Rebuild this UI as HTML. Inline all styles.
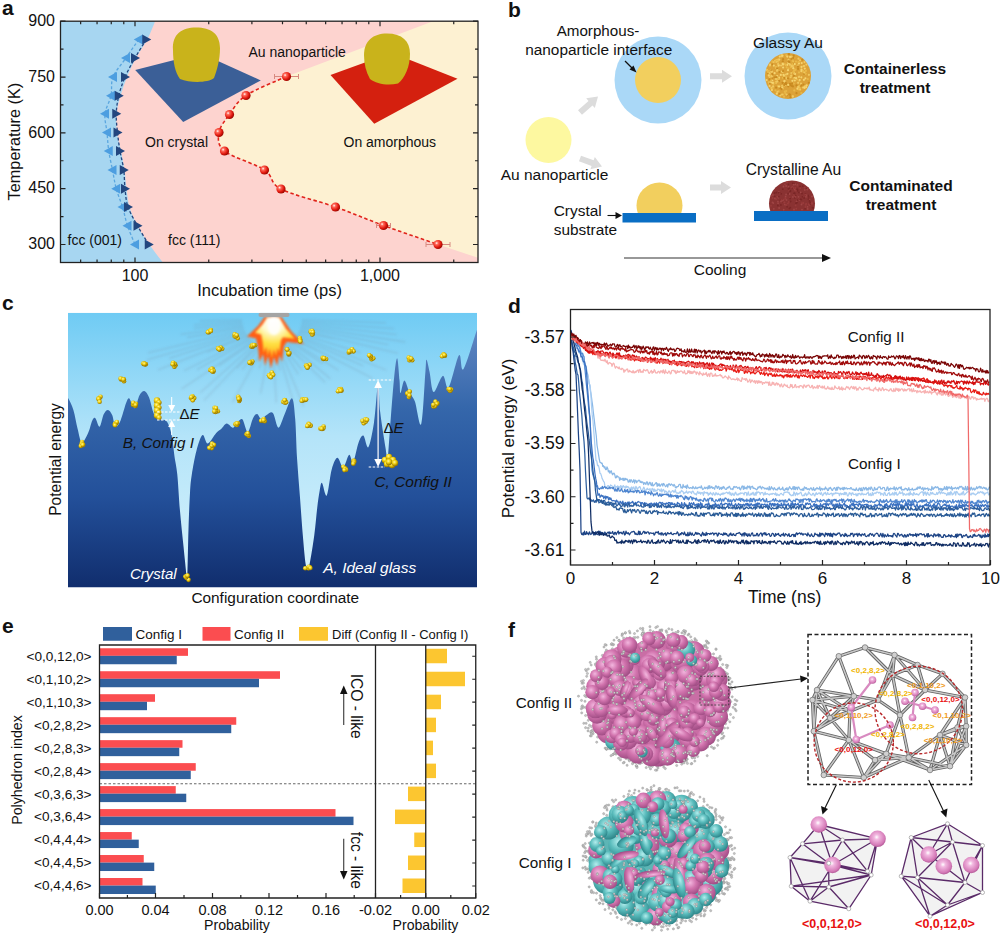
<!DOCTYPE html>
<html><head><meta charset="utf-8"><style>
html,body{margin:0;padding:0;background:#fff;width:1000px;height:935px;overflow:hidden}
svg{display:block;font-family:"Liberation Sans", sans-serif}
</style></head><body>
<svg width="1000" height="935" viewBox="0 0 1000 935">
<defs><clipPath id="clipa"><rect x="60.5" y="21.2" width="417.5" height="241.3"/></clipPath>
<radialGradient id="rdot" cx="35%" cy="35%" r="65%"><stop offset="0" stop-color="#fff"/><stop offset="0.25" stop-color="#ff6a5a"/><stop offset="0.7" stop-color="#e21a10"/><stop offset="1" stop-color="#a00800"/></radialGradient></defs>
<g clip-path="url(#clipa)">
<rect x="60.5" y="21.2" width="417.5" height="241.3" fill="#fdd3cf"/>
<path d="M55,19 L156.00,19.00 C154.67,22.17 151.33,31.50 148.00,38.00 C144.67,44.50 139.50,51.50 136.00,58.00 C132.50,64.50 129.58,70.67 127.00,77.00 C124.42,83.33 122.25,89.83 120.50,96.00 C118.75,102.17 117.08,107.83 116.50,114.00 C115.92,120.17 116.25,126.83 117.00,133.00 C117.75,139.17 119.75,144.83 121.00,151.00 C122.25,157.17 123.58,163.67 124.50,170.00 C125.42,176.33 125.67,182.83 126.50,189.00 C127.33,195.17 127.75,201.00 129.50,207.00 C131.25,213.00 133.75,218.83 137.00,225.00 C140.25,231.17 144.50,237.50 149.00,244.00 C153.50,250.50 161.50,260.67 164.00,264.00 L55,264 Z" fill="#a7d6f1"/>
<path d="M447,16 L286.50,76.50 C279.75,79.67 255.50,89.17 246.00,95.50 C236.50,101.83 234.00,108.33 229.50,114.50 C225.00,120.67 219.83,126.42 219.00,132.50 C218.17,138.58 216.92,144.75 224.50,151.00 C232.08,157.25 255.08,163.67 264.50,170.00 C273.92,176.33 269.17,182.83 281.00,189.00 C292.83,195.17 318.42,200.92 335.50,207.00 C352.58,213.08 366.42,219.25 383.50,225.50 C400.58,231.75 428.92,241.33 438.00,244.50 L480,258.5 L480,16 Z" fill="#fdf1d2"/>
<polygon points="135.2,70 200.8,53.2 260.8,80.4 183.2,122" fill="#3b5f97"/>
<path d="M173,50 C172,34 182,27.5 196,27.5 C211,27.5 220,34 220,48 C220,60 217,70 214,78 C208,83 190,83 180,79 C175,72 173,62 173,50 Z" fill="#c9b31b"/>
<polygon points="330.5,75 391.75,52.75 457.5,78.75 374.25,123.75" fill="#d4200f"/>
<path d="M364,55 C364,41 373,33.5 387,33.5 C402,33.5 410,41 410,54 C410,66 405,78 398,83.5 C388,86 376,84 370,79 C366,72 364,64 364,55 Z" fill="#c9b31b"/>
<path d="M286.50,76.50 C279.75,79.67 255.50,89.17 246.00,95.50 C236.50,101.83 234.00,108.33 229.50,114.50 C225.00,120.67 219.83,126.42 219.00,132.50 C218.17,138.58 216.92,144.75 224.50,151.00 C232.08,157.25 255.08,163.67 264.50,170.00 C273.92,176.33 269.17,182.83 281.00,189.00 C292.83,195.17 318.42,200.92 335.50,207.00 C352.58,213.08 366.42,219.25 383.50,225.50 C400.58,231.75 428.92,241.33 438.00,244.50" fill="none" stroke="#e0231a" stroke-width="1.6" stroke-dasharray="3.5,2.5"/>
<path d="M138.75,39.50 C136.62,42.58 130.29,51.75 126.00,58.00 C121.71,64.25 115.50,70.71 113.00,77.00 C110.50,83.29 112.33,89.62 111.00,95.75 C109.67,101.88 105.67,107.62 105.00,113.75 C104.33,119.88 106.38,126.29 107.00,132.50 C107.62,138.71 107.83,144.75 108.75,151.00 C109.67,157.25 111.25,163.71 112.50,170.00 C113.75,176.29 114.58,182.58 116.25,188.75 C117.92,194.92 120.62,200.83 122.50,207.00 C124.38,213.17 125.42,219.50 127.50,225.75 C129.58,232.00 133.75,241.38 135.00,244.50" fill="none" stroke="#5aa6df" stroke-width="1.3" stroke-dasharray="3,2"/>
<path d="M146.25,39.50 C144.38,42.58 138.54,51.75 135.00,58.00 C131.46,64.25 127.71,70.71 125.00,77.00 C122.29,83.29 120.21,89.62 118.75,95.75 C117.29,101.88 116.46,107.62 116.25,113.75 C116.04,119.88 116.88,126.29 117.50,132.50 C118.12,138.71 118.96,144.75 120.00,151.00 C121.04,157.25 122.92,163.71 123.75,170.00 C124.58,176.29 124.29,182.58 125.00,188.75 C125.71,194.92 125.92,200.83 128.00,207.00 C130.08,213.17 134.04,219.50 137.50,225.75 C140.96,232.00 146.88,241.38 148.75,244.50" fill="none" stroke="#24467e" stroke-width="1.3" stroke-dasharray="3,2"/>
<polygon points="133.75,39.50 142.75,34.50 142.75,44.50" fill="#4d9ee0"/>
<polygon points="121.00,58.00 130.00,53.00 130.00,63.00" fill="#4d9ee0"/>
<polygon points="108.00,77.00 117.00,72.00 117.00,82.00" fill="#4d9ee0"/>
<polygon points="106.00,95.75 115.00,90.75 115.00,100.75" fill="#4d9ee0"/>
<polygon points="100.00,113.75 109.00,108.75 109.00,118.75" fill="#4d9ee0"/>
<polygon points="102.00,132.50 111.00,127.50 111.00,137.50" fill="#4d9ee0"/>
<polygon points="103.75,151.00 112.75,146.00 112.75,156.00" fill="#4d9ee0"/>
<polygon points="107.50,170.00 116.50,165.00 116.50,175.00" fill="#4d9ee0"/>
<polygon points="111.25,188.75 120.25,183.75 120.25,193.75" fill="#4d9ee0"/>
<polygon points="117.50,207.00 126.50,202.00 126.50,212.00" fill="#4d9ee0"/>
<polygon points="122.50,225.75 131.50,220.75 131.50,230.75" fill="#4d9ee0"/>
<polygon points="130.00,244.50 139.00,239.50 139.00,249.50" fill="#4d9ee0"/>
<polygon points="151.25,39.50 142.25,34.50 142.25,44.50" fill="#22467f"/>
<polygon points="140.00,58.00 131.00,53.00 131.00,63.00" fill="#22467f"/>
<polygon points="130.00,77.00 121.00,72.00 121.00,82.00" fill="#22467f"/>
<polygon points="123.75,95.75 114.75,90.75 114.75,100.75" fill="#22467f"/>
<polygon points="121.25,113.75 112.25,108.75 112.25,118.75" fill="#22467f"/>
<polygon points="122.50,132.50 113.50,127.50 113.50,137.50" fill="#22467f"/>
<polygon points="125.00,151.00 116.00,146.00 116.00,156.00" fill="#22467f"/>
<polygon points="128.75,170.00 119.75,165.00 119.75,175.00" fill="#22467f"/>
<polygon points="130.00,188.75 121.00,183.75 121.00,193.75" fill="#22467f"/>
<polygon points="133.00,207.00 124.00,202.00 124.00,212.00" fill="#22467f"/>
<polygon points="142.50,225.75 133.50,220.75 133.50,230.75" fill="#22467f"/>
<polygon points="153.75,244.50 144.75,239.50 144.75,249.50" fill="#22467f"/>
<path d="M274.5,76.5 H298.5 M274.5,74.0 V79.0 M298.5,74.0 V79.0" stroke="#d88a80" stroke-width="1" fill="none"/>
<path d="M376.5,225.5 H390.5 M376.5,223.0 V228.0 M390.5,223.0 V228.0" stroke="#d88a80" stroke-width="1" fill="none"/>
<path d="M426.0,244.5 H450.0 M426.0,242.0 V247.0 M450.0,242.0 V247.0" stroke="#d88a80" stroke-width="1" fill="none"/>
<circle cx="286.50" cy="76.50" r="4.6" fill="url(#rdot)"/>
<circle cx="246.00" cy="95.50" r="4.6" fill="url(#rdot)"/>
<circle cx="229.50" cy="114.50" r="4.6" fill="url(#rdot)"/>
<circle cx="219.00" cy="132.50" r="4.6" fill="url(#rdot)"/>
<circle cx="224.50" cy="151.00" r="4.6" fill="url(#rdot)"/>
<circle cx="264.50" cy="170.00" r="4.6" fill="url(#rdot)"/>
<circle cx="281.00" cy="189.00" r="4.6" fill="url(#rdot)"/>
<circle cx="335.50" cy="207.00" r="4.6" fill="url(#rdot)"/>
<circle cx="383.50" cy="225.50" r="4.6" fill="url(#rdot)"/>
<circle cx="438.00" cy="244.50" r="4.6" fill="url(#rdot)"/>
</g>
<rect x="60.5" y="21.2" width="417.5" height="241.3" fill="none" stroke="#222" stroke-width="1.3"/>
<text x="55.00" y="26.00" font-size="16.00" text-anchor="end" font-weight="normal" font-style="normal" fill="#111" >900</text>
<text x="55.00" y="81.83" font-size="16.00" text-anchor="end" font-weight="normal" font-style="normal" fill="#111" >750</text>
<text x="55.00" y="137.65" font-size="16.00" text-anchor="end" font-weight="normal" font-style="normal" fill="#111" >600</text>
<text x="55.00" y="193.47" font-size="16.00" text-anchor="end" font-weight="normal" font-style="normal" fill="#111" >450</text>
<text x="55.00" y="249.30" font-size="16.00" text-anchor="end" font-weight="normal" font-style="normal" fill="#111" >300</text>
<path d="M60.5,21.20h5 M478.0,21.20h-5 M60.5,77.03h5 M478.0,77.03h-5 M60.5,132.85h5 M478.0,132.85h-5 M60.5,188.67h5 M478.0,188.67h-5 M60.5,244.50h5 M478.0,244.50h-5 M60.5,49.11h3 M478.0,49.11h-3 M60.5,104.94h3 M478.0,104.94h-3 M60.5,160.76h3 M478.0,160.76h-3 M60.5,216.59h3 M478.0,216.59h-3 M135.00,262.5v-5 M135.00,21.2v5 M380.00,262.5v-5 M380.00,21.2v5 M80.65,262.5v-3 M80.65,21.2v3 M97.05,262.5v-3 M97.05,21.2v3 M111.26,262.5v-3 M111.26,21.2v3 M123.79,262.5v-3 M123.79,21.2v3 M208.75,262.5v-3 M208.75,21.2v3 M251.89,262.5v-3 M251.89,21.2v3 M282.50,262.5v-3 M282.50,21.2v3 M306.25,262.5v-3 M306.25,21.2v3 M325.65,262.5v-3 M325.65,21.2v3 M342.05,262.5v-3 M342.05,21.2v3 M356.26,262.5v-3 M356.26,21.2v3 M368.79,262.5v-3 M368.79,21.2v3 M453.75,262.5v-3 M453.75,21.2v3" stroke="#222" stroke-width="1.2" fill="none"/>
<text x="135.00" y="280.50" font-size="16.00" text-anchor="middle" font-weight="normal" font-style="normal" fill="#111" >100</text>
<text x="380.00" y="280.50" font-size="16.00" text-anchor="middle" font-weight="normal" font-style="normal" fill="#111" >1,000</text>
<text x="269.60" y="295.60" font-size="16.50" text-anchor="middle" font-weight="normal" font-style="normal" fill="#111" >Incubation time (ps)</text>
<text x="0.00" y="0.00" font-size="16.30" text-anchor="middle" font-weight="normal" font-style="normal" fill="#111" transform="translate(19.8,141.6) rotate(-90)">Temperature (K)</text>
<text x="2.00" y="14.50" font-size="21.00" text-anchor="start" font-weight="bold" font-style="normal" fill="#111" >a</text>
<text x="145.00" y="147.00" font-size="14.00" text-anchor="start" font-weight="normal" font-style="normal" fill="#111" >On crystal</text>
<text x="248.50" y="56.50" font-size="14.00" text-anchor="start" font-weight="normal" font-style="normal" fill="#111" >Au nanoparticle</text>
<text x="343.50" y="147.00" font-size="14.00" text-anchor="start" font-weight="normal" font-style="normal" fill="#111" >On amorphous</text>
<text x="67.50" y="245.00" font-size="14.00" text-anchor="start" font-weight="normal" font-style="normal" fill="#111" >fcc (001)</text>
<text x="168.00" y="245.00" font-size="14.00" text-anchor="start" font-weight="normal" font-style="normal" fill="#111" >fcc (111)</text>
<defs><pattern id="gold" width="4" height="4" patternUnits="userSpaceOnUse"><rect width="4" height="4" fill="#e4ae3a"/><circle cx="1" cy="1" r="1" fill="#f3cf6a"/><circle cx="3" cy="3" r="0.8" fill="#c98f20"/></pattern>
<pattern id="maroon" width="3" height="3" patternUnits="userSpaceOnUse"><rect width="3" height="3" fill="#8d3434"/><circle cx="1" cy="1" r="0.7" fill="#a04848"/></pattern></defs>
<text x="508.00" y="16.75" font-size="21.00" text-anchor="start" font-weight="bold" font-style="normal" fill="#111" >b</text>
<circle cx="548.5" cy="140" r="23" fill="#fdf8a0"/>
<text x="554.50" y="180.00" font-size="15.50" text-anchor="middle" font-weight="normal" font-style="normal" fill="#111" >Au nanoparticle</text>
<polygon points="581.99,114.74 592.52,105.39 594.84,108.00 598.00,96.50 586.21,98.29 588.53,100.90 578.01,110.26" fill="#dcdcdc"/>
<polygon points="578.97,161.32 591.58,165.90 590.38,169.19 602.00,166.50 594.82,156.97 593.63,160.26 581.03,155.68" fill="#dcdcdc"/>
<polygon points="710.00,79.25 722.00,79.25 722.00,82.75 732.00,76.25 722.00,69.75 722.00,73.25 710.00,73.25" fill="#dcdcdc"/>
<polygon points="710.00,190.50 721.00,190.50 721.00,194.00 731.00,187.50 721.00,181.00 721.00,184.50 710.00,184.50" fill="#dcdcdc"/>
<circle cx="658" cy="80" r="43.5" fill="#aad8f7"/>
<circle cx="658" cy="80" r="23" fill="#f2cf5e"/>
<circle cx="788" cy="76" r="43.5" fill="#aad8f7"/>
<circle cx="788" cy="76" r="23" fill="#dca238"/>
<circle cx="772.3" cy="80.9" r="1.1" fill="#f5d470"/><circle cx="768.6" cy="82.1" r="1.1" fill="#e9b848"/><circle cx="794.3" cy="90.4" r="1.1" fill="#e9b848"/><circle cx="798.1" cy="82.8" r="1.1" fill="#f0c860"/><circle cx="767.9" cy="71.0" r="1.1" fill="#f0c860"/><circle cx="776.6" cy="68.2" r="1.1" fill="#f5d470"/><circle cx="778.2" cy="61.8" r="1.1" fill="#e9b848"/><circle cx="773.6" cy="62.0" r="1.1" fill="#f0c860"/><circle cx="796.9" cy="79.5" r="1.1" fill="#e9b848"/><circle cx="772.3" cy="64.6" r="1.1" fill="#c98a20"/><circle cx="769.2" cy="83.4" r="1.1" fill="#e9b848"/><circle cx="778.1" cy="64.0" r="1.1" fill="#f0c860"/><circle cx="776.8" cy="79.1" r="1.1" fill="#f0c860"/><circle cx="784.8" cy="64.1" r="1.1" fill="#e9b848"/><circle cx="784.2" cy="75.7" r="1.1" fill="#f0c860"/><circle cx="771.6" cy="87.9" r="1.1" fill="#f5d470"/><circle cx="790.6" cy="77.2" r="1.1" fill="#f0c860"/><circle cx="792.8" cy="96.6" r="1.1" fill="#f0c860"/><circle cx="766.6" cy="80.1" r="1.1" fill="#f5d470"/><circle cx="773.5" cy="84.0" r="1.1" fill="#e9b848"/><circle cx="790.0" cy="64.8" r="1.1" fill="#f0c860"/><circle cx="787.0" cy="78.5" r="1.1" fill="#f5d470"/><circle cx="788.4" cy="68.5" r="1.1" fill="#e9b848"/><circle cx="787.4" cy="73.8" r="1.1" fill="#f5d470"/><circle cx="790.7" cy="67.1" r="1.1" fill="#e9b848"/><circle cx="778.9" cy="79.1" r="1.1" fill="#e9b848"/><circle cx="776.1" cy="82.6" r="1.1" fill="#f5d470"/><circle cx="779.1" cy="80.8" r="1.1" fill="#c98a20"/><circle cx="802.3" cy="59.6" r="1.1" fill="#c98a20"/><circle cx="791.1" cy="76.0" r="1.1" fill="#e9b848"/><circle cx="772.0" cy="88.5" r="1.1" fill="#f0c860"/><circle cx="796.1" cy="78.2" r="1.1" fill="#f5d470"/><circle cx="787.0" cy="95.3" r="1.1" fill="#c98a20"/><circle cx="794.6" cy="64.0" r="1.1" fill="#f0c860"/><circle cx="802.2" cy="85.0" r="1.1" fill="#e9b848"/><circle cx="801.3" cy="77.3" r="1.1" fill="#f5d470"/><circle cx="799.8" cy="88.1" r="1.1" fill="#e9b848"/><circle cx="794.3" cy="69.0" r="1.1" fill="#e9b848"/><circle cx="784.1" cy="85.8" r="1.1" fill="#e9b848"/><circle cx="786.7" cy="67.3" r="1.1" fill="#e9b848"/><circle cx="782.7" cy="63.4" r="1.1" fill="#f5d470"/><circle cx="776.6" cy="67.4" r="1.1" fill="#f0c860"/><circle cx="800.2" cy="86.0" r="1.1" fill="#c98a20"/><circle cx="789.3" cy="94.4" r="1.1" fill="#c98a20"/><circle cx="769.6" cy="86.0" r="1.1" fill="#f5d470"/><circle cx="785.5" cy="84.9" r="1.1" fill="#f0c860"/><circle cx="798.7" cy="86.9" r="1.1" fill="#f0c860"/><circle cx="784.0" cy="96.7" r="1.1" fill="#e9b848"/><circle cx="788.0" cy="70.2" r="1.1" fill="#f5d470"/><circle cx="782.9" cy="77.8" r="1.1" fill="#e9b848"/><circle cx="784.8" cy="91.7" r="1.1" fill="#e9b848"/><circle cx="794.8" cy="80.5" r="1.1" fill="#f5d470"/><circle cx="805.7" cy="73.8" r="1.1" fill="#e9b848"/><circle cx="770.1" cy="64.7" r="1.1" fill="#f5d470"/><circle cx="803.6" cy="66.2" r="1.1" fill="#f0c860"/><circle cx="805.4" cy="78.3" r="1.1" fill="#f5d470"/><circle cx="799.2" cy="81.0" r="1.1" fill="#e9b848"/><circle cx="794.0" cy="76.0" r="1.1" fill="#c98a20"/><circle cx="786.3" cy="55.2" r="1.1" fill="#e9b848"/><circle cx="793.7" cy="55.7" r="1.1" fill="#c98a20"/><circle cx="801.0" cy="83.7" r="1.1" fill="#f0c860"/><circle cx="797.8" cy="65.7" r="1.1" fill="#f0c860"/><circle cx="798.9" cy="63.4" r="1.1" fill="#f5d470"/><circle cx="786.2" cy="77.7" r="1.1" fill="#f0c860"/><circle cx="803.4" cy="84.5" r="1.1" fill="#c98a20"/><circle cx="801.7" cy="63.1" r="1.1" fill="#f5d470"/><circle cx="804.8" cy="68.6" r="1.1" fill="#f5d470"/><circle cx="769.2" cy="83.4" r="1.1" fill="#f0c860"/><circle cx="772.3" cy="74.2" r="1.1" fill="#c98a20"/><circle cx="775.7" cy="66.9" r="1.1" fill="#e9b848"/><circle cx="795.1" cy="74.0" r="1.1" fill="#f5d470"/><circle cx="787.9" cy="78.3" r="1.1" fill="#c98a20"/><circle cx="798.7" cy="89.5" r="1.1" fill="#e9b848"/><circle cx="788.3" cy="63.1" r="1.1" fill="#f5d470"/><circle cx="777.2" cy="76.1" r="1.1" fill="#f5d470"/><circle cx="783.1" cy="67.5" r="1.1" fill="#f5d470"/><circle cx="794.3" cy="58.0" r="1.1" fill="#e9b848"/><circle cx="798.0" cy="66.7" r="1.1" fill="#c98a20"/><circle cx="790.0" cy="83.8" r="1.1" fill="#c98a20"/><circle cx="798.5" cy="58.7" r="1.1" fill="#f0c860"/><circle cx="799.0" cy="72.4" r="1.1" fill="#e9b848"/><circle cx="799.5" cy="85.8" r="1.1" fill="#e9b848"/><circle cx="794.6" cy="64.1" r="1.1" fill="#f5d470"/><circle cx="779.3" cy="59.6" r="1.1" fill="#f5d470"/><circle cx="779.4" cy="94.1" r="1.1" fill="#c98a20"/><circle cx="791.1" cy="72.8" r="1.1" fill="#c98a20"/><circle cx="777.0" cy="70.8" r="1.1" fill="#f0c860"/><circle cx="779.1" cy="65.2" r="1.1" fill="#e9b848"/><circle cx="807.8" cy="79.1" r="1.1" fill="#e9b848"/><circle cx="791.6" cy="56.7" r="1.1" fill="#f0c860"/><circle cx="771.5" cy="81.8" r="1.1" fill="#c98a20"/><circle cx="805.6" cy="71.3" r="1.1" fill="#e9b848"/><circle cx="793.0" cy="66.0" r="1.1" fill="#f0c860"/><circle cx="788.5" cy="59.9" r="1.1" fill="#f0c860"/><circle cx="792.9" cy="86.4" r="1.1" fill="#c98a20"/><circle cx="767.3" cy="70.7" r="1.1" fill="#e9b848"/><circle cx="772.6" cy="88.1" r="1.1" fill="#e9b848"/><circle cx="806.1" cy="87.1" r="1.1" fill="#f5d470"/><circle cx="798.1" cy="86.8" r="1.1" fill="#f0c860"/><circle cx="776.1" cy="87.6" r="1.1" fill="#c98a20"/><circle cx="770.7" cy="80.0" r="1.1" fill="#e9b848"/><circle cx="804.6" cy="87.9" r="1.1" fill="#f0c860"/><circle cx="792.8" cy="96.3" r="1.1" fill="#f0c860"/><circle cx="804.0" cy="73.7" r="1.1" fill="#c98a20"/><circle cx="786.6" cy="94.6" r="1.1" fill="#f0c860"/><circle cx="784.3" cy="81.2" r="1.1" fill="#f5d470"/><circle cx="780.2" cy="88.0" r="1.1" fill="#c98a20"/><circle cx="784.3" cy="76.3" r="1.1" fill="#f0c860"/><circle cx="784.3" cy="77.8" r="1.1" fill="#c98a20"/><circle cx="779.8" cy="56.6" r="1.1" fill="#f5d470"/><circle cx="797.4" cy="88.7" r="1.1" fill="#f5d470"/><circle cx="802.6" cy="70.8" r="1.1" fill="#f0c860"/><circle cx="788.7" cy="61.4" r="1.1" fill="#c98a20"/><circle cx="796.0" cy="61.6" r="1.1" fill="#e9b848"/><circle cx="768.0" cy="73.1" r="1.1" fill="#c98a20"/><circle cx="782.9" cy="88.6" r="1.1" fill="#e9b848"/><circle cx="785.2" cy="83.8" r="1.1" fill="#c98a20"/><circle cx="779.2" cy="71.6" r="1.1" fill="#f0c860"/><circle cx="770.9" cy="75.7" r="1.1" fill="#f0c860"/><circle cx="783.5" cy="74.9" r="1.1" fill="#f5d470"/><circle cx="766.9" cy="70.0" r="1.1" fill="#f0c860"/><circle cx="769.7" cy="77.0" r="1.1" fill="#f0c860"/><circle cx="801.5" cy="69.7" r="1.1" fill="#f5d470"/><circle cx="786.2" cy="91.0" r="1.1" fill="#e9b848"/><circle cx="776.8" cy="93.7" r="1.1" fill="#f5d470"/><circle cx="780.8" cy="74.9" r="1.1" fill="#f5d470"/><circle cx="772.4" cy="61.7" r="1.1" fill="#e9b848"/><circle cx="781.6" cy="55.2" r="1.1" fill="#f0c860"/><circle cx="791.6" cy="85.8" r="1.1" fill="#c98a20"/><circle cx="782.3" cy="87.8" r="1.1" fill="#f5d470"/><circle cx="802.9" cy="87.5" r="1.1" fill="#f0c860"/><circle cx="798.4" cy="62.1" r="1.1" fill="#e9b848"/><circle cx="781.8" cy="56.3" r="1.1" fill="#f0c860"/><circle cx="778.0" cy="86.0" r="1.1" fill="#e9b848"/><circle cx="768.1" cy="71.1" r="1.1" fill="#e9b848"/><circle cx="768.1" cy="72.2" r="1.1" fill="#e9b848"/><circle cx="790.1" cy="94.8" r="1.1" fill="#c98a20"/><circle cx="798.1" cy="68.9" r="1.1" fill="#c98a20"/><circle cx="795.5" cy="69.8" r="1.1" fill="#e9b848"/><circle cx="794.1" cy="70.8" r="1.1" fill="#e9b848"/><circle cx="792.4" cy="80.8" r="1.1" fill="#f5d470"/><circle cx="804.5" cy="87.5" r="1.1" fill="#f5d470"/><circle cx="770.2" cy="71.0" r="1.1" fill="#e9b848"/><circle cx="773.1" cy="86.4" r="1.1" fill="#f0c860"/><circle cx="801.7" cy="85.4" r="1.1" fill="#c98a20"/><circle cx="806.4" cy="64.6" r="1.1" fill="#f0c860"/><circle cx="783.1" cy="59.2" r="1.1" fill="#c98a20"/><circle cx="769.8" cy="75.7" r="1.1" fill="#e9b848"/><circle cx="793.0" cy="61.6" r="1.1" fill="#f0c860"/><circle cx="803.9" cy="79.8" r="1.1" fill="#f5d470"/><circle cx="793.7" cy="83.5" r="1.1" fill="#e9b848"/><circle cx="792.1" cy="83.7" r="1.1" fill="#c98a20"/><circle cx="794.1" cy="73.0" r="1.1" fill="#f0c860"/><circle cx="800.1" cy="89.6" r="1.1" fill="#f0c860"/><circle cx="789.2" cy="63.5" r="1.1" fill="#f5d470"/><circle cx="776.3" cy="81.8" r="1.1" fill="#e9b848"/><circle cx="786.0" cy="74.5" r="1.1" fill="#f0c860"/><circle cx="793.2" cy="68.2" r="1.1" fill="#f5d470"/><circle cx="779.5" cy="86.3" r="1.1" fill="#e9b848"/><circle cx="782.6" cy="71.9" r="1.1" fill="#f0c860"/><circle cx="785.1" cy="81.7" r="1.1" fill="#f5d470"/><circle cx="779.3" cy="71.9" r="1.1" fill="#c98a20"/><circle cx="791.8" cy="65.5" r="1.1" fill="#f0c860"/><circle cx="787.3" cy="56.6" r="1.1" fill="#f5d470"/><circle cx="796.5" cy="85.4" r="1.1" fill="#c98a20"/><circle cx="790.1" cy="56.9" r="1.1" fill="#f5d470"/><circle cx="790.5" cy="85.1" r="1.1" fill="#c98a20"/><circle cx="785.8" cy="82.6" r="1.1" fill="#c98a20"/><circle cx="808.9" cy="74.8" r="1.1" fill="#f0c860"/><circle cx="790.4" cy="97.2" r="1.1" fill="#c98a20"/><circle cx="778.6" cy="91.2" r="1.1" fill="#e9b848"/><circle cx="774.6" cy="73.2" r="1.1" fill="#f5d470"/><circle cx="776.5" cy="61.6" r="1.1" fill="#f5d470"/><circle cx="791.3" cy="75.6" r="1.1" fill="#f0c860"/><circle cx="787.2" cy="64.9" r="1.1" fill="#f5d470"/><circle cx="768.8" cy="75.4" r="1.1" fill="#f5d470"/><circle cx="799.2" cy="76.8" r="1.1" fill="#c98a20"/><circle cx="801.5" cy="66.9" r="1.1" fill="#f5d470"/><circle cx="804.2" cy="72.6" r="1.1" fill="#f0c860"/><circle cx="775.2" cy="60.9" r="1.1" fill="#f0c860"/><circle cx="770.9" cy="70.5" r="1.1" fill="#f0c860"/><circle cx="771.9" cy="90.0" r="1.1" fill="#f5d470"/><circle cx="779.1" cy="77.6" r="1.1" fill="#f5d470"/><circle cx="771.6" cy="71.6" r="1.1" fill="#f5d470"/><circle cx="801.4" cy="71.2" r="1.1" fill="#f5d470"/><circle cx="777.1" cy="68.3" r="1.1" fill="#c98a20"/><circle cx="776.6" cy="77.2" r="1.1" fill="#c98a20"/><circle cx="778.2" cy="59.7" r="1.1" fill="#f0c860"/><circle cx="798.8" cy="77.0" r="1.1" fill="#f0c860"/><circle cx="778.6" cy="65.6" r="1.1" fill="#f5d470"/><circle cx="799.7" cy="80.0" r="1.1" fill="#f5d470"/><circle cx="808.8" cy="82.8" r="1.1" fill="#c98a20"/><circle cx="806.7" cy="85.3" r="1.1" fill="#f5d470"/><circle cx="785.9" cy="65.2" r="1.1" fill="#e9b848"/><circle cx="794.6" cy="77.9" r="1.1" fill="#f5d470"/><circle cx="801.3" cy="93.0" r="1.1" fill="#e9b848"/><circle cx="782.1" cy="71.5" r="1.1" fill="#f5d470"/><circle cx="778.5" cy="78.7" r="1.1" fill="#f0c860"/><circle cx="782.6" cy="82.8" r="1.1" fill="#c98a20"/><circle cx="771.2" cy="82.3" r="1.1" fill="#f5d470"/><circle cx="773.8" cy="65.6" r="1.1" fill="#f5d470"/><circle cx="775.5" cy="90.3" r="1.1" fill="#e9b848"/><circle cx="806.0" cy="70.5" r="1.1" fill="#e9b848"/><circle cx="772.5" cy="77.8" r="1.1" fill="#c98a20"/><circle cx="791.7" cy="59.0" r="1.1" fill="#c98a20"/><circle cx="785.3" cy="93.0" r="1.1" fill="#e9b848"/><circle cx="775.2" cy="61.8" r="1.1" fill="#e9b848"/><circle cx="802.9" cy="71.4" r="1.1" fill="#e9b848"/><circle cx="791.2" cy="73.0" r="1.1" fill="#f0c860"/><circle cx="799.2" cy="76.7" r="1.1" fill="#f0c860"/><circle cx="783.0" cy="71.1" r="1.1" fill="#c98a20"/><circle cx="793.8" cy="78.8" r="1.1" fill="#e9b848"/><circle cx="771.4" cy="70.5" r="1.1" fill="#c98a20"/><circle cx="775.0" cy="77.3" r="1.1" fill="#c98a20"/><circle cx="777.5" cy="91.8" r="1.1" fill="#f0c860"/><circle cx="792.7" cy="62.1" r="1.1" fill="#e9b848"/><circle cx="770.1" cy="82.5" r="1.1" fill="#f5d470"/><circle cx="792.9" cy="63.6" r="1.1" fill="#c98a20"/><circle cx="783.1" cy="94.5" r="1.1" fill="#e9b848"/><circle cx="776.0" cy="81.9" r="1.1" fill="#f0c860"/><circle cx="775.8" cy="79.0" r="1.1" fill="#f0c860"/><circle cx="772.9" cy="82.9" r="1.1" fill="#f5d470"/><circle cx="782.1" cy="94.5" r="1.1" fill="#f0c860"/><circle cx="780.3" cy="95.5" r="1.1" fill="#f0c860"/><circle cx="782.8" cy="61.4" r="1.1" fill="#c98a20"/><circle cx="786.3" cy="84.1" r="1.1" fill="#c98a20"/><circle cx="781.1" cy="65.5" r="1.1" fill="#f0c860"/><circle cx="781.6" cy="89.1" r="1.1" fill="#c98a20"/><circle cx="769.8" cy="83.5" r="1.1" fill="#c98a20"/><circle cx="778.0" cy="78.7" r="1.1" fill="#e9b848"/><circle cx="805.3" cy="86.1" r="1.1" fill="#f0c860"/><circle cx="779.0" cy="86.5" r="1.1" fill="#f5d470"/><circle cx="793.4" cy="57.9" r="1.1" fill="#c98a20"/><circle cx="792.7" cy="60.5" r="1.1" fill="#e9b848"/><circle cx="796.5" cy="93.2" r="1.1" fill="#c98a20"/><circle cx="791.9" cy="66.4" r="1.1" fill="#f0c860"/><circle cx="772.1" cy="71.5" r="1.1" fill="#f0c860"/><circle cx="776.5" cy="60.0" r="1.1" fill="#f0c860"/><circle cx="777.4" cy="70.0" r="1.1" fill="#f0c860"/><circle cx="782.2" cy="85.9" r="1.1" fill="#f0c860"/><circle cx="793.2" cy="72.2" r="1.1" fill="#e9b848"/><circle cx="804.3" cy="87.4" r="1.1" fill="#f5d470"/><circle cx="788.3" cy="86.3" r="1.1" fill="#c98a20"/><circle cx="789.3" cy="62.2" r="1.1" fill="#c98a20"/><circle cx="792.5" cy="64.1" r="1.1" fill="#e9b848"/><circle cx="771.9" cy="76.6" r="1.1" fill="#f0c860"/><circle cx="782.5" cy="55.7" r="1.1" fill="#f5d470"/><circle cx="789.0" cy="54.2" r="1.1" fill="#c98a20"/><circle cx="800.0" cy="60.3" r="1.1" fill="#f0c860"/><circle cx="804.5" cy="62.1" r="1.1" fill="#f0c860"/><circle cx="769.7" cy="73.2" r="1.1" fill="#f0c860"/><circle cx="775.4" cy="82.7" r="1.1" fill="#e9b848"/><circle cx="788.2" cy="84.9" r="1.1" fill="#f5d470"/><circle cx="783.0" cy="64.6" r="1.1" fill="#f5d470"/><circle cx="777.4" cy="81.4" r="1.1" fill="#f0c860"/><circle cx="769.5" cy="79.4" r="1.1" fill="#c98a20"/><circle cx="776.4" cy="60.5" r="1.1" fill="#e9b848"/><circle cx="804.3" cy="66.0" r="1.1" fill="#f0c860"/><circle cx="769.9" cy="65.4" r="1.1" fill="#f0c860"/><circle cx="784.3" cy="85.0" r="1.1" fill="#c98a20"/>
<text x="598.00" y="36.25" font-size="15.20" text-anchor="middle" font-weight="normal" font-style="normal" fill="#111" >Amorphous-</text>
<text x="598.75" y="55.00" font-size="15.40" text-anchor="middle" font-weight="normal" font-style="normal" fill="#111" >nanoparticle interface</text>
<path d="M625,61 L633,69" stroke="#111" stroke-width="1.2"/><polygon points="636.5,72.5 629.5,69.5 633.5,65.5" fill="#111"/>
<text x="788.00" y="47.50" font-size="15.50" text-anchor="middle" font-weight="normal" font-style="normal" fill="#111" >Glassy Au</text>
<text x="895.00" y="74.25" font-size="15.50" text-anchor="middle" font-weight="bold" font-style="normal" fill="#111" >Containerless</text>
<text x="895.00" y="93.00" font-size="15.50" text-anchor="middle" font-weight="bold" font-style="normal" fill="#111" >treatment</text>
<clipPath id="dome1"><rect x="600" y="150" width="120" height="63"/></clipPath>
<circle cx="659.5" cy="205.5" r="23" fill="#f2cf5e" clip-path="url(#dome1)"/>
<rect x="622.5" y="213" width="73.5" height="9.5" fill="#0a6ec4"/>
<clipPath id="dome2"><rect x="740" y="150" width="120" height="61"/></clipPath>
<circle cx="792" cy="203.5" r="23" fill="#8a3232" clip-path="url(#dome2)"/>
<circle cx="788.5" cy="186.9" r="0.9" fill="#a04646"/><circle cx="808.1" cy="196.8" r="0.9" fill="#9a3c3c"/><circle cx="780.9" cy="204.9" r="0.9" fill="#7a2626"/><circle cx="803.0" cy="196.9" r="0.9" fill="#9a3c3c"/><circle cx="792.9" cy="196.9" r="0.9" fill="#a04646"/><circle cx="783.7" cy="209.6" r="0.9" fill="#a04646"/><circle cx="796.3" cy="190.6" r="0.9" fill="#9a3c3c"/><circle cx="797.4" cy="184.9" r="0.9" fill="#a04646"/><circle cx="786.1" cy="194.5" r="0.9" fill="#a04646"/><circle cx="806.7" cy="188.6" r="0.9" fill="#7a2626"/><circle cx="797.4" cy="185.7" r="0.9" fill="#9a3c3c"/><circle cx="802.0" cy="193.5" r="0.9" fill="#7a2626"/><circle cx="794.9" cy="196.1" r="0.9" fill="#9a3c3c"/><circle cx="803.3" cy="203.0" r="0.9" fill="#9a3c3c"/><circle cx="807.7" cy="208.9" r="0.9" fill="#a04646"/><circle cx="811.9" cy="203.7" r="0.9" fill="#a04646"/><circle cx="794.8" cy="197.8" r="0.9" fill="#7a2626"/><circle cx="780.0" cy="192.9" r="0.9" fill="#7a2626"/><circle cx="789.8" cy="197.6" r="0.9" fill="#9a3c3c"/><circle cx="774.6" cy="193.0" r="0.9" fill="#7a2626"/><circle cx="801.5" cy="204.6" r="0.9" fill="#a04646"/><circle cx="797.7" cy="200.2" r="0.9" fill="#7a2626"/><circle cx="783.4" cy="202.1" r="0.9" fill="#7a2626"/><circle cx="771.4" cy="195.9" r="0.9" fill="#9a3c3c"/><circle cx="789.1" cy="190.6" r="0.9" fill="#9a3c3c"/><circle cx="783.5" cy="186.5" r="0.9" fill="#a04646"/><circle cx="790.6" cy="201.5" r="0.9" fill="#7a2626"/><circle cx="788.4" cy="188.8" r="0.9" fill="#7a2626"/><circle cx="778.3" cy="197.7" r="0.9" fill="#a04646"/><circle cx="804.5" cy="187.6" r="0.9" fill="#9a3c3c"/><circle cx="780.4" cy="200.5" r="0.9" fill="#7a2626"/><circle cx="792.5" cy="187.1" r="0.9" fill="#a04646"/><circle cx="790.5" cy="191.0" r="0.9" fill="#7a2626"/><circle cx="774.7" cy="196.3" r="0.9" fill="#7a2626"/><circle cx="779.1" cy="208.0" r="0.9" fill="#a04646"/><circle cx="796.3" cy="208.7" r="0.9" fill="#9a3c3c"/><circle cx="785.6" cy="196.7" r="0.9" fill="#a04646"/><circle cx="786.5" cy="199.9" r="0.9" fill="#a04646"/><circle cx="813.4" cy="207.9" r="0.9" fill="#7a2626"/><circle cx="787.1" cy="206.8" r="0.9" fill="#7a2626"/><circle cx="799.4" cy="199.9" r="0.9" fill="#a04646"/><circle cx="794.1" cy="183.7" r="0.9" fill="#7a2626"/><circle cx="771.0" cy="205.8" r="0.9" fill="#9a3c3c"/><circle cx="805.9" cy="204.8" r="0.9" fill="#9a3c3c"/><circle cx="781.0" cy="201.4" r="0.9" fill="#a04646"/><circle cx="772.5" cy="202.4" r="0.9" fill="#a04646"/><circle cx="785.3" cy="197.9" r="0.9" fill="#9a3c3c"/><circle cx="805.4" cy="194.2" r="0.9" fill="#7a2626"/><circle cx="780.0" cy="193.3" r="0.9" fill="#9a3c3c"/><circle cx="787.0" cy="182.2" r="0.9" fill="#9a3c3c"/><circle cx="810.5" cy="203.3" r="0.9" fill="#a04646"/><circle cx="788.7" cy="202.0" r="0.9" fill="#9a3c3c"/><circle cx="794.0" cy="209.5" r="0.9" fill="#a04646"/><circle cx="777.9" cy="205.5" r="0.9" fill="#7a2626"/><circle cx="776.1" cy="199.1" r="0.9" fill="#9a3c3c"/><circle cx="799.8" cy="198.9" r="0.9" fill="#9a3c3c"/><circle cx="811.9" cy="202.5" r="0.9" fill="#9a3c3c"/><circle cx="810.2" cy="203.9" r="0.9" fill="#7a2626"/><circle cx="796.6" cy="195.2" r="0.9" fill="#9a3c3c"/><circle cx="797.6" cy="189.8" r="0.9" fill="#7a2626"/><circle cx="808.6" cy="196.9" r="0.9" fill="#7a2626"/><circle cx="792.8" cy="183.3" r="0.9" fill="#7a2626"/><circle cx="778.8" cy="191.8" r="0.9" fill="#a04646"/><circle cx="807.6" cy="206.8" r="0.9" fill="#a04646"/><circle cx="783.7" cy="199.6" r="0.9" fill="#9a3c3c"/><circle cx="796.6" cy="201.4" r="0.9" fill="#a04646"/><circle cx="788.5" cy="184.3" r="0.9" fill="#7a2626"/><circle cx="808.5" cy="199.2" r="0.9" fill="#7a2626"/><circle cx="806.1" cy="194.9" r="0.9" fill="#7a2626"/><circle cx="792.2" cy="188.2" r="0.9" fill="#7a2626"/><circle cx="802.7" cy="186.2" r="0.9" fill="#7a2626"/><circle cx="795.4" cy="196.8" r="0.9" fill="#a04646"/><circle cx="805.2" cy="194.6" r="0.9" fill="#9a3c3c"/><circle cx="777.9" cy="201.7" r="0.9" fill="#a04646"/><circle cx="789.8" cy="208.1" r="0.9" fill="#9a3c3c"/><circle cx="781.2" cy="193.8" r="0.9" fill="#7a2626"/><circle cx="776.4" cy="192.5" r="0.9" fill="#7a2626"/><circle cx="807.2" cy="189.6" r="0.9" fill="#a04646"/><circle cx="778.1" cy="203.3" r="0.9" fill="#a04646"/><circle cx="784.9" cy="204.6" r="0.9" fill="#a04646"/><circle cx="774.9" cy="198.5" r="0.9" fill="#a04646"/><circle cx="808.0" cy="188.4" r="0.9" fill="#9a3c3c"/><circle cx="809.6" cy="199.7" r="0.9" fill="#9a3c3c"/><circle cx="772.9" cy="195.0" r="0.9" fill="#a04646"/><circle cx="784.1" cy="202.5" r="0.9" fill="#9a3c3c"/><circle cx="778.8" cy="196.7" r="0.9" fill="#7a2626"/><circle cx="789.5" cy="208.4" r="0.9" fill="#7a2626"/><circle cx="797.5" cy="190.8" r="0.9" fill="#7a2626"/><circle cx="788.3" cy="193.6" r="0.9" fill="#7a2626"/><circle cx="812.5" cy="207.6" r="0.9" fill="#7a2626"/><circle cx="795.2" cy="184.4" r="0.9" fill="#a04646"/><circle cx="790.1" cy="198.5" r="0.9" fill="#7a2626"/><circle cx="798.9" cy="192.4" r="0.9" fill="#7a2626"/><circle cx="809.4" cy="205.3" r="0.9" fill="#9a3c3c"/><circle cx="801.9" cy="203.2" r="0.9" fill="#9a3c3c"/><circle cx="809.5" cy="200.9" r="0.9" fill="#7a2626"/><circle cx="790.1" cy="191.3" r="0.9" fill="#7a2626"/><circle cx="804.7" cy="189.9" r="0.9" fill="#a04646"/><circle cx="794.6" cy="189.6" r="0.9" fill="#a04646"/><circle cx="789.6" cy="194.0" r="0.9" fill="#a04646"/><circle cx="789.1" cy="188.2" r="0.9" fill="#7a2626"/><circle cx="795.4" cy="190.5" r="0.9" fill="#9a3c3c"/><circle cx="784.6" cy="202.4" r="0.9" fill="#9a3c3c"/><circle cx="808.1" cy="195.5" r="0.9" fill="#7a2626"/><circle cx="786.1" cy="204.9" r="0.9" fill="#9a3c3c"/><circle cx="808.8" cy="204.2" r="0.9" fill="#9a3c3c"/><circle cx="802.0" cy="209.6" r="0.9" fill="#a04646"/><circle cx="782.9" cy="200.7" r="0.9" fill="#a04646"/><circle cx="796.0" cy="203.2" r="0.9" fill="#7a2626"/><circle cx="806.6" cy="195.1" r="0.9" fill="#a04646"/><circle cx="806.0" cy="196.8" r="0.9" fill="#a04646"/><circle cx="802.5" cy="196.8" r="0.9" fill="#7a2626"/><circle cx="795.3" cy="188.0" r="0.9" fill="#9a3c3c"/><circle cx="800.2" cy="188.0" r="0.9" fill="#9a3c3c"/><circle cx="791.4" cy="187.5" r="0.9" fill="#9a3c3c"/><circle cx="793.7" cy="194.7" r="0.9" fill="#9a3c3c"/><circle cx="781.4" cy="200.2" r="0.9" fill="#9a3c3c"/><circle cx="794.7" cy="193.2" r="0.9" fill="#7a2626"/><circle cx="772.5" cy="197.9" r="0.9" fill="#9a3c3c"/><circle cx="787.9" cy="203.5" r="0.9" fill="#9a3c3c"/><circle cx="797.0" cy="202.6" r="0.9" fill="#7a2626"/><circle cx="798.5" cy="196.8" r="0.9" fill="#a04646"/><circle cx="778.7" cy="192.7" r="0.9" fill="#7a2626"/><circle cx="773.3" cy="203.1" r="0.9" fill="#a04646"/><circle cx="777.3" cy="196.7" r="0.9" fill="#9a3c3c"/><circle cx="790.3" cy="207.7" r="0.9" fill="#7a2626"/><circle cx="800.0" cy="186.4" r="0.9" fill="#7a2626"/><circle cx="793.5" cy="188.0" r="0.9" fill="#9a3c3c"/><circle cx="795.9" cy="195.3" r="0.9" fill="#7a2626"/><circle cx="782.8" cy="189.2" r="0.9" fill="#7a2626"/><circle cx="805.1" cy="208.8" r="0.9" fill="#7a2626"/><circle cx="786.1" cy="186.0" r="0.9" fill="#a04646"/><circle cx="785.5" cy="198.7" r="0.9" fill="#9a3c3c"/><circle cx="773.8" cy="208.8" r="0.9" fill="#a04646"/><circle cx="806.1" cy="203.8" r="0.9" fill="#9a3c3c"/><circle cx="795.6" cy="205.4" r="0.9" fill="#9a3c3c"/><circle cx="793.6" cy="184.7" r="0.9" fill="#a04646"/><circle cx="800.7" cy="192.3" r="0.9" fill="#a04646"/><circle cx="804.1" cy="198.0" r="0.9" fill="#7a2626"/><circle cx="812.0" cy="196.5" r="0.9" fill="#a04646"/><circle cx="805.5" cy="206.9" r="0.9" fill="#9a3c3c"/><circle cx="810.9" cy="202.9" r="0.9" fill="#9a3c3c"/><circle cx="785.0" cy="184.3" r="0.9" fill="#9a3c3c"/><circle cx="800.2" cy="199.2" r="0.9" fill="#7a2626"/><circle cx="801.3" cy="199.5" r="0.9" fill="#7a2626"/><circle cx="794.0" cy="193.5" r="0.9" fill="#7a2626"/><circle cx="797.1" cy="189.1" r="0.9" fill="#7a2626"/><circle cx="810.1" cy="202.7" r="0.9" fill="#7a2626"/>
<rect x="754" y="211" width="74" height="10" fill="#0a6ec4"/>
<text x="553.75" y="216.25" font-size="15.40" text-anchor="start" font-weight="normal" font-style="normal" fill="#111" >Crystal</text>
<text x="553.75" y="234.50" font-size="15.40" text-anchor="start" font-weight="normal" font-style="normal" fill="#111" >substrate</text>
<path d="M607.5,215.5 H617" stroke="#111" stroke-width="1.1"/><polygon points="622,215.5 615.5,212 615.5,219" fill="#111"/>
<text x="793.50" y="175.00" font-size="15.60" text-anchor="middle" font-weight="normal" font-style="normal" fill="#111" >Crystalline Au</text>
<text x="901.00" y="191.25" font-size="15.50" text-anchor="middle" font-weight="bold" font-style="normal" fill="#111" >Contaminated</text>
<text x="901.00" y="209.50" font-size="15.50" text-anchor="middle" font-weight="bold" font-style="normal" fill="#111" >treatment</text>
<path d="M624,258 H823" stroke="#333" stroke-width="1.1"/><polygon points="831,258 822,254 822,262" fill="#111"/>
<text x="720.00" y="275.00" font-size="15.50" text-anchor="middle" font-weight="normal" font-style="normal" fill="#111" >Cooling</text>
<defs><linearGradient id="sky" x1="0" y1="0" x2="0" y2="1"><stop offset="0" stop-color="#6fcbf4"/><stop offset="0.45" stop-color="#b4e4f9"/><stop offset="1" stop-color="#d8f3fc"/></linearGradient>
<linearGradient id="land" gradientUnits="userSpaceOnUse" x1="0" y1="330" x2="0" y2="586"><stop offset="0" stop-color="#5f86c2"/><stop offset="0.3" stop-color="#3567ab"/><stop offset="0.65" stop-color="#23509a"/><stop offset="1" stop-color="#112e6e"/></linearGradient>
<radialGradient id="gball" cx="40%" cy="35%" r="60%"><stop offset="0" stop-color="#fff6a0"/><stop offset="0.5" stop-color="#f0d010"/><stop offset="1" stop-color="#9a7a00"/></radialGradient>
<radialGradient id="boom" cx="50%" cy="25%" r="70%"><stop offset="0" stop-color="#ffffff"/><stop offset="0.2" stop-color="#fff8b0"/><stop offset="0.45" stop-color="#ffc020"/><stop offset="0.75" stop-color="#ff6010"/><stop offset="1" stop-color="#ff5010" stop-opacity="0"/></radialGradient>
<clipPath id="clipc"><rect x="68" y="312.8" width="409" height="274.40000000000003"/></clipPath></defs>
<g clip-path="url(#clipc)">
<rect x="68" y="312.8" width="409" height="274.40000000000003" fill="url(#sky)"/>
<path d="M66.00,396.00 C66.37,396.38 66.97,395.98 68.20,398.30 C69.43,400.62 71.83,404.82 73.40,409.90 C74.97,414.98 76.20,423.38 77.60,428.80 C79.00,434.22 80.05,441.70 81.80,442.40 C83.55,443.10 86.35,436.67 88.10,433.00 C89.85,429.33 91.08,422.85 92.30,420.40 C93.52,417.95 94.18,417.25 95.40,418.30 C96.62,419.35 98.20,427.40 99.60,426.70 C101.00,426.00 102.40,416.90 103.80,414.10 C105.20,411.30 106.60,409.73 108.00,409.90 C109.40,410.07 110.97,412.30 112.20,415.10 C113.43,417.90 114.00,425.82 115.40,426.70 C116.80,427.58 118.85,424.25 120.60,420.40 C122.35,416.55 124.50,407.28 125.90,403.60 C127.30,399.92 127.95,398.13 129.00,398.30 C130.05,398.47 131.15,403.02 132.20,404.60 C133.25,406.18 134.08,409.37 135.30,407.80 C136.52,406.23 137.98,398.00 139.50,395.20 C141.02,392.40 142.82,390.65 144.40,391.00 C145.98,391.35 147.53,393.80 149.00,397.30 C150.47,400.80 151.80,408.33 153.20,412.00 C154.60,415.67 155.30,417.90 157.40,419.30 C159.50,420.70 163.70,418.82 165.80,420.40 C167.90,421.98 168.88,425.53 170.00,428.80 C171.12,432.07 171.75,435.40 172.50,440.00 C173.25,444.60 173.70,450.65 174.50,456.40 C175.30,462.15 176.38,465.40 177.30,474.50 C178.22,483.60 178.95,498.87 180.00,511.00 C181.05,523.13 182.50,536.47 183.60,547.30 C184.70,558.13 185.97,571.22 186.60,576.00 C187.23,580.78 187.08,583.83 187.40,576.00 C187.72,568.17 188.07,542.88 188.50,529.00 C188.93,515.12 189.45,501.78 190.00,492.70 C190.55,483.62 190.73,481.47 191.80,474.50 C192.87,467.53 194.62,457.47 196.40,450.90 C198.18,444.33 200.60,436.33 202.50,435.10 C204.40,433.87 205.52,443.85 207.80,443.50 C210.08,443.15 213.93,435.45 216.20,433.00 C218.47,430.55 219.65,430.38 221.40,428.80 C223.15,427.22 224.77,423.68 226.70,423.50 C228.63,423.32 231.25,427.87 233.00,427.70 C234.75,427.53 235.63,423.90 237.20,422.50 C238.77,421.10 240.65,417.72 242.40,419.30 C244.15,420.88 245.93,432.17 247.70,432.00 C249.47,431.83 251.43,421.28 253.00,418.30 C254.57,415.32 255.72,413.93 257.10,414.10 C258.48,414.27 259.72,419.13 261.30,419.30 C262.88,419.47 264.67,416.15 266.60,415.10 C268.53,414.05 270.93,410.90 272.90,413.00 C274.87,415.10 276.43,427.52 278.40,427.70 C280.37,427.88 282.43,419.00 284.70,414.10 C286.97,409.20 290.25,397.48 292.00,398.30 C293.75,399.12 294.37,409.08 295.20,419.00 C296.03,428.92 296.22,444.92 297.00,457.80 C297.78,470.68 298.93,483.45 299.90,496.30 C300.87,509.15 301.85,523.65 302.80,534.90 C303.75,546.15 304.80,558.45 305.60,563.80 C306.40,569.15 306.93,566.97 307.60,567.00 C308.27,567.03 308.48,569.35 309.60,564.00 C310.72,558.65 313.03,544.25 314.30,534.90 C315.57,525.55 316.30,515.28 317.20,507.90 C318.10,500.52 318.90,494.77 319.70,490.60 C320.50,486.43 320.82,482.10 322.00,482.90 C323.18,483.70 325.18,497.65 326.80,495.40 C328.42,493.15 329.93,475.67 331.70,469.40 C333.47,463.13 335.48,458.13 337.40,457.80 C339.32,457.47 341.27,467.88 343.20,467.40 C345.13,466.92 347.33,455.85 349.00,454.90 C350.67,453.95 351.60,463.78 353.20,461.70 C354.80,459.62 356.90,446.75 358.60,442.40 C360.30,438.05 361.78,434.80 363.40,435.60 C365.02,436.40 366.53,449.38 368.30,447.20 C370.07,445.02 372.37,433.03 374.00,422.50 C375.63,411.97 377.07,385.75 378.10,384.00 C379.13,382.25 378.97,401.38 380.20,412.00 C381.43,422.62 384.27,440.00 385.50,447.70 C386.73,455.40 386.90,460.65 387.60,458.20 C388.30,455.75 388.65,446.03 389.70,433.00 C390.75,419.97 392.67,392.45 393.90,380.00 C395.13,367.55 396.17,358.30 397.10,358.30 C398.03,358.30 398.93,374.22 399.50,380.00 C400.07,385.78 399.68,392.92 400.50,393.00 C401.32,393.08 402.88,380.48 404.40,380.50 C405.92,380.52 407.85,389.60 409.60,393.10 C411.35,396.60 412.97,396.35 414.90,401.50 C416.83,406.65 419.45,428.92 421.20,424.00 C422.95,419.08 424.52,382.72 425.40,372.00 C426.28,361.28 425.80,359.70 426.50,359.70 C427.20,359.70 428.42,366.62 429.60,372.00 C430.78,377.38 431.40,391.35 433.60,392.00 C435.80,392.65 440.30,376.67 442.80,375.90 C445.30,375.13 445.90,390.85 448.60,387.40 C451.30,383.95 456.52,358.27 459.00,355.20 C461.48,352.13 460.52,373.22 463.50,369.00 C466.48,364.78 474.15,337.73 476.90,329.90 C479.65,322.07 479.48,323.32 480.00,322.00 L480,590 L64,590 Z" fill="url(#land)" stroke="none"/>
<filter id="blr" filterUnits="userSpaceOnUse" x="60" y="300" width="430" height="300"><feGaussianBlur stdDeviation="1.2"/></filter>
<filter id="blr2" filterUnits="userSpaceOnUse" x="60" y="300" width="430" height="300"><feGaussianBlur stdDeviation="0.8"/></filter>
<path d="M301.9,319.9 L386.0,322.8 M301.7,321.9 L394.1,328.6 M301.4,323.9 L396.7,334.6 M301.0,325.8 L405.4,342.0 M300.4,327.7 L388.3,344.6 M299.7,329.6 L398.0,353.3 M298.8,331.5 L334.3,338.8 M297.9,333.2 L360.3,352.6 M296.8,334.9 L386.2,370.0 M295.6,336.5 L363.3,365.9 M294.3,338.1 L372.4,378.3 M292.9,339.5 L324.9,354.3 M291.4,340.9 L338.4,370.2 M289.8,342.1 L323.1,364.1 M288.2,343.3 L330.4,378.8 M286.5,344.3 L325.3,382.6 M284.7,345.2 L300.9,359.4 M282.8,346.0 L302.2,370.1 M280.9,346.6 L298.3,374.3 M279.0,347.2 L303.7,406.3 M277.0,347.6 L292.8,400.1 M275.0,347.8 L280.0,370.7 M273.0,348.0 L276.3,402.8 M271.0,348.0 L269.4,369.9 M269.0,347.8 L260.6,393.5 M267.0,347.6 L259.2,368.6 M265.0,347.2 L256.3,361.9 M263.1,346.6 L232.5,402.6 M261.2,346.0 L242.0,369.7 M259.3,345.2 L236.7,368.6 M257.5,344.3 L204.0,400.5 M255.8,343.3 L200.3,392.6 M254.2,342.1 L219.0,365.8 M252.6,340.9 L181.7,389.0 M251.1,339.5 L196.8,369.6 M249.7,338.1 L184.1,370.8 M248.4,336.5 L206.8,352.1 M247.2,334.9 L158.0,369.9 M246.1,333.2 L169.2,358.3 M245.2,331.5 L146.9,359.8 M244.3,329.6 L148.0,352.8 M243.6,327.7 L187.0,337.5 M243.0,325.8 L180.7,334.4 M242.6,323.9 L193.6,328.4 M242.3,321.9 L194.2,324.8 M242.1,319.9 L199.8,321.0" stroke="#6a7f90" stroke-opacity="0.16" stroke-width="1.8" fill="none" filter="url(#blr)"/>
<radialGradient id="boom2" gradientUnits="userSpaceOnUse" cx="273" cy="321" r="46" fx="273" fy="321"><stop offset="0" stop-color="#ffffff"/><stop offset="0.25" stop-color="#fffbd0"/><stop offset="0.5" stop-color="#ffe040"/><stop offset="0.75" stop-color="#ffb020"/><stop offset="1" stop-color="#ff8018"/></radialGradient>
<polygon points="264.5,317.0 258.0,326.0 246.9,336.4 256.0,338.5 258.0,348.0 259.5,362.0 263.0,354.0 265.0,366.0 268.0,356.0 271.0,368.5 274.0,357.0 277.0,366.0 279.5,355.0 282.0,362.0 284.0,346.0 287.0,342.0 304.0,344.0 291.0,331.0 281.5,317.0" fill="#ff5e12" filter="url(#blr2)"/>
<polygon points="267.2,317.2 262.6,324.4 254.9,332.7 261.2,334.4 262.6,342.0 263.7,353.2 266.1,346.8 267.6,356.4 269.6,348.4 271.8,358.4 273.9,349.2 275.9,356.4 277.7,347.6 279.4,353.2 280.9,340.4 282.9,337.2 294.9,338.8 285.8,328.4 279.1,317.2" fill="url(#boom2)" filter="url(#blr)"/>
<ellipse cx="274" cy="326" rx="6.5" ry="9" fill="#fff" opacity="0.85" filter="url(#blr)"/>
<rect x="258.5" y="312.8" width="31" height="4.2" rx="2" fill="#a4a4a4"/>
<g fill="url(#gball)"><circle cx="210.85" cy="330.03" r="2.29"/><circle cx="208.93" cy="332.27" r="2.29"/><circle cx="208.40" cy="331.82" r="2.29"/><circle cx="209.79" cy="331.02" r="2.29"/><circle cx="207.89" cy="332.16" r="2.29"/><circle cx="210.85" cy="331.08" r="2.29"/></g>
<g fill="url(#gball)"><circle cx="237.67" cy="338.18" r="2.29"/><circle cx="236.06" cy="335.55" r="2.29"/><circle cx="234.67" cy="336.34" r="2.29"/><circle cx="234.64" cy="334.39" r="2.29"/><circle cx="236.07" cy="336.35" r="2.29"/><circle cx="236.66" cy="335.20" r="2.29"/></g>
<g fill="url(#gball)"><circle cx="222.21" cy="348.72" r="2.29"/><circle cx="219.74" cy="349.59" r="2.29"/><circle cx="220.61" cy="347.62" r="2.29"/><circle cx="219.06" cy="348.70" r="2.29"/><circle cx="218.08" cy="348.39" r="2.29"/><circle cx="219.09" cy="349.27" r="2.29"/></g>
<g fill="url(#gball)"><circle cx="252.62" cy="346.71" r="2.29"/><circle cx="251.27" cy="346.41" r="2.29"/><circle cx="252.36" cy="344.96" r="2.29"/><circle cx="254.98" cy="345.31" r="2.29"/><circle cx="252.46" cy="345.79" r="2.29"/><circle cx="253.90" cy="345.06" r="2.29"/></g>
<g fill="url(#gball)"><circle cx="250.33" cy="363.01" r="2.29"/><circle cx="249.93" cy="362.98" r="2.29"/><circle cx="251.39" cy="363.18" r="2.29"/><circle cx="252.36" cy="361.52" r="2.29"/><circle cx="250.36" cy="362.04" r="2.29"/><circle cx="249.50" cy="362.51" r="2.29"/></g>
<g fill="url(#gball)"><circle cx="210.22" cy="369.97" r="2.29"/><circle cx="212.58" cy="368.81" r="2.29"/><circle cx="211.62" cy="368.77" r="2.29"/><circle cx="213.16" cy="371.75" r="2.29"/><circle cx="213.60" cy="370.82" r="2.29"/><circle cx="212.07" cy="371.30" r="2.29"/></g>
<g fill="url(#gball)"><circle cx="271.85" cy="372.45" r="2.29"/><circle cx="270.43" cy="374.87" r="2.29"/><circle cx="273.17" cy="374.81" r="2.29"/><circle cx="268.98" cy="375.22" r="2.29"/><circle cx="269.60" cy="376.44" r="2.29"/><circle cx="270.86" cy="377.16" r="2.29"/></g>
<g fill="url(#gball)"><circle cx="144.10" cy="364.20" r="2.29"/><circle cx="144.17" cy="363.63" r="2.29"/><circle cx="143.24" cy="363.56" r="2.29"/><circle cx="145.71" cy="364.34" r="2.29"/><circle cx="145.55" cy="364.10" r="2.29"/><circle cx="144.54" cy="363.91" r="2.29"/></g>
<g fill="url(#gball)"><circle cx="174.42" cy="366.63" r="2.29"/><circle cx="175.47" cy="365.29" r="2.29"/><circle cx="174.63" cy="364.17" r="2.29"/><circle cx="174.62" cy="363.79" r="2.29"/><circle cx="173.14" cy="362.74" r="2.29"/><circle cx="172.59" cy="364.23" r="2.29"/></g>
<g fill="url(#gball)"><circle cx="121.22" cy="379.46" r="2.29"/><circle cx="123.96" cy="381.17" r="2.29"/><circle cx="123.79" cy="379.26" r="2.29"/><circle cx="122.49" cy="379.06" r="2.29"/><circle cx="120.57" cy="378.59" r="2.29"/><circle cx="123.39" cy="379.49" r="2.29"/></g>
<g fill="url(#gball)"><circle cx="98.45" cy="398.45" r="2.29"/><circle cx="99.06" cy="398.71" r="2.29"/><circle cx="100.54" cy="396.74" r="2.29"/><circle cx="99.33" cy="398.61" r="2.29"/><circle cx="98.63" cy="398.88" r="2.29"/><circle cx="99.60" cy="401.83" r="2.29"/></g>
<g fill="url(#gball)"><circle cx="133.21" cy="404.99" r="2.29"/><circle cx="136.03" cy="403.86" r="2.29"/><circle cx="133.06" cy="404.42" r="2.29"/><circle cx="135.41" cy="405.89" r="2.29"/><circle cx="133.18" cy="402.79" r="2.29"/><circle cx="135.55" cy="405.00" r="2.29"/></g>
<g fill="url(#gball)"><circle cx="191.17" cy="398.21" r="2.29"/><circle cx="192.89" cy="397.53" r="2.29"/><circle cx="194.21" cy="397.98" r="2.29"/><circle cx="192.74" cy="400.28" r="2.29"/><circle cx="192.44" cy="396.24" r="2.29"/><circle cx="191.26" cy="397.20" r="2.29"/></g>
<g fill="url(#gball)"><circle cx="239.19" cy="401.03" r="2.29"/><circle cx="238.28" cy="396.69" r="2.29"/><circle cx="239.57" cy="399.63" r="2.29"/><circle cx="239.70" cy="399.53" r="2.29"/><circle cx="239.26" cy="398.62" r="2.29"/><circle cx="238.68" cy="398.88" r="2.29"/></g>
<g fill="url(#gball)"><circle cx="217.83" cy="411.30" r="2.29"/><circle cx="214.58" cy="407.72" r="2.29"/><circle cx="216.10" cy="410.75" r="2.29"/><circle cx="216.00" cy="408.05" r="2.29"/><circle cx="215.54" cy="411.92" r="2.29"/><circle cx="214.36" cy="411.40" r="2.29"/></g>
<g fill="url(#gball)"><circle cx="115.03" cy="424.29" r="2.29"/><circle cx="114.96" cy="423.83" r="2.29"/><circle cx="115.05" cy="424.30" r="2.29"/><circle cx="116.47" cy="422.91" r="2.29"/><circle cx="116.85" cy="421.98" r="2.29"/><circle cx="115.07" cy="425.30" r="2.29"/></g>
<g fill="url(#gball)"><circle cx="236.18" cy="424.29" r="2.29"/><circle cx="235.95" cy="423.86" r="2.29"/><circle cx="235.46" cy="424.25" r="2.29"/><circle cx="237.00" cy="425.08" r="2.29"/><circle cx="238.00" cy="423.26" r="2.29"/><circle cx="236.89" cy="423.56" r="2.29"/></g>
<g fill="url(#gball)"><circle cx="261.13" cy="420.67" r="2.29"/><circle cx="264.33" cy="420.79" r="2.29"/><circle cx="263.71" cy="418.92" r="2.29"/><circle cx="263.33" cy="420.72" r="2.29"/><circle cx="264.62" cy="421.19" r="2.29"/><circle cx="263.48" cy="420.25" r="2.29"/></g>
<g fill="url(#gball)"><circle cx="248.92" cy="435.98" r="2.29"/><circle cx="247.80" cy="434.71" r="2.29"/><circle cx="246.64" cy="434.30" r="2.29"/><circle cx="246.75" cy="434.37" r="2.29"/><circle cx="248.03" cy="434.95" r="2.29"/><circle cx="247.75" cy="433.30" r="2.29"/></g>
<g fill="url(#gball)"><circle cx="82.06" cy="442.01" r="2.29"/><circle cx="81.59" cy="443.91" r="2.29"/><circle cx="80.78" cy="445.94" r="2.29"/><circle cx="82.99" cy="444.53" r="2.29"/><circle cx="83.05" cy="444.87" r="2.29"/><circle cx="82.73" cy="444.80" r="2.29"/></g>
<g fill="url(#gball)"><circle cx="213.49" cy="445.16" r="2.29"/><circle cx="212.07" cy="443.63" r="2.29"/><circle cx="211.69" cy="448.18" r="2.29"/><circle cx="213.94" cy="444.84" r="2.29"/><circle cx="211.35" cy="446.08" r="2.29"/><circle cx="209.29" cy="447.86" r="2.29"/></g>
<g fill="url(#gball)"><circle cx="312.74" cy="333.96" r="2.29"/><circle cx="310.76" cy="331.13" r="2.29"/><circle cx="312.20" cy="334.50" r="2.29"/><circle cx="312.24" cy="330.78" r="2.29"/><circle cx="311.00" cy="332.18" r="2.29"/><circle cx="312.80" cy="332.22" r="2.29"/></g>
<g fill="url(#gball)"><circle cx="323.60" cy="358.49" r="2.29"/><circle cx="326.13" cy="359.04" r="2.29"/><circle cx="323.34" cy="358.93" r="2.29"/><circle cx="322.60" cy="357.77" r="2.29"/><circle cx="323.73" cy="358.16" r="2.29"/><circle cx="324.12" cy="358.36" r="2.29"/></g>
<g fill="url(#gball)"><circle cx="309.61" cy="364.91" r="2.29"/><circle cx="307.29" cy="366.04" r="2.29"/><circle cx="306.04" cy="365.51" r="2.29"/><circle cx="306.72" cy="366.13" r="2.29"/><circle cx="307.57" cy="367.43" r="2.29"/><circle cx="307.35" cy="367.53" r="2.29"/></g>
<g fill="url(#gball)"><circle cx="287.01" cy="349.28" r="2.29"/><circle cx="288.82" cy="354.40" r="2.29"/><circle cx="288.29" cy="353.57" r="2.29"/><circle cx="289.49" cy="352.93" r="2.29"/><circle cx="288.82" cy="353.41" r="2.29"/><circle cx="287.23" cy="349.46" r="2.29"/></g>
<g fill="url(#gball)"><circle cx="348.83" cy="352.52" r="2.29"/><circle cx="351.15" cy="350.07" r="2.29"/><circle cx="352.10" cy="349.23" r="2.29"/><circle cx="353.53" cy="351.34" r="2.29"/><circle cx="350.77" cy="351.51" r="2.29"/><circle cx="349.25" cy="351.40" r="2.29"/></g>
<g fill="url(#gball)"><circle cx="371.09" cy="356.90" r="2.29"/><circle cx="371.60" cy="359.21" r="2.29"/><circle cx="373.26" cy="358.30" r="2.29"/><circle cx="371.11" cy="357.38" r="2.29"/><circle cx="370.49" cy="356.14" r="2.29"/><circle cx="369.23" cy="355.37" r="2.29"/></g>
<g fill="url(#gball)"><circle cx="408.76" cy="357.63" r="2.29"/><circle cx="410.56" cy="359.14" r="2.29"/><circle cx="412.24" cy="360.28" r="2.29"/><circle cx="409.45" cy="360.26" r="2.29"/><circle cx="410.21" cy="358.80" r="2.29"/><circle cx="411.23" cy="358.51" r="2.29"/></g>
<g fill="url(#gball)"><circle cx="444.29" cy="354.95" r="2.29"/><circle cx="443.57" cy="354.40" r="2.29"/><circle cx="444.93" cy="355.72" r="2.29"/><circle cx="443.45" cy="355.01" r="2.29"/><circle cx="442.06" cy="356.28" r="2.29"/><circle cx="444.38" cy="355.11" r="2.29"/></g>
<g fill="url(#gball)"><circle cx="339.52" cy="389.40" r="2.29"/><circle cx="340.98" cy="388.99" r="2.29"/><circle cx="339.48" cy="389.64" r="2.29"/><circle cx="338.01" cy="391.17" r="2.29"/><circle cx="341.55" cy="390.50" r="2.29"/><circle cx="340.66" cy="390.73" r="2.29"/></g>
<g fill="url(#gball)"><circle cx="302.37" cy="399.39" r="2.29"/><circle cx="305.11" cy="399.96" r="2.29"/><circle cx="303.39" cy="400.34" r="2.29"/><circle cx="301.68" cy="400.75" r="2.29"/><circle cx="304.57" cy="399.50" r="2.29"/><circle cx="306.15" cy="399.47" r="2.29"/></g>
<g fill="url(#gball)"><circle cx="285.13" cy="400.53" r="2.29"/><circle cx="283.21" cy="401.77" r="2.29"/><circle cx="285.02" cy="400.76" r="2.29"/><circle cx="285.06" cy="402.74" r="2.29"/><circle cx="286.12" cy="402.26" r="2.29"/><circle cx="284.59" cy="400.16" r="2.29"/></g>
<g fill="url(#gball)"><circle cx="365.16" cy="421.00" r="2.29"/><circle cx="363.73" cy="423.23" r="2.29"/><circle cx="362.46" cy="420.75" r="2.29"/><circle cx="365.82" cy="421.59" r="2.29"/><circle cx="365.45" cy="419.40" r="2.29"/><circle cx="367.06" cy="419.80" r="2.29"/></g>
<g fill="url(#gball)"><circle cx="308.40" cy="425.20" r="2.29"/><circle cx="310.43" cy="425.25" r="2.29"/><circle cx="308.57" cy="423.84" r="2.29"/><circle cx="310.56" cy="425.70" r="2.29"/><circle cx="309.04" cy="424.51" r="2.29"/><circle cx="307.23" cy="425.94" r="2.29"/></g>
<g fill="url(#gball)"><circle cx="320.39" cy="428.49" r="2.29"/><circle cx="323.57" cy="426.57" r="2.29"/><circle cx="322.90" cy="428.07" r="2.29"/><circle cx="323.29" cy="428.40" r="2.29"/><circle cx="322.00" cy="429.06" r="2.29"/><circle cx="321.64" cy="428.77" r="2.29"/></g>
<g fill="url(#gball)"><circle cx="407.37" cy="393.63" r="2.29"/><circle cx="409.45" cy="391.73" r="2.29"/><circle cx="408.86" cy="397.10" r="2.29"/><circle cx="407.47" cy="393.40" r="2.29"/><circle cx="409.58" cy="391.54" r="2.29"/><circle cx="409.34" cy="395.38" r="2.29"/></g>
<g fill="url(#gball)"><circle cx="433.42" cy="406.57" r="2.29"/><circle cx="437.44" cy="403.30" r="2.29"/><circle cx="435.44" cy="401.48" r="2.29"/><circle cx="436.66" cy="404.00" r="2.29"/><circle cx="434.83" cy="406.17" r="2.29"/><circle cx="433.29" cy="404.69" r="2.29"/></g>
<g fill="url(#gball)"><circle cx="450.29" cy="390.55" r="2.29"/><circle cx="448.55" cy="389.12" r="2.29"/><circle cx="451.17" cy="389.48" r="2.29"/><circle cx="449.65" cy="390.00" r="2.29"/><circle cx="450.08" cy="390.74" r="2.29"/><circle cx="449.67" cy="389.17" r="2.29"/></g>
<g fill="url(#gball)"><circle cx="353.48" cy="460.82" r="2.29"/><circle cx="354.27" cy="461.61" r="2.29"/><circle cx="353.94" cy="460.75" r="2.29"/><circle cx="353.91" cy="461.48" r="2.29"/><circle cx="353.86" cy="462.46" r="2.29"/><circle cx="353.27" cy="463.70" r="2.29"/></g>
<g fill="url(#gball)"><circle cx="345.39" cy="468.71" r="2.29"/><circle cx="345.50" cy="468.71" r="2.29"/><circle cx="343.33" cy="466.87" r="2.29"/><circle cx="345.07" cy="468.66" r="2.29"/><circle cx="346.15" cy="469.78" r="2.29"/><circle cx="344.39" cy="470.12" r="2.29"/></g>
<g fill="url(#gball)"><circle cx="305.28" cy="568.27" r="2.29"/><circle cx="308.62" cy="567.77" r="2.29"/><circle cx="309.71" cy="567.12" r="2.29"/><circle cx="308.52" cy="568.35" r="2.29"/><circle cx="308.75" cy="566.70" r="2.29"/><circle cx="310.42" cy="568.08" r="2.29"/></g>
<g fill="url(#gball)"><circle cx="186.70" cy="577.97" r="2.29"/><circle cx="188.57" cy="579.84" r="2.29"/><circle cx="185.39" cy="576.54" r="2.29"/><circle cx="186.12" cy="577.13" r="2.29"/><circle cx="187.00" cy="575.80" r="2.29"/><circle cx="187.58" cy="575.57" r="2.29"/></g>
<g fill="url(#gball)"><circle cx="299.95" cy="339.94" r="2.29"/><circle cx="299.90" cy="340.65" r="2.29"/><circle cx="299.82" cy="338.00" r="2.29"/><circle cx="300.20" cy="339.84" r="2.29"/><circle cx="299.92" cy="340.04" r="2.29"/><circle cx="300.29" cy="341.47" r="2.29"/></g>
<circle cx="157" cy="400.5" r="3.2" fill="url(#gball)"/>
<circle cx="159" cy="402.5" r="2.6" fill="url(#gball)"/>
<circle cx="157" cy="405.5" r="3.2" fill="url(#gball)"/>
<circle cx="159" cy="407.5" r="2.6" fill="url(#gball)"/>
<circle cx="157" cy="410.5" r="3.2" fill="url(#gball)"/>
<circle cx="159" cy="412.5" r="2.6" fill="url(#gball)"/>
<circle cx="157" cy="415.5" r="3.2" fill="url(#gball)"/>
<circle cx="159" cy="417.5" r="2.6" fill="url(#gball)"/>
<circle cx="385.0" cy="460.0" r="3.2" fill="url(#gball)"/>
<circle cx="389.0" cy="457.0" r="3.2" fill="url(#gball)"/>
<circle cx="393.0" cy="460.0" r="3.2" fill="url(#gball)"/>
<circle cx="387.0" cy="464.0" r="3.2" fill="url(#gball)"/>
<circle cx="392.0" cy="465.0" r="3.2" fill="url(#gball)"/>
<circle cx="389.0" cy="462.0" r="3.2" fill="url(#gball)"/>
<circle cx="395.0" cy="463.0" r="3.2" fill="url(#gball)"/>
</g>
<g stroke="#fff" fill="#fff">
<path d="M157,412 H180 M157,420 H180" stroke-width="1" stroke-dasharray="2.5,1.5" fill="none"/>
<path d="M171.7,397 V406" stroke-width="1" fill="none"/><polygon points="171.7,412 168.2,405 175.2,405" stroke="none"/>
<path d="M171.7,427 V435" stroke-width="1" fill="none"/><polygon points="171.7,420 168.2,427 175.2,427" stroke="none"/>
<path d="M368.7,380 H393 M368.7,467 H385" stroke-width="1" stroke-dasharray="2.5,1.5" fill="none"/>
<path d="M378.1,387 V459" stroke-width="1.2" fill="none"/><polygon points="378.1,380 374.3,388 381.9,388" stroke="none"/><polygon points="378.1,467 374.3,459 381.9,459" stroke="none"/>
</g>
<text x="179.4" y="419.3" font-size="15" fill="#111">&#916;<tspan font-style="italic">E</tspan></text>
<text x="383.4" y="432.6" font-size="15" fill="#111">&#916;<tspan font-style="italic">E</tspan></text>
<text x="122.70" y="447.70" font-size="15.30" text-anchor="start" font-weight="normal" font-style="italic" fill="#111" >B, Config I</text>
<text x="374.30" y="487.10" font-size="15.50" text-anchor="start" font-weight="normal" font-style="italic" fill="#111" >C, Config II</text>
<text x="323.20" y="573.00" font-size="15.50" text-anchor="start" font-weight="normal" font-style="italic" fill="#fff" >A, Ideal glass</text>
<text x="130.00" y="579.00" font-size="15.00" text-anchor="start" font-weight="normal" font-style="italic" fill="#fff" >Crystal</text>
<text x="275.25" y="602.50" font-size="15.40" text-anchor="middle" font-weight="normal" font-style="normal" fill="#111" >Configuration coordinate</text>
<text x="0.00" y="0.00" font-size="15.60" text-anchor="middle" font-weight="normal" font-style="normal" fill="#111" transform="translate(61,459.5) rotate(-90)">Potential energy</text>
<text x="2.00" y="309.50" font-size="21.00" text-anchor="start" font-weight="bold" font-style="normal" fill="#111" >c</text>
<clipPath id="clipd"><rect x="570.5" y="309.5" width="419.5" height="255.5"/></clipPath>
<g clip-path="url(#clipd)" fill="none" stroke-width="1.25" stroke-linejoin="round">
<path d="M571.0,332.8 L571.8,334.5 L572.5,337.2 L573.2,336.6 L574.0,338.0 L574.8,339.6 L575.5,339.2 L576.2,341.8 L577.0,343.5 L577.8,345.4 L578.5,343.9 L579.2,346.0 L580.0,346.4 L580.7,351.6 L581.4,353.6 L582.1,353.4 L582.8,359.5 L583.5,361.9 L584.2,363.0 L584.9,365.3 L585.6,365.8 L586.3,367.7 L587.0,372.1 L587.7,374.2 L588.4,378.8 L589.1,383.0 L589.9,386.1 L590.6,391.9 L591.3,395.8 L592.0,401.4 L592.7,406.2 L593.4,412.8 L594.1,418.4 L594.9,425.2 L595.6,430.5 L596.3,436.0 L597.0,445.0 L597.8,450.0 L598.5,454.4 L599.2,458.8 L600.0,462.3 L600.7,462.5 L601.4,463.3 L602.1,463.1 L602.8,466.4 L603.5,465.6 L604.2,467.9 L604.9,466.7 L605.6,469.6 L606.3,469.7 L607.0,466.9 L607.7,468.4 L608.4,471.8 L609.1,470.6 L609.9,473.2 L610.6,471.5 L611.3,470.8 L612.0,473.6 L612.7,474.8 L613.4,473.3 L614.1,473.2 L614.8,474.8 L615.5,477.9 L616.2,477.7 L616.9,475.7 L617.6,476.8 L618.3,476.8 L619.0,477.2 L619.7,480.3 L620.4,477.9 L621.1,479.5 L621.8,479.2 L622.5,478.3 L623.2,480.5 L623.9,478.2 L624.7,480.4 L625.4,478.4 L626.1,479.7 L626.8,479.0 L627.5,479.3 L628.2,482.2 L628.9,481.7 L629.6,479.8 L630.3,482.2 L631.0,479.6 L631.7,480.4 L632.4,482.4 L633.1,481.6 L633.8,479.6 L634.6,483.2 L635.3,480.2 L636.0,480.5 L636.7,482.7 L637.4,481.0 L638.1,481.0 L638.8,480.2 L639.5,480.4 L640.2,482.4 L640.9,481.2 L641.6,482.7 L642.3,481.9 L643.0,482.3 L643.7,484.5 L644.4,482.7 L645.2,483.1 L645.9,484.4 L646.6,481.8 L647.3,481.8 L648.0,484.9 L648.7,484.6 L649.4,482.4 L650.1,482.3 L650.8,484.6 L651.5,485.5 L652.2,482.6 L652.9,485.8 L653.6,485.6 L654.3,484.6 L655.1,484.0 L655.8,482.8 L656.5,482.6 L657.2,486.4 L657.9,483.6 L658.6,485.6 L659.3,483.9 L660.0,486.3 L660.7,485.4 L661.4,484.3 L662.1,483.8 L662.8,486.0 L663.5,483.5 L664.2,484.2 L664.9,485.5 L665.6,486.7 L666.3,485.8 L667.0,484.5 L667.7,487.1 L668.4,484.3 L669.1,483.6 L669.8,484.7 L670.5,485.4 L671.2,483.9 L671.9,484.4 L672.6,485.2 L673.3,486.1 L674.0,484.4 L674.7,485.3 L675.4,487.5 L676.1,487.9 L676.8,486.6 L677.5,486.8 L678.2,486.4 L678.9,484.7 L679.6,484.3 L680.3,484.3 L681.0,487.9 L681.7,487.1 L682.4,488.2 L683.1,484.5 L683.8,487.0 L684.5,486.4 L685.2,487.4 L685.9,485.8 L686.6,488.6 L687.3,484.9 L688.0,486.9 L688.7,487.7 L689.4,488.4 L690.1,487.7 L690.8,487.6 L691.5,488.0 L692.2,488.6 L692.9,486.4 L693.6,487.7 L694.3,488.6 L695.0,488.6 L695.7,486.8 L696.4,488.3 L697.1,488.7 L697.8,487.5 L698.5,487.8 L699.2,486.9 L699.9,487.7 L700.6,487.9 L701.3,485.8 L702.0,488.1 L702.7,489.5 L703.4,489.0 L704.1,488.4 L704.8,487.1 L705.5,488.5 L706.2,487.9 L706.9,487.3 L707.6,488.9 L708.3,485.9 L709.0,488.6 L709.7,485.7 L710.4,488.0 L711.1,487.5 L711.8,486.5 L712.5,488.4 L713.2,487.6 L713.9,488.1 L714.6,489.3 L715.3,486.7 L716.0,485.7 L716.7,486.9 L717.4,488.4 L718.1,486.5 L718.8,486.3 L719.5,489.3 L720.2,488.3 L720.9,487.5 L721.6,489.3 L722.3,487.0 L723.0,488.4 L723.7,486.5 L724.4,487.5 L725.1,489.0 L725.8,489.4 L726.5,489.3 L727.3,487.3 L728.0,488.1 L728.7,487.0 L729.4,486.3 L730.1,487.8 L730.8,489.1 L731.5,489.2 L732.2,488.7 L732.9,489.6 L733.6,486.9 L734.3,486.5 L735.0,487.6 L735.7,486.9 L736.4,486.7 L737.1,487.5 L737.8,488.4 L738.5,487.8 L739.2,487.1 L739.9,489.2 L740.6,489.8 L741.3,487.7 L742.0,486.2 L742.7,486.0 L743.4,489.4 L744.1,486.1 L744.8,488.8 L745.5,488.2 L746.2,487.2 L746.9,489.1 L747.6,486.0 L748.3,486.5 L749.0,487.8 L749.7,486.1 L750.4,489.3 L751.1,486.9 L751.8,486.6 L752.5,486.2 L753.2,488.5 L753.9,487.8 L754.6,488.6 L755.3,488.7 L756.0,489.3 L756.7,489.9 L757.4,488.8 L758.1,486.9 L758.8,488.0 L759.5,486.8 L760.2,486.1 L760.9,488.0 L761.6,489.0 L762.3,486.8 L763.0,487.2 L763.7,487.5 L764.4,488.9 L765.1,488.2 L765.8,488.6 L766.5,489.2 L767.2,487.7 L767.9,489.3 L768.6,489.8 L769.3,486.5 L770.0,489.9 L770.7,489.1 L771.4,486.7 L772.1,488.0 L772.8,488.7 L773.5,489.9 L774.2,487.7 L774.9,488.5 L775.6,489.8 L776.4,489.4 L777.1,490.0 L777.8,488.1 L778.5,488.9 L779.2,487.1 L779.9,489.2 L780.6,489.6 L781.3,488.9 L782.0,489.2 L782.7,487.2 L783.4,489.9 L784.1,490.3 L784.8,490.2 L785.5,488.5 L786.2,489.5 L786.9,487.6 L787.6,490.0 L788.3,489.8 L789.0,487.8 L789.7,486.7 L790.4,488.2 L791.1,488.6 L791.8,489.5 L792.5,488.4 L793.2,486.5 L793.9,489.7 L794.6,486.7 L795.3,489.6 L796.0,487.1 L796.7,487.8 L797.4,489.6 L798.1,487.0 L798.8,487.1 L799.5,488.6 L800.2,489.4 L800.9,489.9 L801.6,489.3 L802.3,490.3 L803.0,488.5 L803.7,490.3 L804.4,486.9 L805.1,487.4 L805.8,488.7 L806.5,487.7 L807.2,489.5 L807.9,489.1 L808.6,488.7 L809.3,490.0 L810.0,488.8 L810.7,487.8 L811.4,488.1 L812.1,490.0 L812.8,490.2 L813.5,487.5 L814.2,490.0 L814.9,490.5 L815.6,488.7 L816.3,489.0 L817.0,487.5 L817.7,488.8 L818.4,488.7 L819.1,489.1 L819.8,486.8 L820.5,490.6 L821.2,488.8 L821.9,488.3 L822.6,489.9 L823.3,489.0 L824.0,488.7 L824.7,489.5 L825.5,487.0 L826.2,488.9 L826.9,488.4 L827.6,490.6 L828.3,490.5 L829.0,487.9 L829.7,488.7 L830.4,487.3 L831.1,488.5 L831.8,490.1 L832.5,490.4 L833.2,488.7 L833.9,488.1 L834.6,487.6 L835.3,489.3 L836.0,490.6 L836.7,487.4 L837.4,490.0 L838.1,487.0 L838.8,487.7 L839.5,487.8 L840.2,489.6 L840.9,488.2 L841.6,488.3 L842.3,489.4 L843.0,487.3 L843.7,489.9 L844.4,487.4 L845.1,489.0 L845.8,488.0 L846.5,487.8 L847.2,489.1 L847.9,488.7 L848.6,488.5 L849.3,488.6 L850.0,489.1 L850.7,487.6 L851.4,487.8 L852.1,489.5 L852.8,489.5 L853.5,489.1 L854.2,490.4 L854.9,489.4 L855.6,490.4 L856.3,487.9 L857.0,489.9 L857.7,490.2 L858.4,490.6 L859.1,488.2 L859.8,488.2 L860.5,490.6 L861.2,487.8 L861.9,490.9 L862.6,490.5 L863.3,487.4 L864.0,487.9 L864.7,489.8 L865.4,487.9 L866.1,487.3 L866.8,490.2 L867.5,488.6 L868.2,490.0 L868.9,487.4 L869.6,488.5 L870.3,489.6 L871.0,486.9 L871.7,487.6 L872.4,489.6 L873.1,490.5 L873.8,490.7 L874.5,487.3 L875.2,488.8 L875.9,489.8 L876.6,488.8 L877.3,489.5 L878.0,487.6 L878.7,487.1 L879.4,487.2 L880.1,486.9 L880.8,489.0 L881.5,488.8 L882.2,489.0 L882.9,487.4 L883.6,487.5 L884.3,487.6 L885.0,490.1 L885.7,490.7 L886.4,490.4 L887.1,487.1 L887.8,487.0 L888.5,490.5 L889.2,488.6 L889.9,489.8 L890.6,488.0 L891.3,488.6 L892.0,488.8 L892.7,488.4 L893.4,489.1 L894.1,486.7 L894.8,489.5 L895.5,490.1 L896.2,487.4 L896.9,488.5 L897.6,489.6 L898.3,488.3 L899.0,487.4 L899.7,487.3 L900.4,488.7 L901.1,486.7 L901.8,490.2 L902.5,489.8 L903.2,489.4 L903.9,490.1 L904.6,489.1 L905.3,488.2 L906.0,489.0 L906.7,488.6 L907.4,490.5 L908.1,489.8 L908.8,487.6 L909.5,490.2 L910.2,489.5 L910.9,489.7 L911.6,489.8 L912.3,488.2 L913.0,490.1 L913.7,490.1 L914.4,489.3 L915.1,489.6 L915.8,489.6 L916.5,488.1 L917.2,489.4 L917.9,486.8 L918.6,487.9 L919.3,488.4 L920.0,486.5 L920.7,487.9 L921.4,489.0 L922.1,489.0 L922.8,487.4 L923.5,490.3 L924.2,489.1 L924.9,487.8 L925.6,489.1 L926.3,488.7 L927.0,488.6 L927.7,488.0 L928.4,490.4 L929.1,489.0 L929.8,489.2 L930.5,489.5 L931.2,490.3 L931.9,486.5 L932.6,488.9 L933.3,489.4 L934.0,487.4 L934.7,488.0 L935.4,486.6 L936.1,487.2 L936.8,487.9 L937.5,486.8 L938.2,487.4 L938.9,490.0 L939.6,488.6 L940.3,488.4 L941.0,490.2 L941.7,488.6 L942.4,490.3 L943.1,488.9 L943.8,489.6 L944.5,486.6 L945.2,488.7 L945.9,489.4 L946.6,486.5 L947.3,490.0 L948.0,486.9 L948.7,488.2 L949.4,487.0 L950.1,488.3 L950.8,488.7 L951.5,486.5 L952.2,490.1 L952.9,487.9 L953.6,488.4 L954.3,488.6 L955.0,487.7 L955.7,487.4 L956.4,488.9 L957.1,488.5 L957.8,487.4 L958.5,489.1 L959.2,487.4 L959.9,486.3 L960.6,487.2 L961.3,486.4 L962.0,486.8 L962.7,489.2 L963.4,487.7 L964.1,489.8 L964.8,489.2 L965.5,486.4 L966.2,490.1 L966.9,489.9 L967.6,486.5 L968.3,489.8 L969.0,487.9 L969.7,488.1 L970.4,490.0 L971.1,487.1 L971.8,488.2 L972.5,489.9 L973.2,489.0 L973.9,488.0 L974.6,490.0 L975.3,489.4 L976.0,488.5 L976.7,486.6 L977.4,488.6 L978.1,487.9 L978.8,486.9 L979.5,486.3 L980.2,488.2 L980.9,486.6 L981.6,487.8 L982.3,488.7 L983.0,487.9 L983.7,487.1 L984.4,488.4 L985.1,487.7 L985.8,489.1 L986.5,488.1 L987.2,490.0 L987.9,489.8 L988.6,488.9 L989.3,487.0 L990.0,488.0" stroke="#8ab8e6"/>
<path d="M571.0,335.9 L571.7,338.1 L572.5,339.6 L573.2,339.0 L573.9,339.9 L574.7,342.8 L575.4,343.9 L576.1,347.5 L576.9,348.5 L577.6,349.6 L578.3,350.9 L579.1,352.8 L579.8,352.2 L580.5,354.8 L581.3,355.2 L582.0,359.6 L582.7,358.7 L583.5,364.2 L584.2,363.7 L584.9,368.6 L585.6,369.6 L586.4,372.3 L587.1,376.6 L587.8,375.7 L588.5,378.3 L589.3,384.2 L590.0,385.0 L590.8,392.7 L591.5,405.7 L592.2,414.9 L593.0,421.0 L593.8,431.6 L594.5,439.8 L595.2,449.9 L596.0,460.5 L596.8,461.1 L597.6,465.6 L598.4,465.4 L599.2,468.3 L600.0,473.3 L600.7,473.6 L601.4,475.7 L602.1,478.4 L602.9,479.9 L603.6,481.5 L604.3,482.1 L605.0,486.9 L605.7,487.9 L606.4,488.0 L607.1,486.8 L607.8,485.6 L608.5,485.7 L609.2,487.1 L609.9,487.1 L610.6,484.9 L611.3,485.4 L612.0,486.0 L612.7,486.7 L613.4,487.9 L614.1,486.7 L614.8,484.9 L615.5,488.1 L616.2,486.6 L616.9,487.0 L617.7,485.9 L618.4,486.8 L619.1,486.7 L619.8,488.2 L620.5,485.6 L621.2,487.5 L621.9,486.0 L622.6,488.2 L623.3,485.6 L624.0,486.6 L624.7,486.9 L625.4,488.1 L626.1,485.9 L626.8,487.5 L627.5,486.6 L628.2,486.9 L628.9,487.8 L629.6,489.8 L630.3,487.9 L631.0,489.9 L631.7,486.8 L632.4,489.8 L633.1,487.7 L633.8,487.0 L634.5,489.3 L635.2,490.0 L635.9,486.4 L636.6,487.6 L637.3,489.6 L638.0,488.0 L638.7,487.6 L639.4,486.7 L640.1,486.9 L640.8,489.3 L641.6,490.8 L642.3,490.9 L643.0,489.0 L643.7,487.1 L644.4,488.4 L645.1,490.3 L645.8,490.5 L646.5,489.8 L647.2,488.2 L647.9,489.5 L648.6,489.3 L649.3,490.0 L650.0,488.6 L650.7,491.4 L651.4,491.2 L652.1,488.3 L652.8,488.9 L653.5,491.3 L654.2,489.0 L654.9,491.7 L655.6,490.0 L656.3,490.8 L657.0,490.9 L657.7,489.0 L658.4,489.3 L659.1,489.3 L659.8,491.0 L660.5,491.1 L661.2,488.9 L661.9,492.0 L662.6,490.2 L663.3,489.5 L664.0,490.4 L664.7,492.6 L665.4,491.0 L666.2,491.3 L666.9,492.5 L667.6,492.7 L668.3,492.0 L669.0,490.7 L669.7,491.4 L670.4,492.7 L671.1,492.3 L671.8,491.6 L672.5,490.7 L673.2,490.8 L673.9,492.3 L674.6,491.7 L675.3,489.6 L676.0,492.4 L676.7,493.2 L677.4,492.9 L678.1,493.3 L678.8,493.4 L679.5,492.0 L680.2,493.0 L680.9,491.5 L681.6,490.4 L682.3,491.5 L683.0,491.4 L683.7,493.9 L684.4,493.0 L685.1,492.4 L685.8,492.8 L686.5,490.9 L687.2,492.6 L687.9,493.3 L688.6,492.1 L689.3,491.6 L690.1,492.3 L690.8,492.0 L691.5,493.5 L692.2,491.4 L692.9,491.2 L693.6,492.2 L694.3,493.8 L695.0,494.1 L695.7,493.7 L696.4,494.9 L697.1,492.7 L697.8,491.4 L698.5,493.3 L699.2,493.2 L699.9,492.2 L700.6,494.2 L701.3,492.9 L702.0,492.6 L702.7,492.9 L703.4,495.4 L704.1,491.6 L704.8,493.0 L705.5,492.7 L706.2,492.4 L706.9,493.3 L707.6,492.5 L708.3,495.3 L709.0,493.6 L709.7,494.4 L710.4,492.3 L711.1,493.5 L711.8,494.1 L712.5,495.0 L713.2,492.6 L713.9,493.5 L714.6,495.1 L715.3,495.0 L716.0,492.5 L716.7,493.8 L717.4,494.7 L718.1,493.2 L718.8,494.3 L719.5,494.3 L720.2,495.5 L720.9,493.9 L721.6,494.4 L722.3,493.1 L723.0,494.6 L723.7,492.9 L724.4,493.7 L725.1,493.1 L725.8,492.9 L726.5,492.2 L727.3,492.6 L728.0,493.8 L728.7,492.7 L729.4,491.9 L730.1,494.9 L730.8,492.8 L731.5,495.4 L732.2,494.1 L732.9,493.2 L733.6,495.2 L734.3,495.3 L735.0,493.0 L735.7,492.2 L736.4,494.3 L737.1,495.1 L737.8,494.1 L738.5,494.8 L739.2,493.4 L739.9,494.2 L740.6,492.8 L741.3,493.3 L742.0,493.2 L742.7,493.2 L743.4,493.3 L744.1,494.9 L744.8,492.4 L745.5,492.5 L746.2,492.7 L746.9,495.6 L747.6,493.8 L748.3,491.9 L749.0,495.1 L749.7,495.2 L750.4,495.0 L751.1,493.2 L751.8,494.7 L752.5,493.0 L753.2,492.3 L753.9,495.2 L754.6,495.1 L755.3,492.6 L756.0,495.3 L756.7,491.8 L757.4,493.0 L758.1,491.8 L758.8,492.4 L759.5,492.4 L760.2,494.6 L760.9,492.9 L761.6,492.5 L762.3,492.5 L763.0,493.0 L763.7,495.2 L764.4,494.2 L765.1,492.2 L765.8,494.5 L766.5,493.9 L767.2,493.6 L767.9,493.9 L768.6,494.4 L769.3,495.0 L770.0,493.8 L770.7,494.3 L771.4,493.7 L772.1,494.3 L772.8,493.3 L773.5,493.5 L774.2,493.9 L774.9,494.7 L775.6,492.9 L776.4,495.5 L777.1,493.8 L777.8,495.2 L778.5,494.6 L779.2,495.6 L779.9,494.5 L780.6,493.5 L781.3,493.4 L782.0,494.2 L782.7,494.8 L783.4,495.2 L784.1,492.3 L784.8,492.1 L785.5,492.3 L786.2,492.2 L786.9,492.1 L787.6,491.9 L788.3,492.8 L789.0,492.3 L789.7,494.6 L790.4,494.3 L791.1,495.7 L791.8,495.7 L792.5,494.8 L793.2,495.6 L793.9,492.0 L794.6,492.8 L795.3,495.6 L796.0,493.8 L796.7,492.7 L797.4,494.9 L798.1,493.6 L798.8,494.0 L799.5,493.1 L800.2,492.8 L800.9,492.2 L801.6,494.3 L802.3,495.7 L803.0,495.8 L803.7,494.9 L804.4,495.6 L805.1,493.3 L805.8,493.1 L806.5,495.6 L807.2,494.3 L807.9,494.6 L808.6,491.9 L809.3,492.8 L810.0,493.8 L810.7,494.8 L811.4,495.2 L812.1,494.9 L812.8,493.3 L813.5,493.4 L814.2,495.4 L814.9,495.9 L815.6,493.8 L816.3,492.7 L817.0,494.4 L817.7,494.1 L818.4,493.4 L819.1,492.8 L819.8,493.5 L820.5,494.4 L821.2,492.4 L821.9,494.1 L822.6,495.7 L823.3,494.9 L824.0,492.9 L824.7,493.6 L825.5,492.3 L826.2,494.9 L826.9,494.5 L827.6,492.6 L828.3,494.1 L829.0,494.3 L829.7,494.3 L830.4,493.5 L831.1,493.2 L831.8,493.4 L832.5,495.9 L833.2,493.3 L833.9,494.0 L834.6,493.8 L835.3,492.7 L836.0,493.6 L836.7,492.8 L837.4,493.3 L838.1,493.4 L838.8,493.4 L839.5,495.7 L840.2,493.2 L840.9,493.3 L841.6,494.6 L842.3,493.6 L843.0,494.0 L843.7,494.6 L844.4,492.3 L845.1,494.7 L845.8,492.4 L846.5,493.0 L847.2,495.2 L847.9,496.0 L848.6,494.7 L849.3,492.7 L850.0,493.8 L850.7,493.1 L851.4,495.4 L852.1,492.9 L852.8,492.8 L853.5,494.5 L854.2,494.5 L854.9,494.3 L855.6,493.9 L856.3,495.8 L857.0,493.8 L857.7,495.7 L858.4,493.5 L859.1,493.8 L859.8,493.4 L860.5,494.8 L861.2,494.9 L861.9,492.9 L862.6,494.0 L863.3,494.8 L864.0,493.9 L864.7,494.5 L865.4,494.4 L866.1,494.7 L866.8,493.3 L867.5,493.1 L868.2,492.0 L868.9,495.4 L869.6,495.0 L870.3,493.4 L871.0,495.7 L871.7,495.5 L872.4,492.4 L873.1,495.2 L873.8,493.5 L874.5,493.1 L875.2,492.9 L875.9,493.5 L876.6,492.0 L877.3,492.0 L878.0,492.3 L878.7,493.0 L879.4,492.4 L880.1,492.3 L880.8,495.1 L881.5,493.3 L882.2,493.7 L882.9,494.2 L883.6,495.5 L884.3,492.3 L885.0,492.7 L885.7,495.2 L886.4,495.4 L887.1,495.5 L887.8,493.8 L888.5,493.2 L889.2,492.5 L889.9,495.4 L890.6,494.8 L891.3,493.9 L892.0,494.9 L892.7,492.7 L893.4,493.8 L894.1,495.3 L894.8,492.1 L895.5,494.1 L896.2,492.4 L896.9,495.0 L897.6,495.0 L898.3,494.2 L899.0,493.4 L899.7,491.7 L900.4,493.6 L901.1,493.1 L901.8,493.2 L902.5,491.9 L903.2,495.3 L903.9,493.7 L904.6,493.9 L905.3,495.0 L906.0,495.2 L906.7,493.8 L907.4,493.8 L908.1,495.0 L908.8,493.1 L909.5,495.2 L910.2,491.7 L910.9,494.7 L911.6,493.7 L912.3,494.0 L913.0,495.5 L913.7,492.4 L914.4,493.2 L915.1,494.7 L915.8,494.5 L916.5,493.6 L917.2,494.6 L917.9,494.2 L918.6,495.0 L919.3,494.1 L920.0,493.0 L920.7,492.6 L921.4,491.8 L922.1,492.0 L922.8,491.7 L923.5,495.4 L924.2,492.0 L924.9,493.9 L925.6,492.0 L926.3,495.3 L927.0,493.6 L927.7,492.2 L928.4,494.7 L929.1,494.9 L929.8,495.3 L930.5,492.3 L931.2,493.0 L931.9,494.1 L932.6,492.5 L933.3,493.7 L934.0,494.2 L934.7,494.4 L935.4,494.7 L936.1,494.4 L936.8,492.5 L937.5,494.4 L938.2,493.1 L938.9,492.0 L939.6,491.4 L940.3,493.8 L941.0,492.8 L941.7,491.7 L942.4,493.3 L943.1,493.0 L943.8,492.6 L944.5,493.6 L945.2,493.5 L945.9,493.4 L946.6,495.3 L947.3,494.9 L948.0,492.5 L948.7,494.8 L949.4,492.6 L950.1,495.0 L950.8,491.5 L951.5,492.5 L952.2,495.0 L952.9,493.9 L953.6,494.1 L954.3,492.1 L955.0,491.7 L955.7,495.1 L956.4,491.5 L957.1,491.9 L957.8,493.0 L958.5,494.5 L959.2,493.9 L959.9,495.2 L960.6,494.3 L961.3,493.0 L962.0,494.8 L962.7,492.5 L963.4,491.4 L964.1,495.0 L964.8,494.7 L965.5,493.8 L966.2,493.1 L966.9,492.0 L967.6,492.0 L968.3,491.4 L969.0,491.5 L969.7,493.1 L970.4,494.7 L971.1,494.9 L971.8,493.2 L972.5,493.8 L973.2,493.0 L973.9,494.2 L974.6,493.9 L975.3,495.0 L976.0,494.5 L976.7,493.8 L977.4,493.5 L978.1,491.8 L978.8,493.0 L979.5,492.9 L980.2,491.7 L980.9,491.9 L981.6,492.7 L982.3,491.8 L983.0,493.5 L983.7,492.4 L984.4,495.0 L985.1,493.8 L985.8,493.1 L986.5,492.8 L987.2,492.6 L987.9,491.8 L988.6,494.9 L989.3,494.7 L990.0,493.0" stroke="#a9cdf2"/>
<path d="M571.0,330.0 L571.7,333.2 L572.4,334.7 L573.2,336.9 L573.9,335.7 L574.6,337.4 L575.3,338.6 L576.1,340.4 L576.8,343.9 L577.5,343.0 L578.2,346.1 L578.9,346.4 L579.7,348.2 L580.4,350.2 L581.1,353.4 L581.8,353.9 L582.6,353.1 L583.3,355.6 L584.0,356.6 L584.8,367.2 L585.5,374.7 L586.2,382.5 L587.0,390.3 L587.8,397.7 L588.5,406.3 L589.2,413.4 L590.0,419.0 L591.0,446.4 L592.0,469.9 L592.8,474.4 L593.6,477.1 L594.4,479.9 L595.2,483.1 L596.0,486.7 L596.7,486.3 L597.4,485.6 L598.1,488.5 L598.8,488.5 L599.5,489.4 L600.2,488.3 L600.9,487.8 L601.6,488.7 L602.3,486.3 L603.0,488.6 L603.7,487.7 L604.4,486.7 L605.1,486.9 L605.8,488.3 L606.5,487.3 L607.2,488.2 L607.9,488.9 L608.6,488.1 L609.3,487.1 L610.0,488.7 L610.7,487.7 L611.4,487.8 L612.1,487.7 L612.8,488.5 L613.5,487.4 L614.3,489.8 L615.0,491.1 L615.7,488.9 L616.4,490.3 L617.1,491.3 L617.8,487.8 L618.5,488.3 L619.2,491.0 L619.9,491.2 L620.6,490.5 L621.3,488.7 L622.0,489.8 L622.7,491.7 L623.4,491.9 L624.1,491.6 L624.8,489.3 L625.5,492.0 L626.2,490.1 L626.9,491.6 L627.6,489.4 L628.3,492.8 L629.0,491.4 L629.7,492.0 L630.4,490.0 L631.1,491.7 L631.8,491.6 L632.5,491.8 L633.2,490.9 L633.9,492.5 L634.6,491.0 L635.3,490.9 L636.0,490.5 L636.7,492.7 L637.4,490.5 L638.1,491.0 L638.8,490.4 L639.5,492.8 L640.2,492.6 L640.9,492.6 L641.6,490.7 L642.3,492.4 L643.0,492.1 L643.7,491.1 L644.4,490.9 L645.1,494.9 L645.8,491.5 L646.5,492.3 L647.2,492.3 L647.9,493.7 L648.6,491.7 L649.4,493.3 L650.1,493.0 L650.8,494.9 L651.5,491.7 L652.2,493.1 L652.9,493.9 L653.6,495.8 L654.3,494.1 L655.0,494.0 L655.7,494.9 L656.4,493.5 L657.1,492.5 L657.8,494.5 L658.5,496.2 L659.2,495.6 L659.9,493.7 L660.6,495.5 L661.3,496.3 L662.0,494.0 L662.7,495.4 L663.4,494.6 L664.1,494.2 L664.8,494.5 L665.5,494.2 L666.2,494.9 L666.9,493.7 L667.6,495.2 L668.3,494.1 L669.0,496.8 L669.7,496.3 L670.4,494.0 L671.1,497.2 L671.8,494.9 L672.5,496.2 L673.2,496.5 L673.9,495.7 L674.6,495.7 L675.3,496.3 L676.0,495.2 L676.7,498.2 L677.4,495.3 L678.1,498.2 L678.8,495.9 L679.5,496.3 L680.2,496.7 L680.9,495.4 L681.6,495.9 L682.3,496.9 L683.0,497.3 L683.7,499.1 L684.5,499.6 L685.2,495.9 L685.9,498.0 L686.6,496.5 L687.3,499.2 L688.0,497.4 L688.7,499.8 L689.4,498.5 L690.1,496.9 L690.8,496.5 L691.5,497.5 L692.2,500.1 L692.9,497.3 L693.6,498.7 L694.3,498.4 L695.0,498.3 L695.7,500.2 L696.4,498.0 L697.1,500.1 L697.8,500.0 L698.5,501.1 L699.2,499.5 L699.9,501.2 L700.6,499.4 L701.3,500.0 L702.0,500.3 L702.7,501.2 L703.4,501.4 L704.1,498.3 L704.8,498.4 L705.5,500.0 L706.2,501.1 L706.9,500.0 L707.6,499.0 L708.3,501.7 L709.0,499.0 L709.7,498.2 L710.4,498.1 L711.1,498.0 L711.8,500.8 L712.5,498.3 L713.2,500.8 L713.9,501.4 L714.6,501.9 L715.3,501.1 L716.0,499.6 L716.7,500.4 L717.4,501.3 L718.1,500.8 L718.8,499.1 L719.5,501.0 L720.2,498.4 L720.9,499.2 L721.6,501.9 L722.3,499.8 L723.0,499.0 L723.7,501.1 L724.4,499.8 L725.1,498.0 L725.8,498.1 L726.5,499.0 L727.3,499.3 L728.0,501.8 L728.7,499.0 L729.4,501.4 L730.1,501.4 L730.8,499.7 L731.5,502.0 L732.2,501.1 L732.9,500.0 L733.6,499.1 L734.3,499.9 L735.0,501.7 L735.7,500.2 L736.4,498.9 L737.1,499.6 L737.8,500.0 L738.5,498.9 L739.2,500.4 L739.9,498.2 L740.6,501.4 L741.3,498.8 L742.0,498.5 L742.7,500.5 L743.4,499.4 L744.1,501.7 L744.8,500.1 L745.5,500.2 L746.2,501.5 L746.9,499.0 L747.6,501.2 L748.3,500.8 L749.0,499.9 L749.7,502.0 L750.4,498.3 L751.1,501.6 L751.8,498.8 L752.5,501.6 L753.2,498.8 L753.9,498.4 L754.6,500.2 L755.3,501.9 L756.0,499.3 L756.7,500.2 L757.4,500.7 L758.1,499.2 L758.8,500.4 L759.5,498.3 L760.2,500.1 L760.9,501.3 L761.6,499.6 L762.3,499.2 L763.0,498.5 L763.7,501.1 L764.4,500.0 L765.1,502.0 L765.8,501.3 L766.5,498.7 L767.2,502.0 L767.9,502.1 L768.6,501.6 L769.3,501.7 L770.0,501.1 L770.7,501.2 L771.4,501.0 L772.1,500.7 L772.8,499.4 L773.5,498.9 L774.2,501.3 L774.9,500.8 L775.6,498.6 L776.4,501.0 L777.1,500.8 L777.8,500.5 L778.5,501.5 L779.2,501.9 L779.9,500.0 L780.6,501.7 L781.3,500.4 L782.0,500.7 L782.7,500.1 L783.4,502.2 L784.1,500.2 L784.8,502.3 L785.5,499.8 L786.2,501.2 L786.9,502.1 L787.6,501.2 L788.3,500.0 L789.0,498.8 L789.7,500.4 L790.4,500.2 L791.1,501.8 L791.8,501.7 L792.5,502.5 L793.2,500.3 L793.9,500.2 L794.6,500.8 L795.3,501.6 L796.0,498.9 L796.7,499.4 L797.4,499.2 L798.1,499.9 L798.8,499.8 L799.5,502.5 L800.2,499.4 L800.9,502.3 L801.6,499.8 L802.3,499.4 L803.0,502.5 L803.7,499.0 L804.4,499.1 L805.1,499.2 L805.8,498.9 L806.5,500.2 L807.2,499.5 L807.9,499.3 L808.6,498.7 L809.3,501.5 L810.0,498.9 L810.7,499.6 L811.4,500.9 L812.1,502.2 L812.8,501.3 L813.5,501.5 L814.2,501.5 L814.9,501.9 L815.6,502.1 L816.3,499.3 L817.0,498.9 L817.7,501.2 L818.4,500.8 L819.1,500.8 L819.8,501.9 L820.5,499.5 L821.2,501.6 L821.9,500.5 L822.6,500.5 L823.3,499.8 L824.0,499.9 L824.7,501.1 L825.5,501.0 L826.2,502.4 L826.9,499.9 L827.6,501.7 L828.3,499.2 L829.0,501.4 L829.7,499.5 L830.4,502.3 L831.1,502.7 L831.8,499.9 L832.5,502.1 L833.2,499.7 L833.9,500.1 L834.6,499.3 L835.3,500.6 L836.0,499.3 L836.7,501.7 L837.4,501.2 L838.1,500.6 L838.8,501.7 L839.5,499.8 L840.2,500.2 L840.9,500.4 L841.6,498.9 L842.3,502.5 L843.0,499.3 L843.7,499.4 L844.4,502.1 L845.1,502.2 L845.8,500.8 L846.5,500.7 L847.2,499.5 L847.9,499.0 L848.6,501.1 L849.3,500.0 L850.0,499.6 L850.7,502.6 L851.4,499.1 L852.1,500.5 L852.8,502.0 L853.5,502.0 L854.2,499.5 L854.9,502.0 L855.6,501.3 L856.3,501.6 L857.0,502.8 L857.7,502.2 L858.4,501.5 L859.1,502.1 L859.8,501.0 L860.5,501.3 L861.2,502.3 L861.9,501.6 L862.6,500.6 L863.3,499.2 L864.0,502.3 L864.7,500.5 L865.4,500.8 L866.1,500.3 L866.8,501.3 L867.5,500.7 L868.2,502.5 L868.9,501.5 L869.6,501.4 L870.3,502.3 L871.0,500.9 L871.7,501.3 L872.4,502.2 L873.1,502.1 L873.8,502.1 L874.5,502.7 L875.2,501.4 L875.9,501.4 L876.6,499.9 L877.3,500.2 L878.0,500.9 L878.7,501.2 L879.4,502.8 L880.1,499.4 L880.8,500.6 L881.5,502.2 L882.2,501.1 L882.9,502.6 L883.6,499.9 L884.3,502.3 L885.0,501.0 L885.7,501.5 L886.4,499.5 L887.1,500.9 L887.8,502.5 L888.5,502.2 L889.2,501.5 L889.9,501.0 L890.6,499.4 L891.3,502.1 L892.0,501.1 L892.7,502.2 L893.4,501.8 L894.1,500.9 L894.8,502.8 L895.5,499.9 L896.2,503.2 L896.9,499.7 L897.6,503.2 L898.3,501.7 L899.0,501.1 L899.7,503.1 L900.4,501.4 L901.1,501.4 L901.8,499.6 L902.5,502.6 L903.2,501.9 L903.9,500.3 L904.6,499.8 L905.3,501.1 L906.0,503.1 L906.7,502.9 L907.4,501.3 L908.1,499.6 L908.8,502.7 L909.5,500.2 L910.2,502.4 L910.9,501.4 L911.6,503.3 L912.3,500.0 L913.0,502.6 L913.7,502.3 L914.4,499.5 L915.1,501.7 L915.8,500.6 L916.5,502.3 L917.2,503.3 L917.9,502.1 L918.6,501.5 L919.3,501.9 L920.0,500.5 L920.7,501.4 L921.4,500.0 L922.1,502.4 L922.8,499.8 L923.5,501.6 L924.2,500.2 L924.9,501.8 L925.6,499.8 L926.3,499.7 L927.0,502.0 L927.7,502.4 L928.4,503.1 L929.1,502.3 L929.8,503.6 L930.5,500.1 L931.2,502.1 L931.9,502.1 L932.6,500.3 L933.3,500.2 L934.0,500.6 L934.7,501.7 L935.4,502.8 L936.1,502.5 L936.8,501.9 L937.5,499.9 L938.2,502.5 L938.9,501.7 L939.6,500.3 L940.3,502.1 L941.0,500.6 L941.7,500.9 L942.4,501.5 L943.1,502.7 L943.8,500.1 L944.5,501.4 L945.2,500.6 L945.9,502.4 L946.6,503.0 L947.3,500.8 L948.0,502.6 L948.7,501.6 L949.4,500.6 L950.1,500.8 L950.8,501.9 L951.5,503.0 L952.2,502.1 L952.9,499.7 L953.6,502.9 L954.3,502.1 L955.0,501.4 L955.7,500.7 L956.4,501.5 L957.1,502.5 L957.8,500.9 L958.5,500.3 L959.2,503.3 L959.9,501.6 L960.6,500.1 L961.3,503.4 L962.0,500.2 L962.7,501.3 L963.4,502.3 L964.1,502.5 L964.8,503.4 L965.5,500.5 L966.2,502.1 L966.9,503.4 L967.6,501.7 L968.3,502.7 L969.0,501.7 L969.7,502.7 L970.4,503.7 L971.1,501.2 L971.8,502.8 L972.5,501.3 L973.2,503.4 L973.9,502.9 L974.6,503.3 L975.3,503.4 L976.0,502.3 L976.7,503.7 L977.4,500.5 L978.1,502.2 L978.8,500.2 L979.5,502.3 L980.2,502.7 L980.9,501.1 L981.6,503.2 L982.3,501.6 L983.0,500.7 L983.7,500.7 L984.4,502.3 L985.1,501.5 L985.8,500.2 L986.5,501.2 L987.2,503.9 L987.9,501.9 L988.6,502.7 L989.3,501.7 L990.0,502.0" stroke="#4f86d0"/>
<path d="M571.0,332.4 L571.7,336.3 L572.4,337.7 L573.1,340.3 L573.9,339.2 L574.6,340.6 L575.3,344.1 L576.0,345.3 L576.7,345.4 L577.4,348.5 L578.1,348.8 L578.9,351.9 L579.6,350.8 L580.3,352.7 L581.0,356.9 L581.7,356.3 L582.4,357.4 L583.1,361.1 L583.9,362.0 L584.6,361.6 L585.3,364.7 L586.0,366.7 L586.8,375.2 L587.5,387.6 L588.2,396.0 L589.0,407.3 L589.8,416.8 L590.5,427.8 L591.2,441.4 L592.0,449.6 L592.8,457.6 L593.5,461.0 L594.2,467.3 L595.0,474.0 L595.8,478.9 L596.5,482.2 L597.2,489.7 L598.0,495.5 L598.7,494.0 L599.4,493.9 L600.1,497.3 L600.8,496.1 L601.5,495.1 L602.3,496.4 L603.0,495.7 L603.7,498.3 L604.4,497.3 L605.1,496.0 L605.8,499.1 L606.5,496.5 L607.2,497.5 L607.9,496.7 L608.6,499.8 L609.4,497.6 L610.1,499.5 L610.8,498.0 L611.5,499.8 L612.2,500.9 L612.9,500.6 L613.6,500.5 L614.3,500.9 L615.0,500.9 L615.7,501.8 L616.5,500.1 L617.2,501.9 L617.9,501.2 L618.6,503.9 L619.3,504.5 L620.0,501.3 L620.7,501.6 L621.4,503.8 L622.1,503.3 L622.8,501.1 L623.5,503.9 L624.2,504.9 L624.9,502.8 L625.6,502.5 L626.3,503.4 L627.0,504.9 L627.7,502.2 L628.4,502.4 L629.1,501.9 L629.8,503.7 L630.5,503.1 L631.2,502.3 L631.9,502.8 L632.6,501.4 L633.3,502.5 L634.0,505.2 L634.7,503.6 L635.4,502.4 L636.1,505.1 L636.8,502.8 L637.5,502.4 L638.2,501.5 L638.9,502.0 L639.6,502.2 L640.3,502.3 L641.0,504.9 L641.7,502.5 L642.4,502.5 L643.1,503.9 L643.8,505.2 L644.5,502.7 L645.2,504.6 L645.9,503.0 L646.6,503.8 L647.3,504.0 L648.0,505.4 L648.7,504.6 L649.4,503.6 L650.1,505.0 L650.8,503.1 L651.5,503.2 L652.2,505.5 L652.9,503.9 L653.6,504.8 L654.3,503.0 L655.0,505.4 L655.7,504.2 L656.4,502.7 L657.1,505.5 L657.8,503.7 L658.5,503.2 L659.2,502.9 L659.9,502.2 L660.6,502.6 L661.4,504.6 L662.1,502.4 L662.8,502.9 L663.5,503.7 L664.2,504.1 L664.9,503.5 L665.6,505.1 L666.3,503.0 L667.0,503.4 L667.7,503.7 L668.4,502.5 L669.1,502.9 L669.8,502.6 L670.5,504.9 L671.2,502.6 L671.9,504.7 L672.6,503.0 L673.3,504.7 L674.0,504.7 L674.7,503.5 L675.4,505.9 L676.1,504.8 L676.8,504.4 L677.5,502.4 L678.2,503.8 L678.9,503.3 L679.6,504.1 L680.3,506.0 L681.0,505.7 L681.7,502.5 L682.4,505.0 L683.1,506.0 L683.8,504.5 L684.5,502.7 L685.2,505.8 L685.9,504.1 L686.6,506.3 L687.3,505.9 L688.0,505.7 L688.7,506.1 L689.4,502.7 L690.1,505.6 L690.8,503.7 L691.5,503.0 L692.2,504.0 L692.9,504.9 L693.6,502.5 L694.3,504.3 L695.0,505.7 L695.7,504.6 L696.4,504.7 L697.1,503.8 L697.8,506.5 L698.5,503.6 L699.2,505.4 L699.9,505.2 L700.6,502.7 L701.3,506.7 L702.0,503.6 L702.7,506.7 L703.4,506.4 L704.1,506.3 L704.8,506.1 L705.5,504.3 L706.2,504.5 L706.9,504.1 L707.6,506.5 L708.3,502.8 L709.0,503.3 L709.7,506.5 L710.4,505.9 L711.1,505.5 L711.8,506.6 L712.5,504.8 L713.2,506.1 L713.9,504.5 L714.6,506.3 L715.3,503.0 L716.0,504.5 L716.7,505.0 L717.4,505.9 L718.1,504.4 L718.8,505.5 L719.5,506.6 L720.2,504.4 L720.9,503.5 L721.6,502.9 L722.3,506.2 L723.0,504.6 L723.7,504.3 L724.4,504.8 L725.1,503.2 L725.8,503.6 L726.5,503.7 L727.3,503.8 L728.0,506.2 L728.7,503.7 L729.4,503.1 L730.1,506.2 L730.8,505.0 L731.5,502.9 L732.2,505.5 L732.9,505.5 L733.6,505.4 L734.3,505.9 L735.0,504.5 L735.7,503.7 L736.4,505.7 L737.1,505.3 L737.8,505.6 L738.5,503.5 L739.2,504.3 L739.9,505.5 L740.6,504.3 L741.3,505.2 L742.0,504.7 L742.7,505.8 L743.4,504.2 L744.1,504.8 L744.8,506.1 L745.5,504.0 L746.2,503.5 L746.9,505.3 L747.6,503.3 L748.3,506.2 L749.0,503.9 L749.7,506.4 L750.4,504.9 L751.1,503.4 L751.8,504.9 L752.5,505.5 L753.2,504.7 L753.9,505.3 L754.6,504.3 L755.3,506.6 L756.0,503.5 L756.7,506.0 L757.4,502.9 L758.1,504.8 L758.8,503.1 L759.5,503.3 L760.2,505.2 L760.9,506.4 L761.6,504.1 L762.3,504.4 L763.0,504.7 L763.7,505.2 L764.4,504.2 L765.1,504.2 L765.8,506.2 L766.5,505.1 L767.2,504.2 L767.9,506.1 L768.6,506.8 L769.3,504.6 L770.0,502.9 L770.7,504.1 L771.4,506.4 L772.1,503.5 L772.8,503.6 L773.5,506.0 L774.2,503.3 L774.9,506.2 L775.6,503.8 L776.4,504.4 L777.1,505.2 L777.8,503.3 L778.5,506.0 L779.2,504.6 L779.9,505.9 L780.6,505.9 L781.3,503.2 L782.0,506.2 L782.7,506.1 L783.4,503.8 L784.1,505.2 L784.8,503.7 L785.5,505.0 L786.2,505.9 L786.9,504.4 L787.6,505.0 L788.3,503.4 L789.0,506.3 L789.7,505.4 L790.4,506.2 L791.1,503.2 L791.8,505.9 L792.5,503.2 L793.2,505.1 L793.9,503.8 L794.6,506.5 L795.3,503.3 L796.0,504.8 L796.7,504.8 L797.4,504.4 L798.1,503.2 L798.8,505.6 L799.5,506.8 L800.2,504.3 L800.9,506.5 L801.6,504.3 L802.3,504.0 L803.0,504.7 L803.7,506.8 L804.4,506.0 L805.1,505.4 L805.8,503.1 L806.5,504.7 L807.2,503.0 L807.9,503.2 L808.6,504.4 L809.3,503.9 L810.0,503.3 L810.7,505.0 L811.4,506.1 L812.1,506.6 L812.8,506.6 L813.5,504.6 L814.2,503.6 L814.9,506.8 L815.6,504.6 L816.3,504.3 L817.0,506.2 L817.7,505.2 L818.4,506.7 L819.1,505.7 L819.8,506.7 L820.5,503.6 L821.2,506.7 L821.9,505.1 L822.6,505.7 L823.3,504.1 L824.0,503.9 L824.7,504.1 L825.5,503.6 L826.2,506.8 L826.9,503.4 L827.6,503.9 L828.3,505.5 L829.0,503.8 L829.7,503.8 L830.4,504.0 L831.1,503.9 L831.8,503.0 L832.5,505.9 L833.2,505.6 L833.9,504.2 L834.6,506.6 L835.3,505.2 L836.0,503.9 L836.7,506.8 L837.4,503.9 L838.1,506.2 L838.8,506.2 L839.5,503.0 L840.2,506.4 L840.9,504.7 L841.6,505.0 L842.3,506.8 L843.0,504.8 L843.7,504.0 L844.4,503.2 L845.1,506.5 L845.8,504.8 L846.5,505.8 L847.2,505.6 L847.9,506.9 L848.6,506.7 L849.3,506.7 L850.0,505.0 L850.7,506.6 L851.4,504.2 L852.1,503.5 L852.8,505.6 L853.5,503.1 L854.2,506.9 L854.9,504.3 L855.6,504.7 L856.3,504.2 L857.0,504.3 L857.7,505.2 L858.4,506.3 L859.1,503.1 L859.8,504.4 L860.5,504.1 L861.2,506.9 L861.9,504.8 L862.6,504.9 L863.3,506.8 L864.0,504.6 L864.7,504.6 L865.4,504.7 L866.1,504.1 L866.8,505.9 L867.5,504.3 L868.2,505.2 L868.9,505.4 L869.6,506.2 L870.3,506.1 L871.0,505.1 L871.7,507.0 L872.4,506.9 L873.1,506.9 L873.8,506.0 L874.5,505.0 L875.2,504.6 L875.9,506.6 L876.6,505.1 L877.3,506.2 L878.0,504.8 L878.7,504.7 L879.4,503.3 L880.1,506.1 L880.8,504.4 L881.5,505.2 L882.2,506.1 L882.9,506.6 L883.6,507.0 L884.3,505.9 L885.0,504.2 L885.7,507.0 L886.4,503.5 L887.1,504.9 L887.8,507.0 L888.5,506.7 L889.2,505.7 L889.9,506.8 L890.6,504.0 L891.3,503.5 L892.0,504.5 L892.7,507.0 L893.4,503.5 L894.1,504.6 L894.8,505.4 L895.5,504.1 L896.2,506.8 L896.9,503.8 L897.6,503.7 L898.3,507.3 L899.0,503.4 L899.7,504.2 L900.4,505.0 L901.1,506.9 L901.8,504.7 L902.5,505.7 L903.2,506.6 L903.9,505.9 L904.6,506.7 L905.3,503.5 L906.0,505.6 L906.7,503.5 L907.4,506.8 L908.1,503.5 L908.8,503.8 L909.5,505.1 L910.2,505.9 L910.9,503.5 L911.6,506.0 L912.3,503.9 L913.0,504.7 L913.7,503.6 L914.4,506.4 L915.1,506.8 L915.8,506.5 L916.5,504.8 L917.2,504.5 L917.9,507.3 L918.6,506.8 L919.3,507.4 L920.0,505.2 L920.7,507.0 L921.4,506.2 L922.1,506.7 L922.8,505.6 L923.5,506.7 L924.2,505.5 L924.9,504.6 L925.6,505.5 L926.3,503.7 L927.0,506.2 L927.7,504.9 L928.4,504.3 L929.1,506.7 L929.8,505.7 L930.5,504.8 L931.2,507.3 L931.9,507.3 L932.6,505.3 L933.3,505.8 L934.0,503.6 L934.7,505.0 L935.4,507.6 L936.1,505.7 L936.8,507.6 L937.5,503.7 L938.2,503.7 L938.9,503.9 L939.6,503.9 L940.3,506.7 L941.0,507.6 L941.7,506.7 L942.4,506.1 L943.1,505.2 L943.8,505.2 L944.5,504.2 L945.2,505.3 L945.9,504.2 L946.6,506.9 L947.3,505.8 L948.0,505.2 L948.7,507.1 L949.4,504.9 L950.1,507.2 L950.8,506.6 L951.5,506.2 L952.2,506.1 L952.9,506.3 L953.6,507.4 L954.3,507.7 L955.0,506.0 L955.7,507.6 L956.4,504.7 L957.1,507.5 L957.8,507.3 L958.5,506.3 L959.2,504.2 L959.9,507.3 L960.6,505.3 L961.3,505.1 L962.0,507.6 L962.7,504.2 L963.4,506.4 L964.1,504.7 L964.8,507.3 L965.5,504.7 L966.2,504.3 L966.9,505.8 L967.6,505.7 L968.3,506.9 L969.0,505.0 L969.7,505.0 L970.4,505.0 L971.1,506.1 L971.8,504.4 L972.5,506.1 L973.2,507.2 L973.9,506.6 L974.6,504.9 L975.3,505.8 L976.0,504.3 L976.7,505.8 L977.4,507.0 L978.1,503.9 L978.8,506.5 L979.5,507.6 L980.2,505.0 L980.9,505.2 L981.6,506.7 L982.3,504.6 L983.0,505.0 L983.7,506.4 L984.4,506.0 L985.1,504.6 L985.8,504.8 L986.5,505.9 L987.2,507.4 L987.9,504.8 L988.6,506.7 L989.3,506.1 L990.0,506.0" stroke="#3a70c0"/>
<path d="M571.0,339.9 L571.7,339.8 L572.4,346.5 L573.1,348.0 L573.8,355.1 L574.5,355.1 L575.2,362.3 L575.9,365.3 L576.6,369.8 L577.3,374.2 L578.0,375.0 L578.8,383.4 L579.5,392.8 L580.2,399.1 L581.0,407.1 L581.8,414.9 L582.5,425.4 L583.2,433.5 L584.0,441.2 L584.8,453.6 L585.5,471.2 L586.2,484.3 L587.0,497.9 L587.7,498.9 L588.4,498.9 L589.1,497.7 L589.8,499.8 L590.5,499.1 L591.2,500.0 L591.9,501.6 L592.6,500.6 L593.3,499.8 L594.0,501.7 L594.7,502.4 L595.4,500.5 L596.1,502.4 L596.8,498.9 L597.5,499.5 L598.2,499.7 L598.9,502.9 L599.6,502.1 L600.3,502.3 L601.0,500.7 L601.7,501.7 L602.4,503.4 L603.1,500.3 L603.9,500.5 L604.6,500.4 L605.3,502.2 L606.0,503.8 L606.7,502.8 L607.4,502.3 L608.1,502.8 L608.8,501.7 L609.5,504.9 L610.2,502.6 L610.9,502.3 L611.6,502.7 L612.3,504.9 L613.0,503.0 L613.7,505.5 L614.4,503.3 L615.1,503.9 L615.8,502.5 L616.5,506.0 L617.2,505.7 L617.9,504.5 L618.6,503.2 L619.3,504.8 L620.0,504.5 L620.7,506.4 L621.4,506.7 L622.1,506.0 L622.8,504.2 L623.5,503.3 L624.2,506.7 L624.9,506.9 L625.6,503.8 L626.3,505.2 L627.0,505.1 L627.7,507.1 L628.4,503.4 L629.1,503.5 L629.8,506.6 L630.5,505.6 L631.2,505.2 L631.9,506.4 L632.6,505.7 L633.3,506.1 L634.0,504.4 L634.7,503.7 L635.4,503.4 L636.1,504.8 L636.8,506.0 L637.5,505.0 L638.2,504.9 L638.9,506.0 L639.6,506.3 L640.3,505.9 L641.0,504.8 L641.7,506.9 L642.4,506.8 L643.1,507.2 L643.8,507.2 L644.5,503.7 L645.2,506.4 L645.9,505.1 L646.6,505.3 L647.3,505.8 L648.0,504.3 L648.7,504.8 L649.4,507.7 L650.1,505.1 L650.8,507.5 L651.5,506.6 L652.2,505.1 L652.9,505.2 L653.6,506.3 L654.3,506.7 L655.0,505.3 L655.7,504.2 L656.4,504.7 L657.1,507.4 L657.8,506.9 L658.5,504.5 L659.2,507.4 L659.9,506.4 L660.6,505.4 L661.4,507.7 L662.1,504.6 L662.8,504.5 L663.5,505.5 L664.2,507.1 L664.9,506.4 L665.6,506.2 L666.3,507.9 L667.0,505.8 L667.7,507.4 L668.4,504.3 L669.1,507.4 L669.8,505.0 L670.5,507.0 L671.2,507.7 L671.9,507.0 L672.6,506.7 L673.3,506.6 L674.0,507.5 L674.7,505.9 L675.4,505.4 L676.1,506.7 L676.8,506.6 L677.5,505.0 L678.2,506.7 L678.9,506.4 L679.6,505.2 L680.3,507.4 L681.0,507.7 L681.7,506.0 L682.4,508.1 L683.1,508.6 L683.8,507.4 L684.5,506.4 L685.2,505.8 L685.9,505.3 L686.6,505.9 L687.3,508.8 L688.0,505.1 L688.7,508.5 L689.4,507.7 L690.1,508.0 L690.8,505.3 L691.5,507.5 L692.2,505.8 L692.9,507.7 L693.6,508.2 L694.3,507.9 L695.0,507.2 L695.7,508.6 L696.4,506.0 L697.1,505.7 L697.8,508.5 L698.5,505.3 L699.2,506.8 L699.9,506.8 L700.6,508.7 L701.3,506.7 L702.0,507.5 L702.7,507.2 L703.4,507.1 L704.1,507.1 L704.8,507.1 L705.5,507.6 L706.2,507.0 L706.9,506.9 L707.6,508.9 L708.3,509.1 L709.0,506.2 L709.7,509.0 L710.4,505.3 L711.1,506.6 L711.8,508.8 L712.5,505.9 L713.2,507.9 L713.9,509.2 L714.6,507.7 L715.3,507.1 L716.0,505.4 L716.7,507.1 L717.4,507.1 L718.1,508.4 L718.8,506.9 L719.5,508.5 L720.2,506.9 L720.9,507.8 L721.6,508.3 L722.3,506.0 L723.0,509.1 L723.7,507.1 L724.4,507.2 L725.1,509.2 L725.8,507.6 L726.5,507.4 L727.3,506.2 L728.0,506.2 L728.7,508.4 L729.4,507.4 L730.1,508.0 L730.8,508.1 L731.5,508.1 L732.2,506.7 L732.9,508.8 L733.6,507.2 L734.3,506.1 L735.0,508.8 L735.7,509.0 L736.4,505.9 L737.1,508.9 L737.8,508.1 L738.5,506.5 L739.2,507.7 L739.9,509.1 L740.6,506.0 L741.3,508.1 L742.0,506.4 L742.7,506.0 L743.4,509.2 L744.1,509.4 L744.8,508.1 L745.5,508.6 L746.2,507.0 L746.9,507.2 L747.6,507.9 L748.3,508.7 L749.0,508.3 L749.7,507.3 L750.4,508.0 L751.1,507.1 L751.8,508.7 L752.5,508.9 L753.2,508.6 L753.9,506.8 L754.6,507.0 L755.3,509.4 L756.0,507.0 L756.7,508.2 L757.4,505.9 L758.1,506.0 L758.8,506.4 L759.5,508.2 L760.2,506.4 L760.9,508.1 L761.6,505.8 L762.3,508.3 L763.0,508.3 L763.7,506.6 L764.4,506.5 L765.1,506.5 L765.8,507.5 L766.5,506.3 L767.2,506.5 L767.9,508.8 L768.6,509.3 L769.3,506.2 L770.0,507.6 L770.7,508.2 L771.4,509.4 L772.1,507.8 L772.8,507.7 L773.5,508.7 L774.2,508.7 L774.9,508.4 L775.6,508.1 L776.4,508.8 L777.1,505.8 L777.8,508.7 L778.5,506.5 L779.2,507.0 L779.9,507.2 L780.6,507.7 L781.3,508.0 L782.0,508.0 L782.7,506.9 L783.4,507.1 L784.1,508.3 L784.8,509.4 L785.5,507.2 L786.2,505.7 L786.9,509.1 L787.6,509.2 L788.3,509.0 L789.0,508.2 L789.7,507.3 L790.4,505.9 L791.1,509.4 L791.8,507.4 L792.5,506.2 L793.2,508.2 L793.9,505.9 L794.6,507.3 L795.3,508.1 L796.0,508.9 L796.7,507.1 L797.4,506.5 L798.1,507.1 L798.8,509.0 L799.5,506.1 L800.2,506.3 L800.9,507.1 L801.6,509.5 L802.3,509.3 L803.0,509.6 L803.7,505.9 L804.4,507.8 L805.1,506.3 L805.8,508.1 L806.5,508.9 L807.2,507.7 L807.9,508.5 L808.6,508.5 L809.3,507.8 L810.0,507.3 L810.7,506.7 L811.4,508.7 L812.1,509.7 L812.8,509.7 L813.5,509.5 L814.2,509.2 L814.9,508.4 L815.6,507.8 L816.3,506.3 L817.0,509.0 L817.7,506.6 L818.4,509.6 L819.1,509.3 L819.8,507.0 L820.5,509.5 L821.2,508.9 L821.9,509.1 L822.6,506.3 L823.3,506.9 L824.0,506.5 L824.7,509.6 L825.5,506.8 L826.2,507.6 L826.9,508.9 L827.6,507.5 L828.3,508.4 L829.0,508.4 L829.7,507.4 L830.4,509.6 L831.1,508.6 L831.8,508.9 L832.5,508.8 L833.2,508.4 L833.9,506.6 L834.6,509.6 L835.3,509.7 L836.0,506.3 L836.7,507.4 L837.4,506.7 L838.1,506.5 L838.8,508.3 L839.5,507.7 L840.2,506.5 L840.9,507.9 L841.6,508.7 L842.3,506.5 L843.0,508.5 L843.7,508.6 L844.4,509.3 L845.1,510.0 L845.8,509.5 L846.5,507.5 L847.2,506.3 L847.9,507.3 L848.6,506.7 L849.3,509.4 L850.0,507.5 L850.7,508.2 L851.4,508.9 L852.1,507.9 L852.8,510.0 L853.5,508.7 L854.2,508.4 L854.9,506.7 L855.6,507.0 L856.3,508.8 L857.0,507.8 L857.7,508.4 L858.4,509.6 L859.1,508.8 L859.8,509.4 L860.5,507.5 L861.2,506.4 L861.9,507.2 L862.6,509.7 L863.3,507.1 L864.0,506.6 L864.7,506.4 L865.4,510.1 L866.1,507.0 L866.8,506.4 L867.5,507.6 L868.2,506.3 L868.9,509.1 L869.6,508.9 L870.3,507.8 L871.0,509.1 L871.7,506.2 L872.4,509.3 L873.1,508.7 L873.8,509.2 L874.5,506.7 L875.2,510.0 L875.9,510.1 L876.6,508.1 L877.3,507.5 L878.0,508.3 L878.7,509.0 L879.4,508.1 L880.1,508.4 L880.8,510.0 L881.5,509.1 L882.2,507.8 L882.9,509.9 L883.6,509.4 L884.3,506.3 L885.0,508.2 L885.7,507.5 L886.4,507.5 L887.1,507.7 L887.8,509.6 L888.5,508.7 L889.2,507.3 L889.9,506.6 L890.6,506.9 L891.3,507.8 L892.0,508.5 L892.7,508.3 L893.4,508.0 L894.1,508.4 L894.8,507.6 L895.5,510.1 L896.2,507.2 L896.9,507.8 L897.6,509.0 L898.3,509.7 L899.0,508.0 L899.7,508.9 L900.4,507.4 L901.1,506.4 L901.8,510.2 L902.5,506.6 L903.2,509.4 L903.9,506.5 L904.6,507.6 L905.3,508.5 L906.0,510.0 L906.7,509.6 L907.4,507.6 L908.1,506.4 L908.8,509.4 L909.5,509.4 L910.2,510.2 L910.9,507.0 L911.6,509.1 L912.3,508.9 L913.0,510.0 L913.7,509.8 L914.4,509.5 L915.1,509.9 L915.8,506.8 L916.5,510.4 L917.2,508.9 L917.9,510.1 L918.6,507.1 L919.3,508.6 L920.0,510.0 L920.7,510.4 L921.4,509.0 L922.1,510.1 L922.8,506.6 L923.5,506.9 L924.2,507.6 L924.9,510.0 L925.6,509.4 L926.3,508.2 L927.0,510.2 L927.7,508.6 L928.4,507.1 L929.1,510.3 L929.8,509.5 L930.5,510.6 L931.2,509.7 L931.9,508.6 L932.6,510.2 L933.3,507.1 L934.0,506.6 L934.7,507.7 L935.4,510.4 L936.1,507.0 L936.8,509.6 L937.5,508.8 L938.2,507.2 L938.9,507.5 L939.6,509.5 L940.3,508.2 L941.0,510.2 L941.7,506.9 L942.4,509.0 L943.1,510.1 L943.8,507.6 L944.5,507.8 L945.2,509.0 L945.9,507.4 L946.6,509.3 L947.3,510.4 L948.0,508.0 L948.7,507.4 L949.4,510.2 L950.1,506.9 L950.8,510.1 L951.5,508.4 L952.2,509.9 L952.9,508.2 L953.6,510.6 L954.3,509.4 L955.0,509.1 L955.7,507.0 L956.4,509.1 L957.1,507.7 L957.8,509.6 L958.5,508.0 L959.2,507.7 L959.9,507.3 L960.6,507.8 L961.3,507.3 L962.0,507.9 L962.7,509.0 L963.4,510.2 L964.1,509.9 L964.8,508.3 L965.5,510.5 L966.2,508.2 L966.9,508.5 L967.6,509.0 L968.3,509.2 L969.0,508.8 L969.7,509.5 L970.4,507.6 L971.1,507.7 L971.8,508.2 L972.5,508.6 L973.2,507.9 L973.9,509.2 L974.6,507.2 L975.3,508.6 L976.0,508.7 L976.7,509.3 L977.4,507.5 L978.1,509.5 L978.8,508.8 L979.5,510.6 L980.2,507.5 L980.9,508.5 L981.6,510.1 L982.3,510.7 L983.0,510.2 L983.7,510.5 L984.4,508.7 L985.1,507.9 L985.8,508.0 L986.5,509.5 L987.2,509.6 L987.9,508.7 L988.6,507.8 L989.3,510.5 L990.0,509.0" stroke="#2d5f9f"/>
<path d="M571.0,339.4 L571.7,342.2 L572.4,344.2 L573.1,346.6 L573.9,348.8 L574.6,352.1 L575.3,352.7 L576.0,356.5 L576.7,356.3 L577.4,359.8 L578.1,362.2 L578.9,363.7 L579.6,368.4 L580.3,369.0 L581.0,373.2 L581.7,380.0 L582.5,383.4 L583.2,392.1 L583.9,398.0 L584.6,403.6 L585.4,407.2 L586.1,415.1 L586.8,422.0 L587.5,426.8 L588.3,432.7 L589.0,439.2 L589.7,444.5 L590.5,452.1 L591.2,455.8 L591.9,461.5 L592.6,467.8 L593.4,474.5 L594.1,477.4 L594.8,481.8 L595.5,491.0 L596.3,495.9 L597.0,501.2 L597.7,500.4 L598.4,499.5 L599.1,499.5 L599.8,500.4 L600.6,501.3 L601.3,500.0 L602.0,502.8 L602.7,503.2 L603.4,500.6 L604.1,504.2 L604.8,503.1 L605.5,505.1 L606.2,503.6 L606.9,505.2 L607.7,504.1 L608.4,505.0 L609.1,504.9 L609.8,503.3 L610.5,504.0 L611.2,504.7 L611.9,505.6 L612.6,505.8 L613.3,506.8 L614.1,507.5 L614.8,506.8 L615.5,506.7 L616.2,507.8 L616.9,509.8 L617.6,509.4 L618.3,509.2 L619.0,510.2 L619.7,508.1 L620.4,507.9 L621.2,508.1 L621.9,508.5 L622.6,508.4 L623.3,511.1 L624.0,512.6 L624.7,509.4 L625.4,511.7 L626.1,512.8 L626.8,512.1 L627.5,509.7 L628.2,511.6 L628.9,510.1 L629.6,509.9 L630.3,509.2 L631.0,511.3 L631.7,512.9 L632.4,509.7 L633.1,509.9 L633.8,510.9 L634.5,509.5 L635.2,511.3 L635.9,512.4 L636.6,511.3 L637.4,509.7 L638.1,509.7 L638.8,510.4 L639.5,512.3 L640.2,513.3 L640.9,511.7 L641.6,510.1 L642.3,510.6 L643.0,511.4 L643.7,510.2 L644.4,510.3 L645.1,511.6 L645.8,513.3 L646.5,510.9 L647.2,513.5 L647.9,513.5 L648.6,511.8 L649.3,511.0 L650.0,510.8 L650.7,512.8 L651.4,513.5 L652.1,513.6 L652.8,511.1 L653.5,512.0 L654.2,510.4 L654.9,511.5 L655.6,511.5 L656.3,510.9 L657.0,510.7 L657.7,514.4 L658.4,511.7 L659.1,512.5 L659.8,512.7 L660.5,512.5 L661.2,513.0 L661.9,512.7 L662.6,512.6 L663.4,511.0 L664.1,513.3 L664.8,513.5 L665.5,513.7 L666.2,512.1 L666.9,512.7 L667.6,514.1 L668.3,513.9 L669.0,511.2 L669.7,512.3 L670.4,511.7 L671.1,513.9 L671.8,512.7 L672.5,512.7 L673.2,512.1 L673.9,513.0 L674.6,514.1 L675.3,513.8 L676.0,512.2 L676.7,512.9 L677.4,513.9 L678.1,511.6 L678.8,515.0 L679.5,511.6 L680.2,514.0 L680.9,512.1 L681.6,515.4 L682.3,514.4 L683.0,512.5 L683.7,513.7 L684.4,515.1 L685.1,515.1 L685.8,514.4 L686.5,514.3 L687.2,514.8 L687.9,515.5 L688.6,513.9 L689.4,514.4 L690.1,515.1 L690.8,514.0 L691.5,512.9 L692.2,514.4 L692.9,513.5 L693.6,515.0 L694.3,515.1 L695.0,515.8 L695.7,512.6 L696.4,512.3 L697.1,516.0 L697.8,515.2 L698.5,516.3 L699.2,515.6 L699.9,516.2 L700.6,513.1 L701.3,513.2 L702.0,515.0 L702.7,515.5 L703.4,513.0 L704.1,516.3 L704.8,513.4 L705.5,513.3 L706.2,514.3 L706.9,513.2 L707.6,512.9 L708.3,512.8 L709.0,512.7 L709.7,513.1 L710.4,515.2 L711.1,515.7 L711.8,515.6 L712.5,514.2 L713.2,515.5 L713.9,513.0 L714.6,516.0 L715.3,514.2 L716.0,513.0 L716.7,514.1 L717.4,513.3 L718.1,515.5 L718.8,514.1 L719.5,512.6 L720.2,513.3 L720.9,512.9 L721.6,516.4 L722.3,514.2 L723.0,515.7 L723.7,514.9 L724.4,514.2 L725.1,515.5 L725.8,514.8 L726.5,512.8 L727.3,516.6 L728.0,514.0 L728.7,515.2 L729.4,514.3 L730.1,516.4 L730.8,513.3 L731.5,512.8 L732.2,512.8 L732.9,514.2 L733.6,516.0 L734.3,514.4 L735.0,516.3 L735.7,513.2 L736.4,516.5 L737.1,513.3 L737.8,516.2 L738.5,513.4 L739.2,515.0 L739.9,515.1 L740.6,516.5 L741.3,514.3 L742.0,516.0 L742.7,512.8 L743.4,516.2 L744.1,514.7 L744.8,514.8 L745.5,516.5 L746.2,513.9 L746.9,515.1 L747.6,515.0 L748.3,513.9 L749.0,513.2 L749.7,514.4 L750.4,513.8 L751.1,515.1 L751.8,514.3 L752.5,513.0 L753.2,515.4 L753.9,516.4 L754.6,515.1 L755.3,513.9 L756.0,513.9 L756.7,516.5 L757.4,514.5 L758.1,515.6 L758.8,513.0 L759.5,516.0 L760.2,516.3 L760.9,513.7 L761.6,513.9 L762.3,515.3 L763.0,516.5 L763.7,515.9 L764.4,512.8 L765.1,513.2 L765.8,516.3 L766.5,514.3 L767.2,516.5 L767.9,514.5 L768.6,516.1 L769.3,513.6 L770.0,516.6 L770.7,514.6 L771.4,512.8 L772.1,513.5 L772.8,513.1 L773.5,514.4 L774.2,516.6 L774.9,516.6 L775.6,516.5 L776.4,514.4 L777.1,515.8 L777.8,515.7 L778.5,516.1 L779.2,516.6 L779.9,516.1 L780.6,515.8 L781.3,514.0 L782.0,513.4 L782.7,514.4 L783.4,513.9 L784.1,515.8 L784.8,513.4 L785.5,513.6 L786.2,515.7 L786.9,512.9 L787.6,513.1 L788.3,512.8 L789.0,512.9 L789.7,513.2 L790.4,515.8 L791.1,513.9 L791.8,513.2 L792.5,514.8 L793.2,514.2 L793.9,512.8 L794.6,513.1 L795.3,513.8 L796.0,514.5 L796.7,513.3 L797.4,514.5 L798.1,514.8 L798.8,516.5 L799.5,515.3 L800.2,514.1 L800.9,513.7 L801.6,513.6 L802.3,514.4 L803.0,516.7 L803.7,516.7 L804.4,513.4 L805.1,515.4 L805.8,515.9 L806.5,516.6 L807.2,515.9 L807.9,515.4 L808.6,513.2 L809.3,513.9 L810.0,516.6 L810.7,516.5 L811.4,516.4 L812.1,514.2 L812.8,516.0 L813.5,516.0 L814.2,514.5 L814.9,514.2 L815.6,514.7 L816.3,515.0 L817.0,513.0 L817.7,513.0 L818.4,516.9 L819.1,514.5 L819.8,514.5 L820.5,515.3 L821.2,515.0 L821.9,515.7 L822.6,515.0 L823.3,513.0 L824.0,513.1 L824.7,514.0 L825.5,514.4 L826.2,516.9 L826.9,514.9 L827.6,513.4 L828.3,516.3 L829.0,514.2 L829.7,514.6 L830.4,515.5 L831.1,515.8 L831.8,513.9 L832.5,514.6 L833.2,513.0 L833.9,516.7 L834.6,516.5 L835.3,516.2 L836.0,513.8 L836.7,515.5 L837.4,514.7 L838.1,513.6 L838.8,513.8 L839.5,516.5 L840.2,515.4 L840.9,515.4 L841.6,513.5 L842.3,515.3 L843.0,516.6 L843.7,513.8 L844.4,513.9 L845.1,516.7 L845.8,514.1 L846.5,514.8 L847.2,516.7 L847.9,515.9 L848.6,514.2 L849.3,514.3 L850.0,514.0 L850.7,513.2 L851.4,515.1 L852.1,513.6 L852.8,514.0 L853.5,516.3 L854.2,513.5 L854.9,513.3 L855.6,513.2 L856.3,515.5 L857.0,514.0 L857.7,514.1 L858.4,515.1 L859.1,515.9 L859.8,516.9 L860.5,513.2 L861.2,514.4 L861.9,513.1 L862.6,514.4 L863.3,515.7 L864.0,514.4 L864.7,514.7 L865.4,514.2 L866.1,516.9 L866.8,516.2 L867.5,516.6 L868.2,515.5 L868.9,516.6 L869.6,515.6 L870.3,513.4 L871.0,513.5 L871.7,516.8 L872.4,515.2 L873.1,516.0 L873.8,515.2 L874.5,516.6 L875.2,513.8 L875.9,513.6 L876.6,513.9 L877.3,515.9 L878.0,515.4 L878.7,515.1 L879.4,513.8 L880.1,514.7 L880.8,514.2 L881.5,513.4 L882.2,516.8 L882.9,516.2 L883.6,516.2 L884.3,514.5 L885.0,516.4 L885.7,516.2 L886.4,513.9 L887.1,516.8 L887.8,516.2 L888.5,513.2 L889.2,513.4 L889.9,513.3 L890.6,515.7 L891.3,513.6 L892.0,513.6 L892.7,513.1 L893.4,514.7 L894.1,514.2 L894.8,515.2 L895.5,513.7 L896.2,515.8 L896.9,515.5 L897.6,514.6 L898.3,516.9 L899.0,515.4 L899.7,515.2 L900.4,513.9 L901.1,514.2 L901.8,515.9 L902.5,514.4 L903.2,513.4 L903.9,514.7 L904.6,515.0 L905.3,513.6 L906.0,514.0 L906.7,516.7 L907.4,516.2 L908.1,514.7 L908.8,516.0 L909.5,515.6 L910.2,513.8 L910.9,515.2 L911.6,513.3 L912.3,515.4 L913.0,515.1 L913.7,513.4 L914.4,515.1 L915.1,514.0 L915.8,515.6 L916.5,517.0 L917.2,516.2 L917.9,513.3 L918.6,515.4 L919.3,515.2 L920.0,516.7 L920.7,514.1 L921.4,513.4 L922.1,514.5 L922.8,514.4 L923.5,516.4 L924.2,516.5 L924.9,515.4 L925.6,516.0 L926.3,514.7 L927.0,514.1 L927.7,514.7 L928.4,515.7 L929.1,514.3 L929.8,516.3 L930.5,514.8 L931.2,514.0 L931.9,515.0 L932.6,516.5 L933.3,514.4 L934.0,514.3 L934.7,515.0 L935.4,516.8 L936.1,516.2 L936.8,515.9 L937.5,514.0 L938.2,515.5 L938.9,515.7 L939.6,514.2 L940.3,515.1 L941.0,513.6 L941.7,516.7 L942.4,515.7 L943.1,515.6 L943.8,516.3 L944.5,516.0 L945.2,514.4 L945.9,515.4 L946.6,513.5 L947.3,515.7 L948.0,514.5 L948.7,515.1 L949.4,516.3 L950.1,514.2 L950.8,513.8 L951.5,516.2 L952.2,514.2 L952.9,516.6 L953.6,516.7 L954.3,513.6 L955.0,515.2 L955.7,516.8 L956.4,515.6 L957.1,515.6 L957.8,513.6 L958.5,514.7 L959.2,516.2 L959.9,513.0 L960.6,515.8 L961.3,514.2 L962.0,514.1 L962.7,516.3 L963.4,514.5 L964.1,515.0 L964.8,517.0 L965.5,514.2 L966.2,516.8 L966.9,514.3 L967.6,515.4 L968.3,513.2 L969.0,516.9 L969.7,514.9 L970.4,515.0 L971.1,516.8 L971.8,514.7 L972.5,513.1 L973.2,514.4 L973.9,513.1 L974.6,513.2 L975.3,516.5 L976.0,516.1 L976.7,515.9 L977.4,515.6 L978.1,514.5 L978.8,515.3 L979.5,514.2 L980.2,515.5 L980.9,516.1 L981.6,514.5 L982.3,514.1 L983.0,514.3 L983.7,513.9 L984.4,516.7 L985.1,516.3 L985.8,514.2 L986.5,513.4 L987.2,515.0 L987.9,516.0 L988.6,514.2 L989.3,516.0 L990.0,515.0" stroke="#285a96"/>
<path d="M571.0,335.1 L571.7,342.1 L572.4,348.6 L573.1,351.7 L573.9,359.5 L574.6,365.1 L575.3,370.8 L576.0,374.4 L576.8,392.9 L577.6,413.1 L578.4,433.4 L579.2,450.2 L580.0,470.0 L581.0,532.3 L581.7,534.4 L582.4,534.8 L583.1,532.6 L583.8,535.0 L584.5,531.2 L585.2,534.3 L585.9,534.5 L586.6,531.6 L587.3,533.8 L588.0,533.2 L588.7,534.8 L589.4,531.8 L590.1,533.2 L590.8,534.5 L591.5,533.6 L592.2,532.2 L592.9,531.3 L593.6,534.8 L594.3,532.9 L595.0,535.0 L595.8,531.6 L596.5,534.2 L597.2,534.3 L597.9,534.7 L598.6,531.1 L599.3,532.5 L600.0,531.2 L600.7,534.0 L601.4,532.4 L602.1,534.8 L602.8,532.5 L603.5,534.1 L604.2,534.5 L604.9,532.0 L605.6,533.2 L606.3,534.8 L607.0,533.1 L607.7,532.4 L608.4,532.1 L609.1,534.1 L609.8,531.8 L610.5,533.4 L611.2,533.2 L611.9,533.2 L612.6,531.5 L613.3,533.6 L614.0,534.7 L614.7,532.3 L615.4,532.3 L616.1,534.6 L616.8,533.3 L617.5,532.1 L618.2,531.0 L618.9,534.0 L619.6,532.4 L620.3,532.9 L621.0,532.1 L621.7,533.5 L622.4,533.9 L623.1,532.2 L623.8,531.3 L624.5,534.9 L625.2,534.6 L626.0,531.1 L626.7,533.3 L627.4,533.7 L628.1,532.6 L628.8,533.9 L629.5,534.8 L630.2,533.4 L630.9,532.6 L631.6,531.8 L632.3,532.0 L633.0,531.6 L633.7,531.4 L634.4,531.8 L635.1,534.4 L635.8,533.1 L636.5,534.2 L637.2,534.7 L637.9,534.2 L638.6,531.2 L639.3,534.7 L640.0,531.4 L640.7,534.1 L641.4,534.4 L642.1,533.7 L642.8,532.7 L643.5,531.4 L644.2,531.4 L644.9,533.6 L645.6,532.1 L646.3,533.3 L647.0,532.2 L647.8,531.8 L648.5,532.3 L649.2,534.1 L649.9,533.1 L650.6,532.8 L651.3,533.2 L652.0,533.4 L652.7,533.3 L653.4,533.0 L654.1,535.1 L654.8,534.3 L655.5,532.2 L656.2,532.6 L656.9,532.1 L657.6,532.8 L658.3,531.5 L659.0,534.3 L659.7,533.7 L660.4,533.1 L661.1,535.0 L661.8,532.7 L662.5,533.8 L663.2,535.2 L664.0,533.7 L664.7,533.9 L665.4,533.0 L666.1,535.5 L666.8,534.5 L667.5,532.7 L668.2,533.0 L668.9,533.9 L669.6,533.6 L670.3,533.7 L671.0,532.4 L671.7,533.9 L672.4,534.4 L673.1,534.7 L673.8,533.5 L674.5,533.5 L675.2,533.7 L675.9,533.8 L676.6,533.6 L677.3,531.8 L678.0,532.8 L678.8,535.7 L679.5,535.1 L680.2,533.6 L680.9,534.8 L681.6,532.6 L682.3,532.9 L683.0,533.9 L683.7,534.6 L684.4,532.0 L685.1,533.8 L685.8,535.5 L686.5,534.3 L687.2,535.9 L687.9,532.3 L688.6,535.6 L689.3,535.3 L690.0,532.1 L690.7,534.1 L691.4,535.0 L692.1,532.9 L692.8,534.6 L693.5,535.4 L694.2,535.2 L695.0,533.8 L695.7,532.3 L696.4,534.2 L697.1,532.9 L697.8,534.3 L698.5,533.2 L699.2,533.5 L699.9,534.3 L700.6,535.5 L701.3,536.1 L702.0,533.8 L702.7,532.2 L703.4,535.2 L704.1,533.6 L704.8,535.2 L705.5,535.5 L706.2,532.4 L706.9,535.1 L707.6,533.4 L708.3,533.5 L709.0,533.6 L709.7,534.4 L710.4,533.2 L711.1,534.2 L711.8,533.4 L712.5,532.8 L713.2,533.3 L713.9,535.0 L714.6,533.5 L715.3,533.1 L716.0,533.7 L716.7,533.1 L717.4,536.2 L718.1,535.4 L718.8,532.9 L719.5,533.5 L720.2,534.0 L720.9,534.4 L721.6,533.9 L722.3,534.4 L723.0,535.4 L723.7,532.9 L724.4,534.6 L725.1,533.0 L725.8,534.5 L726.5,533.6 L727.3,535.5 L728.0,535.9 L728.7,536.2 L729.4,534.0 L730.1,534.8 L730.8,533.0 L731.5,535.2 L732.2,535.5 L732.9,534.1 L733.6,533.7 L734.3,535.4 L735.0,535.4 L735.7,535.6 L736.4,533.5 L737.1,533.4 L737.8,533.4 L738.5,533.2 L739.2,532.4 L739.9,532.9 L740.6,534.4 L741.3,534.1 L742.0,536.0 L742.7,533.9 L743.4,533.1 L744.1,536.2 L744.8,532.7 L745.5,533.8 L746.2,535.5 L746.9,533.7 L747.6,536.3 L748.3,535.4 L749.0,533.7 L749.7,535.9 L750.4,536.1 L751.1,534.5 L751.8,533.0 L752.5,532.9 L753.2,535.7 L753.9,536.0 L754.6,535.1 L755.3,535.6 L756.0,535.7 L756.7,533.4 L757.4,533.4 L758.1,536.0 L758.8,535.9 L759.5,534.3 L760.2,533.6 L760.9,532.8 L761.6,534.1 L762.3,536.2 L763.0,533.3 L763.7,533.8 L764.4,532.7 L765.1,534.8 L765.8,532.8 L766.5,535.2 L767.2,534.5 L767.9,534.2 L768.6,533.6 L769.3,533.8 L770.0,536.1 L770.7,536.3 L771.4,535.6 L772.1,533.4 L772.8,533.4 L773.5,534.0 L774.2,536.1 L774.9,536.4 L775.6,533.5 L776.4,535.1 L777.1,534.1 L777.8,534.4 L778.5,533.4 L779.2,535.5 L779.9,535.7 L780.6,536.4 L781.3,534.6 L782.0,534.4 L782.7,535.2 L783.4,533.2 L784.1,536.2 L784.8,535.7 L785.5,533.6 L786.2,534.3 L786.9,534.6 L787.6,536.1 L788.3,535.4 L789.0,533.6 L789.7,536.5 L790.4,536.4 L791.1,536.1 L791.8,534.7 L792.5,534.6 L793.2,534.3 L793.9,536.6 L794.6,534.6 L795.3,536.5 L796.0,533.4 L796.7,532.8 L797.4,534.6 L798.1,533.5 L798.8,533.7 L799.5,532.9 L800.2,533.2 L800.9,534.5 L801.6,533.1 L802.3,533.9 L803.0,535.2 L803.7,533.8 L804.4,534.0 L805.1,534.3 L805.8,533.8 L806.5,535.0 L807.2,535.9 L807.9,532.9 L808.6,534.9 L809.3,534.9 L810.0,536.5 L810.7,535.6 L811.4,533.9 L812.1,535.3 L812.8,536.4 L813.5,536.6 L814.2,535.9 L814.9,533.2 L815.6,534.3 L816.3,534.7 L817.0,534.1 L817.7,535.9 L818.4,534.8 L819.1,536.7 L819.8,532.9 L820.5,536.1 L821.2,533.3 L821.9,534.9 L822.6,533.4 L823.3,534.4 L824.0,535.3 L824.7,536.7 L825.5,533.0 L826.2,534.4 L826.9,533.3 L827.6,535.9 L828.3,533.5 L829.0,533.7 L829.7,536.1 L830.4,533.1 L831.1,536.4 L831.8,534.0 L832.5,536.9 L833.2,533.3 L833.9,533.3 L834.6,534.8 L835.3,534.2 L836.0,535.5 L836.7,534.1 L837.4,534.3 L838.1,533.0 L838.8,533.3 L839.5,533.0 L840.2,534.8 L840.9,536.5 L841.6,535.1 L842.3,534.3 L843.0,534.8 L843.7,536.0 L844.4,536.5 L845.1,533.3 L845.8,535.6 L846.5,534.2 L847.2,536.7 L847.9,535.9 L848.6,535.4 L849.3,535.7 L850.0,536.0 L850.7,533.3 L851.4,534.3 L852.1,533.2 L852.8,533.6 L853.5,536.7 L854.2,535.3 L854.9,533.8 L855.6,534.2 L856.3,534.7 L857.0,533.4 L857.7,536.3 L858.4,534.6 L859.1,533.3 L859.8,535.1 L860.5,534.7 L861.2,536.1 L861.9,534.1 L862.6,534.0 L863.3,535.1 L864.0,534.7 L864.7,533.6 L865.4,536.1 L866.1,536.6 L866.8,536.4 L867.5,535.8 L868.2,535.0 L868.9,536.3 L869.6,534.0 L870.3,533.5 L871.0,534.0 L871.7,535.3 L872.4,534.0 L873.1,534.9 L873.8,536.4 L874.5,535.6 L875.2,534.0 L875.9,533.7 L876.6,533.2 L877.3,533.4 L878.0,534.2 L878.7,536.1 L879.4,536.5 L880.1,534.8 L880.8,533.4 L881.5,535.5 L882.2,537.0 L882.9,533.3 L883.6,535.8 L884.3,537.2 L885.0,534.5 L885.7,535.6 L886.4,536.5 L887.1,535.9 L887.8,534.0 L888.5,536.4 L889.2,535.6 L889.9,535.9 L890.6,535.7 L891.3,536.6 L892.0,535.6 L892.7,537.0 L893.4,533.8 L894.1,533.4 L894.8,533.9 L895.5,535.4 L896.2,536.2 L896.9,537.0 L897.6,533.4 L898.3,533.4 L899.0,534.9 L899.7,536.0 L900.4,535.0 L901.1,534.5 L901.8,534.2 L902.5,536.2 L903.2,535.8 L903.9,537.2 L904.6,534.7 L905.3,535.3 L906.0,537.2 L906.7,536.2 L907.4,534.5 L908.1,536.3 L908.8,535.2 L909.5,533.8 L910.2,533.9 L910.9,535.4 L911.6,534.7 L912.3,534.5 L913.0,536.3 L913.7,534.5 L914.4,535.3 L915.1,535.5 L915.8,533.5 L916.5,536.7 L917.2,534.6 L917.9,534.1 L918.6,535.5 L919.3,534.3 L920.0,533.6 L920.7,534.0 L921.4,533.7 L922.1,534.9 L922.8,534.8 L923.5,534.4 L924.2,534.2 L924.9,536.9 L925.6,535.8 L926.3,536.0 L927.0,533.6 L927.7,537.2 L928.4,533.7 L929.1,536.6 L929.8,536.2 L930.5,535.2 L931.2,534.9 L931.9,535.7 L932.6,535.9 L933.3,537.0 L934.0,533.8 L934.7,534.0 L935.4,536.1 L936.1,534.8 L936.8,535.9 L937.5,535.2 L938.2,533.8 L938.9,536.9 L939.6,534.4 L940.3,535.0 L941.0,536.6 L941.7,537.3 L942.4,537.1 L943.1,537.4 L943.8,534.9 L944.5,534.6 L945.2,535.5 L945.9,537.0 L946.6,536.3 L947.3,536.2 L948.0,536.5 L948.7,534.6 L949.4,536.0 L950.1,535.4 L950.8,537.2 L951.5,535.0 L952.2,535.9 L952.9,536.3 L953.6,536.6 L954.3,536.9 L955.0,536.7 L955.7,534.3 L956.4,537.6 L957.1,533.9 L957.8,536.7 L958.5,535.0 L959.2,534.2 L959.9,535.2 L960.6,534.2 L961.3,534.6 L962.0,537.7 L962.7,537.1 L963.4,535.3 L964.1,535.8 L964.8,536.2 L965.5,535.1 L966.2,534.4 L966.9,535.6 L967.6,537.2 L968.3,537.7 L969.0,536.3 L969.7,537.1 L970.4,535.5 L971.1,537.0 L971.8,537.1 L972.5,537.5 L973.2,534.7 L973.9,536.0 L974.6,534.2 L975.3,536.2 L976.0,535.8 L976.7,536.3 L977.4,536.0 L978.1,535.3 L978.8,534.5 L979.5,535.2 L980.2,537.1 L980.9,535.0 L981.6,537.8 L982.3,537.3 L983.0,535.0 L983.7,535.8 L984.4,537.2 L985.1,534.0 L985.8,537.0 L986.5,535.6 L987.2,536.7 L987.9,534.0 L988.6,536.6 L989.3,534.2 L990.0,536.0" stroke="#1c4385"/>
<path d="M571.0,330.7 L571.8,335.6 L572.5,337.3 L573.2,339.8 L574.0,344.0 L574.8,347.0 L575.5,349.9 L576.2,352.8 L577.0,355.1 L577.8,358.0 L578.5,362.8 L579.2,364.3 L580.0,368.7 L580.7,375.7 L581.5,382.6 L582.2,389.4 L582.9,393.1 L583.6,399.7 L584.4,408.2 L585.1,414.1 L585.8,419.2 L586.5,427.6 L587.3,434.9 L588.0,441.3 L588.8,458.9 L589.5,479.2 L590.2,498.0 L591.0,521.9 L592.0,530.9 L592.7,533.1 L593.4,532.5 L594.2,532.9 L594.9,532.7 L595.6,534.1 L596.3,533.4 L597.0,532.3 L597.8,531.7 L598.5,533.3 L599.2,535.3 L599.9,532.3 L600.6,534.7 L601.4,534.6 L602.1,532.9 L602.8,533.2 L603.5,535.3 L604.2,534.5 L605.0,534.5 L605.7,535.0 L606.4,533.6 L607.1,536.2 L607.8,535.9 L608.6,535.8 L609.3,535.2 L610.0,537.2 L610.7,537.9 L611.4,537.3 L612.1,536.0 L612.8,536.8 L613.5,537.4 L614.2,537.7 L614.9,540.5 L615.6,540.7 L616.3,539.9 L617.0,543.2 L617.7,542.1 L618.4,542.8 L619.1,542.9 L619.8,542.3 L620.5,541.7 L621.2,543.5 L621.9,540.1 L622.6,542.4 L623.3,543.1 L624.0,541.5 L624.7,542.9 L625.4,540.3 L626.1,541.3 L626.8,540.7 L627.5,541.2 L628.2,542.4 L628.9,540.2 L629.6,541.0 L630.3,543.0 L631.0,540.8 L631.8,540.1 L632.5,543.6 L633.2,541.8 L633.9,539.7 L634.6,541.9 L635.3,540.2 L636.0,540.3 L636.7,542.6 L637.4,542.2 L638.1,541.3 L638.8,541.7 L639.5,541.8 L640.2,541.4 L640.9,540.0 L641.6,542.7 L642.3,542.7 L643.0,541.3 L643.7,541.2 L644.4,542.0 L645.1,541.5 L645.8,541.3 L646.5,543.1 L647.2,543.2 L647.9,540.2 L648.6,540.3 L649.3,542.7 L650.0,543.4 L650.7,542.5 L651.4,540.8 L652.1,539.8 L652.8,542.9 L653.5,543.3 L654.2,542.6 L654.9,542.5 L655.6,543.5 L656.3,541.7 L657.0,543.3 L657.7,540.6 L658.4,539.9 L659.1,543.0 L659.9,542.4 L660.6,542.8 L661.3,540.1 L662.0,540.8 L662.7,541.9 L663.4,539.9 L664.1,540.9 L664.8,542.0 L665.5,543.3 L666.2,542.5 L666.9,541.2 L667.6,541.2 L668.3,541.7 L669.0,542.6 L669.7,543.6 L670.4,539.6 L671.1,543.3 L671.8,542.8 L672.5,539.8 L673.2,540.6 L673.9,540.7 L674.6,540.5 L675.3,540.2 L676.0,540.1 L676.7,542.3 L677.4,541.4 L678.1,540.0 L678.8,543.0 L679.5,542.9 L680.2,540.6 L680.9,542.9 L681.6,542.7 L682.3,541.7 L683.0,540.0 L683.7,542.4 L684.4,543.1 L685.1,543.1 L685.8,543.4 L686.5,540.2 L687.2,543.5 L688.0,540.0 L688.7,541.1 L689.4,541.8 L690.1,542.2 L690.8,541.7 L691.5,543.2 L692.2,542.7 L692.9,543.0 L693.6,542.3 L694.3,541.4 L695.0,539.7 L695.7,542.2 L696.4,543.3 L697.1,540.4 L697.8,543.6 L698.5,539.7 L699.2,541.2 L699.9,542.6 L700.6,542.5 L701.3,541.9 L702.0,540.7 L702.7,540.6 L703.4,540.2 L704.1,542.2 L704.8,539.7 L705.5,540.2 L706.2,542.5 L706.9,541.4 L707.6,539.7 L708.3,541.4 L709.0,543.4 L709.7,541.7 L710.4,540.8 L711.1,540.2 L711.8,541.7 L712.5,540.7 L713.2,540.8 L713.9,540.0 L714.6,542.1 L715.3,542.9 L716.0,541.8 L716.7,542.2 L717.4,540.9 L718.1,543.7 L718.8,540.9 L719.5,543.4 L720.2,539.8 L720.9,542.4 L721.6,543.3 L722.3,542.1 L723.0,540.7 L723.7,540.5 L724.4,543.8 L725.1,543.8 L725.8,540.8 L726.5,541.5 L727.3,543.2 L728.0,543.3 L728.7,540.0 L729.4,542.0 L730.1,540.9 L730.8,540.2 L731.5,542.6 L732.2,541.8 L732.9,540.7 L733.6,542.9 L734.3,541.2 L735.0,541.0 L735.7,541.1 L736.4,540.7 L737.1,543.3 L737.8,541.3 L738.5,543.7 L739.2,542.7 L739.9,542.1 L740.6,543.5 L741.3,541.5 L742.0,540.1 L742.7,542.6 L743.4,540.2 L744.1,543.7 L744.8,543.9 L745.5,541.6 L746.2,540.4 L746.9,543.9 L747.6,541.1 L748.3,543.9 L749.0,542.0 L749.7,543.6 L750.4,543.6 L751.1,540.7 L751.8,541.4 L752.5,541.8 L753.2,540.9 L753.9,543.8 L754.6,540.9 L755.3,541.0 L756.0,540.8 L756.7,540.7 L757.4,543.4 L758.1,540.9 L758.8,542.5 L759.5,540.6 L760.2,543.4 L760.9,543.3 L761.6,543.9 L762.3,540.4 L763.0,542.9 L763.7,543.1 L764.4,541.5 L765.1,543.0 L765.8,541.5 L766.5,542.5 L767.2,543.6 L767.9,543.5 L768.6,541.6 L769.3,541.3 L770.0,544.1 L770.7,541.2 L771.4,542.1 L772.1,541.9 L772.8,541.7 L773.5,542.4 L774.2,540.7 L774.9,542.2 L775.6,543.0 L776.4,543.7 L777.1,542.3 L777.8,541.2 L778.5,541.5 L779.2,541.1 L779.9,540.9 L780.6,541.6 L781.3,541.9 L782.0,544.1 L782.7,543.4 L783.4,544.1 L784.1,542.3 L784.8,541.2 L785.5,542.7 L786.2,543.2 L786.9,544.4 L787.6,541.3 L788.3,543.5 L789.0,544.3 L789.7,542.0 L790.4,542.5 L791.1,540.9 L791.8,543.1 L792.5,540.7 L793.2,543.6 L793.9,543.5 L794.6,543.8 L795.3,543.9 L796.0,540.8 L796.7,544.0 L797.4,543.3 L798.1,544.3 L798.8,544.1 L799.5,542.4 L800.2,544.0 L800.9,541.3 L801.6,544.4 L802.3,543.2 L803.0,543.8 L803.7,542.7 L804.4,542.9 L805.1,541.5 L805.8,543.8 L806.5,542.7 L807.2,541.5 L807.9,543.6 L808.6,542.9 L809.3,542.3 L810.0,543.8 L810.7,542.3 L811.4,543.3 L812.1,542.8 L812.8,542.1 L813.5,542.1 L814.2,543.0 L814.9,541.4 L815.6,541.4 L816.3,541.9 L817.0,543.5 L817.7,541.4 L818.4,543.8 L819.1,542.0 L819.8,544.5 L820.5,541.2 L821.2,544.1 L821.9,544.0 L822.6,544.1 L823.3,543.3 L824.0,541.9 L824.7,544.6 L825.5,541.7 L826.2,543.6 L826.9,542.4 L827.6,541.1 L828.3,542.5 L829.0,542.1 L829.7,544.0 L830.4,541.6 L831.1,544.1 L831.8,541.0 L832.5,541.2 L833.2,543.3 L833.9,544.6 L834.6,543.3 L835.3,541.5 L836.0,544.5 L836.7,543.6 L837.4,540.9 L838.1,541.4 L838.8,542.5 L839.5,543.0 L840.2,543.2 L840.9,544.3 L841.6,543.4 L842.3,544.8 L843.0,542.6 L843.7,542.3 L844.4,543.6 L845.1,544.6 L845.8,542.7 L846.5,541.2 L847.2,542.5 L847.9,541.8 L848.6,544.6 L849.3,542.3 L850.0,542.8 L850.7,543.5 L851.4,541.2 L852.1,541.4 L852.8,543.1 L853.5,542.1 L854.2,541.3 L854.9,544.0 L855.6,544.0 L856.3,543.5 L857.0,541.6 L857.7,544.4 L858.4,545.1 L859.1,541.6 L859.8,543.9 L860.5,541.4 L861.2,541.6 L861.9,542.5 L862.6,545.0 L863.3,543.0 L864.0,543.4 L864.7,544.8 L865.4,542.8 L866.1,542.4 L866.8,541.6 L867.5,542.2 L868.2,543.7 L868.9,544.8 L869.6,545.2 L870.3,542.3 L871.0,544.0 L871.7,542.6 L872.4,543.6 L873.1,541.4 L873.8,545.1 L874.5,544.5 L875.2,544.4 L875.9,543.9 L876.6,542.9 L877.3,544.8 L878.0,543.4 L878.7,544.1 L879.4,542.5 L880.1,542.2 L880.8,544.3 L881.5,542.7 L882.2,541.6 L882.9,542.7 L883.6,543.2 L884.3,542.2 L885.0,542.1 L885.7,544.4 L886.4,543.4 L887.1,543.6 L887.8,544.4 L888.5,541.7 L889.2,543.6 L889.9,545.5 L890.6,542.7 L891.3,544.4 L892.0,542.3 L892.7,543.1 L893.4,543.4 L894.1,542.5 L894.8,542.6 L895.5,543.0 L896.2,543.6 L896.9,543.2 L897.6,543.7 L898.3,542.7 L899.0,543.9 L899.7,544.8 L900.4,543.6 L901.1,543.2 L901.8,545.0 L902.5,544.3 L903.2,543.7 L903.9,543.0 L904.6,545.6 L905.3,542.3 L906.0,545.5 L906.7,543.0 L907.4,545.5 L908.1,542.0 L908.8,544.6 L909.5,543.8 L910.2,544.3 L910.9,542.2 L911.6,543.4 L912.3,543.3 L913.0,544.1 L913.7,544.8 L914.4,545.7 L915.1,543.1 L915.8,542.1 L916.5,542.7 L917.2,545.6 L917.9,544.2 L918.6,544.6 L919.3,546.0 L920.0,545.2 L920.7,544.4 L921.4,545.1 L922.1,542.7 L922.8,545.3 L923.5,542.7 L924.2,545.6 L924.9,545.5 L925.6,544.4 L926.3,543.2 L927.0,542.6 L927.7,544.1 L928.4,543.0 L929.1,543.6 L929.8,542.7 L930.5,542.5 L931.2,545.3 L931.9,545.3 L932.6,544.6 L933.3,544.7 L934.0,545.5 L934.7,544.6 L935.4,544.8 L936.1,542.5 L936.8,542.6 L937.5,545.0 L938.2,544.4 L938.9,543.4 L939.6,545.5 L940.3,544.1 L941.0,544.6 L941.7,546.1 L942.4,544.1 L943.1,545.9 L943.8,544.3 L944.5,545.0 L945.2,545.3 L945.9,544.4 L946.6,544.5 L947.3,545.8 L948.0,545.5 L948.7,544.9 L949.4,545.3 L950.1,543.5 L950.8,544.7 L951.5,545.8 L952.2,545.3 L952.9,546.2 L953.6,542.7 L954.3,543.2 L955.0,543.4 L955.7,546.3 L956.4,546.1 L957.1,543.6 L957.8,542.8 L958.5,543.9 L959.2,545.9 L959.9,545.9 L960.6,545.1 L961.3,546.3 L962.0,545.7 L962.7,542.7 L963.4,543.3 L964.1,545.9 L964.8,545.7 L965.5,546.1 L966.2,545.0 L966.9,546.3 L967.6,542.7 L968.3,544.2 L969.0,542.9 L969.7,546.6 L970.4,546.2 L971.1,545.3 L971.8,544.9 L972.5,544.8 L973.2,545.1 L973.9,543.9 L974.6,543.2 L975.3,546.2 L976.0,546.1 L976.7,543.9 L977.4,544.5 L978.1,544.5 L978.8,545.9 L979.5,544.2 L980.2,545.6 L980.9,543.4 L981.6,546.6 L982.3,545.5 L983.0,544.4 L983.7,544.9 L984.4,545.7 L985.1,545.2 L985.8,543.5 L986.5,543.6 L987.2,543.4 L987.9,545.5 L988.6,547.0 L989.3,543.5 L990.0,545.0" stroke="#0f2c63"/>
<path d="M571.0,336.7 L571.7,339.2 L572.4,339.5 L573.1,339.4 L573.8,338.8 L574.5,341.6 L575.2,342.2 L576.0,341.5 L576.7,341.9 L577.4,341.3 L578.1,340.9 L578.8,342.9 L579.5,344.2 L580.2,342.6 L580.9,346.0 L581.6,344.2 L582.3,344.7 L583.0,344.5 L583.7,348.8 L584.4,348.2 L585.1,349.3 L585.9,348.7 L586.6,346.9 L587.3,348.5 L588.0,349.7 L588.7,348.7 L589.4,352.5 L590.1,350.6 L590.8,350.3 L591.5,353.4 L592.2,351.1 L592.9,354.8 L593.6,353.4 L594.3,354.3 L595.0,354.0 L595.8,355.0 L596.5,354.3 L597.2,354.2 L597.9,358.0 L598.6,356.0 L599.3,358.6 L600.0,356.8 L600.7,360.2 L601.4,360.3 L602.1,360.1 L602.8,360.5 L603.5,360.2 L604.2,361.1 L604.9,359.1 L605.6,360.9 L606.4,362.6 L607.1,360.5 L607.8,363.8 L608.5,364.0 L609.2,362.5 L609.9,362.6 L610.6,363.4 L611.3,363.5 L612.0,366.3 L612.7,364.2 L613.4,363.1 L614.1,363.8 L614.8,366.7 L615.5,368.1 L616.2,366.5 L616.9,366.9 L617.6,367.5 L618.4,368.6 L619.1,366.9 L619.8,368.8 L620.5,369.0 L621.2,369.6 L621.9,368.2 L622.6,368.5 L623.3,369.6 L624.0,372.3 L624.7,370.0 L625.4,371.0 L626.1,369.9 L626.8,369.1 L627.5,369.0 L628.2,372.0 L628.9,371.9 L629.6,370.3 L630.3,371.5 L631.0,371.5 L631.7,372.4 L632.4,372.7 L633.1,370.5 L633.8,372.9 L634.5,372.8 L635.2,371.3 L635.9,372.5 L636.6,370.9 L637.3,370.5 L638.0,370.0 L638.7,372.5 L639.4,369.7 L640.1,369.4 L640.8,372.3 L641.5,372.2 L642.2,371.1 L643.0,372.5 L643.7,369.4 L644.4,370.2 L645.1,370.4 L645.8,370.9 L646.5,370.0 L647.2,369.6 L647.9,370.7 L648.6,372.9 L649.3,373.3 L650.0,372.4 L650.7,371.3 L651.4,370.4 L652.1,373.3 L652.8,371.6 L653.5,372.4 L654.2,369.6 L654.9,370.4 L655.6,372.9 L656.3,372.8 L657.0,373.1 L657.7,372.0 L658.4,371.3 L659.1,372.0 L659.8,373.1 L660.5,370.9 L661.2,371.9 L661.9,370.8 L662.6,372.8 L663.3,369.8 L664.0,372.5 L664.7,373.6 L665.4,369.9 L666.1,372.2 L666.8,372.5 L667.5,373.3 L668.2,372.3 L668.9,371.0 L669.6,371.6 L670.3,373.8 L671.0,373.6 L671.7,370.6 L672.4,370.4 L673.1,370.5 L673.8,370.2 L674.5,371.9 L675.2,370.7 L675.9,373.6 L676.6,372.8 L677.3,370.7 L678.0,372.4 L678.8,371.5 L679.5,372.2 L680.2,371.2 L680.9,371.0 L681.6,371.1 L682.3,371.9 L683.0,373.2 L683.7,372.6 L684.4,370.6 L685.1,373.3 L685.8,374.0 L686.5,373.6 L687.2,373.7 L687.9,370.6 L688.6,372.4 L689.3,370.8 L690.0,373.6 L690.7,371.3 L691.4,373.5 L692.1,371.7 L692.8,373.5 L693.5,371.9 L694.2,370.9 L694.9,372.3 L695.6,372.0 L696.3,374.4 L697.0,372.0 L697.7,372.9 L698.4,373.2 L699.1,374.9 L699.8,371.6 L700.5,373.7 L701.2,373.5 L701.9,374.5 L702.6,375.5 L703.3,373.0 L704.0,374.7 L704.7,374.1 L705.4,374.3 L706.2,372.4 L706.9,375.5 L707.6,376.3 L708.3,373.9 L709.0,373.9 L709.7,376.7 L710.4,373.2 L711.1,373.2 L711.8,373.3 L712.5,376.4 L713.2,376.3 L713.9,375.1 L714.6,375.9 L715.3,373.6 L716.0,376.2 L716.7,375.5 L717.4,375.9 L718.1,375.5 L718.8,375.7 L719.5,375.1 L720.2,374.5 L720.9,376.1 L721.6,375.5 L722.3,377.4 L723.0,378.0 L723.8,377.7 L724.5,376.7 L725.2,376.0 L725.9,376.7 L726.6,377.2 L727.3,377.9 L728.0,379.3 L728.7,375.9 L729.4,377.6 L730.1,377.7 L730.8,378.7 L731.5,379.5 L732.2,379.2 L732.9,378.7 L733.6,379.3 L734.3,379.1 L735.0,379.9 L735.7,379.4 L736.4,379.4 L737.1,377.8 L737.8,380.6 L738.5,378.6 L739.2,379.6 L739.9,380.5 L740.6,381.2 L741.4,381.4 L742.1,377.6 L742.8,378.9 L743.5,379.0 L744.2,379.4 L744.9,378.6 L745.6,380.3 L746.3,378.5 L747.0,379.5 L747.7,382.2 L748.4,381.5 L749.1,380.5 L749.8,379.2 L750.5,382.6 L751.2,381.7 L751.9,379.9 L752.6,380.5 L753.3,381.8 L754.0,382.1 L754.7,380.5 L755.4,383.4 L756.1,381.0 L756.8,380.8 L757.5,383.3 L758.2,380.6 L759.0,382.8 L759.7,381.0 L760.4,382.7 L761.1,381.5 L761.8,382.0 L762.5,384.4 L763.2,382.6 L763.9,382.6 L764.6,383.4 L765.3,382.2 L766.0,381.8 L766.7,382.8 L767.4,382.4 L768.1,382.2 L768.8,385.4 L769.5,381.8 L770.2,385.0 L770.9,385.6 L771.6,384.8 L772.3,382.2 L773.0,384.2 L773.7,382.5 L774.4,384.8 L775.1,385.3 L775.8,383.6 L776.6,382.8 L777.3,385.0 L778.0,383.3 L778.7,384.3 L779.4,385.0 L780.1,386.8 L780.8,384.8 L781.5,384.0 L782.2,386.7 L782.9,387.0 L783.6,385.9 L784.3,384.1 L785.0,384.8 L785.7,385.6 L786.4,386.3 L787.1,385.0 L787.8,387.3 L788.5,387.5 L789.2,387.8 L789.9,387.7 L790.6,384.3 L791.3,386.5 L792.0,384.6 L792.7,387.9 L793.4,387.3 L794.1,387.4 L794.8,385.1 L795.5,384.6 L796.2,387.6 L796.9,386.8 L797.6,386.9 L798.3,386.3 L799.0,387.7 L799.7,385.9 L800.4,385.6 L801.1,386.0 L801.8,385.8 L802.5,387.1 L803.2,388.2 L803.9,384.9 L804.6,385.0 L805.3,386.8 L806.0,387.4 L806.8,385.5 L807.5,385.9 L808.2,385.0 L808.9,385.0 L809.6,386.8 L810.3,387.6 L811.0,387.5 L811.7,385.6 L812.4,385.4 L813.1,388.7 L813.8,387.2 L814.5,386.7 L815.2,387.8 L815.9,388.0 L816.6,387.2 L817.3,385.4 L818.0,388.5 L818.7,386.0 L819.4,385.4 L820.1,386.6 L820.8,387.4 L821.5,387.8 L822.2,386.0 L822.9,388.2 L823.6,387.3 L824.3,386.0 L825.0,388.8 L825.7,388.6 L826.4,389.1 L827.1,388.2 L827.8,386.4 L828.5,388.6 L829.2,389.1 L829.9,387.7 L830.6,389.2 L831.3,389.5 L832.0,387.2 L832.7,389.4 L833.4,389.4 L834.1,388.9 L834.8,385.8 L835.5,387.2 L836.2,388.2 L836.9,388.2 L837.6,388.8 L838.3,388.4 L839.0,386.5 L839.7,389.6 L840.4,388.1 L841.1,389.5 L841.8,386.8 L842.5,390.0 L843.2,388.2 L843.9,389.1 L844.6,389.0 L845.3,389.6 L846.0,387.6 L846.7,386.5 L847.4,387.8 L848.1,386.9 L848.9,388.4 L849.6,389.5 L850.3,387.7 L851.0,386.8 L851.7,386.4 L852.4,388.0 L853.1,388.7 L853.8,386.5 L854.5,389.1 L855.2,387.3 L855.9,386.9 L856.6,390.2 L857.3,388.6 L858.0,390.1 L858.7,388.6 L859.4,387.1 L860.1,387.6 L860.8,388.3 L861.5,389.2 L862.2,389.8 L862.9,389.7 L863.6,389.3 L864.3,387.8 L865.0,388.5 L865.7,388.3 L866.4,388.8 L867.1,387.9 L867.8,389.0 L868.5,388.7 L869.2,387.1 L869.9,390.2 L870.6,389.3 L871.3,390.2 L872.0,390.0 L872.7,390.0 L873.4,391.0 L874.1,388.6 L874.8,388.7 L875.5,387.2 L876.2,389.8 L876.9,389.5 L877.6,389.5 L878.3,391.2 L879.0,388.0 L879.7,388.2 L880.4,390.2 L881.1,390.6 L881.8,389.3 L882.5,387.6 L883.2,388.9 L883.9,390.7 L884.6,389.5 L885.3,389.3 L886.0,389.1 L886.7,390.0 L887.4,389.9 L888.1,390.3 L888.8,391.1 L889.5,390.6 L890.2,389.1 L891.0,388.7 L891.7,390.8 L892.4,390.9 L893.1,391.5 L893.8,388.6 L894.5,391.2 L895.2,391.4 L895.9,388.1 L896.6,389.1 L897.3,390.4 L898.0,388.5 L898.7,391.3 L899.4,389.0 L900.1,390.7 L900.8,389.2 L901.5,388.9 L902.2,388.9 L902.9,390.1 L903.6,391.0 L904.3,389.0 L905.0,390.9 L905.7,389.5 L906.4,390.8 L907.1,389.7 L907.8,389.0 L908.5,388.8 L909.2,388.5 L909.9,391.1 L910.6,390.0 L911.3,388.9 L912.0,391.9 L912.7,391.1 L913.4,388.7 L914.1,391.6 L914.8,391.1 L915.5,390.6 L916.2,390.9 L916.9,392.9 L917.6,390.6 L918.3,391.8 L919.0,391.8 L919.7,390.9 L920.4,390.9 L921.1,392.6 L921.8,392.2 L922.5,391.6 L923.2,391.9 L923.9,390.8 L924.6,393.2 L925.3,390.2 L926.0,392.8 L926.7,392.1 L927.4,391.3 L928.1,392.8 L928.8,392.9 L929.5,391.0 L930.2,392.7 L930.9,391.5 L931.6,394.1 L932.3,392.3 L933.0,392.4 L933.7,392.1 L934.4,391.5 L935.1,392.1 L935.8,392.1 L936.5,394.0 L937.2,395.0 L937.9,392.6 L938.6,392.3 L939.3,394.0 L940.0,392.5 L940.7,393.7 L941.4,395.2 L942.1,393.1 L942.8,395.2 L943.5,394.6 L944.2,392.9 L944.9,393.6 L945.6,395.1 L946.3,393.2 L947.0,393.7 L947.7,395.3 L948.4,396.4 L949.1,395.3 L949.8,395.9 L950.5,393.4 L951.2,394.7 L951.9,394.8 L952.6,397.3 L953.3,395.1 L954.0,396.9 L954.7,394.0 L955.4,396.0 L956.1,397.6 L956.8,397.2 L957.5,396.6 L958.2,395.1 L958.9,398.1 L959.6,394.8 L960.3,398.5 L961.0,397.8 L961.7,397.7 L962.4,397.0 L963.1,395.6 L963.8,396.4 L964.5,397.8 L965.2,397.9 L965.9,396.9 L966.6,398.6 L967.3,395.7 L968.0,396.7 L968.7,396.1 L969.4,397.1 L970.1,399.0 L970.8,399.0 L971.5,396.6 L972.2,397.4 L972.9,396.7 L973.6,399.0 L974.3,398.2 L975.0,397.4 L975.7,398.1 L976.4,400.1 L977.1,398.5 L977.8,399.6 L978.5,399.5 L979.2,398.9 L979.9,399.4 L980.6,398.7 L981.3,398.1 L982.0,399.4 L982.7,398.7 L983.4,398.9 L984.1,398.4 L984.8,401.4 L985.5,399.6 L986.2,398.7 L986.9,398.2 L987.6,399.0 L988.3,401.7 L989.0,400.3" stroke="#f7b2b2"/>
<path d="M571.0,337.8 L571.7,335.2 L572.4,335.3 L573.1,339.8 L573.8,337.1 L574.5,337.4 L575.2,340.2 L575.9,339.5 L576.6,342.3 L577.3,340.3 L578.0,343.8 L578.7,341.8 L579.4,343.5 L580.1,345.4 L580.9,345.0 L581.6,346.6 L582.3,346.3 L583.0,344.3 L583.7,348.2 L584.4,347.6 L585.1,347.1 L585.8,347.2 L586.5,350.4 L587.2,350.0 L587.9,352.0 L588.6,351.9 L589.3,353.3 L590.0,352.3 L590.7,352.9 L591.4,352.7 L592.1,351.4 L592.8,354.3 L593.5,351.8 L594.2,353.8 L594.9,354.6 L595.7,353.5 L596.4,351.6 L597.1,354.4 L597.8,353.9 L598.5,352.1 L599.2,351.7 L599.9,353.7 L600.6,351.8 L601.3,355.5 L602.0,353.9 L602.7,354.1 L603.4,353.8 L604.1,354.9 L604.8,356.0 L605.6,353.7 L606.3,354.1 L607.0,355.0 L607.7,354.0 L608.4,355.3 L609.1,355.2 L609.8,354.9 L610.5,355.9 L611.2,355.5 L611.9,353.8 L612.6,357.6 L613.3,355.1 L614.0,355.5 L614.7,355.5 L615.4,357.8 L616.2,358.0 L616.9,356.3 L617.6,356.0 L618.3,354.9 L619.0,358.2 L619.7,355.4 L620.4,357.0 L621.1,356.3 L621.8,356.4 L622.5,356.6 L623.2,356.0 L623.9,355.5 L624.6,357.6 L625.3,358.8 L626.1,358.3 L626.8,356.6 L627.5,358.7 L628.2,356.3 L628.9,357.8 L629.6,359.6 L630.3,360.1 L631.0,358.3 L631.7,360.0 L632.4,358.7 L633.1,358.8 L633.8,359.2 L634.5,360.9 L635.2,360.0 L635.9,359.0 L636.6,360.0 L637.3,359.8 L638.0,358.7 L638.7,360.5 L639.4,360.7 L640.1,360.0 L640.8,361.4 L641.5,357.8 L642.2,359.8 L642.9,360.4 L643.6,359.3 L644.3,358.7 L645.0,360.9 L645.7,359.9 L646.4,359.3 L647.1,358.5 L647.8,362.3 L648.5,359.9 L649.2,359.1 L649.9,359.5 L650.6,359.8 L651.3,362.3 L652.0,359.6 L652.7,360.1 L653.4,359.4 L654.1,361.0 L654.8,360.1 L655.5,360.7 L656.2,362.3 L656.9,363.2 L657.6,362.9 L658.3,359.8 L659.0,361.2 L659.7,363.2 L660.4,360.0 L661.1,360.8 L661.8,362.0 L662.5,361.6 L663.2,363.2 L663.9,363.1 L664.6,362.2 L665.3,361.4 L666.0,361.4 L666.7,361.6 L667.4,360.9 L668.1,363.4 L668.8,361.5 L669.5,364.5 L670.2,363.6 L670.9,361.3 L671.6,363.1 L672.3,363.6 L673.0,361.5 L673.7,363.3 L674.4,361.6 L675.1,364.6 L675.8,361.6 L676.5,364.2 L677.2,365.7 L677.9,365.2 L678.6,362.9 L679.3,364.2 L680.0,362.7 L680.7,363.5 L681.4,365.7 L682.1,365.6 L682.8,362.5 L683.5,364.0 L684.2,365.1 L684.9,363.4 L685.6,366.0 L686.3,366.4 L687.0,365.1 L687.7,364.4 L688.4,366.5 L689.1,365.2 L689.8,364.0 L690.5,364.4 L691.2,364.0 L691.9,366.8 L692.6,365.6 L693.3,366.4 L694.0,367.0 L694.7,367.7 L695.4,364.6 L696.1,365.6 L696.8,367.5 L697.5,367.1 L698.2,365.7 L698.9,366.9 L699.6,365.1 L700.3,365.1 L701.0,364.7 L701.7,366.1 L702.4,365.6 L703.1,366.8 L703.8,368.7 L704.5,365.5 L705.2,367.2 L705.9,368.5 L706.6,367.5 L707.3,367.3 L708.0,368.4 L708.7,365.5 L709.4,369.3 L710.1,368.3 L710.8,368.8 L711.5,369.0 L712.2,366.2 L712.9,366.1 L713.6,366.7 L714.3,368.0 L715.0,369.9 L715.7,369.8 L716.4,367.9 L717.1,368.8 L717.8,369.4 L718.5,367.8 L719.2,370.5 L719.9,370.4 L720.6,369.6 L721.3,370.4 L722.0,370.1 L722.7,369.6 L723.4,368.3 L724.1,368.3 L724.8,368.2 L725.5,367.5 L726.2,371.1 L726.9,368.7 L727.6,367.6 L728.3,368.9 L729.0,368.1 L729.7,369.6 L730.4,369.2 L731.1,368.6 L731.8,369.9 L732.5,369.8 L733.2,369.6 L733.9,371.5 L734.6,369.6 L735.3,370.6 L736.0,372.0 L736.7,372.4 L737.4,370.2 L738.1,368.9 L738.8,372.6 L739.5,371.0 L740.2,369.9 L740.9,369.6 L741.6,370.1 L742.3,370.5 L743.0,369.9 L743.7,369.6 L744.4,373.4 L745.1,372.8 L745.8,370.1 L746.5,371.6 L747.2,373.0 L747.9,371.9 L748.6,370.2 L749.3,371.4 L750.0,371.6 L750.7,373.8 L751.4,372.6 L752.1,372.2 L752.8,372.9 L753.5,370.7 L754.2,373.3 L754.9,373.9 L755.6,373.4 L756.3,372.3 L757.0,372.0 L757.7,371.0 L758.4,371.4 L759.1,371.8 L759.8,373.0 L760.5,374.4 L761.2,372.2 L761.9,373.3 L762.6,374.1 L763.3,374.1 L764.0,371.8 L764.7,375.5 L765.4,374.2 L766.1,373.2 L766.8,373.0 L767.5,374.9 L768.2,375.9 L768.9,373.6 L769.6,373.9 L770.3,374.6 L771.0,373.2 L771.7,374.2 L772.4,376.3 L773.1,375.0 L773.8,376.1 L774.5,373.9 L775.2,376.5 L775.9,376.2 L776.6,374.0 L777.3,375.3 L778.0,376.0 L778.7,375.7 L779.4,375.9 L780.1,374.5 L780.8,375.8 L781.5,375.1 L782.2,377.0 L782.9,375.4 L783.6,377.9 L784.3,376.3 L785.0,375.0 L785.7,375.8 L786.4,374.6 L787.1,377.1 L787.8,374.4 L788.5,376.6 L789.2,375.4 L789.9,377.3 L790.6,374.7 L791.3,377.0 L792.0,377.1 L792.7,375.2 L793.4,374.8 L794.1,375.8 L794.8,376.9 L795.5,375.4 L796.2,374.4 L796.9,376.2 L797.6,377.6 L798.3,375.0 L799.0,378.2 L799.7,376.5 L800.4,375.1 L801.1,374.9 L801.8,376.0 L802.5,376.4 L803.2,375.2 L803.9,374.9 L804.6,376.6 L805.3,375.6 L806.0,376.4 L806.7,376.4 L807.4,377.4 L808.1,377.0 L808.8,375.6 L809.5,375.4 L810.2,378.1 L810.9,374.9 L811.6,375.2 L812.3,375.0 L813.0,378.1 L813.7,377.0 L814.4,378.5 L815.1,377.3 L815.8,376.2 L816.5,376.6 L817.2,377.8 L817.9,375.8 L818.6,378.1 L819.3,376.6 L820.0,375.1 L820.7,376.3 L821.4,377.2 L822.1,375.6 L822.8,378.6 L823.5,378.7 L824.2,377.1 L824.9,378.7 L825.6,377.8 L826.3,377.2 L827.0,375.7 L827.7,378.9 L828.4,378.8 L829.1,377.0 L829.8,376.7 L830.5,375.5 L831.2,377.7 L831.9,378.6 L832.6,376.8 L833.3,376.4 L834.0,377.7 L834.7,378.5 L835.4,376.0 L836.1,376.5 L836.8,377.9 L837.5,375.5 L838.2,378.6 L838.9,376.7 L839.6,378.7 L840.3,377.2 L841.0,376.1 L841.7,375.5 L842.4,375.9 L843.1,376.5 L843.8,378.5 L844.5,378.7 L845.2,378.1 L845.9,376.8 L846.6,378.2 L847.3,378.5 L848.0,377.1 L848.7,376.0 L849.4,377.5 L850.1,376.5 L850.8,376.4 L851.5,377.3 L852.2,376.0 L852.9,379.3 L853.6,376.9 L854.4,379.4 L855.1,378.7 L855.8,375.8 L856.5,379.4 L857.2,379.1 L857.9,377.9 L858.6,379.4 L859.3,377.8 L860.0,376.0 L860.7,376.5 L861.4,377.2 L862.1,379.4 L862.8,379.3 L863.5,376.4 L864.2,377.4 L864.9,376.5 L865.6,376.9 L866.3,377.5 L867.0,377.7 L867.7,376.7 L868.4,378.7 L869.1,377.1 L869.8,379.7 L870.5,378.1 L871.2,377.9 L871.9,379.2 L872.6,377.6 L873.3,377.2 L874.0,376.7 L874.7,377.4 L875.4,377.2 L876.1,379.2 L876.8,377.7 L877.5,379.1 L878.2,377.4 L878.9,376.6 L879.6,377.6 L880.3,377.9 L881.0,380.0 L881.7,377.2 L882.4,377.3 L883.1,377.1 L883.8,377.5 L884.5,380.3 L885.2,380.2 L885.9,377.4 L886.6,376.7 L887.3,378.5 L888.0,378.9 L888.7,377.0 L889.4,378.3 L890.1,379.7 L890.8,376.6 L891.5,379.5 L892.2,379.4 L892.9,379.8 L893.6,378.6 L894.3,378.6 L895.0,378.8 L895.7,377.3 L896.4,378.8 L897.1,377.7 L897.8,378.1 L898.5,377.0 L899.2,377.5 L899.9,377.1 L900.6,379.0 L901.3,377.8 L902.0,379.1 L902.7,378.9 L903.4,377.9 L904.1,377.5 L904.8,379.3 L905.5,379.7 L906.2,379.8 L906.9,379.0 L907.6,379.4 L908.3,377.1 L909.0,378.3 L909.7,380.3 L910.4,378.6 L911.1,377.5 L911.8,378.8 L912.5,380.5 L913.2,377.6 L913.9,377.6 L914.6,379.2 L915.3,380.7 L916.0,378.8 L916.7,378.2 L917.4,380.3 L918.1,377.7 L918.8,378.5 L919.5,379.7 L920.2,380.7 L920.9,380.8 L921.6,378.7 L922.3,378.4 L923.0,378.9 L923.7,378.0 L924.4,378.8 L925.1,381.0 L925.8,382.0 L926.5,379.3 L927.2,378.7 L927.9,381.5 L928.6,382.6 L929.3,382.1 L930.0,380.7 L930.7,382.2 L931.4,382.4 L932.1,382.5 L932.8,381.7 L933.5,383.9 L934.2,383.1 L934.9,381.1 L935.6,382.1 L936.3,380.9 L937.0,382.2 L937.7,384.1 L938.4,382.9 L939.1,383.3 L939.9,384.4 L940.6,381.8 L941.3,383.1 L942.0,383.8 L942.7,384.0 L943.4,384.9 L944.1,386.1 L944.8,385.7 L945.5,384.8 L946.2,385.5 L946.9,385.1 L947.6,387.1 L948.3,385.7 L949.0,385.8 L949.7,385.2 L950.4,385.5 L951.1,387.0 L951.8,385.6 L952.5,387.9 L953.2,387.4 L953.9,388.4 L954.6,387.6 L955.3,387.2 L956.0,386.6 L956.7,385.3 L957.4,388.1 L958.1,388.6 L958.8,388.6 L959.5,389.0 L960.2,386.2 L960.9,389.0 L961.6,387.5 L962.3,388.1 L963.0,390.2 L963.7,388.5 L964.4,388.9 L965.1,387.4 L965.8,388.1 L966.5,388.4 L967.2,388.6 L967.9,390.0 L968.6,388.2 L969.3,388.6 L970.0,388.7 L970.7,391.5 L971.4,392.6 L972.1,391.9 L972.9,391.1 L973.6,389.7 L974.3,392.5 L975.0,390.0 L975.7,390.0 L976.4,391.9 L977.1,393.5 L977.8,391.4 L978.5,393.8 L979.2,391.8 L979.9,394.5 L980.6,393.8 L981.3,394.5 L982.0,395.1 L982.7,394.6 L983.4,392.3 L984.1,393.7 L984.8,394.0 L985.5,394.9 L986.2,393.1 L986.9,394.6 L987.6,393.6 L988.3,393.4 L989.0,394.8" stroke="#e81a14"/>
<path d="M571.0,336.7 L571.7,337.5 L572.5,338.0 L573.2,335.5 L573.9,338.2 L574.6,338.3 L575.4,339.4 L576.1,338.5 L576.8,339.5 L577.5,341.2 L578.3,341.1 L579.0,342.7 L579.7,341.7 L580.5,342.7 L581.2,345.9 L581.9,345.5 L582.6,346.5 L583.4,348.1 L584.1,347.4 L584.8,346.9 L585.5,350.5 L586.3,350.4 L587.0,351.4 L587.7,351.4 L588.4,352.9 L589.1,350.5 L589.8,352.2 L590.5,350.7 L591.2,351.6 L591.9,352.1 L592.6,350.8 L593.3,349.9 L594.0,351.6 L594.7,352.6 L595.4,352.2 L596.2,351.7 L596.9,352.6 L597.6,350.8 L598.3,350.9 L599.0,351.6 L599.7,353.6 L600.4,351.3 L601.1,351.0 L601.8,351.0 L602.5,350.9 L603.2,351.9 L603.9,353.2 L604.6,354.3 L605.3,352.4 L606.0,352.7 L606.7,352.4 L607.4,352.6 L608.1,354.6 L608.8,353.7 L609.5,352.6 L610.2,352.1 L610.9,354.9 L611.6,354.7 L612.3,355.3 L613.0,353.0 L613.8,354.3 L614.5,355.9 L615.2,354.7 L615.9,356.2 L616.6,353.2 L617.3,356.5 L618.0,352.9 L618.7,354.4 L619.4,352.9 L620.1,356.2 L620.8,355.8 L621.5,357.0 L622.2,356.4 L622.9,357.1 L623.6,355.5 L624.3,357.4 L625.0,356.5 L625.7,355.0 L626.4,357.6 L627.1,355.3 L627.8,354.7 L628.5,354.3 L629.2,355.9 L629.9,355.0 L630.6,358.0 L631.4,358.1 L632.1,355.3 L632.8,354.9 L633.5,356.7 L634.2,355.4 L634.9,357.0 L635.6,358.1 L636.3,356.0 L637.0,356.7 L637.7,358.7 L638.4,357.0 L639.1,356.7 L639.8,359.0 L640.5,358.7 L641.2,359.2 L641.9,358.4 L642.6,357.4 L643.3,358.6 L644.0,359.2 L644.7,358.6 L645.4,357.1 L646.1,357.4 L646.8,357.9 L647.5,359.5 L648.2,358.7 L649.0,358.7 L649.7,359.9 L650.4,357.2 L651.1,359.3 L651.8,358.2 L652.5,359.2 L653.2,360.4 L653.9,358.2 L654.6,361.1 L655.3,357.7 L656.0,359.7 L656.7,359.7 L657.4,358.5 L658.1,359.9 L658.8,359.7 L659.5,359.7 L660.2,360.8 L660.9,358.1 L661.6,359.6 L662.3,361.4 L663.0,358.9 L663.7,361.9 L664.4,359.3 L665.1,361.3 L665.8,359.3 L666.6,360.5 L667.3,360.5 L668.0,359.2 L668.7,361.8 L669.4,361.0 L670.1,361.9 L670.8,361.4 L671.5,361.6 L672.2,361.6 L672.9,360.7 L673.6,363.2 L674.3,360.1 L675.0,363.3 L675.7,363.3 L676.4,361.9 L677.1,363.1 L677.8,362.7 L678.5,362.5 L679.2,361.3 L679.9,361.5 L680.6,361.6 L681.3,361.5 L682.0,364.2 L682.7,361.8 L683.4,362.0 L684.1,362.2 L684.8,363.9 L685.5,362.6 L686.2,362.9 L686.9,361.8 L687.6,361.9 L688.3,361.2 L689.0,361.8 L689.7,362.0 L690.4,364.4 L691.1,363.1 L691.8,361.6 L692.5,363.1 L693.2,361.7 L693.9,363.6 L694.6,363.1 L695.3,364.9 L696.0,362.5 L696.7,364.9 L697.4,362.6 L698.1,365.6 L698.8,364.2 L699.5,361.9 L700.2,365.0 L700.9,363.0 L701.6,363.4 L702.3,362.6 L703.0,365.4 L703.7,362.5 L704.4,365.1 L705.1,363.8 L705.8,365.0 L706.5,363.5 L707.2,362.7 L707.9,366.1 L708.6,365.1 L709.3,363.2 L710.0,366.5 L710.7,366.3 L711.4,363.4 L712.1,362.8 L712.8,365.3 L713.5,363.4 L714.2,365.9 L714.9,364.9 L715.6,365.9 L716.3,365.4 L717.0,366.2 L717.7,366.5 L718.4,365.7 L719.1,365.7 L719.8,364.7 L720.5,364.0 L721.2,363.9 L721.9,367.0 L722.6,364.4 L723.3,365.4 L724.0,365.0 L724.7,366.3 L725.4,366.0 L726.1,367.3 L726.8,365.7 L727.5,365.5 L728.2,366.7 L728.9,367.1 L729.6,367.9 L730.4,365.5 L731.1,367.8 L731.8,368.3 L732.5,368.3 L733.2,365.0 L733.9,366.0 L734.6,367.7 L735.3,367.9 L736.0,364.8 L736.7,366.3 L737.4,367.7 L738.1,367.9 L738.8,367.0 L739.5,365.8 L740.2,366.6 L740.9,365.3 L741.6,366.4 L742.3,366.9 L743.0,368.5 L743.7,367.7 L744.4,367.0 L745.1,366.4 L745.8,366.7 L746.5,368.2 L747.2,367.4 L747.9,366.3 L748.6,369.0 L749.3,368.0 L750.0,369.7 L750.7,368.0 L751.4,368.4 L752.1,367.7 L752.8,368.5 L753.5,369.8 L754.2,370.1 L754.9,368.8 L755.6,368.0 L756.3,366.6 L757.0,369.7 L757.7,368.0 L758.4,368.0 L759.1,366.8 L759.8,366.7 L760.5,368.2 L761.2,370.6 L761.9,369.7 L762.6,369.6 L763.3,369.5 L764.0,368.0 L764.7,367.6 L765.4,369.4 L766.1,367.3 L766.8,369.5 L767.5,369.3 L768.2,369.4 L768.9,367.8 L769.6,367.6 L770.3,369.3 L771.0,368.1 L771.7,370.1 L772.4,368.8 L773.1,370.1 L773.8,370.7 L774.5,370.2 L775.2,369.9 L775.9,368.7 L776.6,369.3 L777.3,371.9 L778.0,369.1 L778.7,369.2 L779.4,370.1 L780.1,370.4 L780.8,371.4 L781.5,369.5 L782.2,372.2 L782.9,368.5 L783.6,371.6 L784.3,370.8 L785.0,372.2 L785.7,369.2 L786.4,371.4 L787.1,372.5 L787.8,371.4 L788.5,369.2 L789.2,372.5 L789.9,372.7 L790.6,369.3 L791.3,372.2 L792.0,369.2 L792.7,369.2 L793.4,372.1 L794.1,371.9 L794.8,372.8 L795.6,371.6 L796.3,371.1 L797.0,370.2 L797.7,371.4 L798.4,373.1 L799.1,371.8 L799.8,372.7 L800.5,370.0 L801.2,372.2 L801.9,372.2 L802.6,369.6 L803.3,372.6 L804.0,370.1 L804.7,370.3 L805.4,369.7 L806.1,372.1 L806.8,370.1 L807.5,373.4 L808.2,369.6 L808.9,372.8 L809.6,372.6 L810.3,371.9 L811.0,372.0 L811.7,372.9 L812.4,372.3 L813.1,370.3 L813.8,373.0 L814.5,371.2 L815.2,372.2 L815.9,371.9 L816.7,373.5 L817.4,371.6 L818.1,373.4 L818.8,370.3 L819.5,371.3 L820.2,372.7 L820.9,372.5 L821.6,373.4 L822.3,371.0 L823.0,373.4 L823.7,373.4 L824.4,370.8 L825.1,370.8 L825.8,372.6 L826.5,374.2 L827.2,372.8 L827.9,372.1 L828.6,372.4 L829.3,373.7 L830.0,372.5 L830.7,372.6 L831.4,372.9 L832.1,374.3 L832.8,373.8 L833.5,373.9 L834.2,371.7 L834.9,373.0 L835.6,374.0 L836.3,373.6 L837.1,374.5 L837.8,374.4 L838.5,371.3 L839.2,372.9 L839.9,372.3 L840.6,371.7 L841.3,372.9 L842.0,374.9 L842.7,374.0 L843.4,371.4 L844.1,372.0 L844.8,372.5 L845.5,374.6 L846.2,372.9 L846.9,371.8 L847.6,373.4 L848.3,372.2 L849.0,371.4 L849.7,373.6 L850.4,375.2 L851.1,374.4 L851.8,374.3 L852.5,372.0 L853.2,373.6 L853.9,374.0 L854.6,374.5 L855.3,373.3 L856.0,371.7 L856.7,375.2 L857.4,372.6 L858.2,374.6 L858.9,373.5 L859.6,374.8 L860.3,373.0 L861.0,372.1 L861.7,373.5 L862.4,373.7 L863.1,375.0 L863.8,373.4 L864.5,374.5 L865.2,373.4 L865.9,374.8 L866.6,372.6 L867.3,375.5 L868.0,375.8 L868.7,372.2 L869.4,375.6 L870.1,375.4 L870.8,375.1 L871.5,372.8 L872.2,375.4 L872.9,375.7 L873.6,375.2 L874.3,376.6 L875.0,376.6 L875.7,375.4 L876.4,376.7 L877.1,373.6 L877.8,374.3 L878.5,375.3 L879.2,375.4 L879.9,377.2 L880.6,376.0 L881.3,376.0 L882.0,376.1 L882.7,377.5 L883.4,375.4 L884.1,376.8 L884.9,376.3 L885.6,375.6 L886.3,375.5 L887.0,374.8 L887.7,374.3 L888.4,375.7 L889.1,375.6 L889.8,374.8 L890.5,376.5 L891.2,376.1 L891.9,378.5 L892.6,378.0 L893.3,377.6 L894.0,378.4 L894.7,376.2 L895.4,375.6 L896.1,377.7 L896.8,376.2 L897.5,379.3 L898.2,377.2 L898.9,379.1 L899.6,376.6 L900.3,376.1 L901.0,378.3 L901.7,378.7 L902.4,377.0 L903.1,379.7 L903.8,380.0 L904.5,379.0 L905.2,380.2 L905.9,380.3 L906.6,377.0 L907.3,379.4 L908.0,379.6 L908.7,379.6 L909.4,378.1 L910.1,379.0 L910.8,379.3 L911.5,380.4 L912.2,377.3 L912.9,378.7 L913.6,378.5 L914.3,380.5 L915.0,377.9 L915.7,377.7 L916.4,378.0 L917.1,378.1 L917.9,379.5 L918.6,381.3 L919.3,379.3 L920.0,378.4 L920.7,380.7 L921.4,379.5 L922.1,380.5 L922.8,381.3 L923.5,380.2 L924.2,381.4 L924.9,381.0 L925.6,382.0 L926.3,381.8 L927.0,382.4 L927.7,381.9 L928.4,380.1 L929.1,381.1 L929.8,382.2 L930.5,382.3 L931.2,382.2 L931.9,382.7 L932.6,382.7 L933.3,381.7 L934.0,382.2 L934.7,379.8 L935.4,381.6 L936.1,382.6 L936.8,383.4 L937.5,383.1 L938.2,381.5 L938.9,380.7 L939.6,383.4 L940.3,382.5 L941.1,380.6 L941.8,380.1 L942.5,383.5 L943.2,382.3 L943.9,380.4 L944.6,384.0 L945.3,382.4 L946.0,383.1 L946.7,383.3 L947.4,381.2 L948.1,382.3 L948.8,380.9 L949.5,382.7 L950.2,382.0 L950.9,383.4 L951.6,380.8 L952.3,381.2 L953.0,381.9 L953.7,380.4 L954.4,382.0 L955.2,384.3 L955.9,383.9 L956.6,381.2 L957.3,383.9 L958.0,381.5 L958.7,381.5 L959.4,383.2 L960.1,381.8 L960.8,381.5 L961.5,381.0 L962.2,381.4 L962.9,381.5 L963.6,384.4 L964.3,381.0 L965.0,383.0 L965.7,381.7 L966.4,383.8 L967.1,380.9 L967.8,382.4 L968.6,383.9 L969.3,381.1 L970.0,382.7 L970.7,382.4 L971.4,383.0 L972.1,383.6 L972.8,381.5 L973.5,384.6 L974.2,382.3 L974.9,384.3 L975.6,381.8 L976.3,381.7 L977.0,382.1 L977.7,381.7 L978.4,382.4 L979.1,382.0 L979.8,381.8 L980.5,384.9 L981.2,383.6 L981.9,383.5 L982.7,383.6 L983.4,384.8 L984.1,381.8 L984.8,381.8 L985.5,384.3 L986.2,381.7 L986.9,383.7 L987.6,384.2 L988.3,385.2 L989.0,383.8" stroke="#d40f0f"/>
<path d="M571.0,334.8 L571.7,335.9 L572.4,333.8 L573.1,337.6 L573.8,335.0 L574.5,337.4 L575.2,335.7 L575.9,338.9 L576.6,337.0 L577.3,339.8 L578.0,340.4 L578.7,341.1 L579.4,340.4 L580.1,342.6 L580.8,343.7 L581.5,340.7 L582.2,342.9 L582.9,345.2 L583.6,344.9 L584.3,344.2 L585.0,344.2 L585.7,346.9 L586.4,343.5 L587.1,346.3 L587.8,346.7 L588.5,344.0 L589.2,344.8 L589.9,344.8 L590.6,345.8 L591.3,345.2 L592.0,347.4 L592.7,347.6 L593.4,345.3 L594.1,347.7 L594.8,344.4 L595.5,344.6 L596.2,347.0 L596.9,347.6 L597.6,347.8 L598.3,348.5 L599.0,348.1 L599.7,345.8 L600.4,347.8 L601.1,348.6 L601.8,345.4 L602.5,347.0 L603.2,345.8 L603.9,345.8 L604.6,347.2 L605.3,348.1 L606.0,349.4 L606.7,346.1 L607.4,347.7 L608.1,349.7 L608.8,348.9 L609.5,348.0 L610.2,346.9 L610.9,348.6 L611.6,347.2 L612.3,348.8 L613.0,348.9 L613.7,347.9 L614.4,349.6 L615.1,348.2 L615.8,348.5 L616.5,350.0 L617.2,347.8 L617.9,347.6 L618.6,349.3 L619.4,348.8 L620.1,350.6 L620.8,348.2 L621.5,348.8 L622.2,347.6 L622.9,349.3 L623.6,348.8 L624.3,349.4 L625.0,350.8 L625.7,347.9 L626.4,351.8 L627.1,350.8 L627.8,351.3 L628.5,350.3 L629.2,350.5 L629.9,349.9 L630.6,349.9 L631.3,349.3 L632.0,349.7 L632.7,349.8 L633.4,350.0 L634.1,352.4 L634.8,352.0 L635.5,351.5 L636.2,349.1 L636.9,350.2 L637.6,351.4 L638.3,352.0 L639.0,351.0 L639.7,352.0 L640.4,353.1 L641.1,350.7 L641.8,351.2 L642.5,352.8 L643.2,351.1 L643.9,352.8 L644.6,351.6 L645.3,350.2 L646.0,352.0 L646.7,350.5 L647.4,353.5 L648.1,353.8 L648.8,352.6 L649.5,354.2 L650.2,351.5 L650.9,352.5 L651.6,351.5 L652.3,351.1 L653.0,354.3 L653.7,351.3 L654.4,354.8 L655.1,353.4 L655.8,354.0 L656.5,351.4 L657.2,354.9 L657.9,354.5 L658.6,351.8 L659.3,352.2 L660.0,352.0 L660.7,353.5 L661.4,351.9 L662.1,354.8 L662.8,353.6 L663.5,354.5 L664.2,352.8 L664.9,354.4 L665.6,353.7 L666.3,354.5 L667.0,353.6 L667.7,355.9 L668.4,355.4 L669.1,355.4 L669.9,353.5 L670.6,352.9 L671.3,352.8 L672.0,352.8 L672.7,356.2 L673.4,353.5 L674.1,355.9 L674.8,353.4 L675.5,355.0 L676.2,353.5 L676.9,353.8 L677.6,355.6 L678.3,355.1 L679.0,356.5 L679.7,353.7 L680.4,353.9 L681.1,353.1 L681.8,353.8 L682.5,356.9 L683.2,355.3 L683.9,355.0 L684.6,354.5 L685.3,356.2 L686.0,356.0 L686.7,353.9 L687.4,353.5 L688.1,354.0 L688.8,356.7 L689.5,356.4 L690.2,354.4 L690.9,354.5 L691.6,354.8 L692.3,356.3 L693.0,356.7 L693.7,354.7 L694.4,355.1 L695.1,354.8 L695.8,357.6 L696.5,356.1 L697.2,357.7 L697.9,355.0 L698.6,356.6 L699.3,356.4 L700.0,357.9 L700.7,355.6 L701.4,355.1 L702.1,357.5 L702.9,358.1 L703.6,356.4 L704.3,355.7 L705.0,354.8 L705.7,356.3 L706.4,358.3 L707.1,356.0 L707.8,356.4 L708.5,357.0 L709.2,355.7 L709.9,355.2 L710.6,356.9 L711.3,358.8 L712.0,358.4 L712.7,356.2 L713.4,358.2 L714.1,358.4 L714.8,357.5 L715.5,356.6 L716.2,356.0 L716.9,358.1 L717.6,358.1 L718.3,356.2 L719.0,356.0 L719.7,355.9 L720.4,358.8 L721.1,359.1 L721.8,357.7 L722.5,358.1 L723.2,358.5 L723.9,356.4 L724.6,357.9 L725.3,357.6 L726.0,359.3 L726.7,356.6 L727.4,359.3 L728.1,356.6 L728.8,358.5 L729.5,359.7 L730.2,356.5 L730.9,358.1 L731.6,356.3 L732.3,358.3 L733.0,358.3 L733.7,360.2 L734.4,358.4 L735.1,360.1 L735.9,359.4 L736.6,359.9 L737.3,358.0 L738.0,357.0 L738.7,359.3 L739.4,357.2 L740.1,359.3 L740.8,357.6 L741.5,359.3 L742.2,360.0 L742.9,360.8 L743.6,357.8 L744.3,357.8 L745.0,358.8 L745.7,361.1 L746.4,358.2 L747.1,359.2 L747.8,358.8 L748.5,357.6 L749.2,359.6 L749.9,358.7 L750.6,359.4 L751.3,360.5 L752.0,360.3 L752.7,358.6 L753.4,360.3 L754.1,359.9 L754.8,360.8 L755.5,357.8 L756.2,359.0 L756.9,360.6 L757.6,360.2 L758.3,360.0 L759.0,360.2 L759.7,360.6 L760.4,361.1 L761.1,361.5 L761.8,361.4 L762.5,361.9 L763.2,360.7 L763.9,359.1 L764.6,359.9 L765.3,361.9 L766.0,361.6 L766.7,361.1 L767.4,359.1 L768.1,359.3 L768.9,361.3 L769.6,360.5 L770.3,359.6 L771.0,362.7 L771.7,359.8 L772.4,362.7 L773.1,361.5 L773.8,362.9 L774.5,362.2 L775.2,359.9 L775.9,360.1 L776.6,362.7 L777.3,361.0 L778.0,361.3 L778.7,362.4 L779.4,361.8 L780.1,362.3 L780.8,361.6 L781.5,360.7 L782.2,362.5 L782.9,360.2 L783.6,362.6 L784.3,362.9 L785.0,360.4 L785.7,359.8 L786.4,363.5 L787.1,360.6 L787.8,362.0 L788.5,361.0 L789.2,360.4 L789.9,360.9 L790.6,360.2 L791.3,363.3 L792.0,363.0 L792.7,363.1 L793.4,360.5 L794.1,361.3 L794.8,360.4 L795.5,363.4 L796.2,363.9 L796.9,363.8 L797.6,363.4 L798.3,362.5 L799.0,362.0 L799.7,360.5 L800.4,360.2 L801.1,362.6 L801.8,363.9 L802.5,364.0 L803.2,361.8 L803.9,362.2 L804.6,363.7 L805.3,361.3 L806.0,363.1 L806.7,362.6 L807.4,361.9 L808.1,361.8 L808.8,360.9 L809.5,360.8 L810.2,361.4 L810.9,364.2 L811.6,363.6 L812.3,360.3 L813.0,363.3 L813.7,360.9 L814.4,362.6 L815.1,364.0 L815.8,364.0 L816.5,363.9 L817.2,364.3 L817.9,362.9 L818.6,360.5 L819.3,361.4 L820.0,363.1 L820.7,362.8 L821.4,364.1 L822.1,361.1 L822.8,364.0 L823.5,362.8 L824.2,362.9 L824.9,361.0 L825.6,362.0 L826.3,362.6 L827.0,363.6 L827.7,363.3 L828.4,363.1 L829.1,363.4 L829.8,362.0 L830.5,362.0 L831.2,364.5 L831.9,363.3 L832.6,362.9 L833.3,364.5 L834.0,364.1 L834.7,363.6 L835.4,364.6 L836.1,362.3 L836.8,364.4 L837.5,363.1 L838.2,362.5 L838.9,362.4 L839.6,361.0 L840.3,364.3 L841.0,364.7 L841.7,362.3 L842.4,364.6 L843.1,361.4 L843.8,362.7 L844.5,364.8 L845.2,363.4 L845.9,361.5 L846.7,363.4 L847.4,361.0 L848.1,363.8 L848.8,363.3 L849.5,363.5 L850.2,363.7 L850.9,361.4 L851.6,364.5 L852.3,364.1 L853.0,364.6 L853.7,362.0 L854.4,362.0 L855.1,363.9 L855.8,364.8 L856.5,363.4 L857.2,362.1 L857.9,362.9 L858.6,362.1 L859.3,363.1 L860.0,365.0 L860.7,363.9 L861.4,362.0 L862.1,364.8 L862.8,364.7 L863.5,362.8 L864.2,361.2 L864.9,363.9 L865.6,362.5 L866.3,361.8 L867.0,364.9 L867.7,362.9 L868.4,362.0 L869.1,362.4 L869.8,365.3 L870.5,362.7 L871.2,363.2 L871.9,362.4 L872.6,361.7 L873.3,361.9 L874.0,361.6 L874.7,363.2 L875.4,363.1 L876.1,364.2 L876.8,364.8 L877.5,365.0 L878.2,362.0 L878.9,363.7 L879.6,362.1 L880.3,362.7 L881.0,363.1 L881.7,363.1 L882.4,364.9 L883.1,363.3 L883.8,362.2 L884.5,364.0 L885.2,362.6 L885.9,365.2 L886.6,362.1 L887.3,362.3 L888.0,361.9 L888.7,362.8 L889.4,364.8 L890.1,362.0 L890.8,364.1 L891.5,365.3 L892.2,362.6 L892.9,364.7 L893.6,364.6 L894.3,365.6 L895.0,365.2 L895.7,364.3 L896.4,363.5 L897.1,363.3 L897.8,362.3 L898.5,362.0 L899.2,364.4 L899.9,363.0 L900.6,362.5 L901.3,363.8 L902.0,362.5 L902.7,364.5 L903.4,365.7 L904.1,363.4 L904.8,362.1 L905.5,362.6 L906.2,363.2 L906.9,365.5 L907.6,365.8 L908.3,364.6 L909.0,363.9 L909.7,362.8 L910.4,366.0 L911.1,362.9 L911.8,364.0 L912.5,366.0 L913.2,366.0 L913.9,364.1 L914.6,367.5 L915.3,366.3 L916.0,366.6 L916.7,364.9 L917.4,367.3 L918.1,364.4 L918.8,366.8 L919.5,364.7 L920.2,367.9 L920.9,367.2 L921.6,367.3 L922.3,366.7 L923.0,368.5 L923.7,365.6 L924.4,366.3 L925.1,365.8 L925.8,368.5 L926.5,366.4 L927.2,366.3 L928.0,369.8 L928.7,367.8 L929.4,368.2 L930.1,370.2 L930.8,368.5 L931.5,370.5 L932.2,371.3 L932.9,367.9 L933.6,368.6 L934.3,367.8 L935.0,369.0 L935.7,370.4 L936.4,372.1 L937.1,371.6 L937.8,371.4 L938.5,369.3 L939.2,372.5 L939.9,370.7 L940.6,372.2 L941.3,370.1 L942.0,373.3 L942.7,371.1 L943.4,370.9 L944.1,373.3 L944.8,372.7 L945.5,371.8 L946.2,372.1 L946.9,373.5 L947.6,372.2 L948.3,372.9 L949.0,372.9 L949.7,372.7 L950.4,372.7 L951.1,372.4 L951.8,374.7 L952.5,374.3 L953.2,372.6 L953.9,372.7 L954.6,373.7 L955.3,374.7 L956.0,374.5 L956.7,375.2 L957.4,375.6 L958.1,374.1 L958.8,373.3 L959.5,375.9 L960.2,375.5 L960.9,374.9 L961.6,377.2 L962.3,374.4 L963.0,374.5 L963.7,376.7 L964.4,375.8 L965.1,377.1 L965.8,375.0 L966.5,376.7 L967.2,377.4 L967.9,376.8 L968.6,375.8 L969.4,375.7 L970.1,376.8 L970.8,376.8 L971.5,379.3 L972.2,376.2 L972.9,379.1 L973.6,380.1 L974.3,378.5 L975.0,377.2 L975.7,379.2 L976.4,380.6 L977.1,378.7 L977.8,380.1 L978.5,378.2 L979.2,378.5 L979.9,379.0 L980.6,380.2 L981.3,381.7 L982.0,378.7 L982.7,378.4 L983.4,379.4 L984.1,381.1 L984.8,381.4 L985.5,381.0 L986.2,381.9 L986.9,381.1 L987.6,379.9 L988.3,383.3 L989.0,381.6" stroke="#a00a0a"/>
<path d="M571.6,332.7 L572.3,335.6 L573.1,335.9 L573.8,334.0 L574.5,337.3 L575.3,337.0 L576.0,335.3 L576.7,339.6 L577.5,337.5 L578.2,338.4 L578.9,339.5 L579.7,340.8 L580.4,339.6 L581.1,342.5 L581.9,343.8 L582.6,343.1 L583.3,344.3 L584.0,343.7 L584.7,344.6 L585.4,342.0 L586.1,342.8 L586.8,343.3 L587.5,341.9 L588.2,345.4 L588.9,344.1 L589.6,342.0 L590.3,344.0 L591.0,343.4 L591.8,342.6 L592.5,342.5 L593.2,343.8 L593.9,342.3 L594.6,344.3 L595.3,344.1 L596.0,342.7 L596.7,345.7 L597.4,342.4 L598.1,343.0 L598.8,345.6 L599.5,343.3 L600.2,344.2 L600.9,344.8 L601.6,344.3 L602.3,344.6 L603.0,344.7 L603.7,344.7 L604.4,343.0 L605.1,346.1 L605.8,344.0 L606.5,343.2 L607.2,344.7 L607.9,346.3 L608.6,345.7 L609.4,345.0 L610.1,345.2 L610.8,344.2 L611.5,345.8 L612.2,344.8 L612.9,343.7 L613.6,344.0 L614.3,343.9 L615.0,346.4 L615.7,347.2 L616.4,346.8 L617.1,344.7 L617.8,344.4 L618.5,347.7 L619.2,345.5 L619.9,344.7 L620.6,346.4 L621.3,346.6 L622.0,346.3 L622.7,346.0 L623.4,345.5 L624.1,346.3 L624.8,346.2 L625.5,347.2 L626.2,346.3 L627.0,346.0 L627.7,348.6 L628.4,345.1 L629.1,347.8 L629.8,346.5 L630.5,348.1 L631.2,347.7 L631.9,347.2 L632.6,347.4 L633.3,346.0 L634.0,345.2 L634.7,348.2 L635.4,346.3 L636.1,345.7 L636.8,348.6 L637.5,347.8 L638.2,345.6 L638.9,347.6 L639.6,346.2 L640.3,349.1 L641.0,346.7 L641.7,349.5 L642.4,348.2 L643.1,346.1 L643.8,347.5 L644.6,349.8 L645.3,348.8 L646.0,346.7 L646.7,347.6 L647.4,347.3 L648.1,346.6 L648.8,348.6 L649.5,349.1 L650.2,347.2 L650.9,348.6 L651.6,349.9 L652.3,350.1 L653.0,347.3 L653.7,346.9 L654.4,350.3 L655.1,348.0 L655.8,347.4 L656.5,350.0 L657.2,347.9 L657.9,349.8 L658.6,349.7 L659.3,348.1 L660.0,348.9 L660.7,348.2 L661.4,350.3 L662.1,348.3 L662.8,348.3 L663.5,350.6 L664.2,348.4 L664.9,349.0 L665.6,349.4 L666.3,347.4 L667.0,348.6 L667.7,350.4 L668.4,351.4 L669.1,348.9 L669.9,349.5 L670.6,347.9 L671.3,349.6 L672.0,349.1 L672.7,349.8 L673.4,349.0 L674.1,349.1 L674.8,351.5 L675.5,351.0 L676.2,349.4 L676.9,348.3 L677.6,348.2 L678.3,348.5 L679.0,348.6 L679.7,350.5 L680.4,350.3 L681.1,348.8 L681.8,351.8 L682.5,351.0 L683.2,351.2 L683.9,352.0 L684.6,349.7 L685.3,352.1 L686.0,352.4 L686.7,352.2 L687.4,348.8 L688.1,352.1 L688.8,352.6 L689.5,349.2 L690.2,352.2 L690.9,352.1 L691.6,349.0 L692.3,351.7 L693.0,352.0 L693.7,352.0 L694.4,349.2 L695.1,352.9 L695.8,349.4 L696.5,349.5 L697.2,353.0 L697.9,351.1 L698.6,350.0 L699.3,350.9 L700.0,351.8 L700.7,350.5 L701.4,353.1 L702.1,352.2 L702.9,351.1 L703.6,351.0 L704.3,350.1 L705.0,353.6 L705.7,350.9 L706.4,353.5 L707.1,351.9 L707.8,351.9 L708.5,350.5 L709.2,351.9 L709.9,350.3 L710.6,351.8 L711.3,352.5 L712.0,353.7 L712.7,351.0 L713.4,350.8 L714.1,353.3 L714.8,350.7 L715.5,351.0 L716.2,352.2 L716.9,352.0 L717.6,354.3 L718.3,350.7 L719.0,353.9 L719.7,352.3 L720.4,351.1 L721.1,351.5 L721.8,354.2 L722.5,351.4 L723.2,352.4 L723.9,350.9 L724.6,352.7 L725.3,353.6 L726.0,353.8 L726.7,352.3 L727.4,352.6 L728.1,354.3 L728.8,354.5 L729.5,352.8 L730.2,351.3 L730.9,354.9 L731.6,352.6 L732.3,353.1 L733.0,351.5 L733.7,351.4 L734.4,351.8 L735.1,353.6 L735.9,352.5 L736.6,354.6 L737.3,352.1 L738.0,354.2 L738.7,351.7 L739.4,353.1 L740.1,355.4 L740.8,352.7 L741.5,353.0 L742.2,351.9 L742.9,355.3 L743.6,353.9 L744.3,352.9 L745.0,354.2 L745.7,353.1 L746.4,355.6 L747.1,353.8 L747.8,352.4 L748.5,353.0 L749.2,352.4 L749.9,355.3 L750.6,352.7 L751.3,354.3 L752.0,354.7 L752.7,352.8 L753.4,355.0 L754.1,355.0 L754.8,356.3 L755.5,356.3 L756.2,356.5 L756.9,354.8 L757.6,354.6 L758.3,354.5 L759.0,353.3 L759.7,355.2 L760.4,356.9 L761.1,354.9 L761.8,356.4 L762.5,354.0 L763.2,354.5 L763.9,354.8 L764.6,357.0 L765.3,354.6 L766.0,356.2 L766.7,353.8 L767.4,356.3 L768.1,355.2 L768.9,357.3 L769.6,353.5 L770.3,354.5 L771.0,357.0 L771.7,355.3 L772.4,354.7 L773.1,357.1 L773.8,355.4 L774.5,357.2 L775.2,355.9 L775.9,354.0 L776.6,354.2 L777.3,357.3 L778.0,357.5 L778.7,354.6 L779.4,357.9 L780.1,357.4 L780.8,356.2 L781.5,357.2 L782.2,356.3 L782.9,354.3 L783.6,355.4 L784.3,355.6 L785.0,357.9 L785.7,355.4 L786.4,357.1 L787.1,356.9 L787.8,354.8 L788.5,356.2 L789.2,356.5 L789.9,357.2 L790.6,355.8 L791.3,358.3 L792.0,357.6 L792.7,354.5 L793.4,357.9 L794.1,356.8 L794.8,358.1 L795.5,355.3 L796.2,357.5 L796.9,357.3 L797.6,356.0 L798.3,355.8 L799.0,356.8 L799.7,358.3 L800.4,357.2 L801.1,357.0 L801.8,357.2 L802.5,357.8 L803.2,356.8 L803.9,357.3 L804.6,354.6 L805.3,357.9 L806.0,358.3 L806.7,356.8 L807.4,356.8 L808.1,358.2 L808.8,356.8 L809.5,358.1 L810.2,356.7 L810.9,356.8 L811.6,358.2 L812.3,358.2 L813.0,356.9 L813.7,356.7 L814.4,356.8 L815.1,356.4 L815.8,356.1 L816.5,355.5 L817.2,355.7 L817.9,355.5 L818.6,358.4 L819.3,356.2 L820.0,358.1 L820.7,356.5 L821.4,358.6 L822.1,357.0 L822.8,356.0 L823.5,356.3 L824.2,355.7 L824.9,356.0 L825.6,355.8 L826.3,355.8 L827.0,356.2 L827.7,354.8 L828.4,358.5 L829.1,357.9 L829.8,356.1 L830.5,358.1 L831.2,354.9 L831.9,357.2 L832.6,357.1 L833.3,358.3 L834.0,358.7 L834.7,357.2 L835.4,358.1 L836.1,357.6 L836.8,355.1 L837.5,355.2 L838.2,355.2 L838.9,357.8 L839.6,356.7 L840.3,356.2 L841.0,356.8 L841.7,358.6 L842.4,356.7 L843.1,358.2 L843.8,356.3 L844.5,357.5 L845.2,358.0 L845.9,355.6 L846.7,358.5 L847.4,355.6 L848.1,355.5 L848.8,358.7 L849.5,355.8 L850.2,356.6 L850.9,358.7 L851.6,355.7 L852.3,357.5 L853.0,357.8 L853.7,355.2 L854.4,355.4 L855.1,358.9 L855.8,358.2 L856.5,357.6 L857.2,357.5 L857.9,356.9 L858.6,358.6 L859.3,355.1 L860.0,356.1 L860.7,356.1 L861.4,357.5 L862.1,358.7 L862.8,356.0 L863.5,355.4 L864.2,356.0 L864.9,358.4 L865.6,357.5 L866.3,355.6 L867.0,357.9 L867.7,356.7 L868.4,355.3 L869.1,356.3 L869.8,358.5 L870.5,358.9 L871.2,356.6 L871.9,358.2 L872.6,358.8 L873.3,355.5 L874.0,355.9 L874.7,356.4 L875.4,356.4 L876.1,357.7 L876.8,359.1 L877.5,355.9 L878.2,356.2 L878.9,357.2 L879.6,358.1 L880.3,355.7 L881.0,357.4 L881.7,357.7 L882.4,358.3 L883.1,356.6 L883.8,356.5 L884.5,357.5 L885.2,356.7 L885.9,357.0 L886.6,358.3 L887.3,359.1 L888.0,359.2 L888.7,355.9 L889.4,357.4 L890.1,357.4 L890.8,357.5 L891.5,356.0 L892.2,356.6 L892.9,356.8 L893.6,356.0 L894.3,357.2 L895.0,358.9 L895.7,357.9 L896.4,355.9 L897.1,356.3 L897.8,356.8 L898.5,358.6 L899.2,355.5 L899.9,355.7 L900.6,358.7 L901.3,356.8 L902.0,356.1 L902.7,357.5 L903.4,355.5 L904.1,358.2 L904.8,358.9 L905.5,355.6 L906.2,357.5 L906.9,359.1 L907.6,356.6 L908.3,356.7 L909.0,359.2 L909.7,355.8 L910.4,356.1 L911.1,358.4 L911.8,359.4 L912.5,358.5 L913.2,359.1 L913.9,358.2 L914.6,360.5 L915.3,358.0 L916.0,359.1 L916.7,357.7 L917.4,358.3 L918.1,359.7 L918.8,357.7 L919.5,360.5 L920.2,358.6 L920.9,360.9 L921.6,358.4 L922.3,360.5 L923.0,360.1 L923.7,359.2 L924.4,361.5 L925.1,361.2 L925.8,360.2 L926.5,360.9 L927.2,360.6 L928.0,362.0 L928.7,359.2 L929.4,359.4 L930.1,361.6 L930.8,359.7 L931.5,363.1 L932.2,363.3 L932.9,360.8 L933.6,360.7 L934.3,363.6 L935.0,360.5 L935.7,362.4 L936.4,360.9 L937.1,364.5 L937.8,362.4 L938.5,363.5 L939.2,362.1 L939.9,364.6 L940.6,364.1 L941.3,361.3 L942.0,361.8 L942.7,362.8 L943.4,363.0 L944.1,361.9 L944.8,364.4 L945.5,362.2 L946.2,364.3 L946.9,365.3 L947.6,363.5 L948.3,363.8 L949.0,366.1 L949.7,365.9 L950.4,366.0 L951.1,363.4 L951.8,364.2 L952.5,364.8 L953.2,365.4 L953.9,366.6 L954.6,367.3 L955.3,366.1 L956.0,364.2 L956.7,364.2 L957.4,365.8 L958.1,368.1 L958.8,364.7 L959.5,368.4 L960.2,364.7 L960.9,364.9 L961.6,366.8 L962.3,365.3 L963.0,366.5 L963.7,369.2 L964.4,369.3 L965.1,368.7 L965.8,368.4 L966.5,367.2 L967.2,367.5 L967.9,368.1 L968.6,367.5 L969.4,368.8 L970.1,367.2 L970.8,368.6 L971.5,368.2 L972.2,367.3 L972.9,367.5 L973.6,368.8 L974.3,368.6 L975.0,368.8 L975.7,371.1 L976.4,368.6 L977.1,369.1 L977.8,369.2 L978.5,371.6 L979.2,371.9 L979.9,371.1 L980.6,368.2 L981.3,370.4 L982.0,372.3 L982.7,369.6 L983.4,371.8 L984.1,371.6 L984.8,371.1 L985.5,372.9 L986.2,370.3 L986.9,373.2 L987.6,370.6 L988.3,373.0 L989.0,371.7" stroke="#7a0505"/>
<path d="M571.0,338.0 L571.7,336.3 L572.4,336.7 L573.1,338.7 L573.8,337.0 L574.5,340.3 L575.2,340.7 L576.0,338.2 L576.7,341.2 L577.4,341.0 L578.1,341.9 L578.8,343.6 L579.5,344.2 L580.2,342.3 L580.9,344.5 L581.6,344.7 L582.3,345.9 L583.0,342.6 L583.7,346.7 L584.4,344.2 L585.1,344.3 L585.9,346.6 L586.6,348.0 L587.3,348.9 L588.0,347.0 L588.7,349.3 L589.4,346.5 L590.1,350.7 L590.8,348.5 L591.5,349.9 L592.2,348.7 L592.9,348.8 L593.6,349.1 L594.3,351.9 L595.0,352.2 L595.8,353.6 L596.5,354.2 L597.2,352.9 L597.9,355.1 L598.6,352.9 L599.3,356.1 L600.0,354.0 L600.7,356.8 L601.4,354.7 L602.1,354.9 L602.8,355.4 L603.5,353.6 L604.2,353.8 L604.9,355.7 L605.6,356.5 L606.3,353.9 L607.0,355.4 L607.7,355.3 L608.5,357.1 L609.2,358.0 L609.9,354.4 L610.6,356.3 L611.3,354.7 L612.0,357.5 L612.7,358.2 L613.4,357.3 L614.1,356.9 L614.8,354.8 L615.5,355.1 L616.2,355.7 L616.9,355.2 L617.6,355.5 L618.3,358.9 L619.0,356.5 L619.7,358.8 L620.4,358.3 L621.1,358.4 L621.8,359.1 L622.5,358.3 L623.2,356.9 L623.9,357.5 L624.6,357.3 L625.4,355.9 L626.1,356.0 L626.8,358.2 L627.5,358.1 L628.2,360.0 L628.9,358.7 L629.6,359.5 L630.3,358.2 L631.0,358.7 L631.7,359.7 L632.4,356.7 L633.1,356.7 L633.8,358.4 L634.5,358.0 L635.2,358.6 L635.9,357.2 L636.6,357.7 L637.3,357.5 L638.0,359.6 L638.7,357.4 L639.4,357.4 L640.1,360.1 L640.8,359.2 L641.5,357.7 L642.3,361.4 L643.0,359.7 L643.7,361.6 L644.4,360.5 L645.1,360.1 L645.8,359.6 L646.5,358.5 L647.2,362.1 L647.9,360.0 L648.6,359.6 L649.3,359.0 L650.0,360.9 L650.7,362.5 L651.4,360.3 L652.1,362.0 L652.8,361.6 L653.5,360.9 L654.2,361.6 L654.9,362.0 L655.6,362.8 L656.3,359.4 L657.0,359.9 L657.7,360.3 L658.5,359.7 L659.2,360.6 L659.9,361.3 L660.6,360.5 L661.3,361.7 L662.0,359.8 L662.7,363.6 L663.4,362.8 L664.1,360.5 L664.8,361.0 L665.5,363.2 L666.2,360.9 L666.9,363.3 L667.6,360.6 L668.3,363.0 L669.0,363.3 L669.7,362.8 L670.4,363.9 L671.1,364.6 L671.8,364.8 L672.5,361.2 L673.2,363.0 L673.9,361.6 L674.6,364.2 L675.4,362.1 L676.1,362.0 L676.8,361.7 L677.5,361.6 L678.2,362.6 L678.9,362.5 L679.6,363.8 L680.3,365.1 L681.0,364.8 L681.7,363.3 L682.4,363.1 L683.1,365.3 L683.8,363.3 L684.5,364.9 L685.2,366.3 L685.9,364.8 L686.6,364.4 L687.3,362.8 L688.0,363.7 L688.7,366.6 L689.4,363.1 L690.1,363.1 L690.8,365.4 L691.5,364.3 L692.3,365.5 L693.0,364.2 L693.7,364.2 L694.4,364.4 L695.1,366.3 L695.8,366.3 L696.5,363.7 L697.2,366.5 L697.9,366.8 L698.6,365.7 L699.3,364.3 L700.0,364.1 L700.7,368.0 L701.4,364.5 L702.1,364.1 L702.8,364.4 L703.5,367.8 L704.2,368.2 L704.9,367.3 L705.6,368.1 L706.3,367.6 L707.0,364.7 L707.7,366.0 L708.5,367.1 L709.2,367.3 L709.9,367.6 L710.6,367.4 L711.3,365.1 L712.0,366.3 L712.7,368.5 L713.4,367.4 L714.1,365.6 L714.8,366.6 L715.5,368.8 L716.2,366.0 L716.9,365.4 L717.6,368.3 L718.3,367.7 L719.0,366.6 L719.7,367.1 L720.4,366.3 L721.1,368.0 L721.8,366.5 L722.5,367.6 L723.2,369.1 L723.9,368.1 L724.6,366.9 L725.4,366.1 L726.1,367.6 L726.8,365.8 L727.5,368.7 L728.2,367.6 L728.9,367.5 L729.6,367.0 L730.3,368.6 L731.0,367.6 L731.7,367.7 L732.4,366.8 L733.1,366.3 L733.8,366.3 L734.5,367.0 L735.2,369.1 L735.9,368.8 L736.6,367.0 L737.3,366.4 L738.0,367.4 L738.7,369.1 L739.4,367.3 L740.1,368.2 L740.8,366.9 L741.5,369.6 L742.3,368.8 L743.0,368.3 L743.7,370.6 L744.4,368.7 L745.1,367.8 L745.8,369.5 L746.5,370.6 L747.2,369.3 L747.9,370.6 L748.6,369.1 L749.3,368.1 L750.0,369.6 L750.7,367.3 L751.4,371.0 L752.1,369.1 L752.8,367.3 L753.5,368.4 L754.2,369.7 L754.9,370.7 L755.6,371.0 L756.3,368.8 L757.0,371.0 L757.7,369.5 L758.5,369.8 L759.2,371.0 L759.9,370.5 L760.6,369.9 L761.3,367.7 L762.0,369.1 L762.7,370.7 L763.4,369.5 L764.1,368.0 L764.8,371.3 L765.5,369.4 L766.2,370.9 L766.9,369.4 L767.6,369.5 L768.3,370.5 L769.0,370.2 L769.7,371.9 L770.4,370.6 L771.1,369.7 L771.8,370.5 L772.5,371.4 L773.2,371.3 L773.9,368.5 L774.6,370.6 L775.4,372.1 L776.1,370.4 L776.8,369.2 L777.5,369.2 L778.2,370.8 L778.9,372.0 L779.6,371.8 L780.3,370.4 L781.0,369.1 L781.7,370.1 L782.4,371.3 L783.1,371.0 L783.8,370.6 L784.5,369.9 L785.2,370.9 L785.9,369.8 L786.6,371.7 L787.3,369.8 L788.0,369.9 L788.7,373.1 L789.4,369.5 L790.1,370.8 L790.8,371.4 L791.5,369.9 L792.3,371.0 L793.0,373.1 L793.7,372.7 L794.4,371.0 L795.1,371.3 L795.8,370.8 L796.5,373.1 L797.2,371.1 L797.9,372.9 L798.6,373.8 L799.3,371.1 L800.0,372.5 L800.7,373.3 L801.4,372.3 L802.1,373.9 L802.8,371.4 L803.5,372.2 L804.2,371.8 L804.9,371.6 L805.6,374.4 L806.3,370.9 L807.0,372.1 L807.7,374.7 L808.5,371.9 L809.2,373.6 L809.9,374.5 L810.6,372.0 L811.3,372.0 L812.0,373.9 L812.7,371.5 L813.4,373.8 L814.1,375.0 L814.8,375.1 L815.5,375.2 L816.2,373.5 L816.9,374.9 L817.6,375.6 L818.3,374.6 L819.0,372.9 L819.7,375.0 L820.4,374.1 L821.1,373.8 L821.8,372.8 L822.5,375.5 L823.2,375.0 L823.9,372.5 L824.6,373.3 L825.4,372.7 L826.1,374.8 L826.8,375.6 L827.5,374.1 L828.2,373.6 L828.9,374.4 L829.6,375.4 L830.3,373.2 L831.0,373.4 L831.7,375.8 L832.4,376.9 L833.1,375.6 L833.8,373.7 L834.5,375.5 L835.2,374.6 L835.9,375.8 L836.6,374.7 L837.3,374.8 L838.0,377.6 L838.7,375.3 L839.4,375.7 L840.1,378.0 L840.8,375.9 L841.5,375.5 L842.3,375.3 L843.0,374.9 L843.7,377.7 L844.4,378.2 L845.1,376.9 L845.8,377.1 L846.5,375.1 L847.2,375.0 L847.9,376.3 L848.6,375.1 L849.3,377.8 L850.0,377.8 L850.7,378.5 L851.4,376.7 L852.1,377.2 L852.8,375.5 L853.5,377.0 L854.2,379.1 L854.9,376.4 L855.6,377.9 L856.3,377.8 L857.0,376.6 L857.7,376.9 L858.5,376.3 L859.2,379.3 L859.9,379.5 L860.6,379.4 L861.3,379.7 L862.0,376.3 L862.7,376.7 L863.4,377.5 L864.1,377.0 L864.8,379.2 L865.5,379.0 L866.2,378.0 L866.9,380.7 L867.6,376.8 L868.3,377.7 L869.0,377.6 L869.7,377.2 L870.4,378.2 L871.1,379.8 L871.8,381.1 L872.5,379.4 L873.2,378.2 L873.9,379.5 L874.6,379.7 L875.4,378.3 L876.1,380.3 L876.8,381.2 L877.5,380.5 L878.2,378.3 L878.9,380.1 L879.6,381.8 L880.3,380.9 L881.0,379.5 L881.7,379.2 L882.4,381.4 L883.1,379.5 L883.8,382.3 L884.5,382.3 L885.2,380.9 L885.9,379.2 L886.6,381.1 L887.3,380.9 L888.0,378.8 L888.7,379.1 L889.4,380.8 L890.1,380.8 L890.8,379.6 L891.5,382.2 L892.3,381.8 L893.0,380.3 L893.7,382.5 L894.4,381.8 L895.1,381.0 L895.8,382.2 L896.5,380.2 L897.2,379.9 L897.9,382.5 L898.6,381.9 L899.3,381.4 L900.0,381.7 L900.7,382.7 L901.4,380.8 L902.1,383.0 L902.8,381.2 L903.5,384.5 L904.2,382.0 L904.9,383.5 L905.6,383.7 L906.3,381.7 L907.0,382.1 L907.7,385.4 L908.4,385.7 L909.1,385.4 L909.8,385.6 L910.5,386.0 L911.2,383.8 L911.9,383.4 L912.6,383.5 L913.3,384.3 L914.0,383.6 L914.7,384.8 L915.4,386.3 L916.1,385.6 L916.8,383.9 L917.5,387.2 L918.2,385.1 L918.9,387.7 L919.6,384.6 L920.3,384.5 L921.0,385.7 L921.7,387.3 L922.4,388.6 L923.1,387.2 L923.8,388.3 L924.5,385.5 L925.2,386.8 L925.9,387.4 L926.6,386.7 L927.3,386.2 L928.0,386.3 L928.7,387.0 L929.4,387.2 L930.1,387.9 L930.8,386.8 L931.5,389.2 L932.2,390.4 L932.9,389.9 L933.6,388.4 L934.3,389.4 L935.0,391.0 L935.7,389.0 L936.4,390.3 L937.1,389.6 L937.8,389.5 L938.5,390.0 L939.2,391.9 L939.9,391.9 L940.6,389.2 L941.3,391.8 L942.0,392.3 L942.7,391.8 L943.4,390.0 L944.1,393.2 L944.8,391.3 L945.5,391.8 L946.2,392.6 L946.9,391.2 L947.6,390.6 L948.3,394.4 L949.0,393.2 L949.7,391.3 L950.4,391.1 L951.1,394.1 L951.8,391.5 L952.5,395.4 L953.2,393.4 L953.9,394.7 L954.6,394.5 L955.3,395.8 L956.0,393.9 L956.7,395.9 L957.4,394.4 L958.1,394.0 L958.8,394.7 L959.5,394.0 L960.2,394.3 L960.9,396.1 L961.6,396.9 L962.3,394.1 L963.0,395.9 L963.7,396.6 L964.4,396.4 L965.1,397.2 L965.9,397.3 L966.6,396.6 L967.3,395.1 L968.0,398.1 L968.8,462.4 L969.5,528.5 L970.2,531.6 L970.9,531.6 L971.6,529.7 L972.3,530.0 L973.0,529.5 L973.7,531.2 L974.4,530.1 L975.2,531.8 L975.9,531.7 L976.6,529.1 L977.3,531.0 L978.0,530.4 L978.7,530.3 L979.4,528.8 L980.1,528.5 L980.8,529.0 L981.5,530.1 L982.2,530.4 L982.9,531.9 L983.6,531.1 L984.3,529.1 L985.1,530.0 L985.8,532.3 L986.5,529.0 L987.2,529.3 L987.9,530.0 L988.6,532.1 L989.3,529.7 L990.0,530.5" stroke="#f06a6a"/>
</g>
<rect x="570.5" y="309.5" width="419.5" height="255.5" fill="none" stroke="#222" stroke-width="1.3"/>
<text x="564.50" y="342.90" font-size="17.60" text-anchor="end" font-weight="normal" font-style="normal" fill="#111" >-3.57</text>
<text x="564.50" y="396.15" font-size="17.60" text-anchor="end" font-weight="normal" font-style="normal" fill="#111" >-3.58</text>
<text x="564.50" y="449.40" font-size="17.60" text-anchor="end" font-weight="normal" font-style="normal" fill="#111" >-3.59</text>
<text x="564.50" y="502.65" font-size="17.60" text-anchor="end" font-weight="normal" font-style="normal" fill="#111" >-3.60</text>
<text x="564.50" y="555.90" font-size="17.60" text-anchor="end" font-weight="normal" font-style="normal" fill="#111" >-3.61</text>
<text x="570.50" y="584.00" font-size="17.00" text-anchor="middle" font-weight="normal" font-style="normal" fill="#111" >0</text>
<text x="654.50" y="584.00" font-size="17.00" text-anchor="middle" font-weight="normal" font-style="normal" fill="#111" >2</text>
<text x="738.50" y="584.00" font-size="17.00" text-anchor="middle" font-weight="normal" font-style="normal" fill="#111" >4</text>
<text x="822.50" y="584.00" font-size="17.00" text-anchor="middle" font-weight="normal" font-style="normal" fill="#111" >6</text>
<text x="906.50" y="584.00" font-size="17.00" text-anchor="middle" font-weight="normal" font-style="normal" fill="#111" >8</text>
<text x="990.50" y="584.00" font-size="17.00" text-anchor="middle" font-weight="normal" font-style="normal" fill="#111" >10</text>
<path d="M570.5,337.00h5 M570.5,390.25h5 M570.5,443.50h5 M570.5,496.75h5 M570.5,550.00h5 M570.5,363.63h3 M570.5,416.88h3 M570.5,470.13h3 M570.5,523.38h3 M570.50,565.0v-5 M654.50,565.0v-5 M738.50,565.0v-5 M822.50,565.0v-5 M906.50,565.0v-5 M990.50,565.0v-5 M612.50,565.0v-3 M696.50,565.0v-3 M780.50,565.0v-3 M864.50,565.0v-3 M948.50,565.0v-3" stroke="#222" stroke-width="1.2" fill="none"/>
<text x="784.60" y="603.00" font-size="17.50" text-anchor="middle" font-weight="normal" font-style="normal" fill="#111" >Time (ns)</text>
<text x="0.00" y="0.00" font-size="17.00" text-anchor="middle" font-weight="normal" font-style="normal" fill="#111" transform="translate(514.2,438.5) rotate(-90)">Potential energy (eV)</text>
<text x="847.80" y="342.00" font-size="15.20" text-anchor="start" font-weight="normal" font-style="normal" fill="#111" >Config II</text>
<text x="848.00" y="468.60" font-size="15.30" text-anchor="start" font-weight="normal" font-style="normal" fill="#111" >Config I</text>
<text x="508.00" y="312.50" font-size="21.00" text-anchor="start" font-weight="bold" font-style="normal" fill="#111" >d</text>
<rect x="99.50" y="648.25" width="88.50" height="7.6" fill="#fb4d50"/>
<rect x="99.50" y="655.85" width="77.25" height="8.4" fill="#30609c"/>
<rect x="425.75" y="648.75" width="21.25" height="14.5" fill="#fcc630"/>
<text x="91.50" y="660.65" font-size="13.60" text-anchor="end" font-weight="normal" font-style="normal" fill="#111" >&lt;0,0,12,0&gt;</text>
<rect x="99.50" y="671.23" width="180.50" height="7.6" fill="#fb4d50"/>
<rect x="99.50" y="678.83" width="159.50" height="8.4" fill="#30609c"/>
<rect x="425.75" y="671.73" width="39.25" height="14.5" fill="#fcc630"/>
<text x="91.50" y="683.62" font-size="13.60" text-anchor="end" font-weight="normal" font-style="normal" fill="#111" >&lt;0,1,10,2&gt;</text>
<rect x="99.50" y="694.20" width="55.50" height="7.6" fill="#fb4d50"/>
<rect x="99.50" y="701.80" width="47.50" height="8.4" fill="#30609c"/>
<rect x="425.75" y="694.70" width="15.25" height="14.5" fill="#fcc630"/>
<text x="91.50" y="706.60" font-size="13.60" text-anchor="end" font-weight="normal" font-style="normal" fill="#111" >&lt;0,1,10,3&gt;</text>
<rect x="99.50" y="717.17" width="136.75" height="7.6" fill="#fb4d50"/>
<rect x="99.50" y="724.77" width="131.75" height="8.4" fill="#30609c"/>
<rect x="425.75" y="717.67" width="10.25" height="14.5" fill="#fcc630"/>
<text x="91.50" y="729.57" font-size="13.60" text-anchor="end" font-weight="normal" font-style="normal" fill="#111" >&lt;0,2,8,2&gt;</text>
<rect x="99.50" y="740.15" width="83.00" height="7.6" fill="#fb4d50"/>
<rect x="99.50" y="747.75" width="79.75" height="8.4" fill="#30609c"/>
<rect x="425.75" y="740.65" width="7.25" height="14.5" fill="#fcc630"/>
<text x="91.50" y="752.55" font-size="13.60" text-anchor="end" font-weight="normal" font-style="normal" fill="#111" >&lt;0,2,8,3&gt;</text>
<rect x="99.50" y="763.12" width="96.25" height="7.6" fill="#fb4d50"/>
<rect x="99.50" y="770.73" width="91.25" height="8.4" fill="#30609c"/>
<rect x="425.75" y="763.62" width="10.25" height="14.5" fill="#fcc630"/>
<text x="91.50" y="775.52" font-size="13.60" text-anchor="end" font-weight="normal" font-style="normal" fill="#111" >&lt;0,2,8,4&gt;</text>
<rect x="99.50" y="786.10" width="76.25" height="7.6" fill="#fb4d50"/>
<rect x="99.50" y="793.70" width="86.75" height="8.4" fill="#30609c"/>
<rect x="408.00" y="786.60" width="17.75" height="14.5" fill="#fcc630"/>
<text x="91.50" y="798.50" font-size="13.60" text-anchor="end" font-weight="normal" font-style="normal" fill="#111" >&lt;0,3,6,3&gt;</text>
<rect x="99.50" y="809.08" width="236.00" height="7.6" fill="#fb4d50"/>
<rect x="99.50" y="816.68" width="254.00" height="8.4" fill="#30609c"/>
<rect x="395.00" y="809.58" width="30.75" height="14.5" fill="#fcc630"/>
<text x="91.50" y="821.48" font-size="13.60" text-anchor="end" font-weight="normal" font-style="normal" fill="#111" >&lt;0,3,6,4&gt;</text>
<rect x="99.50" y="832.05" width="32.25" height="7.6" fill="#fb4d50"/>
<rect x="99.50" y="839.65" width="39.25" height="8.4" fill="#30609c"/>
<rect x="414.25" y="832.55" width="11.50" height="14.5" fill="#fcc630"/>
<text x="91.50" y="844.45" font-size="13.60" text-anchor="end" font-weight="normal" font-style="normal" fill="#111" >&lt;0,4,4,4&gt;</text>
<rect x="99.50" y="855.02" width="44.25" height="7.6" fill="#fb4d50"/>
<rect x="99.50" y="862.62" width="54.75" height="8.4" fill="#30609c"/>
<rect x="408.00" y="855.52" width="17.75" height="14.5" fill="#fcc630"/>
<text x="91.50" y="867.42" font-size="13.60" text-anchor="end" font-weight="normal" font-style="normal" fill="#111" >&lt;0,4,4,5&gt;</text>
<rect x="99.50" y="878.00" width="43.00" height="7.6" fill="#fb4d50"/>
<rect x="99.50" y="885.60" width="56.25" height="8.4" fill="#30609c"/>
<rect x="402.50" y="878.50" width="23.25" height="14.5" fill="#fcc630"/>
<text x="91.50" y="890.40" font-size="13.60" text-anchor="end" font-weight="normal" font-style="normal" fill="#111" >&lt;0,4,4,6&gt;</text>
<path d="M99.5,783.75 H475.8" stroke="#555" stroke-width="0.9" stroke-dasharray="2.5,2"/>
<path d="M99.50,645.00 H475.75 V898.00 H99.50 Z M375.50,645.00 V898.00 M425.75,645.00 V898.00" fill="none" stroke="#222" stroke-width="1.3"/>
<text x="99.50" y="914.50" font-size="14.50" text-anchor="middle" font-weight="normal" font-style="normal" fill="#111" >0.00</text>
<text x="155.50" y="914.50" font-size="14.50" text-anchor="middle" font-weight="normal" font-style="normal" fill="#111" >0.04</text>
<text x="212.50" y="914.50" font-size="14.50" text-anchor="middle" font-weight="normal" font-style="normal" fill="#111" >0.08</text>
<text x="269.00" y="914.50" font-size="14.50" text-anchor="middle" font-weight="normal" font-style="normal" fill="#111" >0.12</text>
<text x="326.00" y="914.50" font-size="14.50" text-anchor="middle" font-weight="normal" font-style="normal" fill="#111" >0.16</text>
<text x="375.50" y="914.50" font-size="14.50" text-anchor="middle" font-weight="normal" font-style="normal" fill="#111" >-0.02</text>
<text x="425.75" y="914.50" font-size="14.50" text-anchor="middle" font-weight="normal" font-style="normal" fill="#111" >0.00</text>
<text x="475.75" y="914.50" font-size="14.50" text-anchor="middle" font-weight="normal" font-style="normal" fill="#111" >0.02</text>
<path d="M475.75,656.25h-3.5 M475.75,679.23h-3.5 M475.75,702.20h-3.5 M475.75,725.17h-3.5 M475.75,748.15h-3.5 M475.75,771.12h-3.5 M475.75,794.10h-3.5 M475.75,817.08h-3.5 M475.75,840.05h-3.5 M475.75,863.02h-3.5 M475.75,886.00h-3.5 M99.50,898.0v-5 M155.50,898.0v-5 M212.50,898.0v-5 M269.00,898.0v-5 M326.00,898.0v-5 M127.40,898.0v-3 M184.00,898.0v-3 M240.80,898.0v-3 M297.50,898.0v-3 M354.20,898.0v-3 M375.50,898.0v-5 M425.75,898.0v-5 M475.75,898.0v-5 M400.60,898.0v-3 M450.80,898.0v-3" stroke="#222" stroke-width="1.2" fill="none"/>
<text x="237.00" y="929.50" font-size="14.10" text-anchor="middle" font-weight="normal" font-style="normal" fill="#111" >Probability</text>
<text x="425.50" y="929.50" font-size="14.10" text-anchor="middle" font-weight="normal" font-style="normal" fill="#111" >Probability</text>
<text x="0.00" y="0.00" font-size="14.20" text-anchor="middle" font-weight="normal" font-style="normal" fill="#111" transform="translate(21.5,770) rotate(-90)">Polyhedron index</text>
<rect x="103" y="627" width="29" height="13.75" fill="#30609c"/>
<text x="135.50" y="638.50" font-size="13.50" text-anchor="start" font-weight="normal" font-style="normal" fill="#111" >Config I</text>
<rect x="202.5" y="627" width="28" height="13.75" fill="#fb4d50"/>
<text x="234.00" y="638.50" font-size="13.50" text-anchor="start" font-weight="normal" font-style="normal" fill="#111" >Config II</text>
<rect x="299" y="627" width="29" height="13.75" fill="#fcc630"/>
<text x="332.00" y="638.50" font-size="13.00" text-anchor="start" font-weight="normal" font-style="normal" fill="#111" >Diff (Config II - Config I)</text>
<text x="0.00" y="0.00" font-size="15.60" text-anchor="middle" font-weight="normal" font-style="normal" fill="#111" transform="translate(351,706.25) rotate(90)">ICO - like</text>
<text x="0.00" y="0.00" font-size="15.60" text-anchor="middle" font-weight="normal" font-style="normal" fill="#111" transform="translate(351,860.4) rotate(90)">fcc - like</text>
<path d="M343.75,725 V692 M343.75,838.75 V872" stroke="#222" stroke-width="1"/>
<polygon points="343.75,685.5 340,694 347.5,694" fill="#111"/><polygon points="343.75,879.5 340,871 347.5,871" fill="#111"/>
<text x="2.00" y="632.50" font-size="21.00" text-anchor="start" font-weight="bold" font-style="normal" fill="#111" >e</text>
<radialGradient id="pball" cx="45%" cy="40%" r="60%"><stop offset="0" stop-color="#fff"/><stop offset="0.25" stop-color="#f2b8e0"/><stop offset="0.8" stop-color="#d57bb8"/><stop offset="1" stop-color="#b45a98"/></radialGradient>
<text x="508.00" y="636.50" font-size="21.00" text-anchor="start" font-weight="bold" font-style="normal" fill="#111" >f</text>
<text x="515.75" y="707.50" font-size="15.20" text-anchor="start" font-weight="normal" font-style="normal" fill="#111" >Config II</text>
<text x="518.75" y="867.50" font-size="15.30" text-anchor="start" font-weight="normal" font-style="normal" fill="#111" >Config I</text>
<radialGradient id="pg3" cx="40%" cy="35%" r="65%"><stop offset="0" stop-color="#f2b6de"/><stop offset="0.5" stop-color="#d173ad"/><stop offset="1" stop-color="#a24e86"/></radialGradient>
<radialGradient id="tg3" cx="40%" cy="35%" r="65%"><stop offset="0" stop-color="#b2eded"/><stop offset="0.5" stop-color="#5abcbc"/><stop offset="1" stop-color="#2f878b"/></radialGradient>
<ellipse cx="658.0" cy="698.7" rx="63.9" ry="58.5" fill="#c96ea5"/>
<g fill="#c4c4c4" stroke="#858585" stroke-width="0.35"><circle cx="663.7" cy="767.1" r="1.1"/><circle cx="606.3" cy="749.1" r="1.1"/><circle cx="608.6" cy="653.1" r="1.1"/><circle cx="735.6" cy="704.6" r="1.1"/><circle cx="653.8" cy="764.4" r="1.1"/><circle cx="732.2" cy="696.8" r="1.1"/><circle cx="696.4" cy="640.5" r="1.1"/><circle cx="612.4" cy="648.8" r="1.1"/><circle cx="606.2" cy="645.1" r="1.1"/><circle cx="581.9" cy="688.5" r="1.1"/><circle cx="624.7" cy="642.1" r="1.1"/><circle cx="661.9" cy="629.8" r="1.1"/><circle cx="635.9" cy="759.4" r="1.1"/><circle cx="707.3" cy="647.9" r="1.1"/><circle cx="642.8" cy="628.4" r="1.1"/><circle cx="640.4" cy="628.5" r="1.1"/><circle cx="596.7" cy="742.2" r="1.1"/><circle cx="583.8" cy="723.3" r="1.1"/><circle cx="709.1" cy="654.2" r="1.1"/><circle cx="705.1" cy="748.2" r="1.1"/><circle cx="730.2" cy="684.1" r="1.1"/><circle cx="607.2" cy="651.3" r="1.1"/><circle cx="584.7" cy="695.6" r="1.1"/><circle cx="613.3" cy="754.3" r="1.1"/><circle cx="590.2" cy="662.4" r="1.1"/><circle cx="625.3" cy="633.1" r="1.1"/><circle cx="707.2" cy="641.7" r="1.1"/><circle cx="624.2" cy="641.4" r="1.1"/><circle cx="708.7" cy="643.1" r="1.1"/><circle cx="720.1" cy="659.9" r="1.1"/><circle cx="641.8" cy="634.8" r="1.1"/><circle cx="694.9" cy="638.7" r="1.1"/><circle cx="642.7" cy="761.4" r="1.1"/><circle cx="706.3" cy="641.0" r="1.1"/><circle cx="723.9" cy="736.2" r="1.1"/><circle cx="597.9" cy="733.4" r="1.1"/><circle cx="637.0" cy="766.7" r="1.1"/><circle cx="706.8" cy="652.8" r="1.1"/><circle cx="605.3" cy="656.5" r="1.1"/><circle cx="643.6" cy="633.3" r="1.1"/><circle cx="716.1" cy="649.3" r="1.1"/><circle cx="578.5" cy="696.2" r="1.1"/><circle cx="632.2" cy="758.6" r="1.1"/><circle cx="601.4" cy="661.2" r="1.1"/><circle cx="681.9" cy="762.4" r="1.1"/><circle cx="603.3" cy="657.1" r="1.1"/><circle cx="733.4" cy="717.6" r="1.1"/><circle cx="627.1" cy="765.3" r="1.1"/><circle cx="716.4" cy="658.1" r="1.1"/><circle cx="585.6" cy="715.5" r="1.1"/><circle cx="611.3" cy="644.4" r="1.1"/><circle cx="587.4" cy="673.5" r="1.1"/><circle cx="727.5" cy="673.8" r="1.1"/><circle cx="588.3" cy="728.1" r="1.1"/><circle cx="663.6" cy="764.9" r="1.1"/><circle cx="732.0" cy="689.2" r="1.1"/><circle cx="591.5" cy="679.6" r="1.1"/><circle cx="593.1" cy="733.7" r="1.1"/><circle cx="733.1" cy="707.4" r="1.1"/><circle cx="610.7" cy="651.3" r="1.1"/><circle cx="606.3" cy="650.0" r="1.1"/><circle cx="626.6" cy="638.3" r="1.1"/><circle cx="637.4" cy="630.9" r="1.1"/><circle cx="727.5" cy="707.6" r="1.1"/><circle cx="622.5" cy="634.0" r="1.1"/><circle cx="657.5" cy="766.5" r="1.1"/><circle cx="597.2" cy="662.1" r="1.1"/><circle cx="610.3" cy="748.9" r="1.1"/><circle cx="606.6" cy="749.3" r="1.1"/><circle cx="635.2" cy="762.5" r="1.1"/><circle cx="667.7" cy="635.4" r="1.1"/><circle cx="588.3" cy="669.0" r="1.1"/><circle cx="631.6" cy="759.8" r="1.1"/><circle cx="681.9" cy="636.6" r="1.1"/><circle cx="686.3" cy="761.2" r="1.1"/><circle cx="635.4" cy="637.5" r="1.1"/><circle cx="626.1" cy="758.7" r="1.1"/><circle cx="695.1" cy="640.2" r="1.1"/><circle cx="701.9" cy="647.3" r="1.1"/><circle cx="618.6" cy="758.2" r="1.1"/><circle cx="713.5" cy="653.9" r="1.1"/><circle cx="669.1" cy="762.7" r="1.1"/><circle cx="587.8" cy="686.6" r="1.1"/><circle cx="685.2" cy="631.9" r="1.1"/><circle cx="687.3" cy="759.2" r="1.1"/><circle cx="684.7" cy="633.6" r="1.1"/><circle cx="683.3" cy="636.0" r="1.1"/><circle cx="707.7" cy="747.0" r="1.1"/><circle cx="677.7" cy="635.1" r="1.1"/><circle cx="616.0" cy="754.2" r="1.1"/><circle cx="593.5" cy="731.3" r="1.1"/><circle cx="720.5" cy="667.6" r="1.1"/><circle cx="736.9" cy="700.8" r="1.1"/><circle cx="715.9" cy="649.0" r="1.1"/><circle cx="585.6" cy="727.7" r="1.1"/><circle cx="722.4" cy="669.8" r="1.1"/><circle cx="655.8" cy="627.5" r="1.1"/><circle cx="619.1" cy="640.3" r="1.1"/><circle cx="640.3" cy="763.5" r="1.1"/><circle cx="667.9" cy="762.3" r="1.1"/><circle cx="596.5" cy="663.7" r="1.1"/><circle cx="683.9" cy="639.2" r="1.1"/><circle cx="720.9" cy="658.9" r="1.1"/><circle cx="727.7" cy="665.6" r="1.1"/><circle cx="718.8" cy="658.1" r="1.1"/><circle cx="734.7" cy="704.5" r="1.1"/><circle cx="692.2" cy="757.2" r="1.1"/><circle cx="619.1" cy="640.3" r="1.1"/><circle cx="590.4" cy="735.9" r="1.1"/><circle cx="602.4" cy="655.4" r="1.1"/><circle cx="656.8" cy="770.2" r="1.1"/><circle cx="581.4" cy="708.8" r="1.1"/><circle cx="615.3" cy="751.2" r="1.1"/><circle cx="582.1" cy="683.3" r="1.1"/><circle cx="694.8" cy="761.1" r="1.1"/><circle cx="726.4" cy="665.2" r="1.1"/><circle cx="689.0" cy="641.6" r="1.1"/><circle cx="604.0" cy="647.0" r="1.1"/><circle cx="726.7" cy="719.1" r="1.1"/><circle cx="649.3" cy="766.7" r="1.1"/><circle cx="592.2" cy="730.3" r="1.1"/><circle cx="669.5" cy="635.9" r="1.1"/><circle cx="724.7" cy="720.6" r="1.1"/><circle cx="707.8" cy="744.1" r="1.1"/><circle cx="735.1" cy="687.4" r="1.1"/><circle cx="721.9" cy="733.8" r="1.1"/><circle cx="628.7" cy="759.6" r="1.1"/><circle cx="612.8" cy="754.6" r="1.1"/><circle cx="595.4" cy="664.0" r="1.1"/><circle cx="684.4" cy="760.8" r="1.1"/><circle cx="711.5" cy="746.9" r="1.1"/><circle cx="642.5" cy="633.1" r="1.1"/><circle cx="720.6" cy="730.1" r="1.1"/><circle cx="605.1" cy="748.1" r="1.1"/><circle cx="672.9" cy="633.0" r="1.1"/><circle cx="681.9" cy="632.9" r="1.1"/><circle cx="591.4" cy="726.6" r="1.1"/><circle cx="581.5" cy="700.4" r="1.1"/><circle cx="590.9" cy="732.2" r="1.1"/><circle cx="588.2" cy="714.8" r="1.1"/><circle cx="583.4" cy="683.1" r="1.1"/><circle cx="724.5" cy="728.1" r="1.1"/><circle cx="588.0" cy="730.9" r="1.1"/><circle cx="725.5" cy="672.6" r="1.1"/><circle cx="720.0" cy="656.3" r="1.1"/><circle cx="652.3" cy="766.4" r="1.1"/><circle cx="713.6" cy="748.4" r="1.1"/><circle cx="616.9" cy="637.6" r="1.1"/><circle cx="678.1" cy="631.4" r="1.1"/><circle cx="650.3" cy="630.3" r="1.1"/><circle cx="718.1" cy="740.4" r="1.1"/><circle cx="729.0" cy="700.7" r="1.1"/><circle cx="668.7" cy="635.4" r="1.1"/><circle cx="717.2" cy="733.9" r="1.1"/><circle cx="710.2" cy="654.1" r="1.1"/><circle cx="735.1" cy="709.2" r="1.1"/><circle cx="714.4" cy="748.0" r="1.1"/><circle cx="622.0" cy="635.5" r="1.1"/><circle cx="730.0" cy="678.4" r="1.1"/><circle cx="679.1" cy="637.7" r="1.1"/><circle cx="666.2" cy="630.8" r="1.1"/><circle cx="642.7" cy="635.6" r="1.1"/><circle cx="657.5" cy="626.5" r="1.1"/><circle cx="725.5" cy="723.7" r="1.1"/><circle cx="586.4" cy="670.8" r="1.1"/><circle cx="661.5" cy="763.9" r="1.1"/><circle cx="658.0" cy="768.0" r="1.1"/><circle cx="659.6" cy="631.5" r="1.1"/><circle cx="608.5" cy="748.5" r="1.1"/><circle cx="614.6" cy="753.2" r="1.1"/><circle cx="722.6" cy="732.8" r="1.1"/><circle cx="730.6" cy="687.3" r="1.1"/><circle cx="656.8" cy="633.6" r="1.1"/><circle cx="630.0" cy="633.0" r="1.1"/><circle cx="623.6" cy="638.0" r="1.1"/><circle cx="582.4" cy="705.8" r="1.1"/><circle cx="714.8" cy="659.6" r="1.1"/><circle cx="721.5" cy="738.6" r="1.1"/><circle cx="722.7" cy="664.5" r="1.1"/><circle cx="586.1" cy="723.3" r="1.1"/><circle cx="686.2" cy="759.5" r="1.1"/><circle cx="681.7" cy="764.2" r="1.1"/><circle cx="629.5" cy="759.1" r="1.1"/><circle cx="629.4" cy="631.3" r="1.1"/><circle cx="636.2" cy="765.9" r="1.1"/><circle cx="591.3" cy="735.8" r="1.1"/><circle cx="595.7" cy="665.2" r="1.1"/><circle cx="672.1" cy="761.3" r="1.1"/><circle cx="585.2" cy="707.3" r="1.1"/><circle cx="692.3" cy="757.8" r="1.1"/><circle cx="624.2" cy="762.3" r="1.1"/><circle cx="707.2" cy="755.7" r="1.1"/><circle cx="583.1" cy="707.5" r="1.1"/><circle cx="581.7" cy="712.9" r="1.1"/><circle cx="690.7" cy="636.8" r="1.1"/><circle cx="581.8" cy="706.9" r="1.1"/><circle cx="703.7" cy="645.9" r="1.1"/><circle cx="649.9" cy="626.7" r="1.1"/><circle cx="587.6" cy="712.1" r="1.1"/><circle cx="665.3" cy="768.6" r="1.1"/><circle cx="622.2" cy="634.1" r="1.1"/><circle cx="701.7" cy="646.4" r="1.1"/><circle cx="684.7" cy="760.0" r="1.1"/><circle cx="687.4" cy="763.4" r="1.1"/><circle cx="707.5" cy="642.9" r="1.1"/><circle cx="655.5" cy="770.2" r="1.1"/><circle cx="629.4" cy="760.9" r="1.1"/><circle cx="648.7" cy="634.8" r="1.1"/><circle cx="723.0" cy="737.9" r="1.1"/><circle cx="639.0" cy="763.3" r="1.1"/><circle cx="591.2" cy="665.0" r="1.1"/><circle cx="730.8" cy="701.6" r="1.1"/><circle cx="589.5" cy="725.3" r="1.1"/><circle cx="676.7" cy="765.5" r="1.1"/><circle cx="728.6" cy="680.1" r="1.1"/><circle cx="590.0" cy="680.9" r="1.1"/><circle cx="646.2" cy="767.6" r="1.1"/><circle cx="717.6" cy="745.3" r="1.1"/><circle cx="717.3" cy="663.7" r="1.1"/><circle cx="726.4" cy="674.5" r="1.1"/><circle cx="668.8" cy="628.8" r="1.1"/><circle cx="636.5" cy="765.7" r="1.1"/><circle cx="614.0" cy="640.2" r="1.1"/><circle cx="650.5" cy="768.9" r="1.1"/><circle cx="732.0" cy="681.9" r="1.1"/><circle cx="589.1" cy="684.1" r="1.1"/><circle cx="585.0" cy="701.3" r="1.1"/><circle cx="642.8" cy="630.3" r="1.1"/><circle cx="592.7" cy="672.2" r="1.1"/><circle cx="611.8" cy="643.7" r="1.1"/><circle cx="691.8" cy="763.5" r="1.1"/><circle cx="618.3" cy="645.0" r="1.1"/><circle cx="722.6" cy="671.7" r="1.1"/><circle cx="620.4" cy="759.9" r="1.1"/><circle cx="596.5" cy="659.2" r="1.1"/><circle cx="613.5" cy="644.5" r="1.1"/><circle cx="630.7" cy="759.0" r="1.1"/><circle cx="727.7" cy="728.0" r="1.1"/><circle cx="660.1" cy="630.1" r="1.1"/><circle cx="653.2" cy="631.9" r="1.1"/><circle cx="650.7" cy="765.5" r="1.1"/><circle cx="706.7" cy="652.7" r="1.1"/><circle cx="586.0" cy="696.7" r="1.1"/><circle cx="666.7" cy="632.3" r="1.1"/><circle cx="621.4" cy="757.1" r="1.1"/><circle cx="583.4" cy="680.5" r="1.1"/><circle cx="611.0" cy="755.7" r="1.1"/><circle cx="713.1" cy="741.5" r="1.1"/><circle cx="715.3" cy="736.6" r="1.1"/><circle cx="671.9" cy="629.6" r="1.1"/><circle cx="686.4" cy="758.7" r="1.1"/><circle cx="591.3" cy="733.9" r="1.1"/><circle cx="688.9" cy="634.2" r="1.1"/><circle cx="598.5" cy="663.2" r="1.1"/><circle cx="600.6" cy="737.7" r="1.1"/><circle cx="583.9" cy="686.8" r="1.1"/><circle cx="679.4" cy="761.7" r="1.1"/><circle cx="671.8" cy="636.0" r="1.1"/><circle cx="683.7" cy="630.9" r="1.1"/><circle cx="727.7" cy="677.7" r="1.1"/><circle cx="586.7" cy="676.3" r="1.1"/><circle cx="605.1" cy="644.7" r="1.1"/><circle cx="629.9" cy="637.5" r="1.1"/><circle cx="705.4" cy="646.3" r="1.1"/><circle cx="596.3" cy="656.9" r="1.1"/><circle cx="735.2" cy="699.8" r="1.1"/><circle cx="618.9" cy="640.7" r="1.1"/><circle cx="584.7" cy="688.7" r="1.1"/><circle cx="684.0" cy="762.9" r="1.1"/><circle cx="730.5" cy="714.4" r="1.1"/><circle cx="613.0" cy="645.0" r="1.1"/><circle cx="585.6" cy="669.5" r="1.1"/><circle cx="713.2" cy="658.0" r="1.1"/><circle cx="677.9" cy="631.8" r="1.1"/><circle cx="727.5" cy="719.6" r="1.1"/><circle cx="665.3" cy="762.7" r="1.1"/><circle cx="581.5" cy="681.3" r="1.1"/><circle cx="623.3" cy="762.9" r="1.1"/><circle cx="633.8" cy="637.7" r="1.1"/><circle cx="705.5" cy="645.0" r="1.1"/><circle cx="726.8" cy="667.6" r="1.1"/><circle cx="653.3" cy="632.0" r="1.1"/><circle cx="685.5" cy="631.1" r="1.1"/><circle cx="705.6" cy="647.0" r="1.1"/><circle cx="661.2" cy="630.7" r="1.1"/><circle cx="712.2" cy="739.3" r="1.1"/><circle cx="721.2" cy="729.5" r="1.1"/><circle cx="697.6" cy="756.5" r="1.1"/><circle cx="634.5" cy="633.6" r="1.1"/><circle cx="590.9" cy="731.4" r="1.1"/><circle cx="633.0" cy="762.6" r="1.1"/><circle cx="661.3" cy="631.4" r="1.1"/><circle cx="691.2" cy="763.8" r="1.1"/><circle cx="644.1" cy="632.9" r="1.1"/><circle cx="606.4" cy="748.3" r="1.1"/><circle cx="599.0" cy="661.3" r="1.1"/><circle cx="729.6" cy="699.8" r="1.1"/><circle cx="672.7" cy="635.1" r="1.1"/><circle cx="588.7" cy="715.0" r="1.1"/><circle cx="676.0" cy="761.8" r="1.1"/><circle cx="599.4" cy="735.8" r="1.1"/><circle cx="727.6" cy="709.8" r="1.1"/><circle cx="694.6" cy="758.0" r="1.1"/><circle cx="722.9" cy="722.1" r="1.1"/><circle cx="588.3" cy="720.3" r="1.1"/><circle cx="637.8" cy="637.3" r="1.1"/><circle cx="597.6" cy="737.1" r="1.1"/><circle cx="736.1" cy="710.8" r="1.1"/><circle cx="671.7" cy="762.0" r="1.1"/><circle cx="587.7" cy="709.1" r="1.1"/><circle cx="605.5" cy="652.2" r="1.1"/><circle cx="707.9" cy="743.8" r="1.1"/><circle cx="647.9" cy="633.2" r="1.1"/><circle cx="675.5" cy="632.7" r="1.1"/><circle cx="724.2" cy="671.5" r="1.1"/><circle cx="658.0" cy="764.8" r="1.1"/><circle cx="688.0" cy="635.0" r="1.1"/><circle cx="618.5" cy="752.1" r="1.1"/><circle cx="625.4" cy="632.7" r="1.1"/><circle cx="599.8" cy="663.8" r="1.1"/><circle cx="727.2" cy="710.9" r="1.1"/><circle cx="691.6" cy="754.8" r="1.1"/><circle cx="729.8" cy="721.8" r="1.1"/><circle cx="716.0" cy="660.3" r="1.1"/><circle cx="731.3" cy="687.6" r="1.1"/><circle cx="684.0" cy="630.7" r="1.1"/><circle cx="723.0" cy="675.2" r="1.1"/><circle cx="632.5" cy="763.8" r="1.1"/><circle cx="724.5" cy="677.5" r="1.1"/><circle cx="637.0" cy="767.5" r="1.1"/></g>
<circle cx="663.9" cy="662.6" r="15.0" fill="url(#pg3)"/>
<circle cx="666.3" cy="731.7" r="15.0" fill="url(#pg3)"/>
<circle cx="640.1" cy="705.6" r="14.8" fill="url(#pg3)"/>
<circle cx="662.2" cy="711.3" r="14.8" fill="url(#pg3)"/>
<circle cx="667.7" cy="689.8" r="14.6" fill="url(#pg3)"/>
<circle cx="671.7" cy="662.4" r="14.6" fill="url(#pg3)"/>
<circle cx="693.5" cy="714.5" r="14.5" fill="url(#pg3)"/>
<circle cx="640.9" cy="678.9" r="14.1" fill="url(#pg3)"/>
<circle cx="665.7" cy="713.1" r="13.1" fill="url(#pg3)"/>
<circle cx="651.8" cy="723.0" r="13.1" fill="url(#pg3)"/>
<circle cx="626.9" cy="745.9" r="12.9" fill="url(#pg3)"/>
<circle cx="711.1" cy="724.7" r="12.9" fill="url(#pg3)"/>
<circle cx="644.2" cy="703.5" r="12.7" fill="url(#pg3)"/>
<circle cx="632.3" cy="712.7" r="12.6" fill="url(#pg3)"/>
<circle cx="630.9" cy="675.4" r="12.5" fill="url(#pg3)"/>
<circle cx="658.4" cy="719.8" r="12.3" fill="url(#pg3)"/>
<circle cx="693.9" cy="717.7" r="12.3" fill="url(#pg3)"/>
<circle cx="638.7" cy="751.5" r="12.2" fill="url(#pg3)"/>
<circle cx="681.5" cy="688.3" r="12.1" fill="url(#pg3)"/>
<circle cx="616.7" cy="689.2" r="12.0" fill="url(#pg3)"/>
<circle cx="654.9" cy="722.1" r="11.9" fill="url(#pg3)"/>
<circle cx="600.7" cy="688.2" r="11.9" fill="url(#pg3)"/>
<circle cx="714.2" cy="678.1" r="11.8" fill="url(#pg3)"/>
<circle cx="663.3" cy="660.0" r="11.8" fill="url(#pg3)"/>
<circle cx="658.3" cy="754.8" r="11.8" fill="url(#pg3)"/>
<circle cx="629.6" cy="687.5" r="11.7" fill="url(#pg3)"/>
<circle cx="714.2" cy="681.3" r="11.6" fill="url(#pg3)"/>
<circle cx="693.3" cy="652.5" r="11.5" fill="url(#pg3)"/>
<circle cx="670.8" cy="720.2" r="11.5" fill="url(#pg3)"/>
<circle cx="693.5" cy="679.0" r="11.5" fill="url(#pg3)"/>
<circle cx="670.0" cy="749.4" r="11.5" fill="url(#tg3)"/>
<circle cx="681.8" cy="662.2" r="11.4" fill="url(#pg3)"/>
<circle cx="651.4" cy="754.9" r="11.3" fill="url(#pg3)"/>
<circle cx="622.3" cy="665.0" r="11.3" fill="url(#pg3)"/>
<circle cx="627.3" cy="719.4" r="11.2" fill="url(#pg3)"/>
<circle cx="627.0" cy="728.4" r="11.2" fill="url(#pg3)"/>
<circle cx="608.2" cy="732.5" r="11.1" fill="url(#pg3)"/>
<circle cx="654.3" cy="661.7" r="11.1" fill="url(#pg3)"/>
<circle cx="662.0" cy="705.2" r="11.1" fill="url(#pg3)"/>
<circle cx="706.3" cy="678.2" r="11.0" fill="url(#pg3)"/>
<circle cx="621.3" cy="656.9" r="11.0" fill="url(#pg3)"/>
<circle cx="617.0" cy="695.9" r="10.9" fill="url(#pg3)"/>
<circle cx="718.0" cy="691.9" r="10.9" fill="url(#pg3)"/>
<circle cx="717.2" cy="716.6" r="10.8" fill="url(#pg3)"/>
<circle cx="607.9" cy="667.9" r="10.8" fill="url(#pg3)"/>
<circle cx="604.9" cy="690.6" r="10.7" fill="url(#pg3)"/>
<circle cx="716.8" cy="679.4" r="10.7" fill="url(#pg3)"/>
<circle cx="615.3" cy="713.5" r="10.7" fill="url(#pg3)"/>
<circle cx="605.6" cy="688.2" r="10.6" fill="url(#pg3)"/>
<circle cx="682.6" cy="660.8" r="10.5" fill="url(#pg3)"/>
<circle cx="620.5" cy="668.3" r="10.1" fill="url(#pg3)"/>
<circle cx="720.9" cy="702.9" r="10.1" fill="url(#pg3)"/>
<circle cx="627.8" cy="739.5" r="10.0" fill="url(#pg3)"/>
<circle cx="602.1" cy="725.5" r="10.0" fill="url(#pg3)"/>
<circle cx="659.9" cy="681.4" r="9.9" fill="url(#pg3)"/>
<circle cx="597.0" cy="713.8" r="9.9" fill="url(#pg3)"/>
<circle cx="655.8" cy="708.3" r="9.9" fill="url(#pg3)"/>
<circle cx="595.6" cy="708.4" r="9.9" fill="url(#pg3)"/>
<circle cx="641.9" cy="734.7" r="9.8" fill="url(#pg3)"/>
<circle cx="611.8" cy="659.0" r="9.8" fill="url(#pg3)"/>
<circle cx="652.1" cy="668.2" r="9.7" fill="url(#pg3)"/>
<circle cx="626.6" cy="648.2" r="9.6" fill="url(#pg3)"/>
<circle cx="689.2" cy="739.7" r="9.6" fill="url(#pg3)"/>
<circle cx="605.0" cy="666.6" r="9.5" fill="url(#pg3)"/>
<circle cx="675.0" cy="643.9" r="9.5" fill="url(#pg3)"/>
<circle cx="706.6" cy="736.4" r="9.4" fill="url(#pg3)"/>
<circle cx="648.5" cy="664.2" r="9.4" fill="url(#pg3)"/>
<circle cx="678.9" cy="753.8" r="9.3" fill="url(#pg3)"/>
<circle cx="693.5" cy="677.0" r="9.3" fill="url(#pg3)"/>
<circle cx="687.3" cy="711.2" r="9.3" fill="url(#pg3)"/>
<circle cx="663.6" cy="700.9" r="9.3" fill="url(#pg3)"/>
<circle cx="686.0" cy="674.6" r="9.2" fill="url(#pg3)"/>
<circle cx="655.7" cy="690.3" r="9.1" fill="url(#pg3)"/>
<circle cx="667.4" cy="756.6" r="9.1" fill="url(#pg3)"/>
<circle cx="656.7" cy="640.1" r="9.0" fill="url(#pg3)"/>
<circle cx="686.2" cy="650.0" r="8.9" fill="url(#tg3)"/>
<circle cx="595.2" cy="686.2" r="8.9" fill="url(#pg3)"/>
<circle cx="621.9" cy="724.6" r="8.8" fill="url(#pg3)"/>
<circle cx="722.1" cy="692.3" r="8.6" fill="url(#pg3)"/>
<circle cx="685.2" cy="717.6" r="8.5" fill="url(#pg3)"/>
<circle cx="601.1" cy="695.8" r="8.4" fill="url(#pg3)"/>
<circle cx="665.4" cy="686.9" r="8.4" fill="url(#pg3)"/>
<circle cx="700.9" cy="743.1" r="8.4" fill="url(#pg3)"/>
<circle cx="601.3" cy="709.0" r="8.3" fill="url(#pg3)"/>
<circle cx="642.9" cy="711.3" r="8.3" fill="url(#pg3)"/>
<circle cx="717.5" cy="675.1" r="8.3" fill="url(#pg3)"/>
<circle cx="612.1" cy="663.0" r="8.3" fill="url(#pg3)"/>
<circle cx="614.0" cy="667.7" r="8.3" fill="url(#pg3)"/>
<circle cx="708.5" cy="693.5" r="8.2" fill="url(#pg3)"/>
<circle cx="613.2" cy="741.9" r="8.0" fill="url(#tg3)"/>
<circle cx="633.3" cy="721.7" r="7.9" fill="url(#pg3)"/>
<circle cx="629.5" cy="645.0" r="7.9" fill="url(#pg3)"/>
<circle cx="616.7" cy="679.6" r="7.9" fill="url(#pg3)"/>
<circle cx="620.8" cy="742.9" r="7.9" fill="url(#pg3)"/>
<circle cx="619.8" cy="688.1" r="7.9" fill="url(#pg3)"/>
<circle cx="667.0" cy="703.6" r="7.9" fill="url(#pg3)"/>
<circle cx="654.5" cy="706.4" r="7.8" fill="url(#pg3)"/>
<circle cx="667.4" cy="656.4" r="7.7" fill="url(#pg3)"/>
<circle cx="687.3" cy="722.3" r="7.7" fill="url(#pg3)"/>
<circle cx="645.6" cy="753.8" r="7.6" fill="url(#pg3)"/>
<circle cx="711.1" cy="663.5" r="7.6" fill="url(#pg3)"/>
<circle cx="630.5" cy="735.3" r="7.6" fill="url(#pg3)"/>
<circle cx="602.0" cy="682.5" r="7.4" fill="url(#pg3)"/>
<circle cx="680.8" cy="642.3" r="7.4" fill="url(#pg3)"/>
<circle cx="666.8" cy="740.8" r="7.4" fill="url(#pg3)"/>
<circle cx="677.0" cy="657.9" r="7.3" fill="url(#pg3)"/>
<circle cx="649.0" cy="665.3" r="7.3" fill="url(#pg3)"/>
<circle cx="673.4" cy="640.1" r="7.3" fill="url(#pg3)"/>
<circle cx="640.1" cy="736.6" r="7.3" fill="url(#pg3)"/>
<circle cx="592.5" cy="692.2" r="7.2" fill="url(#pg3)"/>
<circle cx="659.9" cy="694.9" r="7.1" fill="url(#pg3)"/>
<circle cx="700.9" cy="708.2" r="7.1" fill="url(#pg3)"/>
<circle cx="671.3" cy="677.4" r="7.0" fill="url(#pg3)"/>
<circle cx="716.0" cy="691.9" r="7.0" fill="url(#pg3)"/>
<circle cx="611.8" cy="736.4" r="6.9" fill="url(#pg3)"/>
<circle cx="671.7" cy="724.4" r="6.9" fill="url(#pg3)"/>
<circle cx="649.0" cy="638.6" r="6.8" fill="url(#pg3)"/>
<circle cx="693.2" cy="750.2" r="6.8" fill="url(#pg3)"/>
<circle cx="653.5" cy="719.0" r="6.8" fill="url(#pg3)"/>
<circle cx="604.5" cy="698.5" r="6.7" fill="url(#pg3)"/>
<circle cx="687.0" cy="716.4" r="6.7" fill="url(#pg3)"/>
<circle cx="704.8" cy="655.6" r="6.7" fill="url(#pg3)"/>
<circle cx="700.7" cy="669.2" r="6.7" fill="url(#pg3)"/>
<circle cx="702.8" cy="666.7" r="6.7" fill="url(#pg3)"/>
<circle cx="649.4" cy="682.7" r="6.6" fill="url(#pg3)"/>
<circle cx="645.0" cy="695.2" r="6.6" fill="url(#pg3)"/>
<circle cx="687.3" cy="733.9" r="6.6" fill="url(#pg3)"/>
<circle cx="715.7" cy="681.5" r="6.5" fill="url(#pg3)"/>
<circle cx="615.8" cy="733.5" r="6.5" fill="url(#pg3)"/>
<circle cx="652.2" cy="695.5" r="6.5" fill="url(#pg3)"/>
<circle cx="646.8" cy="714.8" r="6.4" fill="url(#pg3)"/>
<circle cx="637.4" cy="687.6" r="6.4" fill="url(#pg3)"/>
<circle cx="641.6" cy="705.7" r="6.4" fill="url(#pg3)"/>
<circle cx="596.2" cy="675.7" r="6.4" fill="url(#pg3)"/>
<circle cx="700.5" cy="665.2" r="6.4" fill="url(#pg3)"/>
<circle cx="691.7" cy="680.1" r="6.3" fill="url(#pg3)"/>
<circle cx="621.3" cy="739.4" r="6.3" fill="url(#pg3)"/>
<circle cx="710.2" cy="711.1" r="6.2" fill="url(#pg3)"/>
<circle cx="684.3" cy="711.8" r="6.2" fill="url(#pg3)"/>
<circle cx="643.9" cy="753.7" r="6.2" fill="url(#pg3)"/>
<circle cx="626.2" cy="711.8" r="6.1" fill="url(#pg3)"/>
<circle cx="659.6" cy="674.7" r="6.1" fill="url(#pg3)"/>
<circle cx="669.6" cy="697.3" r="6.0" fill="url(#pg3)"/>
<circle cx="694.6" cy="718.7" r="5.8" fill="url(#pg3)"/>
<circle cx="658.8" cy="711.3" r="5.7" fill="url(#pg3)"/>
<circle cx="691.6" cy="660.4" r="5.6" fill="url(#tg3)"/>
<circle cx="607.0" cy="672.0" r="5.6" fill="url(#pg3)"/>
<circle cx="653.7" cy="719.0" r="5.6" fill="url(#pg3)"/>
<circle cx="718.7" cy="707.1" r="5.6" fill="url(#pg3)"/>
<circle cx="642.2" cy="752.0" r="5.5" fill="url(#tg3)"/>
<circle cx="660.2" cy="693.3" r="5.4" fill="url(#pg3)"/>
<circle cx="694.7" cy="741.5" r="5.4" fill="url(#pg3)"/>
<circle cx="634.7" cy="659.5" r="5.4" fill="url(#pg3)"/>
<circle cx="713.8" cy="686.8" r="5.3" fill="url(#pg3)"/>
<circle cx="635.1" cy="657.8" r="5.1" fill="url(#tg3)"/>
<circle cx="640.2" cy="750.4" r="5.1" fill="url(#pg3)"/>
<circle cx="640.5" cy="684.6" r="4.9" fill="url(#pg3)"/>
<circle cx="639.2" cy="690.7" r="4.9" fill="url(#pg3)"/>
<circle cx="642.9" cy="645.9" r="4.8" fill="url(#pg3)"/>
<circle cx="611.2" cy="692.3" r="4.7" fill="url(#pg3)"/>
<circle cx="622.1" cy="742.4" r="4.6" fill="url(#pg3)"/>
<circle cx="633.3" cy="731.5" r="4.6" fill="url(#pg3)"/>
<circle cx="624.9" cy="712.4" r="4.6" fill="url(#pg3)"/>
<circle cx="612.2" cy="714.8" r="4.6" fill="url(#pg3)"/>
<circle cx="633.2" cy="693.5" r="4.6" fill="url(#pg3)"/>
<circle cx="630.2" cy="713.0" r="4.5" fill="url(#pg3)"/>
<circle cx="689.7" cy="657.5" r="4.5" fill="url(#pg3)"/>
<circle cx="700.5" cy="722.9" r="4.2" fill="url(#pg3)"/>
<circle cx="672.7" cy="684.8" r="4.2" fill="url(#pg3)"/>
<ellipse cx="657.0" cy="668.5" rx="12.3" ry="5.4" transform="rotate(46 657.0 668.5)" fill="url(#pg3)"/>
<ellipse cx="626.6" cy="689.8" rx="8.5" ry="3.5" transform="rotate(115 626.6 689.8)" fill="url(#pg3)"/>
<ellipse cx="666.9" cy="734.7" rx="17.5" ry="5.5" transform="rotate(131 666.9 734.7)" fill="url(#pg3)"/>
<ellipse cx="651.8" cy="705.1" rx="15.5" ry="5.8" transform="rotate(36 651.8 705.1)" fill="url(#pg3)"/>
<ellipse cx="680.9" cy="734.1" rx="12.8" ry="5.2" transform="rotate(27 680.9 734.1)" fill="url(#pg3)"/>
<ellipse cx="624.5" cy="689.2" rx="9.6" ry="3.4" transform="rotate(112 624.5 689.2)" fill="url(#pg3)"/>
<ellipse cx="669.8" cy="688.2" rx="8.8" ry="5.4" transform="rotate(70 669.8 688.2)" fill="url(#pg3)"/>
<ellipse cx="617.2" cy="710.3" rx="10.6" ry="5.1" transform="rotate(0 617.2 710.3)" fill="url(#pg3)"/>
<ellipse cx="651.0" cy="733.6" rx="8.3" ry="4.6" transform="rotate(59 651.0 733.6)" fill="url(#pg3)"/>
<ellipse cx="671.4" cy="696.3" rx="11.9" ry="5.4" transform="rotate(80 671.4 696.3)" fill="url(#pg3)"/>
<ellipse cx="645.9" cy="677.6" rx="12.5" ry="5.4" transform="rotate(62 645.9 677.6)" fill="url(#pg3)"/>
<ellipse cx="661.5" cy="726.0" rx="11.2" ry="4.7" transform="rotate(98 661.5 726.0)" fill="url(#pg3)"/>
<ellipse cx="639.2" cy="685.5" rx="8.3" ry="4.0" transform="rotate(35 639.2 685.5)" fill="url(#pg3)"/>
<ellipse cx="638.1" cy="689.5" rx="14.0" ry="5.0" transform="rotate(132 638.1 689.5)" fill="url(#pg3)"/>
<g fill="#d8d8d8" stroke="#7a7a7a" stroke-width="0.35"><circle cx="614.4" cy="692.7" r="1.0"/><circle cx="651.9" cy="714.5" r="1.0"/><circle cx="671.1" cy="652.8" r="1.0"/><circle cx="710.6" cy="736.8" r="1.0"/><circle cx="611.7" cy="672.5" r="1.0"/><circle cx="635.8" cy="707.7" r="1.0"/><circle cx="685.7" cy="698.6" r="1.0"/><circle cx="613.0" cy="748.9" r="1.0"/><circle cx="692.3" cy="731.8" r="1.0"/><circle cx="624.7" cy="703.0" r="1.0"/><circle cx="696.6" cy="678.9" r="1.0"/><circle cx="704.3" cy="702.1" r="1.0"/><circle cx="714.7" cy="700.4" r="1.0"/><circle cx="701.7" cy="651.6" r="1.0"/><circle cx="710.9" cy="715.1" r="1.0"/><circle cx="642.4" cy="742.4" r="1.0"/><circle cx="646.4" cy="734.1" r="1.0"/><circle cx="693.8" cy="738.2" r="1.0"/><circle cx="714.2" cy="733.7" r="1.0"/><circle cx="721.7" cy="716.7" r="1.0"/><circle cx="665.0" cy="716.9" r="1.0"/><circle cx="656.4" cy="649.6" r="1.0"/><circle cx="663.7" cy="650.9" r="1.0"/><circle cx="644.8" cy="684.5" r="1.0"/><circle cx="635.8" cy="655.8" r="1.0"/><circle cx="663.2" cy="697.5" r="1.0"/><circle cx="708.4" cy="721.8" r="1.0"/><circle cx="697.2" cy="679.1" r="1.0"/><circle cx="645.7" cy="649.7" r="1.0"/><circle cx="622.4" cy="727.8" r="1.0"/><circle cx="648.8" cy="691.9" r="1.0"/><circle cx="638.2" cy="753.1" r="1.0"/><circle cx="655.6" cy="745.0" r="1.0"/><circle cx="656.3" cy="739.0" r="1.0"/><circle cx="624.0" cy="651.5" r="1.0"/><circle cx="702.9" cy="686.2" r="1.0"/><circle cx="669.5" cy="736.1" r="1.0"/><circle cx="688.8" cy="710.6" r="1.0"/><circle cx="612.5" cy="672.0" r="1.0"/><circle cx="659.5" cy="727.4" r="1.0"/><circle cx="681.3" cy="715.2" r="1.0"/><circle cx="623.9" cy="698.4" r="1.0"/><circle cx="695.8" cy="664.9" r="1.0"/><circle cx="634.2" cy="736.1" r="1.0"/><circle cx="713.9" cy="713.1" r="1.0"/><circle cx="658.3" cy="658.0" r="1.0"/><circle cx="652.6" cy="663.9" r="1.0"/><circle cx="664.1" cy="730.3" r="1.0"/><circle cx="675.3" cy="748.3" r="1.0"/><circle cx="621.9" cy="653.9" r="1.0"/><circle cx="704.9" cy="734.5" r="1.0"/><circle cx="616.9" cy="704.3" r="1.0"/><circle cx="613.6" cy="697.8" r="1.0"/><circle cx="671.1" cy="739.0" r="1.0"/><circle cx="623.3" cy="653.4" r="1.0"/><circle cx="683.6" cy="683.6" r="1.0"/><circle cx="704.7" cy="660.5" r="1.0"/><circle cx="642.6" cy="633.7" r="1.0"/><circle cx="696.5" cy="744.0" r="1.0"/><circle cx="677.0" cy="684.8" r="1.0"/><circle cx="603.6" cy="661.9" r="1.0"/><circle cx="641.3" cy="758.8" r="1.0"/><circle cx="695.0" cy="674.0" r="1.0"/><circle cx="677.2" cy="723.5" r="1.0"/><circle cx="679.1" cy="660.3" r="1.0"/><circle cx="640.0" cy="739.8" r="1.0"/><circle cx="688.6" cy="683.9" r="1.0"/><circle cx="723.3" cy="706.2" r="1.0"/><circle cx="640.9" cy="736.9" r="1.0"/><circle cx="693.4" cy="693.3" r="1.0"/><circle cx="712.5" cy="731.3" r="1.0"/><circle cx="659.2" cy="730.4" r="1.0"/><circle cx="687.9" cy="686.4" r="1.0"/><circle cx="689.7" cy="676.0" r="1.0"/><circle cx="647.7" cy="728.3" r="1.0"/><circle cx="609.3" cy="685.4" r="1.0"/><circle cx="619.4" cy="727.3" r="1.0"/><circle cx="639.6" cy="757.6" r="1.0"/><circle cx="711.6" cy="675.1" r="1.0"/><circle cx="665.6" cy="682.5" r="1.0"/><circle cx="657.9" cy="729.1" r="1.0"/><circle cx="695.4" cy="753.6" r="1.0"/><circle cx="711.4" cy="662.5" r="1.0"/><circle cx="636.5" cy="690.5" r="1.0"/><circle cx="643.7" cy="705.8" r="1.0"/><circle cx="686.7" cy="679.1" r="1.0"/><circle cx="642.4" cy="762.4" r="1.0"/><circle cx="677.8" cy="760.4" r="1.0"/><circle cx="637.4" cy="749.7" r="1.0"/><circle cx="708.1" cy="738.4" r="1.0"/><circle cx="626.1" cy="722.3" r="1.0"/><circle cx="628.6" cy="655.8" r="1.0"/><circle cx="657.9" cy="722.5" r="1.0"/><circle cx="648.6" cy="693.9" r="1.0"/><circle cx="685.3" cy="670.1" r="1.0"/><circle cx="676.7" cy="732.5" r="1.0"/><circle cx="686.7" cy="723.6" r="1.0"/><circle cx="616.6" cy="687.2" r="1.0"/><circle cx="639.6" cy="730.1" r="1.0"/><circle cx="598.7" cy="703.7" r="1.0"/><circle cx="603.4" cy="721.2" r="1.0"/><circle cx="634.7" cy="701.2" r="1.0"/><circle cx="687.8" cy="753.2" r="1.0"/><circle cx="616.6" cy="704.1" r="1.0"/><circle cx="596.3" cy="692.6" r="1.0"/><circle cx="629.3" cy="727.3" r="1.0"/><circle cx="653.3" cy="703.9" r="1.0"/><circle cx="613.2" cy="685.7" r="1.0"/><circle cx="612.7" cy="699.9" r="1.0"/><circle cx="601.8" cy="708.5" r="1.0"/><circle cx="684.1" cy="760.2" r="1.0"/><circle cx="705.2" cy="740.1" r="1.0"/><circle cx="685.3" cy="752.3" r="1.0"/><circle cx="656.8" cy="717.5" r="1.0"/><circle cx="598.2" cy="683.1" r="1.0"/><circle cx="693.7" cy="646.6" r="1.0"/><circle cx="673.4" cy="696.7" r="1.0"/><circle cx="642.0" cy="713.9" r="1.0"/><circle cx="659.5" cy="653.4" r="1.0"/><circle cx="655.8" cy="638.6" r="1.0"/><circle cx="713.5" cy="698.3" r="1.0"/><circle cx="693.4" cy="663.4" r="1.0"/><circle cx="713.7" cy="729.6" r="1.0"/><circle cx="674.6" cy="709.4" r="1.0"/><circle cx="675.3" cy="667.4" r="1.0"/><circle cx="652.0" cy="689.0" r="1.0"/><circle cx="671.9" cy="754.0" r="1.0"/><circle cx="704.9" cy="710.0" r="1.0"/><circle cx="686.8" cy="686.7" r="1.0"/><circle cx="641.7" cy="642.9" r="1.0"/><circle cx="615.0" cy="658.3" r="1.0"/><circle cx="655.4" cy="691.1" r="1.0"/><circle cx="675.7" cy="744.8" r="1.0"/><circle cx="688.9" cy="692.8" r="1.0"/><circle cx="637.3" cy="686.2" r="1.0"/><circle cx="683.7" cy="661.8" r="1.0"/><circle cx="603.3" cy="691.1" r="1.0"/><circle cx="695.7" cy="742.3" r="1.0"/><circle cx="677.3" cy="639.2" r="1.0"/><circle cx="651.6" cy="730.7" r="1.0"/><circle cx="690.6" cy="753.7" r="1.0"/><circle cx="619.0" cy="714.7" r="1.0"/><circle cx="602.1" cy="691.5" r="1.0"/><circle cx="641.8" cy="734.3" r="1.0"/><circle cx="664.0" cy="639.6" r="1.0"/><circle cx="652.8" cy="716.2" r="1.0"/><circle cx="709.8" cy="673.5" r="1.0"/><circle cx="622.4" cy="674.8" r="1.0"/><circle cx="700.8" cy="687.4" r="1.0"/><circle cx="662.5" cy="719.6" r="1.0"/><circle cx="627.0" cy="740.8" r="1.0"/><circle cx="614.7" cy="748.1" r="1.0"/><circle cx="631.1" cy="661.8" r="1.0"/><circle cx="630.0" cy="654.5" r="1.0"/><circle cx="622.9" cy="666.7" r="1.0"/><circle cx="611.2" cy="691.9" r="1.0"/><circle cx="672.5" cy="672.9" r="1.0"/><circle cx="666.1" cy="662.8" r="1.0"/><circle cx="668.6" cy="683.9" r="1.0"/><circle cx="613.3" cy="702.9" r="1.0"/><circle cx="650.7" cy="669.2" r="1.0"/><circle cx="656.1" cy="723.2" r="1.0"/><circle cx="610.6" cy="679.4" r="1.0"/><circle cx="686.4" cy="698.8" r="1.0"/><circle cx="678.5" cy="761.4" r="1.0"/><circle cx="609.3" cy="712.8" r="1.0"/><circle cx="644.5" cy="751.8" r="1.0"/><circle cx="679.3" cy="647.7" r="1.0"/><circle cx="702.7" cy="699.1" r="1.0"/><circle cx="643.8" cy="699.7" r="1.0"/><circle cx="667.5" cy="661.8" r="1.0"/><circle cx="643.6" cy="750.1" r="1.0"/><circle cx="617.1" cy="674.6" r="1.0"/><circle cx="688.8" cy="661.1" r="1.0"/><circle cx="648.5" cy="713.0" r="1.0"/><circle cx="619.6" cy="685.4" r="1.0"/><circle cx="619.3" cy="689.6" r="1.0"/><circle cx="671.1" cy="699.3" r="1.0"/><circle cx="669.3" cy="716.0" r="1.0"/><circle cx="688.6" cy="657.4" r="1.0"/><circle cx="662.1" cy="755.4" r="1.0"/><circle cx="646.8" cy="686.1" r="1.0"/><circle cx="658.3" cy="666.4" r="1.0"/><circle cx="683.4" cy="698.3" r="1.0"/><circle cx="650.5" cy="731.5" r="1.0"/><circle cx="697.5" cy="652.2" r="1.0"/><circle cx="635.1" cy="686.2" r="1.0"/><circle cx="607.1" cy="723.2" r="1.0"/><circle cx="718.5" cy="721.7" r="1.0"/><circle cx="693.4" cy="644.0" r="1.0"/><circle cx="641.2" cy="648.4" r="1.0"/><circle cx="692.4" cy="693.3" r="1.0"/><circle cx="649.9" cy="720.9" r="1.0"/><circle cx="683.5" cy="753.3" r="1.0"/><circle cx="706.1" cy="731.5" r="1.0"/><circle cx="607.8" cy="737.0" r="1.0"/><circle cx="661.4" cy="642.9" r="1.0"/><circle cx="665.8" cy="687.2" r="1.0"/><circle cx="654.0" cy="739.5" r="1.0"/><circle cx="608.1" cy="722.4" r="1.0"/><circle cx="700.1" cy="658.8" r="1.0"/><circle cx="708.7" cy="674.3" r="1.0"/><circle cx="628.2" cy="736.4" r="1.0"/><circle cx="657.4" cy="637.8" r="1.0"/><circle cx="630.5" cy="728.0" r="1.0"/><circle cx="633.8" cy="677.5" r="1.0"/><circle cx="658.4" cy="698.3" r="1.0"/><circle cx="630.1" cy="660.9" r="1.0"/><circle cx="675.3" cy="746.6" r="1.0"/><circle cx="592.7" cy="709.4" r="1.0"/><circle cx="696.7" cy="664.4" r="1.0"/><circle cx="701.8" cy="652.9" r="1.0"/><circle cx="689.2" cy="751.5" r="1.0"/><circle cx="691.6" cy="640.6" r="1.0"/><circle cx="660.6" cy="656.5" r="1.0"/><circle cx="672.7" cy="751.2" r="1.0"/><circle cx="672.3" cy="755.6" r="1.0"/><circle cx="603.3" cy="671.1" r="1.0"/><circle cx="635.0" cy="727.8" r="1.0"/><circle cx="703.3" cy="667.7" r="1.0"/><circle cx="621.6" cy="733.7" r="1.0"/><circle cx="608.3" cy="720.0" r="1.0"/><circle cx="622.2" cy="694.9" r="1.0"/><circle cx="720.9" cy="690.6" r="1.0"/><circle cx="659.9" cy="663.2" r="1.0"/><circle cx="677.8" cy="752.9" r="1.0"/><circle cx="681.9" cy="649.7" r="1.0"/><circle cx="671.0" cy="754.4" r="1.0"/><circle cx="617.2" cy="692.7" r="1.0"/><circle cx="619.7" cy="674.7" r="1.0"/><circle cx="623.3" cy="651.7" r="1.0"/><circle cx="680.4" cy="696.3" r="1.0"/><circle cx="598.9" cy="670.4" r="1.0"/><circle cx="629.7" cy="655.9" r="1.0"/><circle cx="665.2" cy="689.2" r="1.0"/><circle cx="672.1" cy="647.4" r="1.0"/><circle cx="625.5" cy="679.7" r="1.0"/><circle cx="640.5" cy="682.4" r="1.0"/><circle cx="624.2" cy="693.2" r="1.0"/><circle cx="713.0" cy="673.5" r="1.0"/><circle cx="600.2" cy="708.7" r="1.0"/><circle cx="621.4" cy="731.0" r="1.0"/><circle cx="691.0" cy="751.8" r="1.0"/><circle cx="663.2" cy="640.1" r="1.0"/><circle cx="710.9" cy="729.2" r="1.0"/><circle cx="708.6" cy="702.5" r="1.0"/><circle cx="641.6" cy="700.0" r="1.0"/><circle cx="602.0" cy="728.7" r="1.0"/><circle cx="631.1" cy="672.1" r="1.0"/><circle cx="673.8" cy="661.7" r="1.0"/><circle cx="692.1" cy="673.0" r="1.0"/><circle cx="716.7" cy="729.9" r="1.0"/><circle cx="688.6" cy="713.4" r="1.0"/><circle cx="661.0" cy="676.0" r="1.0"/><circle cx="597.9" cy="681.6" r="1.0"/><circle cx="624.4" cy="677.4" r="1.0"/><circle cx="661.1" cy="637.5" r="1.0"/><circle cx="611.1" cy="673.2" r="1.0"/><circle cx="639.1" cy="737.4" r="1.0"/><circle cx="724.4" cy="695.3" r="1.0"/><circle cx="687.9" cy="699.0" r="1.0"/><circle cx="667.3" cy="758.0" r="1.0"/><circle cx="666.5" cy="725.1" r="1.0"/><circle cx="660.8" cy="671.1" r="1.0"/><circle cx="703.1" cy="692.3" r="1.0"/><circle cx="707.1" cy="662.4" r="1.0"/><circle cx="673.9" cy="756.3" r="1.0"/><circle cx="630.6" cy="714.9" r="1.0"/><circle cx="712.2" cy="714.8" r="1.0"/><circle cx="623.6" cy="684.8" r="1.0"/><circle cx="672.9" cy="672.7" r="1.0"/><circle cx="639.3" cy="705.5" r="1.0"/><circle cx="620.6" cy="749.9" r="1.0"/><circle cx="631.6" cy="698.7" r="1.0"/><circle cx="662.6" cy="752.6" r="1.0"/><circle cx="647.0" cy="761.3" r="1.0"/><circle cx="716.4" cy="722.1" r="1.0"/><circle cx="613.9" cy="656.3" r="1.0"/><circle cx="647.2" cy="712.8" r="1.0"/><circle cx="683.1" cy="745.8" r="1.0"/><circle cx="680.1" cy="702.3" r="1.0"/><circle cx="670.7" cy="636.8" r="1.0"/><circle cx="696.2" cy="650.2" r="1.0"/><circle cx="598.6" cy="677.3" r="1.0"/><circle cx="641.7" cy="651.0" r="1.0"/><circle cx="648.6" cy="703.4" r="1.0"/><circle cx="686.5" cy="716.7" r="1.0"/><circle cx="635.2" cy="704.4" r="1.0"/><circle cx="708.3" cy="689.3" r="1.0"/><circle cx="654.2" cy="635.1" r="1.0"/><circle cx="667.4" cy="761.5" r="1.0"/><circle cx="691.7" cy="689.6" r="1.0"/><circle cx="700.5" cy="741.5" r="1.0"/><circle cx="704.4" cy="660.2" r="1.0"/><circle cx="614.1" cy="727.2" r="1.0"/><circle cx="682.7" cy="720.1" r="1.0"/><circle cx="607.2" cy="727.1" r="1.0"/><circle cx="713.1" cy="733.1" r="1.0"/><circle cx="723.3" cy="711.1" r="1.0"/><circle cx="663.0" cy="759.5" r="1.0"/></g>
<radialGradient id="pg7" cx="40%" cy="35%" r="65%"><stop offset="0" stop-color="#f2b6de"/><stop offset="0.5" stop-color="#d173ad"/><stop offset="1" stop-color="#a24e86"/></radialGradient>
<radialGradient id="tg7" cx="40%" cy="35%" r="65%"><stop offset="0" stop-color="#b2eded"/><stop offset="0.5" stop-color="#5abcbc"/><stop offset="1" stop-color="#2f878b"/></radialGradient>
<ellipse cx="658.8" cy="858.0" rx="62.1" ry="58.4" fill="#5db5b5"/>
<g fill="#c4c4c4" stroke="#858585" stroke-width="0.35"><circle cx="627.9" cy="916.1" r="1.1"/><circle cx="619.0" cy="805.8" r="1.1"/><circle cx="589.4" cy="843.0" r="1.1"/><circle cx="726.6" cy="882.3" r="1.1"/><circle cx="728.6" cy="873.8" r="1.1"/><circle cx="720.8" cy="885.4" r="1.1"/><circle cx="591.5" cy="890.5" r="1.1"/><circle cx="708.5" cy="904.0" r="1.1"/><circle cx="605.3" cy="806.2" r="1.1"/><circle cx="595.6" cy="826.7" r="1.1"/><circle cx="726.1" cy="848.5" r="1.1"/><circle cx="703.2" cy="806.6" r="1.1"/><circle cx="701.2" cy="908.9" r="1.1"/><circle cx="631.7" cy="924.2" r="1.1"/><circle cx="689.7" cy="920.4" r="1.1"/><circle cx="613.0" cy="806.7" r="1.1"/><circle cx="593.6" cy="839.0" r="1.1"/><circle cx="723.6" cy="881.9" r="1.1"/><circle cx="628.4" cy="796.9" r="1.1"/><circle cx="630.1" cy="921.4" r="1.1"/><circle cx="591.3" cy="877.2" r="1.1"/><circle cx="679.3" cy="790.8" r="1.1"/><circle cx="661.5" cy="926.7" r="1.1"/><circle cx="583.7" cy="846.7" r="1.1"/><circle cx="649.7" cy="792.4" r="1.1"/><circle cx="727.0" cy="850.0" r="1.1"/><circle cx="593.6" cy="892.7" r="1.1"/><circle cx="700.6" cy="913.5" r="1.1"/><circle cx="730.6" cy="875.0" r="1.1"/><circle cx="665.5" cy="789.5" r="1.1"/><circle cx="708.9" cy="811.2" r="1.1"/><circle cx="634.1" cy="793.1" r="1.1"/><circle cx="595.7" cy="825.4" r="1.1"/><circle cx="699.9" cy="797.1" r="1.1"/><circle cx="585.7" cy="869.3" r="1.1"/><circle cx="727.9" cy="884.0" r="1.1"/><circle cx="612.3" cy="800.1" r="1.1"/><circle cx="689.5" cy="798.5" r="1.1"/><circle cx="603.0" cy="903.8" r="1.1"/><circle cx="730.2" cy="867.6" r="1.1"/><circle cx="692.7" cy="914.2" r="1.1"/><circle cx="728.8" cy="883.5" r="1.1"/><circle cx="706.9" cy="905.8" r="1.1"/><circle cx="599.9" cy="903.2" r="1.1"/><circle cx="721.7" cy="890.8" r="1.1"/><circle cx="586.3" cy="836.1" r="1.1"/><circle cx="690.8" cy="793.3" r="1.1"/><circle cx="646.1" cy="924.3" r="1.1"/><circle cx="610.7" cy="913.5" r="1.1"/><circle cx="725.5" cy="841.0" r="1.1"/><circle cx="690.0" cy="916.7" r="1.1"/><circle cx="666.4" cy="925.6" r="1.1"/><circle cx="599.4" cy="823.0" r="1.1"/><circle cx="730.4" cy="859.7" r="1.1"/><circle cx="609.0" cy="908.3" r="1.1"/><circle cx="729.9" cy="837.7" r="1.1"/><circle cx="585.6" cy="851.3" r="1.1"/><circle cx="628.3" cy="800.7" r="1.1"/><circle cx="719.5" cy="816.3" r="1.1"/><circle cx="711.9" cy="807.8" r="1.1"/><circle cx="603.1" cy="900.0" r="1.1"/><circle cx="717.5" cy="900.0" r="1.1"/><circle cx="721.9" cy="882.5" r="1.1"/><circle cx="676.5" cy="920.9" r="1.1"/><circle cx="622.3" cy="912.1" r="1.1"/><circle cx="727.9" cy="858.1" r="1.1"/><circle cx="716.0" cy="897.8" r="1.1"/><circle cx="733.9" cy="869.4" r="1.1"/><circle cx="606.7" cy="815.4" r="1.1"/><circle cx="657.8" cy="924.7" r="1.1"/><circle cx="613.6" cy="906.7" r="1.1"/><circle cx="703.8" cy="799.0" r="1.1"/><circle cx="588.2" cy="872.4" r="1.1"/><circle cx="717.7" cy="891.1" r="1.1"/><circle cx="620.2" cy="913.1" r="1.1"/><circle cx="691.7" cy="800.8" r="1.1"/><circle cx="734.8" cy="868.4" r="1.1"/><circle cx="590.8" cy="846.5" r="1.1"/><circle cx="593.4" cy="840.9" r="1.1"/><circle cx="582.9" cy="845.3" r="1.1"/><circle cx="707.4" cy="805.1" r="1.1"/><circle cx="653.8" cy="924.7" r="1.1"/><circle cx="696.2" cy="919.2" r="1.1"/><circle cx="585.2" cy="843.6" r="1.1"/><circle cx="625.3" cy="915.5" r="1.1"/><circle cx="687.9" cy="790.8" r="1.1"/><circle cx="704.1" cy="801.4" r="1.1"/><circle cx="689.9" cy="794.1" r="1.1"/><circle cx="669.4" cy="925.5" r="1.1"/><circle cx="617.0" cy="908.3" r="1.1"/><circle cx="728.0" cy="869.5" r="1.1"/><circle cx="654.5" cy="927.7" r="1.1"/><circle cx="728.1" cy="839.8" r="1.1"/><circle cx="730.0" cy="830.0" r="1.1"/><circle cx="727.1" cy="839.3" r="1.1"/><circle cx="671.7" cy="922.5" r="1.1"/><circle cx="681.7" cy="919.8" r="1.1"/><circle cx="604.5" cy="807.6" r="1.1"/><circle cx="697.7" cy="800.8" r="1.1"/><circle cx="615.7" cy="799.9" r="1.1"/><circle cx="722.5" cy="893.3" r="1.1"/><circle cx="722.2" cy="820.1" r="1.1"/><circle cx="658.9" cy="790.1" r="1.1"/><circle cx="691.5" cy="921.7" r="1.1"/><circle cx="621.5" cy="919.5" r="1.1"/><circle cx="729.1" cy="846.1" r="1.1"/><circle cx="596.3" cy="899.9" r="1.1"/><circle cx="647.9" cy="793.7" r="1.1"/><circle cx="707.0" cy="904.5" r="1.1"/><circle cx="721.1" cy="818.1" r="1.1"/><circle cx="704.7" cy="914.5" r="1.1"/><circle cx="732.2" cy="849.4" r="1.1"/><circle cx="615.8" cy="913.4" r="1.1"/><circle cx="704.9" cy="904.7" r="1.1"/><circle cx="731.5" cy="845.4" r="1.1"/><circle cx="583.2" cy="846.0" r="1.1"/><circle cx="589.2" cy="886.9" r="1.1"/><circle cx="690.9" cy="799.9" r="1.1"/><circle cx="658.0" cy="924.2" r="1.1"/><circle cx="663.2" cy="926.8" r="1.1"/><circle cx="654.6" cy="925.3" r="1.1"/><circle cx="710.7" cy="910.7" r="1.1"/><circle cx="615.1" cy="911.8" r="1.1"/><circle cx="592.7" cy="822.1" r="1.1"/><circle cx="591.6" cy="892.4" r="1.1"/><circle cx="586.0" cy="857.3" r="1.1"/><circle cx="591.7" cy="848.6" r="1.1"/><circle cx="594.3" cy="882.0" r="1.1"/><circle cx="734.1" cy="859.7" r="1.1"/><circle cx="692.6" cy="917.9" r="1.1"/><circle cx="647.5" cy="790.2" r="1.1"/><circle cx="625.4" cy="918.6" r="1.1"/><circle cx="588.1" cy="833.9" r="1.1"/><circle cx="716.2" cy="900.5" r="1.1"/><circle cx="659.5" cy="924.1" r="1.1"/><circle cx="668.9" cy="790.5" r="1.1"/><circle cx="589.4" cy="831.4" r="1.1"/><circle cx="720.1" cy="822.7" r="1.1"/><circle cx="603.7" cy="813.7" r="1.1"/><circle cx="584.7" cy="852.7" r="1.1"/><circle cx="589.3" cy="878.2" r="1.1"/><circle cx="582.8" cy="867.9" r="1.1"/><circle cx="634.9" cy="790.1" r="1.1"/><circle cx="724.4" cy="834.6" r="1.1"/><circle cx="587.4" cy="831.7" r="1.1"/><circle cx="695.7" cy="803.3" r="1.1"/><circle cx="710.7" cy="904.8" r="1.1"/><circle cx="721.6" cy="886.9" r="1.1"/><circle cx="725.2" cy="888.9" r="1.1"/><circle cx="674.9" cy="787.9" r="1.1"/><circle cx="700.9" cy="915.8" r="1.1"/><circle cx="621.9" cy="803.2" r="1.1"/><circle cx="715.8" cy="809.4" r="1.1"/><circle cx="673.4" cy="928.9" r="1.1"/><circle cx="600.8" cy="898.6" r="1.1"/><circle cx="734.3" cy="853.5" r="1.1"/><circle cx="696.7" cy="915.3" r="1.1"/><circle cx="588.2" cy="851.5" r="1.1"/><circle cx="682.4" cy="920.6" r="1.1"/><circle cx="647.0" cy="795.2" r="1.1"/><circle cx="591.0" cy="835.5" r="1.1"/><circle cx="729.2" cy="865.5" r="1.1"/><circle cx="607.1" cy="810.1" r="1.1"/><circle cx="729.7" cy="886.5" r="1.1"/><circle cx="677.2" cy="787.7" r="1.1"/><circle cx="714.3" cy="898.4" r="1.1"/><circle cx="731.6" cy="875.4" r="1.1"/><circle cx="650.0" cy="922.2" r="1.1"/><circle cx="591.3" cy="891.7" r="1.1"/><circle cx="688.2" cy="798.2" r="1.1"/><circle cx="704.0" cy="916.0" r="1.1"/><circle cx="591.6" cy="828.0" r="1.1"/><circle cx="716.5" cy="892.2" r="1.1"/><circle cx="631.6" cy="795.6" r="1.1"/><circle cx="727.7" cy="889.7" r="1.1"/><circle cx="608.8" cy="805.0" r="1.1"/><circle cx="724.4" cy="893.8" r="1.1"/><circle cx="728.2" cy="887.0" r="1.1"/><circle cx="590.9" cy="877.1" r="1.1"/><circle cx="586.4" cy="834.4" r="1.1"/><circle cx="651.1" cy="922.3" r="1.1"/><circle cx="589.9" cy="846.9" r="1.1"/><circle cx="712.3" cy="899.3" r="1.1"/><circle cx="724.9" cy="878.4" r="1.1"/><circle cx="632.0" cy="919.4" r="1.1"/><circle cx="663.0" cy="791.9" r="1.1"/><circle cx="589.5" cy="858.0" r="1.1"/><circle cx="620.0" cy="910.3" r="1.1"/><circle cx="658.6" cy="921.7" r="1.1"/><circle cx="651.1" cy="789.8" r="1.1"/><circle cx="685.6" cy="921.0" r="1.1"/><circle cx="721.7" cy="832.2" r="1.1"/><circle cx="688.9" cy="796.7" r="1.1"/><circle cx="583.2" cy="860.2" r="1.1"/><circle cx="602.0" cy="900.4" r="1.1"/><circle cx="629.4" cy="791.0" r="1.1"/><circle cx="617.2" cy="917.4" r="1.1"/><circle cx="639.0" cy="791.2" r="1.1"/><circle cx="600.2" cy="895.6" r="1.1"/><circle cx="723.7" cy="879.7" r="1.1"/><circle cx="726.3" cy="888.2" r="1.1"/><circle cx="656.4" cy="923.0" r="1.1"/><circle cx="724.1" cy="894.0" r="1.1"/><circle cx="709.7" cy="807.4" r="1.1"/><circle cx="644.9" cy="922.4" r="1.1"/><circle cx="639.5" cy="923.3" r="1.1"/><circle cx="698.3" cy="914.5" r="1.1"/><circle cx="652.4" cy="930.0" r="1.1"/><circle cx="730.6" cy="846.3" r="1.1"/><circle cx="661.5" cy="930.3" r="1.1"/><circle cx="632.8" cy="920.2" r="1.1"/><circle cx="730.1" cy="858.5" r="1.1"/><circle cx="587.2" cy="868.8" r="1.1"/><circle cx="680.8" cy="922.9" r="1.1"/><circle cx="728.9" cy="860.1" r="1.1"/><circle cx="719.2" cy="893.9" r="1.1"/><circle cx="724.3" cy="874.5" r="1.1"/><circle cx="635.4" cy="919.9" r="1.1"/><circle cx="596.3" cy="823.0" r="1.1"/><circle cx="659.1" cy="788.5" r="1.1"/><circle cx="642.7" cy="788.1" r="1.1"/><circle cx="604.4" cy="900.6" r="1.1"/><circle cx="727.5" cy="851.8" r="1.1"/><circle cx="646.9" cy="789.5" r="1.1"/><circle cx="731.6" cy="877.3" r="1.1"/><circle cx="716.1" cy="814.5" r="1.1"/><circle cx="651.2" cy="787.4" r="1.1"/><circle cx="705.4" cy="910.5" r="1.1"/><circle cx="583.1" cy="856.0" r="1.1"/><circle cx="684.3" cy="791.1" r="1.1"/><circle cx="592.9" cy="821.9" r="1.1"/><circle cx="628.4" cy="794.3" r="1.1"/><circle cx="667.3" cy="921.3" r="1.1"/><circle cx="706.5" cy="907.6" r="1.1"/><circle cx="718.6" cy="901.6" r="1.1"/><circle cx="590.0" cy="833.1" r="1.1"/><circle cx="606.7" cy="808.3" r="1.1"/><circle cx="591.3" cy="862.3" r="1.1"/><circle cx="680.9" cy="790.8" r="1.1"/><circle cx="586.0" cy="856.7" r="1.1"/><circle cx="622.0" cy="804.0" r="1.1"/><circle cx="653.0" cy="792.4" r="1.1"/><circle cx="721.4" cy="887.7" r="1.1"/><circle cx="649.8" cy="793.1" r="1.1"/><circle cx="653.9" cy="785.7" r="1.1"/><circle cx="587.5" cy="860.5" r="1.1"/><circle cx="585.2" cy="867.2" r="1.1"/><circle cx="666.6" cy="789.2" r="1.1"/><circle cx="616.1" cy="807.8" r="1.1"/><circle cx="700.9" cy="910.7" r="1.1"/><circle cx="655.8" cy="791.7" r="1.1"/><circle cx="597.1" cy="831.7" r="1.1"/><circle cx="724.0" cy="882.6" r="1.1"/><circle cx="623.8" cy="796.4" r="1.1"/><circle cx="627.1" cy="798.9" r="1.1"/><circle cx="587.1" cy="851.0" r="1.1"/><circle cx="591.6" cy="871.6" r="1.1"/><circle cx="713.4" cy="817.5" r="1.1"/><circle cx="734.7" cy="848.1" r="1.1"/><circle cx="730.4" cy="865.4" r="1.1"/><circle cx="691.5" cy="792.5" r="1.1"/><circle cx="592.1" cy="878.6" r="1.1"/><circle cx="678.0" cy="927.9" r="1.1"/><circle cx="676.7" cy="924.8" r="1.1"/><circle cx="704.5" cy="911.1" r="1.1"/><circle cx="724.7" cy="839.0" r="1.1"/><circle cx="689.8" cy="796.3" r="1.1"/><circle cx="715.2" cy="812.4" r="1.1"/><circle cx="667.7" cy="929.2" r="1.1"/><circle cx="591.2" cy="863.5" r="1.1"/><circle cx="731.2" cy="859.5" r="1.1"/><circle cx="591.6" cy="878.2" r="1.1"/><circle cx="703.8" cy="909.6" r="1.1"/><circle cx="628.3" cy="923.1" r="1.1"/><circle cx="733.7" cy="858.8" r="1.1"/><circle cx="695.3" cy="803.2" r="1.1"/><circle cx="725.5" cy="826.8" r="1.1"/><circle cx="716.2" cy="819.6" r="1.1"/><circle cx="609.2" cy="906.3" r="1.1"/><circle cx="732.1" cy="857.5" r="1.1"/><circle cx="612.8" cy="909.8" r="1.1"/><circle cx="648.1" cy="921.2" r="1.1"/><circle cx="719.5" cy="900.4" r="1.1"/><circle cx="641.8" cy="928.3" r="1.1"/><circle cx="659.1" cy="924.0" r="1.1"/><circle cx="589.5" cy="853.5" r="1.1"/><circle cx="605.0" cy="909.6" r="1.1"/><circle cx="715.2" cy="810.8" r="1.1"/><circle cx="606.8" cy="805.3" r="1.1"/><circle cx="726.7" cy="833.0" r="1.1"/><circle cx="645.9" cy="795.2" r="1.1"/><circle cx="650.8" cy="790.8" r="1.1"/><circle cx="660.0" cy="788.6" r="1.1"/><circle cx="643.4" cy="920.4" r="1.1"/><circle cx="720.5" cy="829.3" r="1.1"/><circle cx="588.9" cy="869.6" r="1.1"/><circle cx="636.7" cy="925.1" r="1.1"/><circle cx="728.2" cy="848.2" r="1.1"/><circle cx="619.5" cy="802.9" r="1.1"/><circle cx="592.0" cy="834.3" r="1.1"/><circle cx="693.1" cy="914.5" r="1.1"/><circle cx="678.8" cy="927.3" r="1.1"/><circle cx="589.1" cy="859.2" r="1.1"/><circle cx="723.0" cy="817.7" r="1.1"/><circle cx="593.2" cy="878.0" r="1.1"/><circle cx="683.0" cy="918.2" r="1.1"/><circle cx="621.4" cy="911.9" r="1.1"/><circle cx="663.6" cy="923.8" r="1.1"/><circle cx="589.8" cy="827.7" r="1.1"/><circle cx="658.6" cy="790.7" r="1.1"/><circle cx="596.5" cy="893.2" r="1.1"/><circle cx="608.1" cy="904.6" r="1.1"/><circle cx="723.8" cy="883.1" r="1.1"/><circle cx="726.2" cy="845.0" r="1.1"/><circle cx="585.1" cy="856.5" r="1.1"/><circle cx="704.2" cy="808.3" r="1.1"/><circle cx="649.6" cy="923.2" r="1.1"/><circle cx="600.7" cy="897.8" r="1.1"/><circle cx="731.5" cy="837.7" r="1.1"/><circle cx="706.1" cy="812.3" r="1.1"/><circle cx="731.8" cy="872.1" r="1.1"/><circle cx="716.0" cy="816.6" r="1.1"/><circle cx="601.1" cy="824.9" r="1.1"/><circle cx="599.3" cy="903.3" r="1.1"/><circle cx="693.5" cy="794.6" r="1.1"/><circle cx="727.8" cy="846.6" r="1.1"/><circle cx="712.3" cy="899.1" r="1.1"/><circle cx="585.3" cy="848.2" r="1.1"/><circle cx="728.4" cy="832.8" r="1.1"/><circle cx="613.7" cy="801.7" r="1.1"/></g>
<circle cx="668.0" cy="829.9" r="14.9" fill="url(#tg7)"/>
<circle cx="679.3" cy="852.5" r="14.6" fill="url(#tg7)"/>
<circle cx="645.7" cy="894.7" r="14.5" fill="url(#pg7)"/>
<circle cx="634.1" cy="827.9" r="14.3" fill="url(#tg7)"/>
<circle cx="673.6" cy="861.1" r="14.1" fill="url(#tg7)"/>
<circle cx="692.6" cy="842.1" r="13.9" fill="url(#pg7)"/>
<circle cx="694.2" cy="871.2" r="13.9" fill="url(#pg7)"/>
<circle cx="671.6" cy="890.3" r="13.9" fill="url(#tg7)"/>
<circle cx="659.7" cy="835.3" r="13.9" fill="url(#tg7)"/>
<circle cx="680.1" cy="851.6" r="13.4" fill="url(#pg7)"/>
<circle cx="692.1" cy="852.0" r="13.0" fill="url(#tg7)"/>
<circle cx="658.3" cy="845.5" r="13.0" fill="url(#tg7)"/>
<circle cx="606.1" cy="881.3" r="12.8" fill="url(#tg7)"/>
<circle cx="682.2" cy="847.3" r="12.8" fill="url(#pg7)"/>
<circle cx="648.4" cy="881.8" r="12.7" fill="url(#tg7)"/>
<circle cx="621.0" cy="845.5" r="12.7" fill="url(#tg7)"/>
<circle cx="669.8" cy="837.6" r="12.6" fill="url(#tg7)"/>
<circle cx="716.7" cy="865.5" r="12.6" fill="url(#tg7)"/>
<circle cx="643.3" cy="889.1" r="12.6" fill="url(#tg7)"/>
<circle cx="633.3" cy="808.2" r="12.2" fill="url(#tg7)"/>
<circle cx="647.4" cy="845.6" r="12.1" fill="url(#pg7)"/>
<circle cx="680.4" cy="877.8" r="12.0" fill="url(#pg7)"/>
<circle cx="676.4" cy="814.9" r="11.9" fill="url(#tg7)"/>
<circle cx="654.1" cy="903.5" r="11.7" fill="url(#tg7)"/>
<circle cx="711.0" cy="884.6" r="11.7" fill="url(#tg7)"/>
<circle cx="663.0" cy="897.1" r="11.7" fill="url(#pg7)"/>
<circle cx="700.6" cy="835.2" r="11.5" fill="url(#tg7)"/>
<circle cx="703.7" cy="861.3" r="11.5" fill="url(#tg7)"/>
<circle cx="608.5" cy="828.0" r="11.5" fill="url(#tg7)"/>
<circle cx="638.1" cy="889.5" r="11.5" fill="url(#tg7)"/>
<circle cx="693.4" cy="860.3" r="11.5" fill="url(#tg7)"/>
<circle cx="652.4" cy="802.9" r="11.5" fill="url(#tg7)"/>
<circle cx="704.5" cy="850.6" r="11.4" fill="url(#pg7)"/>
<circle cx="638.8" cy="910.8" r="11.4" fill="url(#tg7)"/>
<circle cx="599.8" cy="860.8" r="11.3" fill="url(#tg7)"/>
<circle cx="681.6" cy="806.0" r="11.3" fill="url(#tg7)"/>
<circle cx="678.3" cy="878.1" r="11.2" fill="url(#tg7)"/>
<circle cx="679.9" cy="878.6" r="11.0" fill="url(#pg7)"/>
<circle cx="718.4" cy="850.1" r="10.9" fill="url(#pg7)"/>
<circle cx="662.7" cy="894.7" r="10.8" fill="url(#pg7)"/>
<circle cx="604.5" cy="866.2" r="10.7" fill="url(#pg7)"/>
<circle cx="701.0" cy="817.3" r="10.6" fill="url(#tg7)"/>
<circle cx="612.7" cy="887.7" r="10.6" fill="url(#tg7)"/>
<circle cx="636.9" cy="875.5" r="10.6" fill="url(#tg7)"/>
<circle cx="669.8" cy="841.3" r="10.6" fill="url(#tg7)"/>
<circle cx="624.6" cy="898.6" r="10.6" fill="url(#tg7)"/>
<circle cx="677.4" cy="851.8" r="10.6" fill="url(#pg7)"/>
<circle cx="706.0" cy="893.8" r="10.4" fill="url(#tg7)"/>
<circle cx="619.1" cy="814.9" r="10.4" fill="url(#tg7)"/>
<circle cx="713.4" cy="874.1" r="10.3" fill="url(#pg7)"/>
<circle cx="676.6" cy="832.0" r="10.2" fill="url(#tg7)"/>
<circle cx="612.5" cy="885.3" r="10.1" fill="url(#tg7)"/>
<circle cx="702.8" cy="868.9" r="10.1" fill="url(#tg7)"/>
<circle cx="682.0" cy="908.7" r="10.0" fill="url(#tg7)"/>
<circle cx="656.5" cy="802.6" r="10.0" fill="url(#tg7)"/>
<circle cx="714.6" cy="860.1" r="10.0" fill="url(#pg7)"/>
<circle cx="671.1" cy="867.8" r="9.8" fill="url(#pg7)"/>
<circle cx="625.8" cy="906.6" r="9.8" fill="url(#tg7)"/>
<circle cx="666.4" cy="893.4" r="9.7" fill="url(#tg7)"/>
<circle cx="639.9" cy="808.6" r="9.7" fill="url(#tg7)"/>
<circle cx="694.0" cy="880.9" r="9.7" fill="url(#pg7)"/>
<circle cx="629.0" cy="833.0" r="9.6" fill="url(#pg7)"/>
<circle cx="692.6" cy="878.7" r="9.6" fill="url(#tg7)"/>
<circle cx="604.2" cy="868.0" r="9.6" fill="url(#tg7)"/>
<circle cx="641.7" cy="815.5" r="9.6" fill="url(#tg7)"/>
<circle cx="666.9" cy="886.3" r="9.6" fill="url(#tg7)"/>
<circle cx="644.7" cy="857.0" r="9.5" fill="url(#tg7)"/>
<circle cx="655.6" cy="915.8" r="9.5" fill="url(#pg7)"/>
<circle cx="668.0" cy="838.2" r="9.5" fill="url(#pg7)"/>
<circle cx="598.0" cy="867.1" r="9.5" fill="url(#tg7)"/>
<circle cx="599.9" cy="874.9" r="9.4" fill="url(#pg7)"/>
<circle cx="624.4" cy="823.2" r="9.3" fill="url(#pg7)"/>
<circle cx="658.1" cy="805.5" r="9.3" fill="url(#tg7)"/>
<circle cx="666.7" cy="800.3" r="9.2" fill="url(#tg7)"/>
<circle cx="657.3" cy="902.2" r="9.2" fill="url(#tg7)"/>
<circle cx="665.2" cy="912.4" r="9.2" fill="url(#tg7)"/>
<circle cx="692.0" cy="885.5" r="9.1" fill="url(#pg7)"/>
<circle cx="705.7" cy="819.8" r="9.1" fill="url(#tg7)"/>
<circle cx="706.7" cy="892.7" r="9.0" fill="url(#pg7)"/>
<circle cx="682.4" cy="813.0" r="8.9" fill="url(#tg7)"/>
<circle cx="624.3" cy="809.2" r="8.8" fill="url(#pg7)"/>
<circle cx="635.8" cy="876.7" r="8.7" fill="url(#tg7)"/>
<circle cx="666.3" cy="901.0" r="8.7" fill="url(#tg7)"/>
<circle cx="620.2" cy="814.5" r="8.7" fill="url(#tg7)"/>
<circle cx="657.7" cy="799.3" r="8.7" fill="url(#pg7)"/>
<circle cx="690.4" cy="827.5" r="8.6" fill="url(#pg7)"/>
<circle cx="691.4" cy="902.1" r="8.6" fill="url(#pg7)"/>
<circle cx="635.3" cy="835.4" r="8.6" fill="url(#tg7)"/>
<circle cx="669.4" cy="915.9" r="8.6" fill="url(#tg7)"/>
<circle cx="611.1" cy="876.7" r="8.6" fill="url(#tg7)"/>
<circle cx="707.4" cy="861.3" r="8.5" fill="url(#pg7)"/>
<circle cx="676.6" cy="865.0" r="8.3" fill="url(#pg7)"/>
<circle cx="689.7" cy="806.6" r="8.3" fill="url(#tg7)"/>
<circle cx="695.1" cy="906.2" r="8.2" fill="url(#tg7)"/>
<circle cx="639.7" cy="827.8" r="8.1" fill="url(#tg7)"/>
<circle cx="610.8" cy="892.5" r="8.1" fill="url(#tg7)"/>
<circle cx="673.6" cy="900.3" r="8.1" fill="url(#pg7)"/>
<circle cx="674.0" cy="811.1" r="8.0" fill="url(#tg7)"/>
<circle cx="706.1" cy="864.6" r="7.9" fill="url(#tg7)"/>
<circle cx="715.0" cy="838.3" r="7.9" fill="url(#tg7)"/>
<circle cx="643.4" cy="800.4" r="7.8" fill="url(#pg7)"/>
<circle cx="596.0" cy="850.6" r="7.8" fill="url(#pg7)"/>
<circle cx="686.8" cy="911.3" r="7.8" fill="url(#tg7)"/>
<circle cx="660.1" cy="869.2" r="7.7" fill="url(#pg7)"/>
<circle cx="663.4" cy="807.8" r="7.7" fill="url(#tg7)"/>
<circle cx="720.4" cy="844.0" r="7.7" fill="url(#tg7)"/>
<circle cx="614.8" cy="878.8" r="7.6" fill="url(#tg7)"/>
<circle cx="624.9" cy="896.4" r="7.5" fill="url(#tg7)"/>
<circle cx="596.9" cy="844.5" r="7.5" fill="url(#tg7)"/>
<circle cx="668.6" cy="836.0" r="7.4" fill="url(#tg7)"/>
<circle cx="631.5" cy="874.3" r="7.4" fill="url(#pg7)"/>
<circle cx="608.9" cy="858.5" r="7.4" fill="url(#tg7)"/>
<circle cx="610.0" cy="881.8" r="7.2" fill="url(#pg7)"/>
<circle cx="695.9" cy="821.5" r="7.2" fill="url(#tg7)"/>
<circle cx="660.4" cy="860.7" r="7.1" fill="url(#tg7)"/>
<circle cx="698.6" cy="870.0" r="7.0" fill="url(#pg7)"/>
<circle cx="698.7" cy="815.1" r="6.9" fill="url(#tg7)"/>
<circle cx="701.5" cy="875.6" r="6.9" fill="url(#pg7)"/>
<circle cx="716.1" cy="830.8" r="6.9" fill="url(#tg7)"/>
<circle cx="664.3" cy="853.2" r="6.9" fill="url(#tg7)"/>
<circle cx="685.9" cy="829.5" r="6.9" fill="url(#pg7)"/>
<circle cx="641.3" cy="897.7" r="6.9" fill="url(#tg7)"/>
<circle cx="721.6" cy="870.9" r="6.8" fill="url(#tg7)"/>
<circle cx="600.7" cy="832.0" r="6.8" fill="url(#tg7)"/>
<circle cx="656.8" cy="832.6" r="6.7" fill="url(#tg7)"/>
<circle cx="657.8" cy="803.9" r="6.7" fill="url(#tg7)"/>
<circle cx="705.7" cy="899.4" r="6.7" fill="url(#tg7)"/>
<circle cx="613.7" cy="901.2" r="6.6" fill="url(#pg7)"/>
<circle cx="684.2" cy="835.6" r="6.6" fill="url(#pg7)"/>
<circle cx="702.9" cy="867.0" r="6.6" fill="url(#pg7)"/>
<circle cx="656.7" cy="819.7" r="6.5" fill="url(#tg7)"/>
<circle cx="708.2" cy="846.3" r="6.5" fill="url(#tg7)"/>
<circle cx="632.5" cy="858.7" r="6.5" fill="url(#tg7)"/>
<circle cx="668.3" cy="907.0" r="6.4" fill="url(#pg7)"/>
<circle cx="646.9" cy="917.9" r="6.2" fill="url(#tg7)"/>
<circle cx="703.7" cy="820.1" r="6.1" fill="url(#tg7)"/>
<circle cx="704.8" cy="846.2" r="6.1" fill="url(#pg7)"/>
<circle cx="609.6" cy="898.0" r="6.0" fill="url(#tg7)"/>
<circle cx="675.9" cy="904.8" r="6.0" fill="url(#tg7)"/>
<circle cx="690.0" cy="831.8" r="5.9" fill="url(#tg7)"/>
<circle cx="629.8" cy="810.3" r="5.8" fill="url(#tg7)"/>
<circle cx="647.0" cy="844.8" r="5.8" fill="url(#tg7)"/>
<circle cx="684.0" cy="863.6" r="5.8" fill="url(#pg7)"/>
<circle cx="679.0" cy="805.2" r="5.6" fill="url(#tg7)"/>
<circle cx="666.2" cy="891.9" r="5.6" fill="url(#tg7)"/>
<circle cx="652.6" cy="806.8" r="5.5" fill="url(#pg7)"/>
<circle cx="639.2" cy="861.1" r="5.4" fill="url(#tg7)"/>
<circle cx="634.2" cy="809.2" r="5.3" fill="url(#tg7)"/>
<circle cx="690.7" cy="865.8" r="5.3" fill="url(#tg7)"/>
<circle cx="664.9" cy="865.4" r="5.2" fill="url(#pg7)"/>
<circle cx="628.8" cy="810.1" r="5.2" fill="url(#tg7)"/>
<circle cx="695.0" cy="858.6" r="5.2" fill="url(#tg7)"/>
<circle cx="629.1" cy="887.4" r="5.2" fill="url(#tg7)"/>
<circle cx="672.6" cy="912.8" r="5.1" fill="url(#tg7)"/>
<circle cx="629.0" cy="830.4" r="5.1" fill="url(#pg7)"/>
<circle cx="659.7" cy="880.0" r="5.1" fill="url(#pg7)"/>
<circle cx="600.9" cy="850.7" r="4.9" fill="url(#tg7)"/>
<circle cx="622.1" cy="815.9" r="4.7" fill="url(#tg7)"/>
<circle cx="634.2" cy="873.5" r="4.6" fill="url(#pg7)"/>
<circle cx="670.1" cy="901.8" r="4.6" fill="url(#pg7)"/>
<circle cx="683.1" cy="809.2" r="4.5" fill="url(#pg7)"/>
<circle cx="672.8" cy="804.5" r="4.5" fill="url(#tg7)"/>
<circle cx="657.8" cy="860.2" r="4.4" fill="url(#tg7)"/>
<circle cx="659.3" cy="912.3" r="4.4" fill="url(#pg7)"/>
<circle cx="615.3" cy="869.2" r="4.3" fill="url(#tg7)"/>
<circle cx="646.0" cy="875.8" r="4.3" fill="url(#tg7)"/>
<circle cx="635.1" cy="863.6" r="4.2" fill="url(#tg7)"/>
<circle cx="655.0" cy="832.5" r="4.1" fill="url(#pg7)"/>
<circle cx="645.9" cy="885.4" r="4.0" fill="url(#pg7)"/>
<ellipse cx="668.0" cy="871.5" rx="11.3" ry="4.6" transform="rotate(29 668.0 871.5)" fill="url(#tg7)"/>
<ellipse cx="650.3" cy="873.9" rx="15.3" ry="3.3" transform="rotate(173 650.3 873.9)" fill="url(#pg7)"/>
<ellipse cx="679.4" cy="873.3" rx="15.9" ry="5.2" transform="rotate(78 679.4 873.3)" fill="url(#pg7)"/>
<ellipse cx="669.8" cy="889.2" rx="10.1" ry="4.2" transform="rotate(6 669.8 889.2)" fill="url(#tg7)"/>
<ellipse cx="629.1" cy="879.8" rx="13.0" ry="4.9" transform="rotate(83 629.1 879.8)" fill="url(#pg7)"/>
<ellipse cx="679.0" cy="883.0" rx="15.4" ry="5.7" transform="rotate(77 679.0 883.0)" fill="url(#tg7)"/>
<ellipse cx="626.8" cy="841.9" rx="10.3" ry="5.2" transform="rotate(158 626.8 841.9)" fill="url(#tg7)"/>
<ellipse cx="664.0" cy="823.8" rx="14.8" ry="4.9" transform="rotate(82 664.0 823.8)" fill="url(#pg7)"/>
<ellipse cx="646.1" cy="888.3" rx="12.2" ry="5.3" transform="rotate(128 646.1 888.3)" fill="url(#tg7)"/>
<ellipse cx="644.6" cy="842.9" rx="12.6" ry="4.9" transform="rotate(74 644.6 842.9)" fill="url(#tg7)"/>
<ellipse cx="640.7" cy="822.4" rx="14.5" ry="5.3" transform="rotate(70 640.7 822.4)" fill="url(#tg7)"/>
<ellipse cx="618.0" cy="860.6" rx="13.4" ry="3.5" transform="rotate(141 618.0 860.6)" fill="url(#tg7)"/>
<ellipse cx="686.6" cy="847.1" rx="13.7" ry="4.6" transform="rotate(129 686.6 847.1)" fill="url(#tg7)"/>
<ellipse cx="625.8" cy="855.5" rx="13.2" ry="4.2" transform="rotate(171 625.8 855.5)" fill="url(#pg7)"/>
<g fill="#d8d8d8" stroke="#7a7a7a" stroke-width="0.35"><circle cx="672.3" cy="910.5" r="1.0"/><circle cx="614.1" cy="893.8" r="1.0"/><circle cx="705.5" cy="903.2" r="1.0"/><circle cx="649.2" cy="870.3" r="1.0"/><circle cx="652.5" cy="899.0" r="1.0"/><circle cx="701.1" cy="861.5" r="1.0"/><circle cx="610.7" cy="884.2" r="1.0"/><circle cx="638.6" cy="885.0" r="1.0"/><circle cx="667.8" cy="913.7" r="1.0"/><circle cx="703.0" cy="840.5" r="1.0"/><circle cx="670.2" cy="915.6" r="1.0"/><circle cx="635.3" cy="877.0" r="1.0"/><circle cx="698.5" cy="899.9" r="1.0"/><circle cx="677.9" cy="809.4" r="1.0"/><circle cx="610.6" cy="867.5" r="1.0"/><circle cx="668.5" cy="921.6" r="1.0"/><circle cx="627.2" cy="899.8" r="1.0"/><circle cx="683.6" cy="804.2" r="1.0"/><circle cx="623.9" cy="865.1" r="1.0"/><circle cx="636.7" cy="851.1" r="1.0"/><circle cx="678.4" cy="824.2" r="1.0"/><circle cx="678.8" cy="830.7" r="1.0"/><circle cx="635.3" cy="881.2" r="1.0"/><circle cx="633.5" cy="870.7" r="1.0"/><circle cx="714.5" cy="858.9" r="1.0"/><circle cx="652.5" cy="889.8" r="1.0"/><circle cx="644.3" cy="901.0" r="1.0"/><circle cx="611.7" cy="880.7" r="1.0"/><circle cx="637.5" cy="824.8" r="1.0"/><circle cx="713.4" cy="831.8" r="1.0"/><circle cx="714.7" cy="878.9" r="1.0"/><circle cx="707.0" cy="825.6" r="1.0"/><circle cx="696.8" cy="904.1" r="1.0"/><circle cx="653.4" cy="852.0" r="1.0"/><circle cx="722.6" cy="862.6" r="1.0"/><circle cx="640.5" cy="830.8" r="1.0"/><circle cx="678.7" cy="872.7" r="1.0"/><circle cx="664.7" cy="915.5" r="1.0"/><circle cx="644.2" cy="879.1" r="1.0"/><circle cx="706.8" cy="824.9" r="1.0"/><circle cx="689.3" cy="911.8" r="1.0"/><circle cx="613.8" cy="821.5" r="1.0"/><circle cx="628.4" cy="804.0" r="1.0"/><circle cx="673.0" cy="799.7" r="1.0"/><circle cx="676.5" cy="909.6" r="1.0"/><circle cx="603.4" cy="847.1" r="1.0"/><circle cx="601.7" cy="881.2" r="1.0"/><circle cx="627.1" cy="846.6" r="1.0"/><circle cx="661.2" cy="882.3" r="1.0"/><circle cx="643.0" cy="858.7" r="1.0"/><circle cx="634.4" cy="863.1" r="1.0"/><circle cx="612.6" cy="860.5" r="1.0"/><circle cx="599.8" cy="843.0" r="1.0"/><circle cx="718.9" cy="860.5" r="1.0"/><circle cx="610.6" cy="867.8" r="1.0"/><circle cx="628.3" cy="806.2" r="1.0"/><circle cx="628.8" cy="888.0" r="1.0"/><circle cx="676.3" cy="853.6" r="1.0"/><circle cx="624.7" cy="818.3" r="1.0"/><circle cx="709.2" cy="867.1" r="1.0"/><circle cx="632.8" cy="800.3" r="1.0"/><circle cx="627.3" cy="914.8" r="1.0"/><circle cx="613.3" cy="855.0" r="1.0"/><circle cx="668.5" cy="850.8" r="1.0"/><circle cx="648.5" cy="807.2" r="1.0"/><circle cx="626.6" cy="909.7" r="1.0"/><circle cx="628.7" cy="891.7" r="1.0"/><circle cx="602.0" cy="848.8" r="1.0"/><circle cx="669.4" cy="899.9" r="1.0"/><circle cx="615.7" cy="880.9" r="1.0"/><circle cx="675.2" cy="826.6" r="1.0"/><circle cx="678.3" cy="821.2" r="1.0"/><circle cx="624.6" cy="857.2" r="1.0"/><circle cx="594.1" cy="855.4" r="1.0"/><circle cx="625.9" cy="809.8" r="1.0"/><circle cx="640.8" cy="890.2" r="1.0"/><circle cx="643.5" cy="905.8" r="1.0"/><circle cx="620.4" cy="814.5" r="1.0"/><circle cx="712.8" cy="871.9" r="1.0"/><circle cx="695.2" cy="826.1" r="1.0"/><circle cx="693.0" cy="869.0" r="1.0"/><circle cx="687.3" cy="859.1" r="1.0"/><circle cx="703.8" cy="833.8" r="1.0"/><circle cx="627.0" cy="809.2" r="1.0"/><circle cx="702.1" cy="830.5" r="1.0"/><circle cx="620.2" cy="823.3" r="1.0"/><circle cx="642.1" cy="810.2" r="1.0"/><circle cx="646.1" cy="830.6" r="1.0"/><circle cx="636.7" cy="819.5" r="1.0"/><circle cx="660.5" cy="837.2" r="1.0"/><circle cx="664.1" cy="869.4" r="1.0"/><circle cx="668.4" cy="796.1" r="1.0"/><circle cx="636.6" cy="825.0" r="1.0"/><circle cx="684.4" cy="805.8" r="1.0"/><circle cx="628.0" cy="845.3" r="1.0"/><circle cx="645.1" cy="898.3" r="1.0"/><circle cx="640.9" cy="897.1" r="1.0"/><circle cx="619.0" cy="808.7" r="1.0"/><circle cx="705.3" cy="874.6" r="1.0"/><circle cx="680.7" cy="863.5" r="1.0"/><circle cx="677.2" cy="811.8" r="1.0"/><circle cx="697.0" cy="836.6" r="1.0"/><circle cx="699.4" cy="861.6" r="1.0"/><circle cx="605.6" cy="823.3" r="1.0"/><circle cx="703.7" cy="852.6" r="1.0"/><circle cx="641.0" cy="869.0" r="1.0"/><circle cx="640.2" cy="834.2" r="1.0"/><circle cx="663.5" cy="864.7" r="1.0"/><circle cx="713.0" cy="859.6" r="1.0"/><circle cx="705.3" cy="902.6" r="1.0"/><circle cx="710.8" cy="890.1" r="1.0"/><circle cx="664.8" cy="864.3" r="1.0"/><circle cx="652.6" cy="826.3" r="1.0"/><circle cx="655.9" cy="829.8" r="1.0"/><circle cx="713.6" cy="875.9" r="1.0"/><circle cx="645.0" cy="799.0" r="1.0"/><circle cx="656.4" cy="839.1" r="1.0"/><circle cx="620.7" cy="818.1" r="1.0"/><circle cx="597.4" cy="873.5" r="1.0"/><circle cx="657.2" cy="922.3" r="1.0"/><circle cx="657.4" cy="851.1" r="1.0"/><circle cx="711.5" cy="862.9" r="1.0"/><circle cx="666.4" cy="841.1" r="1.0"/><circle cx="637.8" cy="909.9" r="1.0"/><circle cx="689.4" cy="910.5" r="1.0"/><circle cx="642.8" cy="859.4" r="1.0"/><circle cx="625.3" cy="894.7" r="1.0"/><circle cx="608.8" cy="878.3" r="1.0"/><circle cx="694.7" cy="904.2" r="1.0"/><circle cx="624.4" cy="897.9" r="1.0"/><circle cx="629.7" cy="827.2" r="1.0"/><circle cx="615.0" cy="896.2" r="1.0"/><circle cx="713.4" cy="838.3" r="1.0"/><circle cx="626.4" cy="843.6" r="1.0"/><circle cx="718.9" cy="882.1" r="1.0"/><circle cx="641.5" cy="800.9" r="1.0"/><circle cx="633.6" cy="902.4" r="1.0"/><circle cx="718.0" cy="849.6" r="1.0"/><circle cx="629.5" cy="836.4" r="1.0"/><circle cx="603.1" cy="884.8" r="1.0"/><circle cx="620.0" cy="896.0" r="1.0"/><circle cx="609.0" cy="821.0" r="1.0"/><circle cx="671.1" cy="825.4" r="1.0"/><circle cx="692.4" cy="858.4" r="1.0"/><circle cx="614.4" cy="881.5" r="1.0"/><circle cx="683.7" cy="801.5" r="1.0"/><circle cx="716.5" cy="873.7" r="1.0"/><circle cx="681.9" cy="801.5" r="1.0"/><circle cx="627.9" cy="843.0" r="1.0"/><circle cx="693.8" cy="810.6" r="1.0"/><circle cx="633.8" cy="800.6" r="1.0"/><circle cx="647.9" cy="873.7" r="1.0"/><circle cx="603.6" cy="838.6" r="1.0"/><circle cx="676.2" cy="912.0" r="1.0"/><circle cx="687.6" cy="844.8" r="1.0"/><circle cx="616.6" cy="824.4" r="1.0"/><circle cx="629.7" cy="864.4" r="1.0"/><circle cx="657.1" cy="914.8" r="1.0"/><circle cx="670.3" cy="815.1" r="1.0"/><circle cx="709.0" cy="888.8" r="1.0"/><circle cx="663.2" cy="826.7" r="1.0"/><circle cx="604.3" cy="828.2" r="1.0"/><circle cx="694.3" cy="826.7" r="1.0"/><circle cx="609.0" cy="865.4" r="1.0"/><circle cx="669.5" cy="884.7" r="1.0"/><circle cx="682.0" cy="907.8" r="1.0"/><circle cx="626.7" cy="895.4" r="1.0"/><circle cx="620.2" cy="885.1" r="1.0"/><circle cx="667.0" cy="869.1" r="1.0"/><circle cx="698.9" cy="857.3" r="1.0"/><circle cx="699.8" cy="890.2" r="1.0"/><circle cx="664.8" cy="832.8" r="1.0"/><circle cx="627.3" cy="835.9" r="1.0"/><circle cx="649.5" cy="856.9" r="1.0"/><circle cx="722.6" cy="871.7" r="1.0"/><circle cx="689.3" cy="823.9" r="1.0"/><circle cx="628.2" cy="844.3" r="1.0"/><circle cx="666.6" cy="815.9" r="1.0"/><circle cx="713.0" cy="839.1" r="1.0"/><circle cx="685.8" cy="799.6" r="1.0"/><circle cx="658.5" cy="870.8" r="1.0"/><circle cx="667.2" cy="884.6" r="1.0"/><circle cx="671.6" cy="865.4" r="1.0"/><circle cx="601.6" cy="836.4" r="1.0"/><circle cx="597.2" cy="874.5" r="1.0"/><circle cx="672.8" cy="849.1" r="1.0"/><circle cx="625.1" cy="834.1" r="1.0"/><circle cx="705.6" cy="901.9" r="1.0"/><circle cx="656.6" cy="907.2" r="1.0"/><circle cx="618.1" cy="808.4" r="1.0"/><circle cx="638.9" cy="822.0" r="1.0"/><circle cx="634.0" cy="866.4" r="1.0"/><circle cx="722.6" cy="844.1" r="1.0"/><circle cx="661.1" cy="870.7" r="1.0"/><circle cx="657.4" cy="896.9" r="1.0"/><circle cx="709.9" cy="822.2" r="1.0"/><circle cx="666.2" cy="845.9" r="1.0"/><circle cx="671.3" cy="804.2" r="1.0"/><circle cx="619.5" cy="806.2" r="1.0"/><circle cx="682.2" cy="866.6" r="1.0"/><circle cx="660.8" cy="794.5" r="1.0"/><circle cx="642.9" cy="825.9" r="1.0"/><circle cx="610.9" cy="827.0" r="1.0"/><circle cx="688.2" cy="880.9" r="1.0"/><circle cx="657.8" cy="881.1" r="1.0"/><circle cx="632.1" cy="861.2" r="1.0"/><circle cx="660.6" cy="882.7" r="1.0"/><circle cx="655.6" cy="851.4" r="1.0"/><circle cx="652.9" cy="829.7" r="1.0"/><circle cx="720.3" cy="872.2" r="1.0"/><circle cx="670.5" cy="920.3" r="1.0"/><circle cx="700.2" cy="812.1" r="1.0"/><circle cx="686.8" cy="891.7" r="1.0"/><circle cx="710.6" cy="894.2" r="1.0"/><circle cx="687.3" cy="814.5" r="1.0"/><circle cx="622.3" cy="869.3" r="1.0"/><circle cx="678.9" cy="817.4" r="1.0"/><circle cx="641.6" cy="840.1" r="1.0"/><circle cx="661.6" cy="873.4" r="1.0"/><circle cx="647.8" cy="810.5" r="1.0"/><circle cx="696.4" cy="906.3" r="1.0"/><circle cx="654.5" cy="899.8" r="1.0"/><circle cx="677.9" cy="886.3" r="1.0"/><circle cx="679.0" cy="825.9" r="1.0"/><circle cx="681.5" cy="897.9" r="1.0"/><circle cx="633.0" cy="914.7" r="1.0"/><circle cx="707.7" cy="900.6" r="1.0"/><circle cx="716.9" cy="879.7" r="1.0"/><circle cx="644.0" cy="831.8" r="1.0"/><circle cx="624.1" cy="863.0" r="1.0"/><circle cx="657.4" cy="887.4" r="1.0"/><circle cx="615.9" cy="907.1" r="1.0"/><circle cx="721.8" cy="857.2" r="1.0"/><circle cx="687.6" cy="878.3" r="1.0"/><circle cx="671.3" cy="848.5" r="1.0"/><circle cx="653.6" cy="822.9" r="1.0"/><circle cx="667.0" cy="856.9" r="1.0"/><circle cx="672.2" cy="822.2" r="1.0"/><circle cx="660.6" cy="860.2" r="1.0"/><circle cx="682.3" cy="816.6" r="1.0"/><circle cx="675.8" cy="897.8" r="1.0"/><circle cx="684.9" cy="841.9" r="1.0"/><circle cx="636.8" cy="847.4" r="1.0"/><circle cx="683.3" cy="910.1" r="1.0"/><circle cx="651.9" cy="829.8" r="1.0"/><circle cx="675.8" cy="867.3" r="1.0"/><circle cx="623.0" cy="828.9" r="1.0"/><circle cx="654.4" cy="887.4" r="1.0"/><circle cx="616.9" cy="822.2" r="1.0"/><circle cx="677.7" cy="811.7" r="1.0"/><circle cx="663.8" cy="874.1" r="1.0"/><circle cx="654.3" cy="816.4" r="1.0"/><circle cx="656.1" cy="842.8" r="1.0"/><circle cx="672.9" cy="822.8" r="1.0"/><circle cx="692.1" cy="806.9" r="1.0"/><circle cx="650.7" cy="858.4" r="1.0"/><circle cx="697.0" cy="833.8" r="1.0"/><circle cx="682.3" cy="833.6" r="1.0"/><circle cx="682.2" cy="913.0" r="1.0"/><circle cx="641.0" cy="877.6" r="1.0"/><circle cx="623.9" cy="894.6" r="1.0"/><circle cx="706.0" cy="859.4" r="1.0"/><circle cx="614.4" cy="873.7" r="1.0"/><circle cx="699.0" cy="896.1" r="1.0"/><circle cx="683.6" cy="802.3" r="1.0"/><circle cx="635.0" cy="907.9" r="1.0"/><circle cx="617.0" cy="896.5" r="1.0"/><circle cx="715.6" cy="881.0" r="1.0"/><circle cx="703.0" cy="844.9" r="1.0"/><circle cx="611.2" cy="854.0" r="1.0"/><circle cx="649.6" cy="855.8" r="1.0"/><circle cx="689.2" cy="851.7" r="1.0"/><circle cx="667.5" cy="877.1" r="1.0"/><circle cx="658.6" cy="917.3" r="1.0"/><circle cx="678.8" cy="861.8" r="1.0"/><circle cx="649.7" cy="830.5" r="1.0"/><circle cx="709.2" cy="863.6" r="1.0"/><circle cx="616.8" cy="836.1" r="1.0"/><circle cx="652.6" cy="837.9" r="1.0"/><circle cx="696.7" cy="817.4" r="1.0"/><circle cx="680.9" cy="864.4" r="1.0"/><circle cx="612.5" cy="859.9" r="1.0"/><circle cx="654.6" cy="880.5" r="1.0"/><circle cx="638.7" cy="871.6" r="1.0"/><circle cx="607.8" cy="824.8" r="1.0"/><circle cx="688.7" cy="897.6" r="1.0"/><circle cx="658.2" cy="831.4" r="1.0"/><circle cx="688.0" cy="801.6" r="1.0"/><circle cx="626.3" cy="885.4" r="1.0"/><circle cx="684.2" cy="817.8" r="1.0"/><circle cx="608.4" cy="896.8" r="1.0"/><circle cx="665.2" cy="820.4" r="1.0"/><circle cx="661.1" cy="895.9" r="1.0"/><circle cx="599.1" cy="883.6" r="1.0"/><circle cx="679.8" cy="799.0" r="1.0"/><circle cx="682.8" cy="802.6" r="1.0"/><circle cx="703.3" cy="873.6" r="1.0"/><circle cx="720.0" cy="841.4" r="1.0"/><circle cx="659.0" cy="900.6" r="1.0"/><circle cx="632.2" cy="828.7" r="1.0"/></g>
<rect x="700" y="676.25" width="28.75" height="28.75" fill="none" stroke="#333" stroke-width="0.8" stroke-dasharray="2,1.5"/>
<path d="M729,688 L801,679" stroke="#222" stroke-width="1.1"/><polygon points="808,678.2 800,675.5 800.8,682.5" fill="#111"/>
<rect x="808" y="634.5" width="163.5" height="150" fill="none" stroke="#222" stroke-width="1.5" stroke-dasharray="4,2.5"/>
<path d="M950.0,766.2 L966.2,726.2 M908.8,757.5 L940.0,735.0 M894.5,655.0 L917.5,665.0 M892.5,675.0 L878.0,700.0 M813.8,731.2 L848.8,740.0 M817.0,690.0 L813.8,731.2 M813.8,731.2 L823.8,775.0 M863.8,777.5 L875.0,760.0 M813.8,731.2 L812.5,700.0 M942.5,673.8 L965.0,697.5 M813.8,731.2 L830.0,718.0 M894.5,655.0 L925.0,690.0 M853.8,696.2 L830.0,718.0 M865.0,647.5 L892.5,675.0 M930.0,770.0 L950.0,766.2 M853.8,696.2 L812.5,700.0 M838.8,656.2 L853.8,696.2 M865.0,647.5 L894.5,655.0 M930.0,770.0 L966.2,745.0 M930.0,770.0 L940.0,735.0 M900.0,715.0 L908.8,757.5 M848.8,740.0 L886.2,753.8 M965.0,697.5 L966.2,726.2 M900.0,715.0 L878.0,700.0 M848.8,740.0 L863.8,777.5 M848.8,740.0 L875.0,760.0 M908.8,757.5 L930.0,770.0 M908.8,757.5 L863.8,777.5 M908.8,757.5 L875.0,760.0 M817.0,690.0 L853.8,696.2 M917.5,665.0 L925.0,690.0 M894.5,655.0 L892.5,675.0 M817.0,690.0 L850.0,711.2 M966.2,745.0 L940.0,735.0 M886.2,753.8 L908.8,757.5 M812.5,700.0 L830.0,718.0 M966.2,726.2 L940.0,735.0 M894.5,655.0 L878.0,700.0 M838.8,656.2 L817.0,690.0 M865.0,647.5 L838.8,656.2 M965.0,697.5 L957.5,727.5 M853.8,696.2 L878.0,700.0 M900.0,715.0 L886.2,753.8 M850.0,711.2 L848.8,740.0 M965.0,697.5 L925.0,690.0 M823.8,775.0 L863.8,777.5 M850.0,711.2 L812.5,700.0 M848.8,740.0 L823.8,775.0 M892.5,675.0 L917.5,665.0 M850.0,711.2 L830.0,718.0 M957.5,727.5 L966.2,745.0 M892.5,675.0 L900.0,715.0 M957.5,727.5 L950.0,766.2 M848.8,740.0 L830.0,718.0 M950.0,766.2 L966.2,745.0 M957.5,727.5 L940.0,735.0 M966.2,745.0 L966.2,726.2 M892.5,675.0 L925.0,690.0 M950.0,766.2 L940.0,735.0 M853.8,696.2 L850.0,711.2 M886.2,753.8 L930.0,770.0 M817.0,690.0 L812.5,700.0 M886.2,753.8 L863.8,777.5 M886.2,753.8 L875.0,760.0 M817.0,690.0 L830.0,718.0 M850.0,711.2 L813.8,731.2 M942.5,673.8 L925.0,690.0 M965.0,697.5 L940.0,735.0 M850.0,711.2 L878.0,700.0 M900.0,715.0 L925.0,690.0 M908.8,757.5 L950.0,766.2 M917.5,665.0 L942.5,673.8 M957.5,727.5 L966.2,726.2" stroke="#606060" stroke-width="3.2" fill="none" stroke-linecap="round"/>
<path d="M950.0,766.2 L966.2,726.2 M908.8,757.5 L940.0,735.0 M894.5,655.0 L917.5,665.0 M892.5,675.0 L878.0,700.0 M813.8,731.2 L848.8,740.0 M817.0,690.0 L813.8,731.2 M813.8,731.2 L823.8,775.0 M863.8,777.5 L875.0,760.0 M813.8,731.2 L812.5,700.0 M942.5,673.8 L965.0,697.5 M813.8,731.2 L830.0,718.0 M894.5,655.0 L925.0,690.0 M853.8,696.2 L830.0,718.0 M865.0,647.5 L892.5,675.0 M930.0,770.0 L950.0,766.2 M853.8,696.2 L812.5,700.0 M838.8,656.2 L853.8,696.2 M865.0,647.5 L894.5,655.0 M930.0,770.0 L966.2,745.0 M930.0,770.0 L940.0,735.0 M900.0,715.0 L908.8,757.5 M848.8,740.0 L886.2,753.8 M965.0,697.5 L966.2,726.2 M900.0,715.0 L878.0,700.0 M848.8,740.0 L863.8,777.5 M848.8,740.0 L875.0,760.0 M908.8,757.5 L930.0,770.0 M908.8,757.5 L863.8,777.5 M908.8,757.5 L875.0,760.0 M817.0,690.0 L853.8,696.2 M917.5,665.0 L925.0,690.0 M894.5,655.0 L892.5,675.0 M817.0,690.0 L850.0,711.2 M966.2,745.0 L940.0,735.0 M886.2,753.8 L908.8,757.5 M812.5,700.0 L830.0,718.0 M966.2,726.2 L940.0,735.0 M894.5,655.0 L878.0,700.0 M838.8,656.2 L817.0,690.0 M865.0,647.5 L838.8,656.2 M965.0,697.5 L957.5,727.5 M853.8,696.2 L878.0,700.0 M900.0,715.0 L886.2,753.8 M850.0,711.2 L848.8,740.0 M965.0,697.5 L925.0,690.0 M823.8,775.0 L863.8,777.5 M850.0,711.2 L812.5,700.0 M848.8,740.0 L823.8,775.0 M892.5,675.0 L917.5,665.0 M850.0,711.2 L830.0,718.0 M957.5,727.5 L966.2,745.0 M892.5,675.0 L900.0,715.0 M957.5,727.5 L950.0,766.2 M848.8,740.0 L830.0,718.0 M950.0,766.2 L966.2,745.0 M957.5,727.5 L940.0,735.0 M966.2,745.0 L966.2,726.2 M892.5,675.0 L925.0,690.0 M950.0,766.2 L940.0,735.0 M853.8,696.2 L850.0,711.2 M886.2,753.8 L930.0,770.0 M817.0,690.0 L812.5,700.0 M886.2,753.8 L863.8,777.5 M886.2,753.8 L875.0,760.0 M817.0,690.0 L830.0,718.0 M850.0,711.2 L813.8,731.2 M942.5,673.8 L925.0,690.0 M965.0,697.5 L940.0,735.0 M850.0,711.2 L878.0,700.0 M900.0,715.0 L925.0,690.0 M908.8,757.5 L950.0,766.2 M917.5,665.0 L942.5,673.8 M957.5,727.5 L966.2,726.2" stroke="#c8c8c8" stroke-width="1.5" fill="none" stroke-linecap="round"/>
<circle cx="865.0" cy="647.5" r="2.8" fill="#d0d0d0" stroke="#6a6a6a" stroke-width="0.7"/>
<circle cx="838.8" cy="656.2" r="2.8" fill="#d0d0d0" stroke="#6a6a6a" stroke-width="0.7"/>
<circle cx="894.5" cy="655.0" r="2.8" fill="#d0d0d0" stroke="#6a6a6a" stroke-width="0.7"/>
<circle cx="817.0" cy="690.0" r="2.8" fill="#d0d0d0" stroke="#6a6a6a" stroke-width="0.7"/>
<circle cx="853.8" cy="696.2" r="2.8" fill="#d0d0d0" stroke="#6a6a6a" stroke-width="0.7"/>
<circle cx="892.5" cy="675.0" r="2.8" fill="#d0d0d0" stroke="#6a6a6a" stroke-width="0.7"/>
<circle cx="917.5" cy="665.0" r="2.8" fill="#d0d0d0" stroke="#6a6a6a" stroke-width="0.7"/>
<circle cx="942.5" cy="673.8" r="2.8" fill="#d0d0d0" stroke="#6a6a6a" stroke-width="0.7"/>
<circle cx="965.0" cy="697.5" r="2.8" fill="#d0d0d0" stroke="#6a6a6a" stroke-width="0.7"/>
<circle cx="900.0" cy="715.0" r="2.8" fill="#d0d0d0" stroke="#6a6a6a" stroke-width="0.7"/>
<circle cx="850.0" cy="711.2" r="2.8" fill="#d0d0d0" stroke="#6a6a6a" stroke-width="0.7"/>
<circle cx="813.8" cy="731.2" r="2.8" fill="#d0d0d0" stroke="#6a6a6a" stroke-width="0.7"/>
<circle cx="848.8" cy="740.0" r="2.8" fill="#d0d0d0" stroke="#6a6a6a" stroke-width="0.7"/>
<circle cx="886.2" cy="753.8" r="2.8" fill="#d0d0d0" stroke="#6a6a6a" stroke-width="0.7"/>
<circle cx="908.8" cy="757.5" r="2.8" fill="#d0d0d0" stroke="#6a6a6a" stroke-width="0.7"/>
<circle cx="957.5" cy="727.5" r="2.8" fill="#d0d0d0" stroke="#6a6a6a" stroke-width="0.7"/>
<circle cx="930.0" cy="770.0" r="2.8" fill="#d0d0d0" stroke="#6a6a6a" stroke-width="0.7"/>
<circle cx="950.0" cy="766.2" r="2.8" fill="#d0d0d0" stroke="#6a6a6a" stroke-width="0.7"/>
<circle cx="823.8" cy="775.0" r="2.8" fill="#d0d0d0" stroke="#6a6a6a" stroke-width="0.7"/>
<circle cx="863.8" cy="777.5" r="2.8" fill="#d0d0d0" stroke="#6a6a6a" stroke-width="0.7"/>
<circle cx="966.2" cy="745.0" r="2.8" fill="#d0d0d0" stroke="#6a6a6a" stroke-width="0.7"/>
<circle cx="812.5" cy="700.0" r="2.8" fill="#d0d0d0" stroke="#6a6a6a" stroke-width="0.7"/>
<circle cx="966.2" cy="726.2" r="2.8" fill="#d0d0d0" stroke="#6a6a6a" stroke-width="0.7"/>
<circle cx="878.0" cy="700.0" r="2.8" fill="#d0d0d0" stroke="#6a6a6a" stroke-width="0.7"/>
<circle cx="830.0" cy="718.0" r="2.8" fill="#d0d0d0" stroke="#6a6a6a" stroke-width="0.7"/>
<circle cx="875.0" cy="760.0" r="2.8" fill="#d0d0d0" stroke="#6a6a6a" stroke-width="0.7"/>
<circle cx="940.0" cy="735.0" r="2.8" fill="#d0d0d0" stroke="#6a6a6a" stroke-width="0.7"/>
<circle cx="925.0" cy="690.0" r="2.8" fill="#d0d0d0" stroke="#6a6a6a" stroke-width="0.7"/>
<path d="M872.5,680 L851.25,707.5 L856.25,739.5 L890,725 M905,701.25 L922.5,706.25 L935,710 M915,692.5 L912.5,717.5" stroke="#d88ac0" stroke-width="2.2" fill="none"/>
<circle cx="872.5" cy="680.0" r="3.8" fill="url(#pball)"/>
<circle cx="851.2" cy="707.5" r="3.8" fill="url(#pball)"/>
<circle cx="856.2" cy="739.5" r="3.8" fill="url(#pball)"/>
<circle cx="922.5" cy="706.2" r="3.8" fill="url(#pball)"/>
<circle cx="905.0" cy="701.2" r="3.8" fill="url(#pball)"/>
<circle cx="935.0" cy="710.0" r="3.8" fill="url(#pball)"/>
<circle cx="915.0" cy="692.5" r="3.8" fill="url(#pball)"/>
<circle cx="890.0" cy="725.0" r="3.8" fill="url(#pball)"/>
<circle cx="912.5" cy="717.5" r="3.8" fill="url(#pball)"/>
<circle cx="853.75" cy="742.5" r="39.6" fill="none" stroke="#b8282a" stroke-width="1.4" stroke-dasharray="3,2"/>
<circle cx="918.75" cy="710" r="43.75" fill="none" stroke="#b8282a" stroke-width="1.4" stroke-dasharray="3,2"/>
<text x="868.00" y="673.00" font-size="8.00" text-anchor="middle" font-weight="bold" font-style="normal" fill="#f0b400" >&lt;0,2,8,2&gt;</text>
<text x="926.25" y="687.50" font-size="8.00" text-anchor="middle" font-weight="bold" font-style="normal" fill="#f09a20" >&lt;0,1,10,2&gt;</text>
<text x="895.60" y="695.50" font-size="8.00" text-anchor="middle" font-weight="bold" font-style="normal" fill="#f0b400" >&lt;0,2,8,2&gt;</text>
<text x="940.50" y="701.50" font-size="8.00" text-anchor="middle" font-weight="bold" font-style="normal" fill="#e81010" >&lt;0,0,12,0&gt;</text>
<text x="853.75" y="718.00" font-size="8.00" text-anchor="middle" font-weight="bold" font-style="normal" fill="#f09a20" >&lt;0,1,10,2&gt;</text>
<text x="951.75" y="717.50" font-size="8.00" text-anchor="middle" font-weight="bold" font-style="normal" fill="#f09a20" >&lt;0,1,10,2&gt;</text>
<text x="917.50" y="729.00" font-size="8.00" text-anchor="middle" font-weight="bold" font-style="normal" fill="#f0b400" >&lt;0,2,8,2&gt;</text>
<text x="888.00" y="736.75" font-size="8.00" text-anchor="middle" font-weight="bold" font-style="normal" fill="#f0b400" >&lt;0,2,8,2&gt;</text>
<text x="853.75" y="751.50" font-size="8.00" text-anchor="middle" font-weight="bold" font-style="normal" fill="#e81010" >&lt;0,0,12,0&gt;</text>
<text x="943.00" y="743.00" font-size="8.00" text-anchor="middle" font-weight="bold" font-style="normal" fill="#f09a20" >&lt;0,1,10,2&gt;</text>
<path d="M836.25,785 L824.5,809" stroke="#111" stroke-width="1.1"/><polygon points="822.5,814.5 821,806 828,809" fill="#111"/>
<path d="M928.75,780 L944,812" stroke="#111" stroke-width="1.1"/><polygon points="946.25,817.5 940.5,811.5 947.5,808.5" fill="#111"/>
<polygon points="790.0,857.5 818.8,824.5 877.5,838.8 871.2,875.0 848.8,908.8 810.0,901.2 791.2,886.2" fill="#f2f2f2"/>
<path d="M818.8,824.5 L802.5,843.8 M818.8,824.5 L877.5,838.8 M818.8,824.5 L832.5,865.0 M818.8,824.5 L842.5,840.0 M877.5,838.8 L842.5,840.0 M877.5,838.8 L832.5,865.0 M877.5,838.8 L867.5,871.2 M877.5,838.8 L871.2,875.0 M802.5,843.8 L790.0,857.5 M802.5,843.8 L842.5,840.0 M790.0,857.5 L791.2,886.2 M790.0,857.5 L832.5,865.0 M790.0,857.5 L828.8,863.2 M842.5,840.0 L867.5,871.2 M842.5,840.0 L828.8,863.2 M832.5,865.0 L871.2,875.0 M832.5,865.0 L810.0,901.2 M832.5,865.0 L867.5,871.2 M791.2,886.2 L810.0,901.2 M791.2,886.2 L828.8,887.0 M791.2,886.2 L871.2,875.0 M810.0,901.2 L848.8,908.8 M848.8,908.8 L871.2,875.0 M828.8,887.0 L848.8,908.8 M828.8,887.0 L828.8,863.2 M828.8,863.2 L867.5,871.2 M828.8,887.0 L871.2,875.0 M802.5,843.8 L828.8,863.2 M810.0,901.2 L828.8,887.0 M790.0,857.5 L810.0,901.2" stroke="#5a2a68" stroke-width="1.3" fill="none"/>
<polygon points="901.2,876.2 911.2,837.5 947.5,823.8 982.5,845.5 982.5,892.5 930.0,916.2" fill="#f2f2f2"/>
<path d="M947.5,823.8 L911.2,837.5 M947.5,823.8 L952.5,842.0 M947.5,823.8 L982.5,845.5 M911.2,837.5 L952.5,842.0 M952.5,842.0 L982.5,845.5 M911.2,837.5 L901.2,876.2 M911.2,837.5 L917.5,877.5 M911.2,837.5 L928.8,854.5 M952.5,842.0 L928.8,854.5 M952.5,842.0 L917.5,877.5 M952.5,842.0 L965.0,882.5 M982.5,845.5 L965.0,882.5 M982.5,845.5 L982.5,892.5 M901.2,876.2 L917.5,877.5 M917.5,877.5 L965.0,882.5 M965.0,882.5 L982.5,892.5 M901.2,876.2 L930.0,916.2 M917.5,877.5 L930.0,916.2 M917.5,877.5 L947.5,905.0 M965.0,882.5 L947.5,905.0 M982.5,892.5 L947.5,905.0 M947.5,905.0 L930.0,916.2 M982.5,892.5 L930.0,916.2 M982.5,845.5 L971.2,865.0 M947.5,823.8 L928.8,854.5 M901.2,876.2 L947.5,905.0 M928.8,854.5 L943.8,866.2 M943.8,866.2 L965.0,882.5" stroke="#5a2a68" stroke-width="1.3" fill="none"/>
<circle cx="818.8" cy="824.5" r="8.3" fill="url(#pball)"/>
<circle cx="877.5" cy="838.8" r="8.3" fill="url(#pball)"/>
<circle cx="832.5" cy="865.0" r="8.3" fill="url(#pball)"/>
<circle cx="790.0" cy="857.5" r="2" fill="#fff" stroke="#999" stroke-width="0.7"/>
<circle cx="802.5" cy="843.8" r="2" fill="#fff" stroke="#999" stroke-width="0.7"/>
<circle cx="842.5" cy="840.0" r="2" fill="#fff" stroke="#999" stroke-width="0.7"/>
<circle cx="828.8" cy="863.2" r="2" fill="#fff" stroke="#999" stroke-width="0.7"/>
<circle cx="791.2" cy="886.2" r="2" fill="#fff" stroke="#999" stroke-width="0.7"/>
<circle cx="828.8" cy="887.0" r="2" fill="#fff" stroke="#999" stroke-width="0.7"/>
<circle cx="867.5" cy="871.2" r="2" fill="#fff" stroke="#999" stroke-width="0.7"/>
<circle cx="871.2" cy="875.0" r="2" fill="#fff" stroke="#999" stroke-width="0.7"/>
<circle cx="810.0" cy="901.2" r="2" fill="#fff" stroke="#999" stroke-width="0.7"/>
<circle cx="848.8" cy="908.8" r="2" fill="#fff" stroke="#999" stroke-width="0.7"/>
<circle cx="928.8" cy="854.5" r="8.3" fill="url(#pball)"/>
<circle cx="943.8" cy="866.2" r="8.3" fill="url(#pball)"/>
<circle cx="971.2" cy="865.0" r="8.3" fill="url(#pball)"/>
<circle cx="947.5" cy="823.8" r="2" fill="#fff" stroke="#999" stroke-width="0.7"/>
<circle cx="911.2" cy="837.5" r="2" fill="#fff" stroke="#999" stroke-width="0.7"/>
<circle cx="952.5" cy="842.0" r="2" fill="#fff" stroke="#999" stroke-width="0.7"/>
<circle cx="982.5" cy="845.5" r="2" fill="#fff" stroke="#999" stroke-width="0.7"/>
<circle cx="901.2" cy="876.2" r="2" fill="#fff" stroke="#999" stroke-width="0.7"/>
<circle cx="917.5" cy="877.5" r="2" fill="#fff" stroke="#999" stroke-width="0.7"/>
<circle cx="965.0" cy="882.5" r="2" fill="#fff" stroke="#999" stroke-width="0.7"/>
<circle cx="982.5" cy="892.5" r="2" fill="#fff" stroke="#999" stroke-width="0.7"/>
<circle cx="947.5" cy="905.0" r="2" fill="#fff" stroke="#999" stroke-width="0.7"/>
<circle cx="930.0" cy="916.2" r="2" fill="#fff" stroke="#999" stroke-width="0.7"/>
<text x="831.90" y="927.50" font-size="12.50" text-anchor="middle" font-weight="bold" font-style="normal" fill="#e81010" >&lt;0,0,12,0&gt;</text>
<text x="945.00" y="927.50" font-size="12.50" text-anchor="middle" font-weight="bold" font-style="normal" fill="#e81010" >&lt;0,0,12,0&gt;</text>
</svg></body></html>
